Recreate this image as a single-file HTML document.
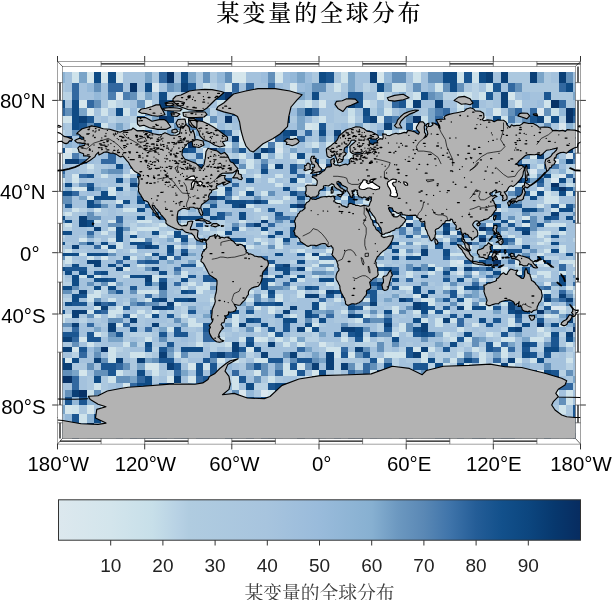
<!DOCTYPE html>
<html><head><meta charset="utf-8"><style>
html,body{margin:0;padding:0;background:#fff;width:612px;height:600px;overflow:hidden}
svg{display:block}
.ax{font-family:"Liberation Sans", Arial, Helvetica, sans-serif;font-size:20.4px;fill:#000}
.cb{font-family:"Liberation Sans", Arial, Helvetica, sans-serif;font-size:19px;fill:#222}
.t1{font-family:"Liberation Serif", "Noto Serif CJK SC", serif;font-size:23px;font-weight:500;letter-spacing:2.85px;fill:#000}
.t2{font-family:"Liberation Serif", "Noto Serif CJK SC", serif;font-size:18.75px;fill:#3a3a3a}
</style></head><body>
<svg width="612" height="600" viewBox="0 0 612 600">
<defs>
<clipPath id="ci"><rect x="62.4" y="66.4" width="513" height="372"/></clipPath>
<clipPath id="co"><rect x="57.5" y="61.3" width="523.1" height="382.8"/></clipPath>
<linearGradient id="cbg" x1="0" x2="1" y1="0" y2="0"><stop offset="0.000" stop-color="#dce8ee"/><stop offset="0.100" stop-color="#d3e5ec"/><stop offset="0.180" stop-color="#c7dfe9"/><stop offset="0.230" stop-color="#b7d1e4"/><stop offset="0.250" stop-color="#b0cce0"/><stop offset="0.400" stop-color="#a7c4de"/><stop offset="0.500" stop-color="#99bbdb"/><stop offset="0.600" stop-color="#87b0d1"/><stop offset="0.650" stop-color="#6c98c0"/><stop offset="0.700" stop-color="#5a88b5"/><stop offset="0.750" stop-color="#3f74aa"/><stop offset="0.800" stop-color="#245d97"/><stop offset="0.850" stop-color="#12508b"/><stop offset="0.900" stop-color="#0c467f"/><stop offset="0.950" stop-color="#07386e"/><stop offset="1.000" stop-color="#072c60"/></linearGradient>
</defs>
<text x="320" y="20.9" text-anchor="middle" class="t1">某变量的全球分布</text>
<g clip-path="url(#ci)" shape-rendering="crispEdges"><path fill="#dae7ee" d="M151.9,82.6H159.2V91.8H151.9ZM115.6,91.8H122.9V100.4H115.6ZM173.7,108.4H181V115.9H173.7ZM268.2,108.4H275.4V115.9H268.2ZM536.9,108.4H544.2V115.9H536.9ZM181,115.9H188.2V122.9H181ZM478.8,115.9H486.1V122.9H478.8ZM151.9,122.9H159.2V129.6H151.9ZM413.4,122.9H420.7V129.6H413.4ZM442.5,122.9H449.8V129.6H442.5ZM558.7,122.9H566V129.6H558.7ZM86.6,129.6H93.8V135.9H86.6ZM449.8,129.6H457V135.9H449.8ZM493.3,129.6H500.6V135.9H493.3ZM239.1,135.9H246.4V142H239.1ZM268.2,135.9H275.4V142H268.2ZM377.1,135.9H384.4V142H377.1ZM406.2,135.9H413.4V142H406.2ZM551.4,135.9H558.7V142H551.4ZM108.3,142H115.6V147.7H108.3ZM64.8,147.7H72V153.2H64.8ZM86.6,147.7H93.8V153.2H86.6ZM130.1,147.7H137.4V153.2H130.1ZM202.8,147.7H210V153.2H202.8ZM275.4,147.7H282.7V153.2H275.4ZM348.1,147.7H355.3V153.2H348.1ZM478.8,147.7H486.1V153.2H478.8ZM522.4,147.7H529.7V153.2H522.4ZM173.7,153.2H181V158.6H173.7ZM398.9,153.2H406.2V158.6H398.9ZM566,153.2H573.2V158.6H566ZM435.2,158.6H442.5V163.7H435.2ZM486.1,158.6H493.3V163.7H486.1ZM551.4,158.6H558.7V163.7H551.4ZM188.2,163.7H195.5V168.6H188.2ZM319,163.7H326.3V168.6H319ZM340.8,163.7H348.1V168.6H340.8ZM130.1,168.6H137.4V173.5H130.1ZM369.8,168.6H377.1V173.5H369.8ZM529.7,168.6H536.9V173.5H529.7ZM420.7,173.5H428V178.1H420.7ZM558.7,173.5H566V178.1H558.7ZM151.9,178.1H159.2V182.7H151.9ZM195.5,178.1H202.8V182.7H195.5ZM326.3,178.1H333.5V182.7H326.3ZM340.8,178.1H348.1V182.7H340.8ZM551.4,178.1H558.7V182.7H551.4ZM188.2,182.7H195.5V187.1H188.2ZM210,182.7H217.3V187.1H210ZM304.5,182.7H311.7V187.1H304.5ZM348.1,182.7H355.3V187.1H348.1ZM522.4,182.7H529.7V187.1H522.4ZM159.2,187.1H166.5V191.4H159.2ZM486.1,187.1H493.3V191.4H486.1ZM507.9,187.1H515.1V191.4H507.9ZM536.9,187.1H544.2V191.4H536.9ZM159.2,195.6H166.5V199.8H159.2ZM420.7,199.8H428V203.9H420.7ZM442.5,199.8H449.8V203.9H442.5ZM173.7,203.9H181V207.9H173.7ZM188.2,203.9H195.5V207.9H188.2ZM355.3,203.9H362.6V207.9H355.3ZM304.5,207.9H311.7V211.8H304.5ZM340.8,207.9H348.1V211.8H340.8ZM406.2,207.9H413.4V211.8H406.2ZM493.3,207.9H500.6V211.8H493.3ZM391.6,211.8H398.9V215.7H391.6ZM464.3,211.8H471.5V215.7H464.3ZM166.5,215.7H173.7V219.5H166.5ZM406.2,219.5H413.4V223.3H406.2ZM377.1,223.3H384.4V227.1H377.1ZM486.1,223.3H493.3V227.1H486.1ZM348.1,230.8H355.3V234.5H348.1ZM188.2,234.5H195.5V238.1H188.2ZM384.4,234.5H391.6V238.1H384.4ZM217.3,238.1H224.6V241.8H217.3ZM311.7,238.1H319V241.8H311.7ZM333.5,241.8H340.8V245.4H333.5ZM217.3,245.4H224.6V249.1H217.3ZM464.3,245.4H471.5V249.1H464.3ZM231.8,249.1H239.1V252.7H231.8ZM478.8,249.1H486.1V252.7H478.8ZM210,252.7H217.3V256.3H210ZM231.8,256.3H239.1V260H231.8ZM493.3,256.3H500.6V260H493.3ZM457,260H464.3V263.6H457ZM515.1,260H522.4V263.6H515.1ZM536.9,260H544.2V263.6H536.9ZM355.3,267.3H362.6V270.9H355.3ZM500.6,267.3H507.9V270.9H500.6ZM239.1,270.9H246.4V274.6H239.1ZM362.6,270.9H369.8V274.6H362.6ZM457,270.9H464.3V274.6H457ZM471.5,270.9H478.8V274.6H471.5ZM340.8,274.6H348.1V278.3H340.8ZM231.8,278.3H239.1V282.1H231.8ZM478.8,278.3H486.1V282.1H478.8ZM544.2,282.1H551.4V285.9H544.2ZM239.1,285.9H246.4V289.7H239.1ZM507.9,285.9H515.1V289.7H507.9ZM522.4,301.5H529.7V305.6H522.4ZM551.4,305.6H558.7V309.8H551.4ZM558.7,305.6H566V309.8H558.7ZM391.6,369.5H398.9V375.8H391.6ZM536.9,369.5H544.2V375.8H536.9ZM304.5,375.8H311.7V382.5H304.5ZM340.8,375.8H348.1V382.5H340.8ZM406.2,375.8H413.4V382.5H406.2ZM435.2,382.5H442.5V389.5H435.2ZM478.8,382.5H486.1V389.5H478.8ZM493.3,382.5H500.6V389.5H493.3ZM239.1,389.5H246.4V397H239.1ZM260.9,389.5H268.2V397H260.9ZM355.3,389.5H362.6V397H355.3ZM173.7,397H181V405H173.7ZM188.2,397H195.5V405H188.2ZM210,397H217.3V405H210ZM304.5,397H311.7V405H304.5ZM406.2,397H413.4V405H406.2ZM428,397H435.2V405H428ZM166.5,413.6H173.7V422.8H166.5ZM304.5,413.6H311.7V422.8H304.5ZM428,413.6H435.2V422.8H428ZM101.1,422.8H108.3V433H101.1ZM137.4,422.8H144.7V433H137.4ZM319,422.8H326.3V433H319ZM377.1,422.8H384.4V433H377.1ZM413.4,422.8H420.7V433H413.4ZM471.5,422.8H478.8V433H471.5ZM64.8,433H72V444.1H64.8ZM79.3,433H86.6V444.1H79.3Z"/><path fill="#d5e6ec" d="M86.6,72.4H93.8V82.6H86.6ZM101.1,72.4H108.3V82.6H101.1ZM115.6,72.4H122.9V82.6H115.6ZM231.8,72.4H239.1V82.6H231.8ZM239.1,72.4H246.4V82.6H239.1ZM275.4,72.4H282.7V82.6H275.4ZM377.1,72.4H384.4V82.6H377.1ZM224.6,82.6H231.8V91.8H224.6ZM289.9,82.6H297.2V91.8H289.9ZM202.8,91.8H210V100.4H202.8ZM377.1,91.8H384.4V100.4H377.1ZM507.9,91.8H515.1V100.4H507.9ZM79.3,100.4H86.6V108.4H79.3ZM144.7,100.4H151.9V108.4H144.7ZM224.6,100.4H231.8V108.4H224.6ZM319,100.4H326.3V108.4H319ZM515.1,100.4H522.4V108.4H515.1ZM86.6,108.4H93.8V115.9H86.6ZM246.4,108.4H253.6V115.9H246.4ZM493.3,108.4H500.6V115.9H493.3ZM275.4,115.9H282.7V122.9H275.4ZM377.1,115.9H384.4V122.9H377.1ZM137.4,122.9H144.7V129.6H137.4ZM195.5,122.9H202.8V129.6H195.5ZM260.9,122.9H268.2V129.6H260.9ZM304.5,122.9H311.7V129.6H304.5ZM522.4,122.9H529.7V129.6H522.4ZM398.9,129.6H406.2V135.9H398.9ZM500.6,135.9H507.9V142H500.6ZM566,135.9H573.2V142H566ZM398.9,142H406.2V147.7H398.9ZM464.3,142H471.5V147.7H464.3ZM144.7,147.7H151.9V153.2H144.7ZM166.5,147.7H173.7V153.2H166.5ZM57.5,153.2H64.8V158.6H57.5ZM529.7,153.2H536.9V158.6H529.7ZM137.4,158.6H144.7V163.7H137.4ZM151.9,158.6H159.2V163.7H151.9ZM493.3,158.6H500.6V163.7H493.3ZM210,163.7H217.3V168.6H210ZM457,163.7H464.3V168.6H457ZM173.7,168.6H181V173.5H173.7ZM391.6,168.6H398.9V173.5H391.6ZM72,173.5H79.3V178.1H72ZM217.3,173.5H224.6V178.1H217.3ZM457,173.5H464.3V178.1H457ZM486.1,173.5H493.3V178.1H486.1ZM428,178.1H435.2V182.7H428ZM500.6,178.1H507.9V182.7H500.6ZM406.2,182.7H413.4V187.1H406.2ZM457,182.7H464.3V187.1H457ZM72,187.1H79.3V191.4H72ZM79.3,187.1H86.6V191.4H79.3ZM108.3,187.1H115.6V191.4H108.3ZM377.1,187.1H384.4V191.4H377.1ZM384.4,187.1H391.6V191.4H384.4ZM435.2,187.1H442.5V191.4H435.2ZM166.5,191.4H173.7V195.6H166.5ZM326.3,191.4H333.5V195.6H326.3ZM86.6,195.6H93.8V199.8H86.6ZM231.8,195.6H239.1V199.8H231.8ZM115.6,199.8H122.9V203.9H115.6ZM319,199.8H326.3V203.9H319ZM369.8,199.8H377.1V203.9H369.8ZM398.9,199.8H406.2V203.9H398.9ZM311.7,203.9H319V207.9H311.7ZM464.3,203.9H471.5V207.9H464.3ZM471.5,203.9H478.8V207.9H471.5ZM326.3,211.8H333.5V215.7H326.3ZM369.8,215.7H377.1V219.5H369.8ZM428,215.7H435.2V219.5H428ZM522.4,215.7H529.7V219.5H522.4ZM108.3,219.5H115.6V223.3H108.3ZM442.5,219.5H449.8V223.3H442.5ZM464.3,219.5H471.5V223.3H464.3ZM507.9,219.5H515.1V223.3H507.9ZM355.3,223.3H362.6V227.1H355.3ZM398.9,223.3H406.2V227.1H398.9ZM522.4,223.3H529.7V227.1H522.4ZM333.5,227.1H340.8V230.8H333.5ZM362.6,230.8H369.8V234.5H362.6ZM449.8,230.8H457V234.5H449.8ZM471.5,230.8H478.8V234.5H471.5ZM435.2,234.5H442.5V238.1H435.2ZM79.3,238.1H86.6V241.8H79.3ZM137.4,238.1H144.7V241.8H137.4ZM319,238.1H326.3V241.8H319ZM202.8,245.4H210V249.1H202.8ZM326.3,249.1H333.5V252.7H326.3ZM144.7,252.7H151.9V256.3H144.7ZM486.1,252.7H493.3V256.3H486.1ZM101.1,256.3H108.3V260H101.1ZM166.5,256.3H173.7V260H166.5ZM340.8,256.3H348.1V260H340.8ZM362.6,260H369.8V263.6H362.6ZM268.2,263.6H275.4V267.3H268.2ZM573.2,263.6H580.5V267.3H573.2ZM122.9,267.3H130.1V270.9H122.9ZM210,267.3H217.3V270.9H210ZM515.1,270.9H522.4V274.6H515.1ZM224.6,278.3H231.8V282.1H224.6ZM362.6,278.3H369.8V282.1H362.6ZM507.9,282.1H515.1V285.9H507.9ZM406.2,285.9H413.4V289.7H406.2ZM486.1,285.9H493.3V289.7H486.1ZM566,285.9H573.2V289.7H566ZM536.9,289.7H544.2V293.6H536.9ZM224.6,293.6H231.8V297.5H224.6ZM348.1,293.6H355.3V297.5H348.1ZM413.4,293.6H420.7V297.5H413.4ZM515.1,293.6H522.4V297.5H515.1ZM275.4,297.5H282.7V301.5H275.4ZM420.7,297.5H428V301.5H420.7ZM224.6,301.5H231.8V305.6H224.6ZM253.6,305.6H260.9V309.8H253.6ZM217.3,309.8H224.6V314H217.3ZM268.2,309.8H275.4V314H268.2ZM130.1,314H137.4V318.3H130.1ZM544.2,314H551.4V318.3H544.2ZM115.6,322.7H122.9V327.3H115.6ZM471.5,322.7H478.8V327.3H471.5ZM558.7,322.7H566V327.3H558.7ZM536.9,327.3H544.2V331.9H536.9ZM93.8,331.9H101.1V336.8H93.8ZM79.3,336.8H86.6V341.7H79.3ZM253.6,336.8H260.9V341.7H253.6ZM319,341.7H326.3V346.8H319ZM72,346.8H79.3V352.2H72ZM246.4,346.8H253.6V352.2H246.4ZM413.4,346.8H420.7V352.2H413.4ZM348.1,352.2H355.3V357.7H348.1ZM64.8,357.7H72V363.4H64.8ZM217.3,357.7H224.6V363.4H217.3ZM377.1,357.7H384.4V363.4H377.1ZM144.7,363.4H151.9V369.5H144.7ZM151.9,363.4H159.2V369.5H151.9ZM188.2,363.4H195.5V369.5H188.2ZM297.2,363.4H304.5V369.5H297.2ZM79.3,369.5H86.6V375.8H79.3ZM253.6,369.5H260.9V375.8H253.6ZM311.7,369.5H319V375.8H311.7ZM449.8,369.5H457V375.8H449.8ZM166.5,375.8H173.7V382.5H166.5ZM188.2,375.8H195.5V382.5H188.2ZM377.1,375.8H384.4V382.5H377.1ZM522.4,375.8H529.7V382.5H522.4ZM122.9,382.5H130.1V389.5H122.9ZM173.7,382.5H181V389.5H173.7ZM144.7,389.5H151.9V397H144.7ZM282.7,389.5H289.9V397H282.7ZM384.4,389.5H391.6V397H384.4ZM471.5,389.5H478.8V397H471.5ZM551.4,389.5H558.7V397H551.4ZM122.9,397H130.1V405H122.9ZM377.1,397H384.4V405H377.1ZM64.8,405H72V413.6H64.8ZM86.6,405H93.8V413.6H86.6ZM101.1,405H108.3V413.6H101.1ZM319,405H326.3V413.6H319ZM522.4,405H529.7V413.6H522.4ZM493.3,413.6H500.6V422.8H493.3ZM544.2,413.6H551.4V422.8H544.2ZM144.7,422.8H151.9V433H144.7ZM231.8,422.8H239.1V433H231.8ZM348.1,422.8H355.3V433H348.1ZM188.2,433H195.5V444.1H188.2ZM253.6,433H260.9V444.1H253.6ZM282.7,433H289.9V444.1H282.7ZM391.6,433H398.9V444.1H391.6ZM558.7,433H566V444.1H558.7Z"/><path fill="#cfe3eb" d="M72,72.4H79.3V82.6H72ZM340.8,72.4H348.1V82.6H340.8ZM413.4,72.4H420.7V82.6H413.4ZM457,72.4H464.3V82.6H457ZM471.5,72.4H478.8V82.6H471.5ZM202.8,82.6H210V91.8H202.8ZM333.5,82.6H340.8V91.8H333.5ZM391.6,82.6H398.9V91.8H391.6ZM398.9,82.6H406.2V91.8H398.9ZM435.2,82.6H442.5V91.8H435.2ZM486.1,82.6H493.3V91.8H486.1ZM413.4,91.8H420.7V100.4H413.4ZM457,91.8H464.3V100.4H457ZM464.3,91.8H471.5V100.4H464.3ZM478.8,91.8H486.1V100.4H478.8ZM108.3,100.4H115.6V108.4H108.3ZM304.5,100.4H311.7V108.4H304.5ZM362.6,100.4H369.8V108.4H362.6ZM406.2,100.4H413.4V108.4H406.2ZM457,100.4H464.3V108.4H457ZM544.2,100.4H551.4V108.4H544.2ZM101.1,108.4H108.3V115.9H101.1ZM122.9,108.4H130.1V115.9H122.9ZM384.4,108.4H391.6V115.9H384.4ZM57.5,115.9H64.8V122.9H57.5ZM64.8,115.9H72V122.9H64.8ZM202.8,115.9H210V122.9H202.8ZM239.1,115.9H246.4V122.9H239.1ZM319,115.9H326.3V122.9H319ZM348.1,115.9H355.3V122.9H348.1ZM500.6,115.9H507.9V122.9H500.6ZM544.2,115.9H551.4V122.9H544.2ZM101.1,122.9H108.3V129.6H101.1ZM210,122.9H217.3V129.6H210ZM311.7,122.9H319V129.6H311.7ZM173.7,129.6H181V135.9H173.7ZM239.1,129.6H246.4V135.9H239.1ZM384.4,129.6H391.6V135.9H384.4ZM435.2,129.6H442.5V135.9H435.2ZM551.4,129.6H558.7V135.9H551.4ZM86.6,135.9H93.8V142H86.6ZM181,135.9H188.2V142H181ZM289.9,135.9H297.2V142H289.9ZM558.7,135.9H566V142H558.7ZM224.6,142H231.8V147.7H224.6ZM239.1,142H246.4V147.7H239.1ZM275.4,142H282.7V147.7H275.4ZM311.7,142H319V147.7H311.7ZM326.3,142H333.5V147.7H326.3ZM406.2,142H413.4V147.7H406.2ZM442.5,142H449.8V147.7H442.5ZM435.2,147.7H442.5V153.2H435.2ZM493.3,147.7H500.6V153.2H493.3ZM64.8,153.2H72V158.6H64.8ZM202.8,153.2H210V158.6H202.8ZM239.1,153.2H246.4V158.6H239.1ZM289.9,153.2H297.2V158.6H289.9ZM348.1,153.2H355.3V158.6H348.1ZM57.5,158.6H64.8V163.7H57.5ZM246.4,158.6H253.6V163.7H246.4ZM297.2,158.6H304.5V163.7H297.2ZM398.9,158.6H406.2V163.7H398.9ZM413.4,158.6H420.7V163.7H413.4ZM457,158.6H464.3V163.7H457ZM86.6,163.7H93.8V168.6H86.6ZM246.4,163.7H253.6V168.6H246.4ZM268.2,163.7H275.4V168.6H268.2ZM362.6,163.7H369.8V168.6H362.6ZM181,168.6H188.2V173.5H181ZM239.1,168.6H246.4V173.5H239.1ZM304.5,168.6H311.7V173.5H304.5ZM362.6,168.6H369.8V173.5H362.6ZM101.1,173.5H108.3V178.1H101.1ZM122.9,173.5H130.1V178.1H122.9ZM253.6,173.5H260.9V178.1H253.6ZM275.4,173.5H282.7V178.1H275.4ZM57.5,178.1H64.8V182.7H57.5ZM72,178.1H79.3V182.7H72ZM268.2,178.1H275.4V182.7H268.2ZM297.2,178.1H304.5V182.7H297.2ZM311.7,178.1H319V182.7H311.7ZM391.6,178.1H398.9V182.7H391.6ZM442.5,178.1H449.8V182.7H442.5ZM144.7,182.7H151.9V187.1H144.7ZM275.4,182.7H282.7V187.1H275.4ZM377.1,182.7H384.4V187.1H377.1ZM210,187.1H217.3V191.4H210ZM217.3,187.1H224.6V191.4H217.3ZM246.4,187.1H253.6V191.4H246.4ZM297.2,187.1H304.5V191.4H297.2ZM478.8,187.1H486.1V191.4H478.8ZM108.3,191.4H115.6V195.6H108.3ZM181,191.4H188.2V195.6H181ZM217.3,191.4H224.6V195.6H217.3ZM239.1,191.4H246.4V195.6H239.1ZM260.9,191.4H268.2V195.6H260.9ZM529.7,191.4H536.9V195.6H529.7ZM544.2,191.4H551.4V195.6H544.2ZM566,191.4H573.2V195.6H566ZM282.7,195.6H289.9V199.8H282.7ZM340.8,195.6H348.1V199.8H340.8ZM398.9,195.6H406.2V199.8H398.9ZM435.2,195.6H442.5V199.8H435.2ZM544.2,195.6H551.4V199.8H544.2ZM551.4,195.6H558.7V199.8H551.4ZM195.5,199.8H202.8V203.9H195.5ZM268.2,199.8H275.4V203.9H268.2ZM275.4,199.8H282.7V203.9H275.4ZM333.5,199.8H340.8V203.9H333.5ZM362.6,199.8H369.8V203.9H362.6ZM544.2,199.8H551.4V203.9H544.2ZM551.4,199.8H558.7V203.9H551.4ZM166.5,203.9H173.7V207.9H166.5ZM246.4,203.9H253.6V207.9H246.4ZM486.1,203.9H493.3V207.9H486.1ZM536.9,203.9H544.2V207.9H536.9ZM558.7,203.9H566V207.9H558.7ZM72,207.9H79.3V211.8H72ZM93.8,207.9H101.1V211.8H93.8ZM122.9,207.9H130.1V211.8H122.9ZM130.1,207.9H137.4V211.8H130.1ZM253.6,207.9H260.9V211.8H253.6ZM289.9,207.9H297.2V211.8H289.9ZM442.5,207.9H449.8V211.8H442.5ZM457,207.9H464.3V211.8H457ZM471.5,207.9H478.8V211.8H471.5ZM551.4,207.9H558.7V211.8H551.4ZM64.8,211.8H72V215.7H64.8ZM471.5,211.8H478.8V215.7H471.5ZM260.9,215.7H268.2V219.5H260.9ZM355.3,215.7H362.6V219.5H355.3ZM398.9,215.7H406.2V219.5H398.9ZM93.8,219.5H101.1V223.3H93.8ZM137.4,219.5H144.7V223.3H137.4ZM144.7,219.5H151.9V223.3H144.7ZM239.1,219.5H246.4V223.3H239.1ZM304.5,219.5H311.7V223.3H304.5ZM377.1,219.5H384.4V223.3H377.1ZM435.2,219.5H442.5V223.3H435.2ZM64.8,223.3H72V227.1H64.8ZM159.2,223.3H166.5V227.1H159.2ZM181,223.3H188.2V227.1H181ZM319,223.3H326.3V227.1H319ZM544.2,223.3H551.4V227.1H544.2ZM551.4,223.3H558.7V227.1H551.4ZM558.7,223.3H566V227.1H558.7ZM108.3,227.1H115.6V230.8H108.3ZM137.4,227.1H144.7V230.8H137.4ZM144.7,227.1H151.9V230.8H144.7ZM151.9,227.1H159.2V230.8H151.9ZM202.8,227.1H210V230.8H202.8ZM239.1,227.1H246.4V230.8H239.1ZM101.1,230.8H108.3V234.5H101.1ZM130.1,230.8H137.4V234.5H130.1ZM166.5,230.8H173.7V234.5H166.5ZM217.3,230.8H224.6V234.5H217.3ZM260.9,230.8H268.2V234.5H260.9ZM420.7,230.8H428V234.5H420.7ZM536.9,230.8H544.2V234.5H536.9ZM544.2,230.8H551.4V234.5H544.2ZM558.7,230.8H566V234.5H558.7ZM159.2,234.5H166.5V238.1H159.2ZM507.9,234.5H515.1V238.1H507.9ZM536.9,234.5H544.2V238.1H536.9ZM108.3,238.1H115.6V241.8H108.3ZM130.1,238.1H137.4V241.8H130.1ZM173.7,238.1H181V241.8H173.7ZM253.6,238.1H260.9V241.8H253.6ZM275.4,238.1H282.7V241.8H275.4ZM442.5,238.1H449.8V241.8H442.5ZM515.1,238.1H522.4V241.8H515.1ZM544.2,238.1H551.4V241.8H544.2ZM115.6,241.8H122.9V245.4H115.6ZM231.8,241.8H239.1V245.4H231.8ZM239.1,241.8H246.4V245.4H239.1ZM260.9,241.8H268.2V245.4H260.9ZM275.4,241.8H282.7V245.4H275.4ZM355.3,241.8H362.6V245.4H355.3ZM398.9,241.8H406.2V245.4H398.9ZM413.4,241.8H420.7V245.4H413.4ZM486.1,241.8H493.3V245.4H486.1ZM515.1,241.8H522.4V245.4H515.1ZM536.9,241.8H544.2V245.4H536.9ZM101.1,245.4H108.3V249.1H101.1ZM115.6,245.4H122.9V249.1H115.6ZM173.7,245.4H181V249.1H173.7ZM188.2,245.4H195.5V249.1H188.2ZM246.4,245.4H253.6V249.1H246.4ZM275.4,245.4H282.7V249.1H275.4ZM355.3,245.4H362.6V249.1H355.3ZM457,245.4H464.3V249.1H457ZM493.3,245.4H500.6V249.1H493.3ZM558.7,245.4H566V249.1H558.7ZM64.8,249.1H72V252.7H64.8ZM108.3,249.1H115.6V252.7H108.3ZM130.1,249.1H137.4V252.7H130.1ZM217.3,249.1H224.6V252.7H217.3ZM297.2,249.1H304.5V252.7H297.2ZM398.9,249.1H406.2V252.7H398.9ZM544.2,249.1H551.4V252.7H544.2ZM558.7,249.1H566V252.7H558.7ZM79.3,252.7H86.6V256.3H79.3ZM224.6,252.7H231.8V256.3H224.6ZM304.5,252.7H311.7V256.3H304.5ZM319,252.7H326.3V256.3H319ZM377.1,252.7H384.4V256.3H377.1ZM398.9,252.7H406.2V256.3H398.9ZM413.4,252.7H420.7V256.3H413.4ZM449.8,252.7H457V256.3H449.8ZM457,252.7H464.3V256.3H457ZM478.8,252.7H486.1V256.3H478.8ZM493.3,252.7H500.6V256.3H493.3ZM536.9,252.7H544.2V256.3H536.9ZM64.8,256.3H72V260H64.8ZM86.6,256.3H93.8V260H86.6ZM130.1,256.3H137.4V260H130.1ZM304.5,256.3H311.7V260H304.5ZM311.7,256.3H319V260H311.7ZM64.8,260H72V263.6H64.8ZM195.5,260H202.8V263.6H195.5ZM253.6,260H260.9V263.6H253.6ZM319,260H326.3V263.6H319ZM326.3,260H333.5V263.6H326.3ZM340.8,260H348.1V263.6H340.8ZM449.8,260H457V263.6H449.8ZM558.7,260H566V263.6H558.7ZM566,260H573.2V263.6H566ZM573.2,260H580.5V263.6H573.2ZM137.4,263.6H144.7V267.3H137.4ZM195.5,263.6H202.8V267.3H195.5ZM311.7,263.6H319V267.3H311.7ZM355.3,263.6H362.6V267.3H355.3ZM377.1,263.6H384.4V267.3H377.1ZM428,263.6H435.2V267.3H428ZM449.8,263.6H457V267.3H449.8ZM544.2,263.6H551.4V267.3H544.2ZM304.5,267.3H311.7V270.9H304.5ZM326.3,267.3H333.5V270.9H326.3ZM435.2,267.3H442.5V270.9H435.2ZM181,270.9H188.2V274.6H181ZM217.3,270.9H224.6V274.6H217.3ZM377.1,270.9H384.4V274.6H377.1ZM406.2,270.9H413.4V274.6H406.2ZM428,270.9H435.2V274.6H428ZM500.6,270.9H507.9V274.6H500.6ZM536.9,270.9H544.2V274.6H536.9ZM544.2,270.9H551.4V274.6H544.2ZM558.7,270.9H566V274.6H558.7ZM79.3,274.6H86.6V278.3H79.3ZM93.8,274.6H101.1V278.3H93.8ZM122.9,274.6H130.1V278.3H122.9ZM151.9,274.6H159.2V278.3H151.9ZM181,274.6H188.2V278.3H181ZM253.6,274.6H260.9V278.3H253.6ZM268.2,274.6H275.4V278.3H268.2ZM289.9,274.6H297.2V278.3H289.9ZM311.7,274.6H319V278.3H311.7ZM377.1,274.6H384.4V278.3H377.1ZM406.2,274.6H413.4V278.3H406.2ZM529.7,274.6H536.9V278.3H529.7ZM544.2,274.6H551.4V278.3H544.2ZM151.9,278.3H159.2V282.1H151.9ZM297.2,278.3H304.5V282.1H297.2ZM108.3,282.1H115.6V285.9H108.3ZM188.2,282.1H195.5V285.9H188.2ZM202.8,282.1H210V285.9H202.8ZM268.2,282.1H275.4V285.9H268.2ZM326.3,282.1H333.5V285.9H326.3ZM181,285.9H188.2V289.7H181ZM195.5,285.9H202.8V289.7H195.5ZM202.8,285.9H210V289.7H202.8ZM289.9,285.9H297.2V289.7H289.9ZM398.9,285.9H406.2V289.7H398.9ZM442.5,285.9H449.8V289.7H442.5ZM457,285.9H464.3V289.7H457ZM529.7,285.9H536.9V289.7H529.7ZM93.8,289.7H101.1V293.6H93.8ZM137.4,289.7H144.7V293.6H137.4ZM144.7,289.7H151.9V293.6H144.7ZM151.9,289.7H159.2V293.6H151.9ZM195.5,289.7H202.8V293.6H195.5ZM231.8,289.7H239.1V293.6H231.8ZM246.4,289.7H253.6V293.6H246.4ZM297.2,289.7H304.5V293.6H297.2ZM319,289.7H326.3V293.6H319ZM457,289.7H464.3V293.6H457ZM573.2,289.7H580.5V293.6H573.2ZM86.6,293.6H93.8V297.5H86.6ZM93.8,293.6H101.1V297.5H93.8ZM260.9,293.6H268.2V297.5H260.9ZM275.4,293.6H282.7V297.5H275.4ZM297.2,293.6H304.5V297.5H297.2ZM86.6,297.5H93.8V301.5H86.6ZM108.3,297.5H115.6V301.5H108.3ZM144.7,297.5H151.9V301.5H144.7ZM210,297.5H217.3V301.5H210ZM246.4,297.5H253.6V301.5H246.4ZM333.5,297.5H340.8V301.5H333.5ZM362.6,297.5H369.8V301.5H362.6ZM428,297.5H435.2V301.5H428ZM464.3,297.5H471.5V301.5H464.3ZM493.3,297.5H500.6V301.5H493.3ZM173.7,301.5H181V305.6H173.7ZM319,301.5H326.3V305.6H319ZM428,301.5H435.2V305.6H428ZM464.3,301.5H471.5V305.6H464.3ZM478.8,301.5H486.1V305.6H478.8ZM529.7,301.5H536.9V305.6H529.7ZM544.2,301.5H551.4V305.6H544.2ZM93.8,305.6H101.1V309.8H93.8ZM115.6,305.6H122.9V309.8H115.6ZM268.2,305.6H275.4V309.8H268.2ZM319,305.6H326.3V309.8H319ZM362.6,305.6H369.8V309.8H362.6ZM391.6,305.6H398.9V309.8H391.6ZM464.3,305.6H471.5V309.8H464.3ZM486.1,305.6H493.3V309.8H486.1ZM573.2,305.6H580.5V309.8H573.2ZM86.6,309.8H93.8V314H86.6ZM108.3,309.8H115.6V314H108.3ZM115.6,309.8H122.9V314H115.6ZM137.4,309.8H144.7V314H137.4ZM151.9,309.8H159.2V314H151.9ZM340.8,309.8H348.1V314H340.8ZM391.6,309.8H398.9V314H391.6ZM413.4,309.8H420.7V314H413.4ZM428,309.8H435.2V314H428ZM442.5,309.8H449.8V314H442.5ZM57.5,314H64.8V318.3H57.5ZM64.8,314H72V318.3H64.8ZM93.8,314H101.1V318.3H93.8ZM108.3,314H115.6V318.3H108.3ZM144.7,314H151.9V318.3H144.7ZM181,314H188.2V318.3H181ZM231.8,314H239.1V318.3H231.8ZM289.9,314H297.2V318.3H289.9ZM362.6,314H369.8V318.3H362.6ZM377.1,314H384.4V318.3H377.1ZM573.2,314H580.5V318.3H573.2ZM57.5,318.3H64.8V322.7H57.5ZM188.2,318.3H195.5V322.7H188.2ZM231.8,318.3H239.1V322.7H231.8ZM355.3,318.3H362.6V322.7H355.3ZM420.7,318.3H428V322.7H420.7ZM435.2,318.3H442.5V322.7H435.2ZM449.8,318.3H457V322.7H449.8ZM507.9,318.3H515.1V322.7H507.9ZM188.2,322.7H195.5V327.3H188.2ZM195.5,322.7H202.8V327.3H195.5ZM231.8,322.7H239.1V327.3H231.8ZM311.7,322.7H319V327.3H311.7ZM398.9,322.7H406.2V327.3H398.9ZM435.2,322.7H442.5V327.3H435.2ZM507.9,322.7H515.1V327.3H507.9ZM166.5,327.3H173.7V331.9H166.5ZM253.6,327.3H260.9V331.9H253.6ZM304.5,327.3H311.7V331.9H304.5ZM398.9,327.3H406.2V331.9H398.9ZM457,327.3H464.3V331.9H457ZM268.2,331.9H275.4V336.8H268.2ZM391.6,331.9H398.9V336.8H391.6ZM442.5,331.9H449.8V336.8H442.5ZM486.1,331.9H493.3V336.8H486.1ZM544.2,331.9H551.4V336.8H544.2ZM144.7,336.8H151.9V341.7H144.7ZM217.3,336.8H224.6V341.7H217.3ZM239.1,336.8H246.4V341.7H239.1ZM260.9,336.8H268.2V341.7H260.9ZM275.4,336.8H282.7V341.7H275.4ZM289.9,336.8H297.2V341.7H289.9ZM340.8,336.8H348.1V341.7H340.8ZM362.6,336.8H369.8V341.7H362.6ZM449.8,336.8H457V341.7H449.8ZM464.3,336.8H471.5V341.7H464.3ZM500.6,336.8H507.9V341.7H500.6ZM507.9,336.8H515.1V341.7H507.9ZM529.7,336.8H536.9V341.7H529.7ZM536.9,336.8H544.2V341.7H536.9ZM86.6,341.7H93.8V346.8H86.6ZM122.9,341.7H130.1V346.8H122.9ZM195.5,341.7H202.8V346.8H195.5ZM224.6,341.7H231.8V346.8H224.6ZM282.7,341.7H289.9V346.8H282.7ZM297.2,341.7H304.5V346.8H297.2ZM493.3,341.7H500.6V346.8H493.3ZM566,341.7H573.2V346.8H566ZM108.3,346.8H115.6V352.2H108.3ZM326.3,346.8H333.5V352.2H326.3ZM333.5,346.8H340.8V352.2H333.5ZM428,346.8H435.2V352.2H428ZM471.5,346.8H478.8V352.2H471.5ZM500.6,346.8H507.9V352.2H500.6ZM108.3,352.2H115.6V357.7H108.3ZM130.1,352.2H137.4V357.7H130.1ZM137.4,352.2H144.7V357.7H137.4ZM173.7,352.2H181V357.7H173.7ZM333.5,352.2H340.8V357.7H333.5ZM384.4,352.2H391.6V357.7H384.4ZM391.6,352.2H398.9V357.7H391.6ZM398.9,352.2H406.2V357.7H398.9ZM420.7,352.2H428V357.7H420.7ZM457,352.2H464.3V357.7H457ZM478.8,352.2H486.1V357.7H478.8ZM500.6,352.2H507.9V357.7H500.6ZM108.3,357.7H115.6V363.4H108.3ZM231.8,357.7H239.1V363.4H231.8ZM253.6,357.7H260.9V363.4H253.6ZM260.9,357.7H268.2V363.4H260.9ZM420.7,357.7H428V363.4H420.7ZM449.8,357.7H457V363.4H449.8ZM478.8,357.7H486.1V363.4H478.8ZM515.1,357.7H522.4V363.4H515.1ZM529.7,357.7H536.9V363.4H529.7ZM566,357.7H573.2V363.4H566ZM202.8,363.4H210V369.5H202.8ZM282.7,363.4H289.9V369.5H282.7ZM442.5,363.4H449.8V369.5H442.5ZM464.3,363.4H471.5V369.5H464.3ZM478.8,363.4H486.1V369.5H478.8ZM493.3,363.4H500.6V369.5H493.3ZM507.9,363.4H515.1V369.5H507.9ZM115.6,369.5H122.9V375.8H115.6ZM151.9,369.5H159.2V375.8H151.9ZM282.7,369.5H289.9V375.8H282.7ZM289.9,369.5H297.2V375.8H289.9ZM369.8,369.5H377.1V375.8H369.8ZM406.2,369.5H413.4V375.8H406.2ZM108.3,375.8H115.6V382.5H108.3ZM231.8,375.8H239.1V382.5H231.8ZM268.2,375.8H275.4V382.5H268.2ZM93.8,382.5H101.1V389.5H93.8ZM217.3,382.5H224.6V389.5H217.3ZM231.8,382.5H239.1V389.5H231.8ZM333.5,382.5H340.8V389.5H333.5ZM384.4,382.5H391.6V389.5H384.4ZM486.1,382.5H493.3V389.5H486.1ZM507.9,382.5H515.1V389.5H507.9ZM122.9,389.5H130.1V397H122.9ZM268.2,389.5H275.4V397H268.2ZM369.8,389.5H377.1V397H369.8ZM493.3,389.5H500.6V397H493.3ZM566,389.5H573.2V397H566ZM166.5,397H173.7V405H166.5ZM289.9,397H297.2V405H289.9ZM449.8,397H457V405H449.8ZM515.1,397H522.4V405H515.1ZM566,397H573.2V405H566ZM72,405H79.3V413.6H72ZM246.4,405H253.6V413.6H246.4ZM340.8,405H348.1V413.6H340.8ZM420.7,405H428V413.6H420.7ZM457,405H464.3V413.6H457ZM558.7,405H566V413.6H558.7ZM79.3,413.6H86.6V422.8H79.3ZM217.3,413.6H224.6V422.8H217.3ZM246.4,413.6H253.6V422.8H246.4ZM442.5,413.6H449.8V422.8H442.5ZM64.8,422.8H72V433H64.8ZM151.9,422.8H159.2V433H151.9ZM253.6,422.8H260.9V433H253.6ZM457,422.8H464.3V433H457ZM478.8,422.8H486.1V433H478.8ZM449.8,433H457V444.1H449.8ZM529.7,433H536.9V444.1H529.7Z"/><path fill="#c8dfe9" d="M217.3,100.4H224.6V108.4H217.3ZM231.8,100.4H239.1V108.4H231.8ZM137.4,108.4H144.7V115.9H137.4ZM181,108.4H188.2V115.9H181ZM260.9,108.4H268.2V115.9H260.9ZM348.1,108.4H355.3V115.9H348.1ZM457,108.4H464.3V115.9H457ZM551.4,108.4H558.7V115.9H551.4ZM420.7,115.9H428V122.9H420.7ZM130.1,122.9H137.4V129.6H130.1ZM515.1,122.9H522.4V129.6H515.1ZM151.9,135.9H159.2V142H151.9ZM398.9,135.9H406.2V142H398.9ZM449.8,135.9H457V142H449.8ZM115.6,142H122.9V147.7H115.6ZM195.5,142H202.8V147.7H195.5ZM217.3,142H224.6V147.7H217.3ZM260.9,142H268.2V147.7H260.9ZM362.6,142H369.8V147.7H362.6ZM72,147.7H79.3V153.2H72ZM486.1,147.7H493.3V153.2H486.1ZM515.1,147.7H522.4V153.2H515.1ZM260.9,153.2H268.2V158.6H260.9ZM275.4,153.2H282.7V158.6H275.4ZM333.5,158.6H340.8V163.7H333.5ZM369.8,158.6H377.1V163.7H369.8ZM159.2,163.7H166.5V168.6H159.2ZM173.7,163.7H181V168.6H173.7ZM406.2,163.7H413.4V168.6H406.2ZM435.2,163.7H442.5V168.6H435.2ZM486.1,163.7H493.3V168.6H486.1ZM536.9,163.7H544.2V168.6H536.9ZM188.2,168.6H195.5V173.5H188.2ZM566,168.6H573.2V173.5H566ZM210,173.5H217.3V178.1H210ZM319,173.5H326.3V178.1H319ZM355.3,173.5H362.6V178.1H355.3ZM529.7,173.5H536.9V178.1H529.7ZM551.4,173.5H558.7V178.1H551.4ZM406.2,178.1H413.4V182.7H406.2ZM457,178.1H464.3V182.7H457ZM471.5,178.1H478.8V182.7H471.5ZM507.9,178.1H515.1V182.7H507.9ZM326.3,182.7H333.5V187.1H326.3ZM442.5,182.7H449.8V187.1H442.5ZM507.9,182.7H515.1V187.1H507.9ZM515.1,182.7H522.4V187.1H515.1ZM566,182.7H573.2V187.1H566ZM449.8,187.1H457V191.4H449.8ZM355.3,191.4H362.6V195.6H355.3ZM304.5,199.8H311.7V203.9H304.5ZM457,203.9H464.3V207.9H457ZM319,211.8H326.3V215.7H319ZM413.4,215.7H420.7V219.5H413.4ZM449.8,219.5H457V223.3H449.8ZM340.8,223.3H348.1V227.1H340.8ZM420.7,227.1H428V230.8H420.7ZM384.4,230.8H391.6V234.5H384.4ZM478.8,230.8H486.1V234.5H478.8ZM297.2,234.5H304.5V238.1H297.2ZM355.3,234.5H362.6V238.1H355.3ZM377.1,234.5H384.4V238.1H377.1ZM413.4,234.5H420.7V238.1H413.4ZM333.5,238.1H340.8V241.8H333.5ZM362.6,241.8H369.8V245.4H362.6ZM231.8,252.7H239.1V256.3H231.8ZM529.7,260H536.9V263.6H529.7ZM362.6,263.6H369.8V267.3H362.6ZM457,263.6H464.3V267.3H457ZM471.5,263.6H478.8V267.3H471.5ZM515.1,263.6H522.4V267.3H515.1ZM253.6,267.3H260.9V270.9H253.6ZM573.2,270.9H580.5V274.6H573.2ZM355.3,282.1H362.6V285.9H355.3ZM493.3,282.1H500.6V285.9H493.3ZM493.3,285.9H500.6V289.7H493.3ZM348.1,289.7H355.3V293.6H348.1ZM544.2,289.7H551.4V293.6H544.2ZM500.6,301.5H507.9V305.6H500.6ZM558.7,309.8H566V314H558.7ZM217.3,314H224.6V318.3H217.3ZM551.4,314H558.7V318.3H551.4ZM428,369.5H435.2V375.8H428ZM369.8,375.8H377.1V382.5H369.8ZM529.7,382.5H536.9V389.5H529.7ZM86.6,389.5H93.8V397H86.6ZM210,389.5H217.3V397H210ZM195.5,397H202.8V405H195.5ZM536.9,397H544.2V405H536.9ZM144.7,405H151.9V413.6H144.7ZM398.9,405H406.2V413.6H398.9ZM435.2,405H442.5V413.6H435.2ZM210,413.6H217.3V422.8H210ZM333.5,413.6H340.8V422.8H333.5ZM340.8,413.6H348.1V422.8H340.8ZM384.4,413.6H391.6V422.8H384.4ZM202.8,422.8H210V433H202.8ZM122.9,433H130.1V444.1H122.9ZM362.6,433H369.8V444.1H362.6ZM413.4,433H420.7V444.1H413.4ZM522.4,433H529.7V444.1H522.4ZM536.9,433H544.2V444.1H536.9Z"/><path fill="#b9d2e4" d="M210,82.6H217.3V91.8H210ZM362.6,82.6H369.8V91.8H362.6ZM471.5,82.6H478.8V91.8H471.5ZM57.5,91.8H64.8V100.4H57.5ZM64.8,91.8H72V100.4H64.8ZM137.4,91.8H144.7V100.4H137.4ZM166.5,91.8H173.7V100.4H166.5ZM173.7,91.8H181V100.4H173.7ZM195.5,91.8H202.8V100.4H195.5ZM384.4,91.8H391.6V100.4H384.4ZM406.2,91.8H413.4V100.4H406.2ZM442.5,91.8H449.8V100.4H442.5ZM449.8,91.8H457V100.4H449.8ZM471.5,91.8H478.8V100.4H471.5ZM115.6,100.4H122.9V108.4H115.6ZM202.8,100.4H210V108.4H202.8ZM253.6,100.4H260.9V108.4H253.6ZM289.9,100.4H297.2V108.4H289.9ZM297.2,100.4H304.5V108.4H297.2ZM369.8,100.4H377.1V108.4H369.8ZM384.4,100.4H391.6V108.4H384.4ZM210,108.4H217.3V115.9H210ZM471.5,108.4H478.8V115.9H471.5ZM108.3,115.9H115.6V122.9H108.3ZM130.1,115.9H137.4V122.9H130.1ZM311.7,115.9H319V122.9H311.7ZM558.7,115.9H566V122.9H558.7ZM144.7,122.9H151.9V129.6H144.7ZM362.6,122.9H369.8V129.6H362.6ZM486.1,122.9H493.3V129.6H486.1ZM57.5,129.6H64.8V135.9H57.5ZM210,129.6H217.3V135.9H210ZM231.8,129.6H239.1V135.9H231.8ZM253.6,129.6H260.9V135.9H253.6ZM268.2,129.6H275.4V135.9H268.2ZM348.1,129.6H355.3V135.9H348.1ZM464.3,129.6H471.5V135.9H464.3ZM515.1,129.6H522.4V135.9H515.1ZM348.1,135.9H355.3V142H348.1ZM130.1,142H137.4V147.7H130.1ZM181,142H188.2V147.7H181ZM210,142H217.3V147.7H210ZM289.9,142H297.2V147.7H289.9ZM304.5,142H311.7V147.7H304.5ZM420.7,142H428V147.7H420.7ZM544.2,142H551.4V147.7H544.2ZM428,147.7H435.2V153.2H428ZM224.6,153.2H231.8V158.6H224.6ZM304.5,153.2H311.7V158.6H304.5ZM340.8,153.2H348.1V158.6H340.8ZM493.3,153.2H500.6V158.6H493.3ZM130.1,158.6H137.4V163.7H130.1ZM319,158.6H326.3V163.7H319ZM522.4,158.6H529.7V163.7H522.4ZM304.5,163.7H311.7V168.6H304.5ZM391.6,163.7H398.9V168.6H391.6ZM566,163.7H573.2V168.6H566ZM573.2,163.7H580.5V168.6H573.2ZM86.6,168.6H93.8V173.5H86.6ZM151.9,173.5H159.2V178.1H151.9ZM231.8,173.5H239.1V178.1H231.8ZM377.1,173.5H384.4V178.1H377.1ZM159.2,178.1H166.5V182.7H159.2ZM333.5,178.1H340.8V182.7H333.5ZM435.2,178.1H442.5V182.7H435.2ZM122.9,182.7H130.1V187.1H122.9ZM202.8,182.7H210V187.1H202.8ZM398.9,182.7H406.2V187.1H398.9ZM420.7,182.7H428V187.1H420.7ZM122.9,187.1H130.1V191.4H122.9ZM398.9,187.1H406.2V191.4H398.9ZM333.5,191.4H340.8V195.6H333.5ZM420.7,191.4H428V195.6H420.7ZM457,191.4H464.3V195.6H457ZM551.4,191.4H558.7V195.6H551.4ZM144.7,195.6H151.9V199.8H144.7ZM406.2,199.8H413.4V203.9H406.2ZM377.1,203.9H384.4V207.9H377.1ZM79.3,207.9H86.6V211.8H79.3ZM181,207.9H188.2V211.8H181ZM420.7,207.9H428V211.8H420.7ZM500.6,207.9H507.9V211.8H500.6ZM57.5,211.8H64.8V215.7H57.5ZM181,211.8H188.2V215.7H181ZM297.2,215.7H304.5V219.5H297.2ZM362.6,215.7H369.8V219.5H362.6ZM391.6,215.7H398.9V219.5H391.6ZM486.1,215.7H493.3V219.5H486.1ZM188.2,219.5H195.5V223.3H188.2ZM217.3,219.5H224.6V223.3H217.3ZM471.5,219.5H478.8V223.3H471.5ZM57.5,223.3H64.8V227.1H57.5ZM130.1,223.3H137.4V227.1H130.1ZM151.9,223.3H159.2V227.1H151.9ZM210,223.3H217.3V227.1H210ZM217.3,223.3H224.6V227.1H217.3ZM384.4,223.3H391.6V227.1H384.4ZM57.5,227.1H64.8V230.8H57.5ZM64.8,227.1H72V230.8H64.8ZM130.1,227.1H137.4V230.8H130.1ZM217.3,227.1H224.6V230.8H217.3ZM297.2,227.1H304.5V230.8H297.2ZM406.2,227.1H413.4V230.8H406.2ZM159.2,230.8H166.5V234.5H159.2ZM210,230.8H217.3V234.5H210ZM500.6,230.8H507.9V234.5H500.6ZM57.5,234.5H64.8V238.1H57.5ZM195.5,234.5H202.8V238.1H195.5ZM217.3,234.5H224.6V238.1H217.3ZM93.8,238.1H101.1V241.8H93.8ZM202.8,238.1H210V241.8H202.8ZM260.9,238.1H268.2V241.8H260.9ZM297.2,238.1H304.5V241.8H297.2ZM420.7,238.1H428V241.8H420.7ZM471.5,238.1H478.8V241.8H471.5ZM573.2,238.1H580.5V241.8H573.2ZM151.9,241.8H159.2V245.4H151.9ZM420.7,241.8H428V245.4H420.7ZM428,241.8H435.2V245.4H428ZM544.2,241.8H551.4V245.4H544.2ZM304.5,245.4H311.7V249.1H304.5ZM428,245.4H435.2V249.1H428ZM500.6,245.4H507.9V249.1H500.6ZM57.5,249.1H64.8V252.7H57.5ZM289.9,249.1H297.2V252.7H289.9ZM377.1,249.1H384.4V252.7H377.1ZM464.3,252.7H471.5V256.3H464.3ZM369.8,256.3H377.1V260H369.8ZM544.2,256.3H551.4V260H544.2ZM551.4,256.3H558.7V260H551.4ZM57.5,260H64.8V263.6H57.5ZM202.8,260H210V263.6H202.8ZM231.8,260H239.1V263.6H231.8ZM289.9,260H297.2V263.6H289.9ZM333.5,260H340.8V263.6H333.5ZM57.5,263.6H64.8V267.3H57.5ZM246.4,263.6H253.6V267.3H246.4ZM333.5,263.6H340.8V267.3H333.5ZM536.9,263.6H544.2V267.3H536.9ZM202.8,267.3H210V270.9H202.8ZM246.4,267.3H253.6V270.9H246.4ZM457,267.3H464.3V270.9H457ZM449.8,270.9H457V274.6H449.8ZM57.5,274.6H64.8V278.3H57.5ZM159.2,274.6H166.5V278.3H159.2ZM166.5,274.6H173.7V278.3H166.5ZM217.3,274.6H224.6V278.3H217.3ZM246.4,274.6H253.6V278.3H246.4ZM471.5,274.6H478.8V278.3H471.5ZM57.5,278.3H64.8V282.1H57.5ZM333.5,278.3H340.8V282.1H333.5ZM464.3,278.3H471.5V282.1H464.3ZM493.3,278.3H500.6V282.1H493.3ZM57.5,282.1H64.8V285.9H57.5ZM64.8,282.1H72V285.9H64.8ZM333.5,282.1H340.8V285.9H333.5ZM442.5,282.1H449.8V285.9H442.5ZM515.1,282.1H522.4V285.9H515.1ZM101.1,285.9H108.3V289.7H101.1ZM333.5,285.9H340.8V289.7H333.5ZM101.1,289.7H108.3V293.6H101.1ZM260.9,289.7H268.2V293.6H260.9ZM406.2,289.7H413.4V293.6H406.2ZM210,293.6H217.3V297.5H210ZM573.2,293.6H580.5V297.5H573.2ZM57.5,297.5H64.8V301.5H57.5ZM64.8,297.5H72V301.5H64.8ZM122.9,301.5H130.1V305.6H122.9ZM210,301.5H217.3V305.6H210ZM457,301.5H464.3V305.6H457ZM181,305.6H188.2V309.8H181ZM224.6,305.6H231.8V309.8H224.6ZM275.4,305.6H282.7V309.8H275.4ZM166.5,309.8H173.7V314H166.5ZM181,309.8H188.2V314H181ZM246.4,314H253.6V318.3H246.4ZM413.4,314H420.7V318.3H413.4ZM79.3,318.3H86.6V322.7H79.3ZM217.3,318.3H224.6V322.7H217.3ZM311.7,318.3H319V322.7H311.7ZM348.1,318.3H355.3V322.7H348.1ZM377.1,322.7H384.4V327.3H377.1ZM231.8,327.3H239.1V331.9H231.8ZM377.1,327.3H384.4V331.9H377.1ZM391.6,327.3H398.9V331.9H391.6ZM500.6,327.3H507.9V331.9H500.6ZM101.1,331.9H108.3V336.8H101.1ZM130.1,331.9H137.4V336.8H130.1ZM137.4,331.9H144.7V336.8H137.4ZM144.7,331.9H151.9V336.8H144.7ZM195.5,331.9H202.8V336.8H195.5ZM217.3,331.9H224.6V336.8H217.3ZM311.7,331.9H319V336.8H311.7ZM340.8,331.9H348.1V336.8H340.8ZM362.6,331.9H369.8V336.8H362.6ZM406.2,331.9H413.4V336.8H406.2ZM449.8,331.9H457V336.8H449.8ZM493.3,331.9H500.6V336.8H493.3ZM536.9,331.9H544.2V336.8H536.9ZM558.7,331.9H566V336.8H558.7ZM195.5,336.8H202.8V341.7H195.5ZM304.5,336.8H311.7V341.7H304.5ZM311.7,336.8H319V341.7H311.7ZM377.1,336.8H384.4V341.7H377.1ZM442.5,336.8H449.8V341.7H442.5ZM137.4,341.7H144.7V346.8H137.4ZM210,341.7H217.3V346.8H210ZM217.3,341.7H224.6V346.8H217.3ZM326.3,341.7H333.5V346.8H326.3ZM355.3,341.7H362.6V346.8H355.3ZM362.6,341.7H369.8V346.8H362.6ZM369.8,341.7H377.1V346.8H369.8ZM464.3,341.7H471.5V346.8H464.3ZM536.9,341.7H544.2V346.8H536.9ZM115.6,346.8H122.9V352.2H115.6ZM151.9,346.8H159.2V352.2H151.9ZM210,346.8H217.3V352.2H210ZM398.9,346.8H406.2V352.2H398.9ZM457,346.8H464.3V352.2H457ZM478.8,346.8H486.1V352.2H478.8ZM536.9,346.8H544.2V352.2H536.9ZM573.2,346.8H580.5V352.2H573.2ZM72,352.2H79.3V357.7H72ZM144.7,352.2H151.9V357.7H144.7ZM246.4,352.2H253.6V357.7H246.4ZM435.2,352.2H442.5V357.7H435.2ZM442.5,352.2H449.8V357.7H442.5ZM566,352.2H573.2V357.7H566ZM181,357.7H188.2V363.4H181ZM239.1,357.7H246.4V363.4H239.1ZM333.5,357.7H340.8V363.4H333.5ZM391.6,357.7H398.9V363.4H391.6ZM435.2,357.7H442.5V363.4H435.2ZM217.3,363.4H224.6V369.5H217.3ZM333.5,363.4H340.8V369.5H333.5ZM355.3,363.4H362.6V369.5H355.3ZM391.6,363.4H398.9V369.5H391.6ZM428,363.4H435.2V369.5H428ZM449.8,363.4H457V369.5H449.8ZM566,363.4H573.2V369.5H566ZM166.5,369.5H173.7V375.8H166.5ZM333.5,369.5H340.8V375.8H333.5ZM457,369.5H464.3V375.8H457ZM558.7,369.5H566V375.8H558.7ZM217.3,375.8H224.6V382.5H217.3ZM224.6,375.8H231.8V382.5H224.6ZM297.2,375.8H304.5V382.5H297.2ZM398.9,375.8H406.2V382.5H398.9ZM449.8,375.8H457V382.5H449.8ZM529.7,375.8H536.9V382.5H529.7ZM253.6,382.5H260.9V389.5H253.6ZM260.9,382.5H268.2V389.5H260.9ZM471.5,382.5H478.8V389.5H471.5ZM573.2,382.5H580.5V389.5H573.2ZM101.1,389.5H108.3V397H101.1ZM333.5,389.5H340.8V397H333.5ZM159.2,397H166.5V405H159.2ZM202.8,397H210V405H202.8ZM457,397H464.3V405H457ZM486.1,397H493.3V405H486.1ZM544.2,397H551.4V405H544.2ZM311.7,405H319V413.6H311.7ZM348.1,405H355.3V413.6H348.1ZM442.5,405H449.8V413.6H442.5ZM500.6,405H507.9V413.6H500.6ZM173.7,413.6H181V422.8H173.7ZM188.2,413.6H195.5V422.8H188.2ZM297.2,413.6H304.5V422.8H297.2ZM471.5,413.6H478.8V422.8H471.5ZM500.6,413.6H507.9V422.8H500.6ZM558.7,413.6H566V422.8H558.7ZM130.1,422.8H137.4V433H130.1ZM282.7,422.8H289.9V433H282.7ZM297.2,422.8H304.5V433H297.2ZM369.8,422.8H377.1V433H369.8ZM500.6,422.8H507.9V433H500.6ZM515.1,422.8H522.4V433H515.1ZM57.5,433H64.8V444.1H57.5ZM108.3,433H115.6V444.1H108.3ZM217.3,433H224.6V444.1H217.3Z"/><path fill="#aecbe0" d="M239.1,91.8H246.4V100.4H239.1ZM275.4,91.8H282.7V100.4H275.4ZM122.9,100.4H130.1V108.4H122.9ZM369.8,108.4H377.1V115.9H369.8ZM478.8,108.4H486.1V115.9H478.8ZM449.8,115.9H457V122.9H449.8ZM224.6,122.9H231.8V129.6H224.6ZM428,122.9H435.2V129.6H428ZM573.2,122.9H580.5V129.6H573.2ZM93.8,129.6H101.1V135.9H93.8ZM159.2,129.6H166.5V135.9H159.2ZM420.7,129.6H428V135.9H420.7ZM253.6,135.9H260.9V142H253.6ZM326.3,135.9H333.5V142H326.3ZM515.1,135.9H522.4V142H515.1ZM348.1,142H355.3V147.7H348.1ZM108.3,147.7H115.6V153.2H108.3ZM151.9,147.7H159.2V153.2H151.9ZM246.4,147.7H253.6V153.2H246.4ZM471.5,147.7H478.8V153.2H471.5ZM231.8,153.2H239.1V158.6H231.8ZM500.6,153.2H507.9V158.6H500.6ZM122.9,158.6H130.1V163.7H122.9ZM195.5,158.6H202.8V163.7H195.5ZM406.2,158.6H413.4V163.7H406.2ZM442.5,158.6H449.8V163.7H442.5ZM529.7,158.6H536.9V163.7H529.7ZM202.8,168.6H210V173.5H202.8ZM210,168.6H217.3V173.5H210ZM449.8,168.6H457V173.5H449.8ZM522.4,168.6H529.7V173.5H522.4ZM181,173.5H188.2V178.1H181ZM137.4,178.1H144.7V182.7H137.4ZM398.9,178.1H406.2V182.7H398.9ZM493.3,178.1H500.6V182.7H493.3ZM544.2,178.1H551.4V182.7H544.2ZM566,178.1H573.2V182.7H566ZM311.7,182.7H319V187.1H311.7ZM428,182.7H435.2V187.1H428ZM544.2,182.7H551.4V187.1H544.2ZM573.2,182.7H580.5V187.1H573.2ZM137.4,187.1H144.7V191.4H137.4ZM173.7,187.1H181V191.4H173.7ZM369.8,187.1H377.1V191.4H369.8ZM159.2,191.4H166.5V195.6H159.2ZM348.1,191.4H355.3V195.6H348.1ZM493.3,191.4H500.6V195.6H493.3ZM181,195.6H188.2V199.8H181ZM391.6,195.6H398.9V199.8H391.6ZM478.8,199.8H486.1V203.9H478.8ZM493.3,199.8H500.6V203.9H493.3ZM202.8,203.9H210V207.9H202.8ZM348.1,203.9H355.3V207.9H348.1ZM420.7,203.9H428V207.9H420.7ZM442.5,203.9H449.8V207.9H442.5ZM369.8,207.9H377.1V211.8H369.8ZM340.8,211.8H348.1V215.7H340.8ZM442.5,211.8H449.8V215.7H442.5ZM457,211.8H464.3V215.7H457ZM362.6,223.3H369.8V227.1H362.6ZM391.6,223.3H398.9V227.1H391.6ZM326.3,227.1H333.5V230.8H326.3ZM435.2,227.1H442.5V230.8H435.2ZM348.1,234.5H355.3V238.1H348.1ZM391.6,234.5H398.9V238.1H391.6ZM464.3,238.1H471.5V241.8H464.3ZM217.3,241.8H224.6V245.4H217.3ZM326.3,241.8H333.5V245.4H326.3ZM377.1,241.8H384.4V245.4H377.1ZM239.1,249.1H246.4V252.7H239.1ZM471.5,249.1H478.8V252.7H471.5ZM333.5,252.7H340.8V256.3H333.5ZM471.5,256.3H478.8V260H471.5ZM348.1,260H355.3V263.6H348.1ZM210,263.6H217.3V267.3H210ZM486.1,263.6H493.3V267.3H486.1ZM515.1,267.3H522.4V270.9H515.1ZM348.1,274.6H355.3V278.3H348.1ZM457,274.6H464.3V278.3H457ZM384.4,278.3H391.6V282.1H384.4ZM340.8,285.9H348.1V289.7H340.8ZM551.4,285.9H558.7V289.7H551.4ZM515.1,289.7H522.4V293.6H515.1ZM536.9,297.5H544.2V301.5H536.9ZM566,305.6H573.2V309.8H566ZM544.2,327.3H551.4V331.9H544.2ZM486.1,363.4H493.3V369.5H486.1ZM181,382.5H188.2V389.5H181ZM355.3,382.5H362.6V389.5H355.3ZM406.2,382.5H413.4V389.5H406.2ZM536.9,382.5H544.2V389.5H536.9ZM137.4,397H144.7V405H137.4ZM239.1,397H246.4V405H239.1ZM493.3,397H500.6V405H493.3ZM333.5,405H340.8V413.6H333.5ZM151.9,413.6H159.2V422.8H151.9ZM253.6,413.6H260.9V422.8H253.6ZM348.1,413.6H355.3V422.8H348.1ZM413.4,413.6H420.7V422.8H413.4ZM181,422.8H188.2V433H181ZM391.6,422.8H398.9V433H391.6ZM435.2,422.8H442.5V433H435.2ZM551.4,422.8H558.7V433H551.4ZM93.8,433H101.1V444.1H93.8ZM101.1,433H108.3V444.1H101.1ZM464.3,433H471.5V444.1H464.3Z"/><path fill="#acc8df" d="M151.9,72.4H159.2V82.6H151.9ZM195.5,72.4H202.8V82.6H195.5ZM210,72.4H217.3V82.6H210ZM311.7,72.4H319V82.6H311.7ZM333.5,72.4H340.8V82.6H333.5ZM507.9,72.4H515.1V82.6H507.9ZM515.1,72.4H522.4V82.6H515.1ZM522.4,72.4H529.7V82.6H522.4ZM544.2,72.4H551.4V82.6H544.2ZM57.5,82.6H64.8V91.8H57.5ZM195.5,82.6H202.8V91.8H195.5ZM326.3,82.6H333.5V91.8H326.3ZM340.8,82.6H348.1V91.8H340.8ZM369.8,82.6H377.1V91.8H369.8ZM406.2,82.6H413.4V91.8H406.2ZM464.3,82.6H471.5V91.8H464.3ZM522.4,82.6H529.7V91.8H522.4ZM529.7,82.6H536.9V91.8H529.7ZM536.9,82.6H544.2V91.8H536.9ZM544.2,82.6H551.4V91.8H544.2ZM551.4,82.6H558.7V91.8H551.4ZM319,91.8H326.3V100.4H319ZM326.3,91.8H333.5V100.4H326.3ZM333.5,91.8H340.8V100.4H333.5ZM551.4,91.8H558.7V100.4H551.4ZM558.7,91.8H566V100.4H558.7ZM566,91.8H573.2V100.4H566ZM101.1,100.4H108.3V108.4H101.1ZM151.9,100.4H159.2V108.4H151.9ZM311.7,100.4H319V108.4H311.7ZM486.1,100.4H493.3V108.4H486.1ZM507.9,100.4H515.1V108.4H507.9ZM566,100.4H573.2V108.4H566ZM333.5,108.4H340.8V115.9H333.5ZM420.7,108.4H428V115.9H420.7ZM93.8,115.9H101.1V122.9H93.8ZM115.6,115.9H122.9V122.9H115.6ZM122.9,115.9H130.1V122.9H122.9ZM144.7,115.9H151.9V122.9H144.7ZM289.9,115.9H297.2V122.9H289.9ZM333.5,115.9H340.8V122.9H333.5ZM340.8,115.9H348.1V122.9H340.8ZM355.3,115.9H362.6V122.9H355.3ZM486.1,115.9H493.3V122.9H486.1ZM64.8,122.9H72V129.6H64.8ZM166.5,122.9H173.7V129.6H166.5ZM326.3,122.9H333.5V129.6H326.3ZM348.1,122.9H355.3V129.6H348.1ZM369.8,122.9H377.1V129.6H369.8ZM471.5,122.9H478.8V129.6H471.5ZM551.4,122.9H558.7V129.6H551.4ZM64.8,129.6H72V135.9H64.8ZM115.6,129.6H122.9V135.9H115.6ZM188.2,129.6H195.5V135.9H188.2ZM311.7,129.6H319V135.9H311.7ZM340.8,129.6H348.1V135.9H340.8ZM391.6,129.6H398.9V135.9H391.6ZM500.6,129.6H507.9V135.9H500.6ZM195.5,135.9H202.8V142H195.5ZM311.7,135.9H319V142H311.7ZM384.4,135.9H391.6V142H384.4ZM457,135.9H464.3V142H457ZM57.5,142H64.8V147.7H57.5ZM122.9,142H130.1V147.7H122.9ZM493.3,142H500.6V147.7H493.3ZM573.2,142H580.5V147.7H573.2ZM93.8,147.7H101.1V153.2H93.8ZM282.7,147.7H289.9V153.2H282.7ZM362.6,147.7H369.8V153.2H362.6ZM544.2,147.7H551.4V153.2H544.2ZM144.7,153.2H151.9V158.6H144.7ZM449.8,153.2H457V158.6H449.8ZM457,153.2H464.3V158.6H457ZM115.6,158.6H122.9V163.7H115.6ZM166.5,158.6H173.7V163.7H166.5ZM253.6,158.6H260.9V163.7H253.6ZM268.2,158.6H275.4V163.7H268.2ZM289.9,158.6H297.2V163.7H289.9ZM362.6,158.6H369.8V163.7H362.6ZM478.8,158.6H486.1V163.7H478.8ZM544.2,158.6H551.4V163.7H544.2ZM72,163.7H79.3V168.6H72ZM79.3,163.7H86.6V168.6H79.3ZM93.8,163.7H101.1V168.6H93.8ZM101.1,163.7H108.3V168.6H101.1ZM144.7,163.7H151.9V168.6H144.7ZM224.6,163.7H231.8V168.6H224.6ZM493.3,163.7H500.6V168.6H493.3ZM79.3,168.6H86.6V173.5H79.3ZM93.8,168.6H101.1V173.5H93.8ZM217.3,168.6H224.6V173.5H217.3ZM231.8,168.6H239.1V173.5H231.8ZM253.6,168.6H260.9V173.5H253.6ZM311.7,168.6H319V173.5H311.7ZM348.1,168.6H355.3V173.5H348.1ZM377.1,168.6H384.4V173.5H377.1ZM413.4,168.6H420.7V173.5H413.4ZM420.7,168.6H428V173.5H420.7ZM471.5,168.6H478.8V173.5H471.5ZM478.8,168.6H486.1V173.5H478.8ZM551.4,168.6H558.7V173.5H551.4ZM93.8,173.5H101.1V178.1H93.8ZM246.4,173.5H253.6V178.1H246.4ZM86.6,178.1H93.8V182.7H86.6ZM239.1,178.1H246.4V182.7H239.1ZM253.6,178.1H260.9V182.7H253.6ZM282.7,178.1H289.9V182.7H282.7ZM101.1,182.7H108.3V187.1H101.1ZM115.6,182.7H122.9V187.1H115.6ZM239.1,182.7H246.4V187.1H239.1ZM289.9,182.7H297.2V187.1H289.9ZM297.2,182.7H304.5V187.1H297.2ZM435.2,182.7H442.5V187.1H435.2ZM486.1,182.7H493.3V187.1H486.1ZM529.7,182.7H536.9V187.1H529.7ZM57.5,187.1H64.8V191.4H57.5ZM188.2,187.1H195.5V191.4H188.2ZM239.1,187.1H246.4V191.4H239.1ZM355.3,187.1H362.6V191.4H355.3ZM122.9,191.4H130.1V195.6H122.9ZM268.2,195.6H275.4V199.8H268.2ZM442.5,195.6H449.8V199.8H442.5ZM101.1,199.8H108.3V203.9H101.1ZM108.3,199.8H115.6V203.9H108.3ZM282.7,199.8H289.9V203.9H282.7ZM311.7,199.8H319V203.9H311.7ZM464.3,199.8H471.5V203.9H464.3ZM536.9,199.8H544.2V203.9H536.9ZM130.1,203.9H137.4V207.9H130.1ZM151.9,203.9H159.2V207.9H151.9ZM304.5,203.9H311.7V207.9H304.5ZM319,203.9H326.3V207.9H319ZM500.6,203.9H507.9V207.9H500.6ZM101.1,207.9H108.3V211.8H101.1ZM115.6,207.9H122.9V211.8H115.6ZM195.5,207.9H202.8V211.8H195.5ZM217.3,207.9H224.6V211.8H217.3ZM224.6,207.9H231.8V211.8H224.6ZM72,211.8H79.3V215.7H72ZM93.8,211.8H101.1V215.7H93.8ZM101.1,211.8H108.3V215.7H101.1ZM115.6,211.8H122.9V215.7H115.6ZM122.9,211.8H130.1V215.7H122.9ZM130.1,211.8H137.4V215.7H130.1ZM137.4,211.8H144.7V215.7H137.4ZM173.7,211.8H181V215.7H173.7ZM253.6,211.8H260.9V215.7H253.6ZM260.9,211.8H268.2V215.7H260.9ZM304.5,211.8H311.7V215.7H304.5ZM515.1,211.8H522.4V215.7H515.1ZM544.2,211.8H551.4V215.7H544.2ZM72,215.7H79.3V219.5H72ZM144.7,215.7H151.9V219.5H144.7ZM253.6,215.7H260.9V219.5H253.6ZM319,215.7H326.3V219.5H319ZM515.1,215.7H522.4V219.5H515.1ZM122.9,219.5H130.1V223.3H122.9ZM130.1,219.5H137.4V223.3H130.1ZM151.9,219.5H159.2V223.3H151.9ZM181,219.5H188.2V223.3H181ZM246.4,219.5H253.6V223.3H246.4ZM311.7,219.5H319V223.3H311.7ZM348.1,219.5H355.3V223.3H348.1ZM355.3,219.5H362.6V223.3H355.3ZM391.6,219.5H398.9V223.3H391.6ZM93.8,223.3H101.1V227.1H93.8ZM122.9,223.3H130.1V227.1H122.9ZM144.7,223.3H151.9V227.1H144.7ZM188.2,223.3H195.5V227.1H188.2ZM224.6,223.3H231.8V227.1H224.6ZM282.7,223.3H289.9V227.1H282.7ZM304.5,223.3H311.7V227.1H304.5ZM457,223.3H464.3V227.1H457ZM471.5,223.3H478.8V227.1H471.5ZM86.6,227.1H93.8V230.8H86.6ZM159.2,227.1H166.5V230.8H159.2ZM253.6,227.1H260.9V230.8H253.6ZM275.4,227.1H282.7V230.8H275.4ZM457,227.1H464.3V230.8H457ZM544.2,227.1H551.4V230.8H544.2ZM551.4,227.1H558.7V230.8H551.4ZM122.9,230.8H130.1V234.5H122.9ZM144.7,230.8H151.9V234.5H144.7ZM181,230.8H188.2V234.5H181ZM202.8,230.8H210V234.5H202.8ZM246.4,230.8H253.6V234.5H246.4ZM253.6,230.8H260.9V234.5H253.6ZM319,230.8H326.3V234.5H319ZM406.2,230.8H413.4V234.5H406.2ZM428,230.8H435.2V234.5H428ZM551.4,230.8H558.7V234.5H551.4ZM79.3,234.5H86.6V238.1H79.3ZM108.3,234.5H115.6V238.1H108.3ZM144.7,234.5H151.9V238.1H144.7ZM210,234.5H217.3V238.1H210ZM253.6,234.5H260.9V238.1H253.6ZM362.6,234.5H369.8V238.1H362.6ZM529.7,234.5H536.9V238.1H529.7ZM57.5,238.1H64.8V241.8H57.5ZM151.9,238.1H159.2V241.8H151.9ZM188.2,238.1H195.5V241.8H188.2ZM304.5,238.1H311.7V241.8H304.5ZM369.8,238.1H377.1V241.8H369.8ZM413.4,238.1H420.7V241.8H413.4ZM536.9,238.1H544.2V241.8H536.9ZM558.7,238.1H566V241.8H558.7ZM64.8,241.8H72V245.4H64.8ZM166.5,241.8H173.7V245.4H166.5ZM311.7,241.8H319V245.4H311.7ZM319,241.8H326.3V245.4H319ZM340.8,241.8H348.1V245.4H340.8ZM529.7,241.8H536.9V245.4H529.7ZM57.5,245.4H64.8V249.1H57.5ZM159.2,245.4H166.5V249.1H159.2ZM253.6,245.4H260.9V249.1H253.6ZM260.9,245.4H268.2V249.1H260.9ZM413.4,245.4H420.7V249.1H413.4ZM544.2,245.4H551.4V249.1H544.2ZM79.3,249.1H86.6V252.7H79.3ZM122.9,249.1H130.1V252.7H122.9ZM159.2,249.1H166.5V252.7H159.2ZM260.9,249.1H268.2V252.7H260.9ZM275.4,249.1H282.7V252.7H275.4ZM304.5,249.1H311.7V252.7H304.5ZM384.4,249.1H391.6V252.7H384.4ZM457,249.1H464.3V252.7H457ZM536.9,249.1H544.2V252.7H536.9ZM137.4,252.7H144.7V256.3H137.4ZM202.8,252.7H210V256.3H202.8ZM406.2,252.7H413.4V256.3H406.2ZM500.6,252.7H507.9V256.3H500.6ZM115.6,256.3H122.9V260H115.6ZM188.2,256.3H195.5V260H188.2ZM210,256.3H217.3V260H210ZM529.7,256.3H536.9V260H529.7ZM566,256.3H573.2V260H566ZM72,260H79.3V263.6H72ZM181,260H188.2V263.6H181ZM304.5,260H311.7V263.6H304.5ZM377.1,260H384.4V263.6H377.1ZM384.4,260H391.6V263.6H384.4ZM398.9,260H406.2V263.6H398.9ZM86.6,263.6H93.8V267.3H86.6ZM144.7,263.6H151.9V267.3H144.7ZM151.9,263.6H159.2V267.3H151.9ZM166.5,263.6H173.7V267.3H166.5ZM253.6,263.6H260.9V267.3H253.6ZM304.5,263.6H311.7V267.3H304.5ZM340.8,263.6H348.1V267.3H340.8ZM391.6,263.6H398.9V267.3H391.6ZM500.6,263.6H507.9V267.3H500.6ZM86.6,267.3H93.8V270.9H86.6ZM108.3,267.3H115.6V270.9H108.3ZM137.4,267.3H144.7V270.9H137.4ZM166.5,267.3H173.7V270.9H166.5ZM348.1,267.3H355.3V270.9H348.1ZM551.4,267.3H558.7V270.9H551.4ZM108.3,270.9H115.6V274.6H108.3ZM115.6,270.9H122.9V274.6H115.6ZM144.7,270.9H151.9V274.6H144.7ZM166.5,270.9H173.7V274.6H166.5ZM195.5,270.9H202.8V274.6H195.5ZM413.4,270.9H420.7V274.6H413.4ZM108.3,274.6H115.6V278.3H108.3ZM115.6,274.6H122.9V278.3H115.6ZM173.7,274.6H181V278.3H173.7ZM231.8,274.6H239.1V278.3H231.8ZM304.5,274.6H311.7V278.3H304.5ZM319,274.6H326.3V278.3H319ZM369.8,274.6H377.1V278.3H369.8ZM398.9,274.6H406.2V278.3H398.9ZM64.8,278.3H72V282.1H64.8ZM115.6,278.3H122.9V282.1H115.6ZM173.7,278.3H181V282.1H173.7ZM188.2,278.3H195.5V282.1H188.2ZM413.4,278.3H420.7V282.1H413.4ZM544.2,278.3H551.4V282.1H544.2ZM181,282.1H188.2V285.9H181ZM253.6,282.1H260.9V285.9H253.6ZM289.9,282.1H297.2V285.9H289.9ZM311.7,282.1H319V285.9H311.7ZM362.6,282.1H369.8V285.9H362.6ZM398.9,282.1H406.2V285.9H398.9ZM428,282.1H435.2V285.9H428ZM86.6,285.9H93.8V289.7H86.6ZM122.9,285.9H130.1V289.7H122.9ZM151.9,285.9H159.2V289.7H151.9ZM224.6,285.9H231.8V289.7H224.6ZM253.6,285.9H260.9V289.7H253.6ZM319,285.9H326.3V289.7H319ZM435.2,285.9H442.5V289.7H435.2ZM573.2,285.9H580.5V289.7H573.2ZM72,289.7H79.3V293.6H72ZM86.6,289.7H93.8V293.6H86.6ZM173.7,289.7H181V293.6H173.7ZM202.8,289.7H210V293.6H202.8ZM275.4,289.7H282.7V293.6H275.4ZM311.7,289.7H319V293.6H311.7ZM340.8,289.7H348.1V293.6H340.8ZM377.1,289.7H384.4V293.6H377.1ZM391.6,289.7H398.9V293.6H391.6ZM435.2,289.7H442.5V293.6H435.2ZM478.8,289.7H486.1V293.6H478.8ZM500.6,289.7H507.9V293.6H500.6ZM57.5,293.6H64.8V297.5H57.5ZM64.8,293.6H72V297.5H64.8ZM101.1,293.6H108.3V297.5H101.1ZM137.4,293.6H144.7V297.5H137.4ZM188.2,293.6H195.5V297.5H188.2ZM195.5,293.6H202.8V297.5H195.5ZM202.8,293.6H210V297.5H202.8ZM231.8,293.6H239.1V297.5H231.8ZM246.4,293.6H253.6V297.5H246.4ZM289.9,293.6H297.2V297.5H289.9ZM333.5,293.6H340.8V297.5H333.5ZM398.9,293.6H406.2V297.5H398.9ZM428,293.6H435.2V297.5H428ZM457,293.6H464.3V297.5H457ZM486.1,293.6H493.3V297.5H486.1ZM122.9,297.5H130.1V301.5H122.9ZM137.4,297.5H144.7V301.5H137.4ZM166.5,297.5H173.7V301.5H166.5ZM195.5,297.5H202.8V301.5H195.5ZM202.8,297.5H210V301.5H202.8ZM224.6,297.5H231.8V301.5H224.6ZM289.9,297.5H297.2V301.5H289.9ZM311.7,297.5H319V301.5H311.7ZM340.8,297.5H348.1V301.5H340.8ZM449.8,297.5H457V301.5H449.8ZM515.1,297.5H522.4V301.5H515.1ZM86.6,301.5H93.8V305.6H86.6ZM181,301.5H188.2V305.6H181ZM188.2,301.5H195.5V305.6H188.2ZM246.4,301.5H253.6V305.6H246.4ZM282.7,301.5H289.9V305.6H282.7ZM326.3,301.5H333.5V305.6H326.3ZM377.1,301.5H384.4V305.6H377.1ZM406.2,301.5H413.4V305.6H406.2ZM442.5,301.5H449.8V305.6H442.5ZM57.5,305.6H64.8V309.8H57.5ZM108.3,305.6H115.6V309.8H108.3ZM137.4,305.6H144.7V309.8H137.4ZM173.7,305.6H181V309.8H173.7ZM202.8,305.6H210V309.8H202.8ZM231.8,305.6H239.1V309.8H231.8ZM282.7,305.6H289.9V309.8H282.7ZM340.8,305.6H348.1V309.8H340.8ZM384.4,305.6H391.6V309.8H384.4ZM435.2,305.6H442.5V309.8H435.2ZM64.8,309.8H72V314H64.8ZM144.7,309.8H151.9V314H144.7ZM173.7,309.8H181V314H173.7ZM253.6,309.8H260.9V314H253.6ZM275.4,309.8H282.7V314H275.4ZM297.2,309.8H304.5V314H297.2ZM333.5,309.8H340.8V314H333.5ZM362.6,309.8H369.8V314H362.6ZM377.1,309.8H384.4V314H377.1ZM457,309.8H464.3V314H457ZM464.3,309.8H471.5V314H464.3ZM471.5,309.8H478.8V314H471.5ZM478.8,309.8H486.1V314H478.8ZM486.1,309.8H493.3V314H486.1ZM500.6,309.8H507.9V314H500.6ZM566,309.8H573.2V314H566ZM79.3,314H86.6V318.3H79.3ZM115.6,314H122.9V318.3H115.6ZM137.4,314H144.7V318.3H137.4ZM173.7,314H181V318.3H173.7ZM195.5,314H202.8V318.3H195.5ZM253.6,314H260.9V318.3H253.6ZM282.7,314H289.9V318.3H282.7ZM297.2,314H304.5V318.3H297.2ZM333.5,314H340.8V318.3H333.5ZM398.9,314H406.2V318.3H398.9ZM435.2,314H442.5V318.3H435.2ZM471.5,314H478.8V318.3H471.5ZM478.8,314H486.1V318.3H478.8ZM486.1,314H493.3V318.3H486.1ZM507.9,314H515.1V318.3H507.9ZM64.8,318.3H72V322.7H64.8ZM93.8,318.3H101.1V322.7H93.8ZM137.4,318.3H144.7V322.7H137.4ZM166.5,318.3H173.7V322.7H166.5ZM181,318.3H188.2V322.7H181ZM224.6,318.3H231.8V322.7H224.6ZM268.2,318.3H275.4V322.7H268.2ZM297.2,318.3H304.5V322.7H297.2ZM333.5,318.3H340.8V322.7H333.5ZM340.8,318.3H348.1V322.7H340.8ZM391.6,318.3H398.9V322.7H391.6ZM464.3,318.3H471.5V322.7H464.3ZM471.5,318.3H478.8V322.7H471.5ZM522.4,318.3H529.7V322.7H522.4ZM551.4,318.3H558.7V322.7H551.4ZM101.1,322.7H108.3V327.3H101.1ZM137.4,322.7H144.7V327.3H137.4ZM159.2,322.7H166.5V327.3H159.2ZM268.2,322.7H275.4V327.3H268.2ZM319,322.7H326.3V327.3H319ZM355.3,322.7H362.6V327.3H355.3ZM449.8,322.7H457V327.3H449.8ZM478.8,322.7H486.1V327.3H478.8ZM188.2,327.3H195.5V331.9H188.2ZM464.3,327.3H471.5V331.9H464.3ZM478.8,327.3H486.1V331.9H478.8ZM122.9,331.9H130.1V336.8H122.9ZM151.9,331.9H159.2V336.8H151.9ZM224.6,331.9H231.8V336.8H224.6ZM239.1,331.9H246.4V336.8H239.1ZM253.6,331.9H260.9V336.8H253.6ZM289.9,331.9H297.2V336.8H289.9ZM297.2,331.9H304.5V336.8H297.2ZM304.5,331.9H311.7V336.8H304.5ZM471.5,331.9H478.8V336.8H471.5ZM122.9,336.8H130.1V341.7H122.9ZM137.4,336.8H144.7V341.7H137.4ZM166.5,336.8H173.7V341.7H166.5ZM282.7,336.8H289.9V341.7H282.7ZM384.4,336.8H391.6V341.7H384.4ZM493.3,336.8H500.6V341.7H493.3ZM558.7,336.8H566V341.7H558.7ZM57.5,341.7H64.8V346.8H57.5ZM64.8,341.7H72V346.8H64.8ZM93.8,341.7H101.1V346.8H93.8ZM151.9,341.7H159.2V346.8H151.9ZM188.2,341.7H195.5V346.8H188.2ZM202.8,341.7H210V346.8H202.8ZM260.9,341.7H268.2V346.8H260.9ZM333.5,341.7H340.8V346.8H333.5ZM340.8,341.7H348.1V346.8H340.8ZM348.1,341.7H355.3V346.8H348.1ZM384.4,341.7H391.6V346.8H384.4ZM406.2,341.7H413.4V346.8H406.2ZM420.7,341.7H428V346.8H420.7ZM428,341.7H435.2V346.8H428ZM457,341.7H464.3V346.8H457ZM478.8,341.7H486.1V346.8H478.8ZM558.7,341.7H566V346.8H558.7ZM122.9,346.8H130.1V352.2H122.9ZM224.6,346.8H231.8V352.2H224.6ZM319,346.8H326.3V352.2H319ZM384.4,346.8H391.6V352.2H384.4ZM449.8,346.8H457V352.2H449.8ZM529.7,346.8H536.9V352.2H529.7ZM115.6,352.2H122.9V357.7H115.6ZM122.9,352.2H130.1V357.7H122.9ZM151.9,352.2H159.2V357.7H151.9ZM188.2,352.2H195.5V357.7H188.2ZM195.5,352.2H202.8V357.7H195.5ZM297.2,352.2H304.5V357.7H297.2ZM369.8,352.2H377.1V357.7H369.8ZM449.8,352.2H457V357.7H449.8ZM486.1,352.2H493.3V357.7H486.1ZM515.1,352.2H522.4V357.7H515.1ZM551.4,352.2H558.7V357.7H551.4ZM130.1,357.7H137.4V363.4H130.1ZM340.8,357.7H348.1V363.4H340.8ZM348.1,357.7H355.3V363.4H348.1ZM355.3,357.7H362.6V363.4H355.3ZM406.2,357.7H413.4V363.4H406.2ZM413.4,357.7H420.7V363.4H413.4ZM500.6,357.7H507.9V363.4H500.6ZM72,363.4H79.3V369.5H72ZM79.3,363.4H86.6V369.5H79.3ZM130.1,363.4H137.4V369.5H130.1ZM239.1,363.4H246.4V369.5H239.1ZM515.1,363.4H522.4V369.5H515.1ZM122.9,369.5H130.1V375.8H122.9ZM159.2,369.5H166.5V375.8H159.2ZM246.4,369.5H253.6V375.8H246.4ZM326.3,369.5H333.5V375.8H326.3ZM507.9,369.5H515.1V375.8H507.9ZM86.6,375.8H93.8V382.5H86.6ZM101.1,375.8H108.3V382.5H101.1ZM151.9,375.8H159.2V382.5H151.9ZM260.9,375.8H268.2V382.5H260.9ZM275.4,375.8H282.7V382.5H275.4ZM428,375.8H435.2V382.5H428ZM566,375.8H573.2V382.5H566ZM86.6,382.5H93.8V389.5H86.6ZM101.1,382.5H108.3V389.5H101.1ZM522.4,382.5H529.7V389.5H522.4ZM159.2,389.5H166.5V397H159.2ZM253.6,389.5H260.9V397H253.6ZM304.5,389.5H311.7V397H304.5ZM413.4,389.5H420.7V397H413.4ZM420.7,389.5H428V397H420.7ZM428,389.5H435.2V397H428ZM529.7,389.5H536.9V397H529.7ZM57.5,397H64.8V405H57.5ZM217.3,397H224.6V405H217.3ZM282.7,397H289.9V405H282.7ZM398.9,397H406.2V405H398.9ZM79.3,405H86.6V413.6H79.3ZM108.3,405H115.6V413.6H108.3ZM181,405H188.2V413.6H181ZM260.9,405H268.2V413.6H260.9ZM369.8,405H377.1V413.6H369.8ZM471.5,405H478.8V413.6H471.5ZM551.4,405H558.7V413.6H551.4ZM566,405H573.2V413.6H566ZM311.7,413.6H319V422.8H311.7ZM319,413.6H326.3V422.8H319ZM457,413.6H464.3V422.8H457ZM566,413.6H573.2V422.8H566ZM239.1,433H246.4V444.1H239.1ZM275.4,433H282.7V444.1H275.4ZM326.3,433H333.5V444.1H326.3ZM551.4,433H558.7V444.1H551.4ZM566,433H573.2V444.1H566Z"/><path fill="#a8c5de" d="M246.4,91.8H253.6V100.4H246.4ZM173.7,100.4H181V108.4H173.7ZM151.9,108.4H159.2V115.9H151.9ZM188.2,108.4H195.5V115.9H188.2ZM500.6,108.4H507.9V115.9H500.6ZM268.2,122.9H275.4V129.6H268.2ZM507.9,122.9H515.1V129.6H507.9ZM536.9,122.9H544.2V129.6H536.9ZM406.2,129.6H413.4V135.9H406.2ZM72,135.9H79.3V142H72ZM413.4,135.9H420.7V142H413.4ZM93.8,142H101.1V147.7H93.8ZM246.4,142H253.6V147.7H246.4ZM333.5,142H340.8V147.7H333.5ZM391.6,142H398.9V147.7H391.6ZM435.2,142H442.5V147.7H435.2ZM159.2,147.7H166.5V153.2H159.2ZM195.5,147.7H202.8V153.2H195.5ZM464.3,147.7H471.5V153.2H464.3ZM86.6,153.2H93.8V158.6H86.6ZM115.6,153.2H122.9V158.6H115.6ZM188.2,153.2H195.5V158.6H188.2ZM326.3,153.2H333.5V158.6H326.3ZM377.1,153.2H384.4V158.6H377.1ZM413.4,153.2H420.7V158.6H413.4ZM544.2,153.2H551.4V158.6H544.2ZM558.7,153.2H566V158.6H558.7ZM428,158.6H435.2V163.7H428ZM326.3,168.6H333.5V173.5H326.3ZM384.4,168.6H391.6V173.5H384.4ZM130.1,173.5H137.4V178.1H130.1ZM522.4,173.5H529.7V178.1H522.4ZM369.8,182.7H377.1V187.1H369.8ZM195.5,187.1H202.8V191.4H195.5ZM544.2,187.1H551.4V191.4H544.2ZM319,191.4H326.3V195.6H319ZM449.8,191.4H457V195.6H449.8ZM464.3,195.6H471.5V199.8H464.3ZM486.1,199.8H493.3V203.9H486.1ZM333.5,203.9H340.8V207.9H333.5ZM384.4,203.9H391.6V207.9H384.4ZM413.4,203.9H420.7V207.9H413.4ZM398.9,207.9H406.2V211.8H398.9ZM355.3,211.8H362.6V215.7H355.3ZM406.2,211.8H413.4V215.7H406.2ZM478.8,211.8H486.1V215.7H478.8ZM464.3,215.7H471.5V219.5H464.3ZM493.3,219.5H500.6V223.3H493.3ZM173.7,223.3H181V227.1H173.7ZM340.8,234.5H348.1V238.1H340.8ZM428,234.5H435.2V238.1H428ZM486.1,234.5H493.3V238.1H486.1ZM348.1,245.4H355.3V249.1H348.1ZM377.1,245.4H384.4V249.1H377.1ZM471.5,245.4H478.8V249.1H471.5ZM210,249.1H217.3V252.7H210ZM217.3,252.7H224.6V256.3H217.3ZM246.4,252.7H253.6V256.3H246.4ZM515.1,252.7H522.4V256.3H515.1ZM355.3,256.3H362.6V260H355.3ZM500.6,256.3H507.9V260H500.6ZM369.8,260H377.1V263.6H369.8ZM522.4,263.6H529.7V267.3H522.4ZM231.8,267.3H239.1V270.9H231.8ZM362.6,267.3H369.8V270.9H362.6ZM486.1,270.9H493.3V274.6H486.1ZM384.4,274.6H391.6V278.3H384.4ZM500.6,282.1H507.9V285.9H500.6ZM522.4,289.7H529.7V293.6H522.4ZM493.3,293.6H500.6V297.5H493.3ZM551.4,293.6H558.7V297.5H551.4ZM529.7,297.5H536.9V301.5H529.7ZM231.8,301.5H239.1V305.6H231.8ZM558.7,301.5H566V305.6H558.7ZM536.9,305.6H544.2V309.8H536.9ZM573.2,318.3H580.5V322.7H573.2ZM566,327.3H573.2V331.9H566ZM435.2,369.5H442.5V375.8H435.2ZM493.3,369.5H500.6V375.8H493.3ZM457,375.8H464.3V382.5H457ZM391.6,382.5H398.9V389.5H391.6ZM57.5,389.5H64.8V397H57.5ZM188.2,389.5H195.5V397H188.2ZM224.6,389.5H231.8V397H224.6ZM391.6,389.5H398.9V397H391.6ZM297.2,397H304.5V405H297.2ZM362.6,397H369.8V405H362.6ZM478.8,397H486.1V405H478.8ZM93.8,405H101.1V413.6H93.8ZM115.6,405H122.9V413.6H115.6ZM130.1,405H137.4V413.6H130.1ZM173.7,405H181V413.6H173.7ZM449.8,405H457V413.6H449.8ZM57.5,413.6H64.8V422.8H57.5ZM101.1,413.6H108.3V422.8H101.1ZM130.1,413.6H137.4V422.8H130.1ZM181,413.6H188.2V422.8H181ZM202.8,413.6H210V422.8H202.8ZM529.7,413.6H536.9V422.8H529.7ZM159.2,422.8H166.5V433H159.2ZM268.2,422.8H275.4V433H268.2ZM340.8,422.8H348.1V433H340.8ZM398.9,422.8H406.2V433H398.9ZM406.2,422.8H413.4V433H406.2ZM289.9,433H297.2V444.1H289.9ZM486.1,433H493.3V444.1H486.1Z"/><path fill="#a4c2dd" d="M64.8,72.4H72V82.6H64.8ZM122.9,72.4H130.1V82.6H122.9ZM130.1,72.4H137.4V82.6H130.1ZM137.4,72.4H144.7V82.6H137.4ZM173.7,72.4H181V82.6H173.7ZM246.4,72.4H253.6V82.6H246.4ZM253.6,72.4H260.9V82.6H253.6ZM355.3,72.4H362.6V82.6H355.3ZM362.6,72.4H369.8V82.6H362.6ZM406.2,72.4H413.4V82.6H406.2ZM420.7,72.4H428V82.6H420.7ZM493.3,72.4H500.6V82.6H493.3ZM551.4,72.4H558.7V82.6H551.4ZM573.2,72.4H580.5V82.6H573.2ZM64.8,82.6H72V91.8H64.8ZM79.3,82.6H86.6V91.8H79.3ZM101.1,82.6H108.3V91.8H101.1ZM122.9,82.6H130.1V91.8H122.9ZM137.4,82.6H144.7V91.8H137.4ZM159.2,82.6H166.5V91.8H159.2ZM217.3,82.6H224.6V91.8H217.3ZM239.1,82.6H246.4V91.8H239.1ZM253.6,82.6H260.9V91.8H253.6ZM260.9,82.6H268.2V91.8H260.9ZM282.7,82.6H289.9V91.8H282.7ZM355.3,82.6H362.6V91.8H355.3ZM420.7,82.6H428V91.8H420.7ZM478.8,82.6H486.1V91.8H478.8ZM500.6,82.6H507.9V91.8H500.6ZM79.3,91.8H86.6V100.4H79.3ZM86.6,91.8H93.8V100.4H86.6ZM101.1,91.8H108.3V100.4H101.1ZM151.9,91.8H159.2V100.4H151.9ZM260.9,91.8H268.2V100.4H260.9ZM340.8,91.8H348.1V100.4H340.8ZM362.6,91.8H369.8V100.4H362.6ZM369.8,91.8H377.1V100.4H369.8ZM493.3,91.8H500.6V100.4H493.3ZM515.1,91.8H522.4V100.4H515.1ZM529.7,91.8H536.9V100.4H529.7ZM536.9,91.8H544.2V100.4H536.9ZM64.8,100.4H72V108.4H64.8ZM130.1,100.4H137.4V108.4H130.1ZM210,100.4H217.3V108.4H210ZM282.7,100.4H289.9V108.4H282.7ZM326.3,100.4H333.5V108.4H326.3ZM420.7,100.4H428V108.4H420.7ZM428,100.4H435.2V108.4H428ZM442.5,100.4H449.8V108.4H442.5ZM449.8,100.4H457V108.4H449.8ZM464.3,100.4H471.5V108.4H464.3ZM478.8,100.4H486.1V108.4H478.8ZM493.3,100.4H500.6V108.4H493.3ZM522.4,100.4H529.7V108.4H522.4ZM529.7,100.4H536.9V108.4H529.7ZM573.2,100.4H580.5V108.4H573.2ZM93.8,108.4H101.1V115.9H93.8ZM108.3,108.4H115.6V115.9H108.3ZM282.7,108.4H289.9V115.9H282.7ZM319,108.4H326.3V115.9H319ZM326.3,108.4H333.5V115.9H326.3ZM340.8,108.4H348.1V115.9H340.8ZM355.3,108.4H362.6V115.9H355.3ZM391.6,108.4H398.9V115.9H391.6ZM413.4,108.4H420.7V115.9H413.4ZM101.1,115.9H108.3V122.9H101.1ZM173.7,115.9H181V122.9H173.7ZM217.3,115.9H224.6V122.9H217.3ZM260.9,115.9H268.2V122.9H260.9ZM326.3,115.9H333.5V122.9H326.3ZM442.5,115.9H449.8V122.9H442.5ZM57.5,122.9H64.8V129.6H57.5ZM108.3,122.9H115.6V129.6H108.3ZM122.9,122.9H130.1V129.6H122.9ZM202.8,122.9H210V129.6H202.8ZM231.8,122.9H239.1V129.6H231.8ZM282.7,122.9H289.9V129.6H282.7ZM289.9,122.9H297.2V129.6H289.9ZM333.5,122.9H340.8V129.6H333.5ZM398.9,122.9H406.2V129.6H398.9ZM108.3,129.6H115.6V135.9H108.3ZM202.8,129.6H210V135.9H202.8ZM297.2,129.6H304.5V135.9H297.2ZM326.3,129.6H333.5V135.9H326.3ZM369.8,129.6H377.1V135.9H369.8ZM457,129.6H464.3V135.9H457ZM471.5,129.6H478.8V135.9H471.5ZM529.7,129.6H536.9V135.9H529.7ZM573.2,129.6H580.5V135.9H573.2ZM260.9,135.9H268.2V142H260.9ZM304.5,135.9H311.7V142H304.5ZM355.3,135.9H362.6V142H355.3ZM493.3,135.9H500.6V142H493.3ZM101.1,142H108.3V147.7H101.1ZM173.7,142H181V147.7H173.7ZM253.6,142H260.9V147.7H253.6ZM282.7,142H289.9V147.7H282.7ZM297.2,142H304.5V147.7H297.2ZM319,142H326.3V147.7H319ZM377.1,142H384.4V147.7H377.1ZM471.5,142H478.8V147.7H471.5ZM522.4,142H529.7V147.7H522.4ZM79.3,147.7H86.6V153.2H79.3ZM137.4,147.7H144.7V153.2H137.4ZM224.6,147.7H231.8V153.2H224.6ZM297.2,147.7H304.5V153.2H297.2ZM319,147.7H326.3V153.2H319ZM398.9,147.7H406.2V153.2H398.9ZM551.4,147.7H558.7V153.2H551.4ZM558.7,147.7H566V153.2H558.7ZM93.8,153.2H101.1V158.6H93.8ZM122.9,153.2H130.1V158.6H122.9ZM282.7,153.2H289.9V158.6H282.7ZM311.7,153.2H319V158.6H311.7ZM319,153.2H326.3V158.6H319ZM478.8,153.2H486.1V158.6H478.8ZM515.1,153.2H522.4V158.6H515.1ZM93.8,158.6H101.1V163.7H93.8ZM217.3,158.6H224.6V163.7H217.3ZM239.1,158.6H246.4V163.7H239.1ZM275.4,158.6H282.7V163.7H275.4ZM282.7,158.6H289.9V163.7H282.7ZM304.5,158.6H311.7V163.7H304.5ZM57.5,163.7H64.8V168.6H57.5ZM64.8,163.7H72V168.6H64.8ZM108.3,163.7H115.6V168.6H108.3ZM166.5,163.7H173.7V168.6H166.5ZM231.8,163.7H239.1V168.6H231.8ZM253.6,163.7H260.9V168.6H253.6ZM282.7,163.7H289.9V168.6H282.7ZM348.1,163.7H355.3V168.6H348.1ZM398.9,163.7H406.2V168.6H398.9ZM529.7,163.7H536.9V168.6H529.7ZM64.8,168.6H72V173.5H64.8ZM72,168.6H79.3V173.5H72ZM122.9,168.6H130.1V173.5H122.9ZM159.2,168.6H166.5V173.5H159.2ZM246.4,168.6H253.6V173.5H246.4ZM268.2,168.6H275.4V173.5H268.2ZM275.4,168.6H282.7V173.5H275.4ZM282.7,168.6H289.9V173.5H282.7ZM297.2,168.6H304.5V173.5H297.2ZM355.3,168.6H362.6V173.5H355.3ZM573.2,168.6H580.5V173.5H573.2ZM64.8,173.5H72V178.1H64.8ZM108.3,173.5H115.6V178.1H108.3ZM202.8,173.5H210V178.1H202.8ZM224.6,173.5H231.8V178.1H224.6ZM239.1,173.5H246.4V178.1H239.1ZM260.9,173.5H268.2V178.1H260.9ZM268.2,173.5H275.4V178.1H268.2ZM282.7,173.5H289.9V178.1H282.7ZM289.9,173.5H297.2V178.1H289.9ZM304.5,173.5H311.7V178.1H304.5ZM442.5,173.5H449.8V178.1H442.5ZM478.8,173.5H486.1V178.1H478.8ZM493.3,173.5H500.6V178.1H493.3ZM64.8,178.1H72V182.7H64.8ZM79.3,178.1H86.6V182.7H79.3ZM93.8,178.1H101.1V182.7H93.8ZM101.1,178.1H108.3V182.7H101.1ZM108.3,178.1H115.6V182.7H108.3ZM122.9,178.1H130.1V182.7H122.9ZM181,178.1H188.2V182.7H181ZM231.8,178.1H239.1V182.7H231.8ZM260.9,178.1H268.2V182.7H260.9ZM275.4,178.1H282.7V182.7H275.4ZM304.5,178.1H311.7V182.7H304.5ZM464.3,178.1H471.5V182.7H464.3ZM57.5,182.7H64.8V187.1H57.5ZM72,182.7H79.3V187.1H72ZM93.8,182.7H101.1V187.1H93.8ZM108.3,182.7H115.6V187.1H108.3ZM181,182.7H188.2V187.1H181ZM217.3,182.7H224.6V187.1H217.3ZM224.6,182.7H231.8V187.1H224.6ZM246.4,182.7H253.6V187.1H246.4ZM253.6,182.7H260.9V187.1H253.6ZM260.9,182.7H268.2V187.1H260.9ZM268.2,182.7H275.4V187.1H268.2ZM282.7,182.7H289.9V187.1H282.7ZM478.8,182.7H486.1V187.1H478.8ZM151.9,187.1H159.2V191.4H151.9ZM231.8,187.1H239.1V191.4H231.8ZM253.6,187.1H260.9V191.4H253.6ZM260.9,187.1H268.2V191.4H260.9ZM268.2,187.1H275.4V191.4H268.2ZM275.4,187.1H282.7V191.4H275.4ZM289.9,187.1H297.2V191.4H289.9ZM529.7,187.1H536.9V191.4H529.7ZM79.3,191.4H86.6V195.6H79.3ZM93.8,191.4H101.1V195.6H93.8ZM115.6,191.4H122.9V195.6H115.6ZM130.1,191.4H137.4V195.6H130.1ZM231.8,191.4H239.1V195.6H231.8ZM253.6,191.4H260.9V195.6H253.6ZM275.4,191.4H282.7V195.6H275.4ZM282.7,191.4H289.9V195.6H282.7ZM340.8,191.4H348.1V195.6H340.8ZM391.6,191.4H398.9V195.6H391.6ZM406.2,191.4H413.4V195.6H406.2ZM500.6,191.4H507.9V195.6H500.6ZM72,195.6H79.3V199.8H72ZM115.6,195.6H122.9V199.8H115.6ZM122.9,195.6H130.1V199.8H122.9ZM130.1,195.6H137.4V199.8H130.1ZM188.2,195.6H195.5V199.8H188.2ZM239.1,195.6H246.4V199.8H239.1ZM246.4,195.6H253.6V199.8H246.4ZM260.9,195.6H268.2V199.8H260.9ZM275.4,195.6H282.7V199.8H275.4ZM289.9,195.6H297.2V199.8H289.9ZM486.1,195.6H493.3V199.8H486.1ZM500.6,195.6H507.9V199.8H500.6ZM507.9,195.6H515.1V199.8H507.9ZM522.4,195.6H529.7V199.8H522.4ZM536.9,195.6H544.2V199.8H536.9ZM558.7,195.6H566V199.8H558.7ZM566,195.6H573.2V199.8H566ZM573.2,195.6H580.5V199.8H573.2ZM72,199.8H79.3V203.9H72ZM79.3,199.8H86.6V203.9H79.3ZM130.1,199.8H137.4V203.9H130.1ZM151.9,199.8H159.2V203.9H151.9ZM181,199.8H188.2V203.9H181ZM217.3,199.8H224.6V203.9H217.3ZM289.9,199.8H297.2V203.9H289.9ZM500.6,199.8H507.9V203.9H500.6ZM522.4,199.8H529.7V203.9H522.4ZM529.7,199.8H536.9V203.9H529.7ZM558.7,199.8H566V203.9H558.7ZM566,199.8H573.2V203.9H566ZM573.2,199.8H580.5V203.9H573.2ZM57.5,203.9H64.8V207.9H57.5ZM72,203.9H79.3V207.9H72ZM79.3,203.9H86.6V207.9H79.3ZM108.3,203.9H115.6V207.9H108.3ZM122.9,203.9H130.1V207.9H122.9ZM137.4,203.9H144.7V207.9H137.4ZM195.5,203.9H202.8V207.9H195.5ZM217.3,203.9H224.6V207.9H217.3ZM224.6,203.9H231.8V207.9H224.6ZM253.6,203.9H260.9V207.9H253.6ZM260.9,203.9H268.2V207.9H260.9ZM268.2,203.9H275.4V207.9H268.2ZM275.4,203.9H282.7V207.9H275.4ZM282.7,203.9H289.9V207.9H282.7ZM340.8,203.9H348.1V207.9H340.8ZM362.6,203.9H369.8V207.9H362.6ZM522.4,203.9H529.7V207.9H522.4ZM529.7,203.9H536.9V207.9H529.7ZM544.2,203.9H551.4V207.9H544.2ZM57.5,207.9H64.8V211.8H57.5ZM64.8,207.9H72V211.8H64.8ZM86.6,207.9H93.8V211.8H86.6ZM108.3,207.9H115.6V211.8H108.3ZM144.7,207.9H151.9V211.8H144.7ZM151.9,207.9H159.2V211.8H151.9ZM210,207.9H217.3V211.8H210ZM231.8,207.9H239.1V211.8H231.8ZM239.1,207.9H246.4V211.8H239.1ZM246.4,207.9H253.6V211.8H246.4ZM260.9,207.9H268.2V211.8H260.9ZM275.4,207.9H282.7V211.8H275.4ZM282.7,207.9H289.9V211.8H282.7ZM333.5,207.9H340.8V211.8H333.5ZM507.9,207.9H515.1V211.8H507.9ZM515.1,207.9H522.4V211.8H515.1ZM544.2,207.9H551.4V211.8H544.2ZM573.2,207.9H580.5V211.8H573.2ZM79.3,211.8H86.6V215.7H79.3ZM108.3,211.8H115.6V215.7H108.3ZM144.7,211.8H151.9V215.7H144.7ZM188.2,211.8H195.5V215.7H188.2ZM195.5,211.8H202.8V215.7H195.5ZM210,211.8H217.3V215.7H210ZM231.8,211.8H239.1V215.7H231.8ZM246.4,211.8H253.6V215.7H246.4ZM268.2,211.8H275.4V215.7H268.2ZM282.7,211.8H289.9V215.7H282.7ZM289.9,211.8H297.2V215.7H289.9ZM297.2,211.8H304.5V215.7H297.2ZM377.1,211.8H384.4V215.7H377.1ZM435.2,211.8H442.5V215.7H435.2ZM500.6,211.8H507.9V215.7H500.6ZM507.9,211.8H515.1V215.7H507.9ZM529.7,211.8H536.9V215.7H529.7ZM536.9,211.8H544.2V215.7H536.9ZM558.7,211.8H566V215.7H558.7ZM566,211.8H573.2V215.7H566ZM64.8,215.7H72V219.5H64.8ZM101.1,215.7H108.3V219.5H101.1ZM108.3,215.7H115.6V219.5H108.3ZM122.9,215.7H130.1V219.5H122.9ZM130.1,215.7H137.4V219.5H130.1ZM151.9,215.7H159.2V219.5H151.9ZM202.8,215.7H210V219.5H202.8ZM224.6,215.7H231.8V219.5H224.6ZM231.8,215.7H239.1V219.5H231.8ZM246.4,215.7H253.6V219.5H246.4ZM268.2,215.7H275.4V219.5H268.2ZM500.6,215.7H507.9V219.5H500.6ZM536.9,215.7H544.2V219.5H536.9ZM558.7,215.7H566V219.5H558.7ZM573.2,215.7H580.5V219.5H573.2ZM72,219.5H79.3V223.3H72ZM101.1,219.5H108.3V223.3H101.1ZM159.2,219.5H166.5V223.3H159.2ZM195.5,219.5H202.8V223.3H195.5ZM210,219.5H217.3V223.3H210ZM224.6,219.5H231.8V223.3H224.6ZM231.8,219.5H239.1V223.3H231.8ZM253.6,219.5H260.9V223.3H253.6ZM268.2,219.5H275.4V223.3H268.2ZM282.7,219.5H289.9V223.3H282.7ZM333.5,219.5H340.8V223.3H333.5ZM362.6,219.5H369.8V223.3H362.6ZM420.7,219.5H428V223.3H420.7ZM515.1,219.5H522.4V223.3H515.1ZM536.9,219.5H544.2V223.3H536.9ZM551.4,219.5H558.7V223.3H551.4ZM558.7,219.5H566V223.3H558.7ZM566,219.5H573.2V223.3H566ZM72,223.3H79.3V227.1H72ZM101.1,223.3H108.3V227.1H101.1ZM137.4,223.3H144.7V227.1H137.4ZM166.5,223.3H173.7V227.1H166.5ZM202.8,223.3H210V227.1H202.8ZM239.1,223.3H246.4V227.1H239.1ZM260.9,223.3H268.2V227.1H260.9ZM275.4,223.3H282.7V227.1H275.4ZM289.9,223.3H297.2V227.1H289.9ZM500.6,223.3H507.9V227.1H500.6ZM515.1,223.3H522.4V227.1H515.1ZM566,223.3H573.2V227.1H566ZM573.2,223.3H580.5V227.1H573.2ZM72,227.1H79.3V230.8H72ZM79.3,227.1H86.6V230.8H79.3ZM101.1,227.1H108.3V230.8H101.1ZM166.5,227.1H173.7V230.8H166.5ZM173.7,227.1H181V230.8H173.7ZM188.2,227.1H195.5V230.8H188.2ZM195.5,227.1H202.8V230.8H195.5ZM210,227.1H217.3V230.8H210ZM224.6,227.1H231.8V230.8H224.6ZM246.4,227.1H253.6V230.8H246.4ZM268.2,227.1H275.4V230.8H268.2ZM282.7,227.1H289.9V230.8H282.7ZM428,227.1H435.2V230.8H428ZM471.5,227.1H478.8V230.8H471.5ZM507.9,227.1H515.1V230.8H507.9ZM536.9,227.1H544.2V230.8H536.9ZM566,227.1H573.2V230.8H566ZM573.2,227.1H580.5V230.8H573.2ZM72,230.8H79.3V234.5H72ZM79.3,230.8H86.6V234.5H79.3ZM93.8,230.8H101.1V234.5H93.8ZM108.3,230.8H115.6V234.5H108.3ZM137.4,230.8H144.7V234.5H137.4ZM195.5,230.8H202.8V234.5H195.5ZM231.8,230.8H239.1V234.5H231.8ZM239.1,230.8H246.4V234.5H239.1ZM268.2,230.8H275.4V234.5H268.2ZM282.7,230.8H289.9V234.5H282.7ZM391.6,230.8H398.9V234.5H391.6ZM507.9,230.8H515.1V234.5H507.9ZM515.1,230.8H522.4V234.5H515.1ZM529.7,230.8H536.9V234.5H529.7ZM566,230.8H573.2V234.5H566ZM573.2,230.8H580.5V234.5H573.2ZM64.8,234.5H72V238.1H64.8ZM72,234.5H79.3V238.1H72ZM93.8,234.5H101.1V238.1H93.8ZM101.1,234.5H108.3V238.1H101.1ZM122.9,234.5H130.1V238.1H122.9ZM137.4,234.5H144.7V238.1H137.4ZM151.9,234.5H159.2V238.1H151.9ZM166.5,234.5H173.7V238.1H166.5ZM202.8,234.5H210V238.1H202.8ZM224.6,234.5H231.8V238.1H224.6ZM231.8,234.5H239.1V238.1H231.8ZM239.1,234.5H246.4V238.1H239.1ZM246.4,234.5H253.6V238.1H246.4ZM260.9,234.5H268.2V238.1H260.9ZM275.4,234.5H282.7V238.1H275.4ZM282.7,234.5H289.9V238.1H282.7ZM326.3,234.5H333.5V238.1H326.3ZM442.5,234.5H449.8V238.1H442.5ZM457,234.5H464.3V238.1H457ZM500.6,234.5H507.9V238.1H500.6ZM515.1,234.5H522.4V238.1H515.1ZM522.4,234.5H529.7V238.1H522.4ZM544.2,234.5H551.4V238.1H544.2ZM558.7,234.5H566V238.1H558.7ZM566,234.5H573.2V238.1H566ZM573.2,234.5H580.5V238.1H573.2ZM64.8,238.1H72V241.8H64.8ZM72,238.1H79.3V241.8H72ZM86.6,238.1H93.8V241.8H86.6ZM101.1,238.1H108.3V241.8H101.1ZM122.9,238.1H130.1V241.8H122.9ZM159.2,238.1H166.5V241.8H159.2ZM246.4,238.1H253.6V241.8H246.4ZM268.2,238.1H275.4V241.8H268.2ZM289.9,238.1H297.2V241.8H289.9ZM384.4,238.1H391.6V241.8H384.4ZM391.6,238.1H398.9V241.8H391.6ZM398.9,238.1H406.2V241.8H398.9ZM406.2,238.1H413.4V241.8H406.2ZM428,238.1H435.2V241.8H428ZM435.2,238.1H442.5V241.8H435.2ZM522.4,238.1H529.7V241.8H522.4ZM529.7,238.1H536.9V241.8H529.7ZM551.4,238.1H558.7V241.8H551.4ZM566,238.1H573.2V241.8H566ZM72,241.8H79.3V245.4H72ZM93.8,241.8H101.1V245.4H93.8ZM108.3,241.8H115.6V245.4H108.3ZM122.9,241.8H130.1V245.4H122.9ZM159.2,241.8H166.5V245.4H159.2ZM173.7,241.8H181V245.4H173.7ZM188.2,241.8H195.5V245.4H188.2ZM246.4,241.8H253.6V245.4H246.4ZM268.2,241.8H275.4V245.4H268.2ZM289.9,241.8H297.2V245.4H289.9ZM304.5,241.8H311.7V245.4H304.5ZM442.5,241.8H449.8V245.4H442.5ZM522.4,241.8H529.7V245.4H522.4ZM558.7,241.8H566V245.4H558.7ZM566,241.8H573.2V245.4H566ZM573.2,241.8H580.5V245.4H573.2ZM64.8,245.4H72V249.1H64.8ZM79.3,245.4H86.6V249.1H79.3ZM86.6,245.4H93.8V249.1H86.6ZM122.9,245.4H130.1V249.1H122.9ZM130.1,245.4H137.4V249.1H130.1ZM181,245.4H188.2V249.1H181ZM195.5,245.4H202.8V249.1H195.5ZM282.7,245.4H289.9V249.1H282.7ZM289.9,245.4H297.2V249.1H289.9ZM297.2,245.4H304.5V249.1H297.2ZM326.3,245.4H333.5V249.1H326.3ZM391.6,245.4H398.9V249.1H391.6ZM398.9,245.4H406.2V249.1H398.9ZM406.2,245.4H413.4V249.1H406.2ZM442.5,245.4H449.8V249.1H442.5ZM449.8,245.4H457V249.1H449.8ZM507.9,245.4H515.1V249.1H507.9ZM515.1,245.4H522.4V249.1H515.1ZM529.7,245.4H536.9V249.1H529.7ZM536.9,245.4H544.2V249.1H536.9ZM551.4,245.4H558.7V249.1H551.4ZM566,245.4H573.2V249.1H566ZM573.2,245.4H580.5V249.1H573.2ZM72,249.1H79.3V252.7H72ZM86.6,249.1H93.8V252.7H86.6ZM93.8,249.1H101.1V252.7H93.8ZM101.1,249.1H108.3V252.7H101.1ZM115.6,249.1H122.9V252.7H115.6ZM137.4,249.1H144.7V252.7H137.4ZM144.7,249.1H151.9V252.7H144.7ZM151.9,249.1H159.2V252.7H151.9ZM173.7,249.1H181V252.7H173.7ZM188.2,249.1H195.5V252.7H188.2ZM195.5,249.1H202.8V252.7H195.5ZM246.4,249.1H253.6V252.7H246.4ZM253.6,249.1H260.9V252.7H253.6ZM268.2,249.1H275.4V252.7H268.2ZM282.7,249.1H289.9V252.7H282.7ZM311.7,249.1H319V252.7H311.7ZM319,249.1H326.3V252.7H319ZM413.4,249.1H420.7V252.7H413.4ZM428,249.1H435.2V252.7H428ZM435.2,249.1H442.5V252.7H435.2ZM449.8,249.1H457V252.7H449.8ZM522.4,249.1H529.7V252.7H522.4ZM566,249.1H573.2V252.7H566ZM573.2,249.1H580.5V252.7H573.2ZM115.6,252.7H122.9V256.3H115.6ZM122.9,252.7H130.1V256.3H122.9ZM130.1,252.7H137.4V256.3H130.1ZM159.2,252.7H166.5V256.3H159.2ZM173.7,252.7H181V256.3H173.7ZM195.5,252.7H202.8V256.3H195.5ZM253.6,252.7H260.9V256.3H253.6ZM260.9,252.7H268.2V256.3H260.9ZM268.2,252.7H275.4V256.3H268.2ZM282.7,252.7H289.9V256.3H282.7ZM289.9,252.7H297.2V256.3H289.9ZM326.3,252.7H333.5V256.3H326.3ZM384.4,252.7H391.6V256.3H384.4ZM391.6,252.7H398.9V256.3H391.6ZM428,252.7H435.2V256.3H428ZM435.2,252.7H442.5V256.3H435.2ZM529.7,252.7H536.9V256.3H529.7ZM544.2,252.7H551.4V256.3H544.2ZM551.4,252.7H558.7V256.3H551.4ZM558.7,252.7H566V256.3H558.7ZM573.2,252.7H580.5V256.3H573.2ZM72,256.3H79.3V260H72ZM79.3,256.3H86.6V260H79.3ZM93.8,256.3H101.1V260H93.8ZM108.3,256.3H115.6V260H108.3ZM137.4,256.3H144.7V260H137.4ZM151.9,256.3H159.2V260H151.9ZM181,256.3H188.2V260H181ZM195.5,256.3H202.8V260H195.5ZM268.2,256.3H275.4V260H268.2ZM275.4,256.3H282.7V260H275.4ZM282.7,256.3H289.9V260H282.7ZM289.9,256.3H297.2V260H289.9ZM297.2,256.3H304.5V260H297.2ZM384.4,256.3H391.6V260H384.4ZM398.9,256.3H406.2V260H398.9ZM420.7,256.3H428V260H420.7ZM428,256.3H435.2V260H428ZM435.2,256.3H442.5V260H435.2ZM449.8,256.3H457V260H449.8ZM464.3,256.3H471.5V260H464.3ZM478.8,256.3H486.1V260H478.8ZM558.7,256.3H566V260H558.7ZM79.3,260H86.6V263.6H79.3ZM101.1,260H108.3V263.6H101.1ZM108.3,260H115.6V263.6H108.3ZM122.9,260H130.1V263.6H122.9ZM130.1,260H137.4V263.6H130.1ZM159.2,260H166.5V263.6H159.2ZM173.7,260H181V263.6H173.7ZM260.9,260H268.2V263.6H260.9ZM275.4,260H282.7V263.6H275.4ZM282.7,260H289.9V263.6H282.7ZM311.7,260H319V263.6H311.7ZM391.6,260H398.9V263.6H391.6ZM406.2,260H413.4V263.6H406.2ZM413.4,260H420.7V263.6H413.4ZM420.7,260H428V263.6H420.7ZM428,260H435.2V263.6H428ZM435.2,260H442.5V263.6H435.2ZM442.5,260H449.8V263.6H442.5ZM64.8,263.6H72V267.3H64.8ZM79.3,263.6H86.6V267.3H79.3ZM101.1,263.6H108.3V267.3H101.1ZM115.6,263.6H122.9V267.3H115.6ZM130.1,263.6H137.4V267.3H130.1ZM159.2,263.6H166.5V267.3H159.2ZM173.7,263.6H181V267.3H173.7ZM217.3,263.6H224.6V267.3H217.3ZM289.9,263.6H297.2V267.3H289.9ZM297.2,263.6H304.5V267.3H297.2ZM384.4,263.6H391.6V267.3H384.4ZM398.9,263.6H406.2V267.3H398.9ZM413.4,263.6H420.7V267.3H413.4ZM435.2,263.6H442.5V267.3H435.2ZM442.5,263.6H449.8V267.3H442.5ZM507.9,263.6H515.1V267.3H507.9ZM551.4,263.6H558.7V267.3H551.4ZM566,263.6H573.2V267.3H566ZM93.8,267.3H101.1V270.9H93.8ZM101.1,267.3H108.3V270.9H101.1ZM130.1,267.3H137.4V270.9H130.1ZM159.2,267.3H166.5V270.9H159.2ZM181,267.3H188.2V270.9H181ZM188.2,267.3H195.5V270.9H188.2ZM195.5,267.3H202.8V270.9H195.5ZM268.2,267.3H275.4V270.9H268.2ZM311.7,267.3H319V270.9H311.7ZM319,267.3H326.3V270.9H319ZM333.5,267.3H340.8V270.9H333.5ZM398.9,267.3H406.2V270.9H398.9ZM529.7,267.3H536.9V270.9H529.7ZM536.9,267.3H544.2V270.9H536.9ZM544.2,267.3H551.4V270.9H544.2ZM566,267.3H573.2V270.9H566ZM573.2,267.3H580.5V270.9H573.2ZM57.5,270.9H64.8V274.6H57.5ZM72,270.9H79.3V274.6H72ZM86.6,270.9H93.8V274.6H86.6ZM122.9,270.9H130.1V274.6H122.9ZM130.1,270.9H137.4V274.6H130.1ZM137.4,270.9H144.7V274.6H137.4ZM151.9,270.9H159.2V274.6H151.9ZM188.2,270.9H195.5V274.6H188.2ZM202.8,270.9H210V274.6H202.8ZM246.4,270.9H253.6V274.6H246.4ZM268.2,270.9H275.4V274.6H268.2ZM275.4,270.9H282.7V274.6H275.4ZM289.9,270.9H297.2V274.6H289.9ZM297.2,270.9H304.5V274.6H297.2ZM304.5,270.9H311.7V274.6H304.5ZM333.5,270.9H340.8V274.6H333.5ZM384.4,270.9H391.6V274.6H384.4ZM398.9,270.9H406.2V274.6H398.9ZM420.7,270.9H428V274.6H420.7ZM435.2,270.9H442.5V274.6H435.2ZM529.7,270.9H536.9V274.6H529.7ZM551.4,270.9H558.7V274.6H551.4ZM566,270.9H573.2V274.6H566ZM64.8,274.6H72V278.3H64.8ZM101.1,274.6H108.3V278.3H101.1ZM195.5,274.6H202.8V278.3H195.5ZM224.6,274.6H231.8V278.3H224.6ZM260.9,274.6H268.2V278.3H260.9ZM282.7,274.6H289.9V278.3H282.7ZM326.3,274.6H333.5V278.3H326.3ZM333.5,274.6H340.8V278.3H333.5ZM391.6,274.6H398.9V278.3H391.6ZM413.4,274.6H420.7V278.3H413.4ZM428,274.6H435.2V278.3H428ZM435.2,274.6H442.5V278.3H435.2ZM449.8,274.6H457V278.3H449.8ZM536.9,274.6H544.2V278.3H536.9ZM551.4,274.6H558.7V278.3H551.4ZM566,274.6H573.2V278.3H566ZM79.3,278.3H86.6V282.1H79.3ZM86.6,278.3H93.8V282.1H86.6ZM122.9,278.3H130.1V282.1H122.9ZM130.1,278.3H137.4V282.1H130.1ZM137.4,278.3H144.7V282.1H137.4ZM166.5,278.3H173.7V282.1H166.5ZM195.5,278.3H202.8V282.1H195.5ZM275.4,278.3H282.7V282.1H275.4ZM282.7,278.3H289.9V282.1H282.7ZM304.5,278.3H311.7V282.1H304.5ZM311.7,278.3H319V282.1H311.7ZM398.9,278.3H406.2V282.1H398.9ZM420.7,278.3H428V282.1H420.7ZM428,278.3H435.2V282.1H428ZM435.2,278.3H442.5V282.1H435.2ZM449.8,278.3H457V282.1H449.8ZM486.1,278.3H493.3V282.1H486.1ZM522.4,278.3H529.7V282.1H522.4ZM529.7,278.3H536.9V282.1H529.7ZM536.9,278.3H544.2V282.1H536.9ZM551.4,278.3H558.7V282.1H551.4ZM566,278.3H573.2V282.1H566ZM79.3,282.1H86.6V285.9H79.3ZM93.8,282.1H101.1V285.9H93.8ZM122.9,282.1H130.1V285.9H122.9ZM130.1,282.1H137.4V285.9H130.1ZM137.4,282.1H144.7V285.9H137.4ZM166.5,282.1H173.7V285.9H166.5ZM195.5,282.1H202.8V285.9H195.5ZM210,282.1H217.3V285.9H210ZM239.1,282.1H246.4V285.9H239.1ZM275.4,282.1H282.7V285.9H275.4ZM297.2,282.1H304.5V285.9H297.2ZM304.5,282.1H311.7V285.9H304.5ZM319,282.1H326.3V285.9H319ZM348.1,282.1H355.3V285.9H348.1ZM391.6,282.1H398.9V285.9H391.6ZM406.2,282.1H413.4V285.9H406.2ZM413.4,282.1H420.7V285.9H413.4ZM435.2,282.1H442.5V285.9H435.2ZM457,282.1H464.3V285.9H457ZM464.3,282.1H471.5V285.9H464.3ZM478.8,282.1H486.1V285.9H478.8ZM566,282.1H573.2V285.9H566ZM79.3,285.9H86.6V289.7H79.3ZM115.6,285.9H122.9V289.7H115.6ZM137.4,285.9H144.7V289.7H137.4ZM144.7,285.9H151.9V289.7H144.7ZM166.5,285.9H173.7V289.7H166.5ZM173.7,285.9H181V289.7H173.7ZM188.2,285.9H195.5V289.7H188.2ZM326.3,285.9H333.5V289.7H326.3ZM384.4,285.9H391.6V289.7H384.4ZM420.7,285.9H428V289.7H420.7ZM428,285.9H435.2V289.7H428ZM449.8,285.9H457V289.7H449.8ZM122.9,289.7H130.1V293.6H122.9ZM166.5,289.7H173.7V293.6H166.5ZM210,289.7H217.3V293.6H210ZM253.6,289.7H260.9V293.6H253.6ZM282.7,289.7H289.9V293.6H282.7ZM289.9,289.7H297.2V293.6H289.9ZM304.5,289.7H311.7V293.6H304.5ZM384.4,289.7H391.6V293.6H384.4ZM398.9,289.7H406.2V293.6H398.9ZM420.7,289.7H428V293.6H420.7ZM464.3,289.7H471.5V293.6H464.3ZM551.4,289.7H558.7V293.6H551.4ZM108.3,293.6H115.6V297.5H108.3ZM115.6,293.6H122.9V297.5H115.6ZM122.9,293.6H130.1V297.5H122.9ZM130.1,293.6H137.4V297.5H130.1ZM151.9,293.6H159.2V297.5H151.9ZM166.5,293.6H173.7V297.5H166.5ZM173.7,293.6H181V297.5H173.7ZM181,293.6H188.2V297.5H181ZM239.1,293.6H246.4V297.5H239.1ZM282.7,293.6H289.9V297.5H282.7ZM319,293.6H326.3V297.5H319ZM377.1,293.6H384.4V297.5H377.1ZM384.4,293.6H391.6V297.5H384.4ZM406.2,293.6H413.4V297.5H406.2ZM435.2,293.6H442.5V297.5H435.2ZM442.5,293.6H449.8V297.5H442.5ZM478.8,293.6H486.1V297.5H478.8ZM79.3,297.5H86.6V301.5H79.3ZM101.1,297.5H108.3V301.5H101.1ZM115.6,297.5H122.9V301.5H115.6ZM239.1,297.5H246.4V301.5H239.1ZM260.9,297.5H268.2V301.5H260.9ZM282.7,297.5H289.9V301.5H282.7ZM297.2,297.5H304.5V301.5H297.2ZM304.5,297.5H311.7V301.5H304.5ZM326.3,297.5H333.5V301.5H326.3ZM377.1,297.5H384.4V301.5H377.1ZM391.6,297.5H398.9V301.5H391.6ZM413.4,297.5H420.7V301.5H413.4ZM471.5,297.5H478.8V301.5H471.5ZM57.5,301.5H64.8V305.6H57.5ZM115.6,301.5H122.9V305.6H115.6ZM159.2,301.5H166.5V305.6H159.2ZM195.5,301.5H202.8V305.6H195.5ZM202.8,301.5H210V305.6H202.8ZM289.9,301.5H297.2V305.6H289.9ZM297.2,301.5H304.5V305.6H297.2ZM304.5,301.5H311.7V305.6H304.5ZM333.5,301.5H340.8V305.6H333.5ZM384.4,301.5H391.6V305.6H384.4ZM391.6,301.5H398.9V305.6H391.6ZM398.9,301.5H406.2V305.6H398.9ZM435.2,301.5H442.5V305.6H435.2ZM486.1,301.5H493.3V305.6H486.1ZM64.8,305.6H72V309.8H64.8ZM72,305.6H79.3V309.8H72ZM79.3,305.6H86.6V309.8H79.3ZM86.6,305.6H93.8V309.8H86.6ZM130.1,305.6H137.4V309.8H130.1ZM144.7,305.6H151.9V309.8H144.7ZM195.5,305.6H202.8V309.8H195.5ZM210,305.6H217.3V309.8H210ZM239.1,305.6H246.4V309.8H239.1ZM260.9,305.6H268.2V309.8H260.9ZM297.2,305.6H304.5V309.8H297.2ZM304.5,305.6H311.7V309.8H304.5ZM326.3,305.6H333.5V309.8H326.3ZM333.5,305.6H340.8V309.8H333.5ZM369.8,305.6H377.1V309.8H369.8ZM377.1,305.6H384.4V309.8H377.1ZM398.9,305.6H406.2V309.8H398.9ZM449.8,305.6H457V309.8H449.8ZM500.6,305.6H507.9V309.8H500.6ZM122.9,309.8H130.1V314H122.9ZM130.1,309.8H137.4V314H130.1ZM159.2,309.8H166.5V314H159.2ZM195.5,309.8H202.8V314H195.5ZM202.8,309.8H210V314H202.8ZM239.1,309.8H246.4V314H239.1ZM260.9,309.8H268.2V314H260.9ZM289.9,309.8H297.2V314H289.9ZM355.3,309.8H362.6V314H355.3ZM406.2,309.8H413.4V314H406.2ZM449.8,309.8H457V314H449.8ZM529.7,309.8H536.9V314H529.7ZM101.1,314H108.3V318.3H101.1ZM159.2,314H166.5V318.3H159.2ZM188.2,314H195.5V318.3H188.2ZM239.1,314H246.4V318.3H239.1ZM260.9,314H268.2V318.3H260.9ZM268.2,314H275.4V318.3H268.2ZM319,314H326.3V318.3H319ZM340.8,314H348.1V318.3H340.8ZM369.8,314H377.1V318.3H369.8ZM391.6,314H398.9V318.3H391.6ZM406.2,314H413.4V318.3H406.2ZM428,314H435.2V318.3H428ZM442.5,314H449.8V318.3H442.5ZM457,314H464.3V318.3H457ZM493.3,314H500.6V318.3H493.3ZM500.6,314H507.9V318.3H500.6ZM522.4,314H529.7V318.3H522.4ZM72,318.3H79.3V322.7H72ZM86.6,318.3H93.8V322.7H86.6ZM101.1,318.3H108.3V322.7H101.1ZM122.9,318.3H130.1V322.7H122.9ZM144.7,318.3H151.9V322.7H144.7ZM151.9,318.3H159.2V322.7H151.9ZM159.2,318.3H166.5V322.7H159.2ZM195.5,318.3H202.8V322.7H195.5ZM202.8,318.3H210V322.7H202.8ZM239.1,318.3H246.4V322.7H239.1ZM260.9,318.3H268.2V322.7H260.9ZM275.4,318.3H282.7V322.7H275.4ZM326.3,318.3H333.5V322.7H326.3ZM398.9,318.3H406.2V322.7H398.9ZM406.2,318.3H413.4V322.7H406.2ZM428,318.3H435.2V322.7H428ZM486.1,318.3H493.3V322.7H486.1ZM500.6,318.3H507.9V322.7H500.6ZM529.7,318.3H536.9V322.7H529.7ZM544.2,318.3H551.4V322.7H544.2ZM79.3,322.7H86.6V327.3H79.3ZM93.8,322.7H101.1V327.3H93.8ZM130.1,322.7H137.4V327.3H130.1ZM144.7,322.7H151.9V327.3H144.7ZM166.5,322.7H173.7V327.3H166.5ZM173.7,322.7H181V327.3H173.7ZM217.3,322.7H224.6V327.3H217.3ZM246.4,322.7H253.6V327.3H246.4ZM253.6,322.7H260.9V327.3H253.6ZM275.4,322.7H282.7V327.3H275.4ZM289.9,322.7H297.2V327.3H289.9ZM297.2,322.7H304.5V327.3H297.2ZM326.3,322.7H333.5V327.3H326.3ZM333.5,322.7H340.8V327.3H333.5ZM348.1,322.7H355.3V327.3H348.1ZM362.6,322.7H369.8V327.3H362.6ZM369.8,322.7H377.1V327.3H369.8ZM391.6,322.7H398.9V327.3H391.6ZM413.4,322.7H420.7V327.3H413.4ZM428,322.7H435.2V327.3H428ZM442.5,322.7H449.8V327.3H442.5ZM464.3,322.7H471.5V327.3H464.3ZM493.3,322.7H500.6V327.3H493.3ZM500.6,322.7H507.9V327.3H500.6ZM515.1,322.7H522.4V327.3H515.1ZM529.7,322.7H536.9V327.3H529.7ZM57.5,327.3H64.8V331.9H57.5ZM64.8,327.3H72V331.9H64.8ZM79.3,327.3H86.6V331.9H79.3ZM86.6,327.3H93.8V331.9H86.6ZM101.1,327.3H108.3V331.9H101.1ZM115.6,327.3H122.9V331.9H115.6ZM122.9,327.3H130.1V331.9H122.9ZM137.4,327.3H144.7V331.9H137.4ZM151.9,327.3H159.2V331.9H151.9ZM181,327.3H188.2V331.9H181ZM195.5,327.3H202.8V331.9H195.5ZM217.3,327.3H224.6V331.9H217.3ZM224.6,327.3H231.8V331.9H224.6ZM239.1,327.3H246.4V331.9H239.1ZM260.9,327.3H268.2V331.9H260.9ZM275.4,327.3H282.7V331.9H275.4ZM289.9,327.3H297.2V331.9H289.9ZM319,327.3H326.3V331.9H319ZM326.3,327.3H333.5V331.9H326.3ZM333.5,327.3H340.8V331.9H333.5ZM369.8,327.3H377.1V331.9H369.8ZM428,327.3H435.2V331.9H428ZM435.2,327.3H442.5V331.9H435.2ZM442.5,327.3H449.8V331.9H442.5ZM449.8,327.3H457V331.9H449.8ZM471.5,327.3H478.8V331.9H471.5ZM486.1,327.3H493.3V331.9H486.1ZM493.3,327.3H500.6V331.9H493.3ZM522.4,327.3H529.7V331.9H522.4ZM529.7,327.3H536.9V331.9H529.7ZM79.3,331.9H86.6V336.8H79.3ZM166.5,331.9H173.7V336.8H166.5ZM188.2,331.9H195.5V336.8H188.2ZM231.8,331.9H239.1V336.8H231.8ZM246.4,331.9H253.6V336.8H246.4ZM260.9,331.9H268.2V336.8H260.9ZM326.3,331.9H333.5V336.8H326.3ZM398.9,331.9H406.2V336.8H398.9ZM457,331.9H464.3V336.8H457ZM478.8,331.9H486.1V336.8H478.8ZM507.9,331.9H515.1V336.8H507.9ZM522.4,331.9H529.7V336.8H522.4ZM529.7,331.9H536.9V336.8H529.7ZM573.2,331.9H580.5V336.8H573.2ZM101.1,336.8H108.3V341.7H101.1ZM130.1,336.8H137.4V341.7H130.1ZM151.9,336.8H159.2V341.7H151.9ZM173.7,336.8H181V341.7H173.7ZM188.2,336.8H195.5V341.7H188.2ZM224.6,336.8H231.8V341.7H224.6ZM231.8,336.8H239.1V341.7H231.8ZM268.2,336.8H275.4V341.7H268.2ZM319,336.8H326.3V341.7H319ZM326.3,336.8H333.5V341.7H326.3ZM333.5,336.8H340.8V341.7H333.5ZM348.1,336.8H355.3V341.7H348.1ZM369.8,336.8H377.1V341.7H369.8ZM398.9,336.8H406.2V341.7H398.9ZM406.2,336.8H413.4V341.7H406.2ZM413.4,336.8H420.7V341.7H413.4ZM428,336.8H435.2V341.7H428ZM435.2,336.8H442.5V341.7H435.2ZM486.1,336.8H493.3V341.7H486.1ZM515.1,336.8H522.4V341.7H515.1ZM544.2,336.8H551.4V341.7H544.2ZM79.3,341.7H86.6V346.8H79.3ZM101.1,341.7H108.3V346.8H101.1ZM108.3,341.7H115.6V346.8H108.3ZM115.6,341.7H122.9V346.8H115.6ZM159.2,341.7H166.5V346.8H159.2ZM173.7,341.7H181V346.8H173.7ZM181,341.7H188.2V346.8H181ZM239.1,341.7H246.4V346.8H239.1ZM253.6,341.7H260.9V346.8H253.6ZM275.4,341.7H282.7V346.8H275.4ZM289.9,341.7H297.2V346.8H289.9ZM304.5,341.7H311.7V346.8H304.5ZM311.7,341.7H319V346.8H311.7ZM398.9,341.7H406.2V346.8H398.9ZM413.4,341.7H420.7V346.8H413.4ZM442.5,341.7H449.8V346.8H442.5ZM515.1,341.7H522.4V346.8H515.1ZM573.2,341.7H580.5V346.8H573.2ZM130.1,346.8H137.4V352.2H130.1ZM137.4,346.8H144.7V352.2H137.4ZM173.7,346.8H181V352.2H173.7ZM202.8,346.8H210V352.2H202.8ZM217.3,346.8H224.6V352.2H217.3ZM260.9,346.8H268.2V352.2H260.9ZM268.2,346.8H275.4V352.2H268.2ZM275.4,346.8H282.7V352.2H275.4ZM282.7,346.8H289.9V352.2H282.7ZM289.9,346.8H297.2V352.2H289.9ZM311.7,346.8H319V352.2H311.7ZM348.1,346.8H355.3V352.2H348.1ZM369.8,346.8H377.1V352.2H369.8ZM391.6,346.8H398.9V352.2H391.6ZM435.2,346.8H442.5V352.2H435.2ZM464.3,346.8H471.5V352.2H464.3ZM515.1,346.8H522.4V352.2H515.1ZM566,346.8H573.2V352.2H566ZM57.5,352.2H64.8V357.7H57.5ZM64.8,352.2H72V357.7H64.8ZM86.6,352.2H93.8V357.7H86.6ZM101.1,352.2H108.3V357.7H101.1ZM202.8,352.2H210V357.7H202.8ZM253.6,352.2H260.9V357.7H253.6ZM268.2,352.2H275.4V357.7H268.2ZM275.4,352.2H282.7V357.7H275.4ZM304.5,352.2H311.7V357.7H304.5ZM319,352.2H326.3V357.7H319ZM377.1,352.2H384.4V357.7H377.1ZM428,352.2H435.2V357.7H428ZM471.5,352.2H478.8V357.7H471.5ZM507.9,352.2H515.1V357.7H507.9ZM536.9,352.2H544.2V357.7H536.9ZM558.7,352.2H566V357.7H558.7ZM573.2,352.2H580.5V357.7H573.2ZM79.3,357.7H86.6V363.4H79.3ZM86.6,357.7H93.8V363.4H86.6ZM122.9,357.7H130.1V363.4H122.9ZM173.7,357.7H181V363.4H173.7ZM188.2,357.7H195.5V363.4H188.2ZM195.5,357.7H202.8V363.4H195.5ZM224.6,357.7H231.8V363.4H224.6ZM246.4,357.7H253.6V363.4H246.4ZM282.7,357.7H289.9V363.4H282.7ZM362.6,357.7H369.8V363.4H362.6ZM398.9,357.7H406.2V363.4H398.9ZM486.1,357.7H493.3V363.4H486.1ZM522.4,357.7H529.7V363.4H522.4ZM544.2,357.7H551.4V363.4H544.2ZM551.4,357.7H558.7V363.4H551.4ZM558.7,357.7H566V363.4H558.7ZM573.2,357.7H580.5V363.4H573.2ZM93.8,363.4H101.1V369.5H93.8ZM159.2,363.4H166.5V369.5H159.2ZM181,363.4H188.2V369.5H181ZM231.8,363.4H239.1V369.5H231.8ZM268.2,363.4H275.4V369.5H268.2ZM319,363.4H326.3V369.5H319ZM377.1,363.4H384.4V369.5H377.1ZM398.9,363.4H406.2V369.5H398.9ZM406.2,363.4H413.4V369.5H406.2ZM471.5,363.4H478.8V369.5H471.5ZM529.7,363.4H536.9V369.5H529.7ZM536.9,363.4H544.2V369.5H536.9ZM551.4,363.4H558.7V369.5H551.4ZM558.7,363.4H566V369.5H558.7ZM573.2,363.4H580.5V369.5H573.2ZM86.6,369.5H93.8V375.8H86.6ZM130.1,369.5H137.4V375.8H130.1ZM144.7,369.5H151.9V375.8H144.7ZM188.2,369.5H195.5V375.8H188.2ZM202.8,369.5H210V375.8H202.8ZM224.6,369.5H231.8V375.8H224.6ZM239.1,369.5H246.4V375.8H239.1ZM268.2,369.5H275.4V375.8H268.2ZM304.5,369.5H311.7V375.8H304.5ZM340.8,369.5H348.1V375.8H340.8ZM486.1,369.5H493.3V375.8H486.1ZM573.2,369.5H580.5V375.8H573.2ZM79.3,375.8H86.6V382.5H79.3ZM159.2,375.8H166.5V382.5H159.2ZM181,375.8H188.2V382.5H181ZM246.4,375.8H253.6V382.5H246.4ZM282.7,375.8H289.9V382.5H282.7ZM289.9,375.8H297.2V382.5H289.9ZM558.7,375.8H566V382.5H558.7ZM57.5,382.5H64.8V389.5H57.5ZM64.8,382.5H72V389.5H64.8ZM79.3,382.5H86.6V389.5H79.3ZM108.3,382.5H115.6V389.5H108.3ZM151.9,382.5H159.2V389.5H151.9ZM239.1,382.5H246.4V389.5H239.1ZM311.7,382.5H319V389.5H311.7ZM369.8,382.5H377.1V389.5H369.8ZM413.4,382.5H420.7V389.5H413.4ZM340.8,389.5H348.1V397H340.8ZM515.1,389.5H522.4V397H515.1ZM536.9,389.5H544.2V397H536.9ZM558.7,389.5H566V397H558.7ZM573.2,389.5H580.5V397H573.2ZM275.4,397H282.7V405H275.4ZM333.5,397H340.8V405H333.5ZM507.9,397H515.1V405H507.9ZM551.4,397H558.7V405H551.4ZM573.2,397H580.5V405H573.2ZM231.8,405H239.1V413.6H231.8ZM239.1,413.6H246.4V422.8H239.1ZM551.4,413.6H558.7V422.8H551.4ZM93.8,422.8H101.1V433H93.8ZM217.3,422.8H224.6V433H217.3ZM362.6,422.8H369.8V433H362.6ZM442.5,422.8H449.8V433H442.5ZM507.9,422.8H515.1V433H507.9ZM86.6,433H93.8V444.1H86.6Z"/><path fill="#9cbddc" d="M260.9,72.4H268.2V82.6H260.9ZM282.7,72.4H289.9V82.6H282.7ZM304.5,72.4H311.7V82.6H304.5ZM275.4,82.6H282.7V91.8H275.4ZM297.2,82.6H304.5V91.8H297.2ZM181,91.8H188.2V100.4H181ZM282.7,91.8H289.9V100.4H282.7ZM289.9,91.8H297.2V100.4H289.9ZM391.6,91.8H398.9V100.4H391.6ZM522.4,91.8H529.7V100.4H522.4ZM536.9,100.4H544.2V108.4H536.9ZM130.1,108.4H137.4V115.9H130.1ZM217.3,108.4H224.6V115.9H217.3ZM253.6,108.4H260.9V115.9H253.6ZM289.9,108.4H297.2V115.9H289.9ZM449.8,108.4H457V115.9H449.8ZM486.1,108.4H493.3V115.9H486.1ZM522.4,108.4H529.7V115.9H522.4ZM231.8,115.9H239.1V122.9H231.8ZM304.5,115.9H311.7V122.9H304.5ZM398.9,115.9H406.2V122.9H398.9ZM217.3,122.9H224.6V129.6H217.3ZM275.4,122.9H282.7V129.6H275.4ZM340.8,122.9H348.1V129.6H340.8ZM377.1,122.9H384.4V129.6H377.1ZM493.3,122.9H500.6V129.6H493.3ZM151.9,129.6H159.2V135.9H151.9ZM428,129.6H435.2V135.9H428ZM566,129.6H573.2V135.9H566ZM224.6,135.9H231.8V142H224.6ZM246.4,135.9H253.6V142H246.4ZM362.6,135.9H369.8V142H362.6ZM72,142H79.3V147.7H72ZM428,142H435.2V147.7H428ZM529.7,142H536.9V147.7H529.7ZM122.9,147.7H130.1V153.2H122.9ZM304.5,147.7H311.7V153.2H304.5ZM406.2,147.7H413.4V153.2H406.2ZM573.2,147.7H580.5V153.2H573.2ZM101.1,153.2H108.3V158.6H101.1ZM181,153.2H188.2V158.6H181ZM246.4,153.2H253.6V158.6H246.4ZM384.4,153.2H391.6V158.6H384.4ZM86.6,158.6H93.8V163.7H86.6ZM536.9,158.6H544.2V163.7H536.9ZM122.9,163.7H130.1V168.6H122.9ZM202.8,163.7H210V168.6H202.8ZM558.7,163.7H566V168.6H558.7ZM500.6,168.6H507.9V173.5H500.6ZM515.1,168.6H522.4V173.5H515.1ZM115.6,173.5H122.9V178.1H115.6ZM159.2,173.5H166.5V178.1H159.2ZM340.8,173.5H348.1V178.1H340.8ZM449.8,173.5H457V178.1H449.8ZM384.4,178.1H391.6V182.7H384.4ZM391.6,182.7H398.9V187.1H391.6ZM500.6,182.7H507.9V187.1H500.6ZM304.5,187.1H311.7V191.4H304.5ZM406.2,187.1H413.4V191.4H406.2ZM457,187.1H464.3V191.4H457ZM86.6,191.4H93.8V195.6H86.6ZM377.1,191.4H384.4V195.6H377.1ZM435.2,191.4H442.5V195.6H435.2ZM362.6,195.6H369.8V199.8H362.6ZM384.4,195.6H391.6V199.8H384.4ZM428,195.6H435.2V199.8H428ZM493.3,195.6H500.6V199.8H493.3ZM144.7,199.8H151.9V203.9H144.7ZM449.8,199.8H457V203.9H449.8ZM326.3,203.9H333.5V207.9H326.3ZM406.2,203.9H413.4V207.9H406.2ZM355.3,207.9H362.6V211.8H355.3ZM464.3,207.9H471.5V211.8H464.3ZM478.8,207.9H486.1V211.8H478.8ZM420.7,211.8H428V215.7H420.7ZM333.5,215.7H340.8V219.5H333.5ZM384.4,215.7H391.6V219.5H384.4ZM398.9,219.5H406.2V223.3H398.9ZM369.8,223.3H377.1V227.1H369.8ZM435.2,223.3H442.5V227.1H435.2ZM449.8,223.3H457V227.1H449.8ZM398.9,234.5H406.2V238.1H398.9ZM326.3,238.1H333.5V241.8H326.3ZM340.8,238.1H348.1V241.8H340.8ZM369.8,241.8H377.1V245.4H369.8ZM348.1,249.1H355.3V252.7H348.1ZM464.3,249.1H471.5V252.7H464.3ZM239.1,252.7H246.4V256.3H239.1ZM340.8,252.7H348.1V256.3H340.8ZM457,256.3H464.3V260H457ZM551.4,260H558.7V263.6H551.4ZM348.1,263.6H355.3V267.3H348.1ZM478.8,263.6H486.1V267.3H478.8ZM362.6,274.6H369.8V278.3H362.6ZM478.8,274.6H486.1V278.3H478.8ZM507.9,278.3H515.1V282.1H507.9ZM217.3,282.1H224.6V285.9H217.3ZM355.3,285.9H362.6V289.7H355.3ZM522.4,285.9H529.7V289.7H522.4ZM515.1,301.5H522.4V305.6H515.1ZM551.4,301.5H558.7V305.6H551.4ZM210,318.3H217.3V322.7H210ZM282.7,331.9H289.9V336.8H282.7ZM181,336.8H188.2V341.7H181ZM86.6,346.8H93.8V352.2H86.6ZM413.4,369.5H420.7V375.8H413.4ZM507.9,375.8H515.1V382.5H507.9ZM115.6,382.5H122.9V389.5H115.6ZM202.8,382.5H210V389.5H202.8ZM297.2,382.5H304.5V389.5H297.2ZM319,382.5H326.3V389.5H319ZM377.1,382.5H384.4V389.5H377.1ZM464.3,382.5H471.5V389.5H464.3ZM202.8,389.5H210V397H202.8ZM348.1,389.5H355.3V397H348.1ZM144.7,397H151.9V405H144.7ZM181,397H188.2V405H181ZM420.7,397H428V405H420.7ZM529.7,397H536.9V405H529.7ZM210,405H217.3V413.6H210ZM377.1,405H384.4V413.6H377.1ZM384.4,405H391.6V413.6H384.4ZM486.1,405H493.3V413.6H486.1ZM108.3,413.6H115.6V422.8H108.3ZM159.2,413.6H166.5V422.8H159.2ZM282.7,413.6H289.9V422.8H282.7ZM326.3,413.6H333.5V422.8H326.3ZM449.8,413.6H457V422.8H449.8ZM507.9,413.6H515.1V422.8H507.9ZM166.5,422.8H173.7V433H166.5ZM566,422.8H573.2V433H566ZM210,433H217.3V444.1H210ZM384.4,433H391.6V444.1H384.4ZM420.7,433H428V444.1H420.7ZM515.1,433H522.4V444.1H515.1Z"/><path fill="#94b8d8" d="M217.3,72.4H224.6V82.6H217.3ZM289.9,72.4H297.2V82.6H289.9ZM384.4,72.4H391.6V82.6H384.4ZM86.6,82.6H93.8V91.8H86.6ZM304.5,82.6H311.7V91.8H304.5ZM428,82.6H435.2V91.8H428ZM573.2,82.6H580.5V91.8H573.2ZM93.8,91.8H101.1V100.4H93.8ZM304.5,91.8H311.7V100.4H304.5ZM195.5,100.4H202.8V108.4H195.5ZM275.4,100.4H282.7V108.4H275.4ZM333.5,100.4H340.8V108.4H333.5ZM377.1,100.4H384.4V108.4H377.1ZM398.9,108.4H406.2V115.9H398.9ZM558.7,108.4H566V115.9H558.7ZM457,115.9H464.3V122.9H457ZM515.1,115.9H522.4V122.9H515.1ZM181,122.9H188.2V129.6H181ZM420.7,122.9H428V129.6H420.7ZM130.1,129.6H137.4V135.9H130.1ZM544.2,129.6H551.4V135.9H544.2ZM144.7,135.9H151.9V142H144.7ZM340.8,135.9H348.1V142H340.8ZM507.9,135.9H515.1V142H507.9ZM166.5,142H173.7V147.7H166.5ZM101.1,147.7H108.3V153.2H101.1ZM449.8,147.7H457V153.2H449.8ZM536.9,147.7H544.2V153.2H536.9ZM217.3,153.2H224.6V158.6H217.3ZM362.6,153.2H369.8V158.6H362.6ZM471.5,153.2H478.8V158.6H471.5ZM500.6,158.6H507.9V163.7H500.6ZM333.5,163.7H340.8V168.6H333.5ZM420.7,163.7H428V168.6H420.7ZM464.3,163.7H471.5V168.6H464.3ZM224.6,168.6H231.8V173.5H224.6ZM536.9,168.6H544.2V173.5H536.9ZM326.3,173.5H333.5V178.1H326.3ZM435.2,173.5H442.5V178.1H435.2ZM173.7,178.1H181V182.7H173.7ZM202.8,178.1H210V182.7H202.8ZM369.8,178.1H377.1V182.7H369.8ZM420.7,178.1H428V182.7H420.7ZM319,182.7H326.3V187.1H319ZM558.7,182.7H566V187.1H558.7ZM101.1,187.1H108.3V191.4H101.1ZM130.1,187.1H137.4V191.4H130.1ZM144.7,187.1H151.9V191.4H144.7ZM522.4,187.1H529.7V191.4H522.4ZM210,191.4H217.3V195.6H210ZM471.5,191.4H478.8V195.6H471.5ZM304.5,195.6H311.7V199.8H304.5ZM515.1,195.6H522.4V199.8H515.1ZM340.8,199.8H348.1V203.9H340.8ZM173.7,207.9H181V211.8H173.7ZM297.2,207.9H304.5V211.8H297.2ZM159.2,211.8H166.5V215.7H159.2ZM442.5,215.7H449.8V219.5H442.5ZM166.5,219.5H173.7V223.3H166.5ZM478.8,219.5H486.1V223.3H478.8ZM297.2,223.3H304.5V227.1H297.2ZM326.3,223.3H333.5V227.1H326.3ZM304.5,230.8H311.7V234.5H304.5ZM464.3,230.8H471.5V234.5H464.3ZM369.8,234.5H377.1V238.1H369.8ZM478.8,241.8H486.1V245.4H478.8ZM493.3,241.8H500.6V245.4H493.3ZM224.6,245.4H231.8V249.1H224.6ZM217.3,256.3H224.6V260H217.3ZM573.2,256.3H580.5V260H573.2ZM500.6,260H507.9V263.6H500.6ZM260.9,263.6H268.2V267.3H260.9ZM369.8,263.6H377.1V267.3H369.8ZM464.3,263.6H471.5V267.3H464.3ZM507.9,267.3H515.1V270.9H507.9ZM210,270.9H217.3V274.6H210ZM239.1,274.6H246.4V278.3H239.1ZM348.1,278.3H355.3V282.1H348.1ZM573.2,278.3H580.5V282.1H573.2ZM536.9,282.1H544.2V285.9H536.9ZM246.4,285.9H253.6V289.7H246.4ZM558.7,285.9H566V289.7H558.7ZM507.9,289.7H515.1V293.6H507.9ZM217.3,293.6H224.6V297.5H217.3ZM573.2,297.5H580.5V301.5H573.2ZM217.3,301.5H224.6V305.6H217.3ZM340.8,301.5H348.1V305.6H340.8ZM493.3,301.5H500.6V305.6H493.3ZM536.9,314H544.2V318.3H536.9ZM558.7,318.3H566V322.7H558.7ZM551.4,327.3H558.7V331.9H551.4ZM558.7,327.3H566V331.9H558.7ZM224.6,363.4H231.8V369.5H224.6ZM522.4,363.4H529.7V369.5H522.4ZM478.8,369.5H486.1V375.8H478.8ZM348.1,375.8H355.3V382.5H348.1ZM391.6,375.8H398.9V382.5H391.6ZM515.1,375.8H522.4V382.5H515.1ZM428,382.5H435.2V389.5H428ZM551.4,382.5H558.7V389.5H551.4ZM246.4,389.5H253.6V397H246.4ZM311.7,389.5H319V397H311.7ZM442.5,389.5H449.8V397H442.5ZM457,389.5H464.3V397H457ZM72,397H79.3V405H72ZM93.8,397H101.1V405H93.8ZM101.1,397H108.3V405H101.1ZM253.6,405H260.9V413.6H253.6ZM289.9,405H297.2V413.6H289.9ZM326.3,405H333.5V413.6H326.3ZM507.9,405H515.1V413.6H507.9ZM64.8,413.6H72V422.8H64.8ZM122.9,413.6H130.1V422.8H122.9ZM195.5,413.6H202.8V422.8H195.5ZM268.2,413.6H275.4V422.8H268.2ZM369.8,413.6H377.1V422.8H369.8ZM544.2,422.8H551.4V433H544.2ZM231.8,433H239.1V444.1H231.8ZM304.5,433H311.7V444.1H304.5ZM340.8,433H348.1V444.1H340.8ZM428,433H435.2V444.1H428Z"/><path fill="#8cb3d4" d="M57.5,72.4H64.8V82.6H57.5ZM246.4,100.4H253.6V108.4H246.4ZM340.8,100.4H348.1V108.4H340.8ZM159.2,108.4H166.5V115.9H159.2ZM377.1,108.4H384.4V115.9H377.1ZM239.1,122.9H246.4V129.6H239.1ZM391.6,122.9H398.9V129.6H391.6ZM449.8,122.9H457V129.6H449.8ZM566,122.9H573.2V129.6H566ZM101.1,129.6H108.3V135.9H101.1ZM486.1,129.6H493.3V135.9H486.1ZM536.9,129.6H544.2V135.9H536.9ZM108.3,135.9H115.6V142H108.3ZM428,135.9H435.2V142H428ZM471.5,135.9H478.8V142H471.5ZM573.2,135.9H580.5V142H573.2ZM64.8,142H72V147.7H64.8ZM202.8,142H210V147.7H202.8ZM355.3,142H362.6V147.7H355.3ZM515.1,142H522.4V147.7H515.1ZM333.5,147.7H340.8V153.2H333.5ZM79.3,153.2H86.6V158.6H79.3ZM159.2,153.2H166.5V158.6H159.2ZM268.2,153.2H275.4V158.6H268.2ZM428,153.2H435.2V158.6H428ZM144.7,158.6H151.9V163.7H144.7ZM202.8,158.6H210V163.7H202.8ZM210,158.6H217.3V163.7H210ZM340.8,158.6H348.1V163.7H340.8ZM391.6,158.6H398.9V163.7H391.6ZM558.7,158.6H566V163.7H558.7ZM311.7,163.7H319V168.6H311.7ZM442.5,163.7H449.8V168.6H442.5ZM137.4,168.6H144.7V173.5H137.4ZM507.9,168.6H515.1V173.5H507.9ZM544.2,168.6H551.4V173.5H544.2ZM558.7,168.6H566V173.5H558.7ZM188.2,173.5H195.5V178.1H188.2ZM573.2,173.5H580.5V178.1H573.2ZM348.1,178.1H355.3V182.7H348.1ZM362.6,178.1H369.8V182.7H362.6ZM413.4,178.1H420.7V182.7H413.4ZM449.8,178.1H457V182.7H449.8ZM166.5,182.7H173.7V187.1H166.5ZM173.7,182.7H181V187.1H173.7ZM464.3,182.7H471.5V187.1H464.3ZM64.8,187.1H72V191.4H64.8ZM326.3,187.1H333.5V191.4H326.3ZM340.8,187.1H348.1V191.4H340.8ZM413.4,187.1H420.7V191.4H413.4ZM188.2,191.4H195.5V195.6H188.2ZM311.7,191.4H319V195.6H311.7ZM319,195.6H326.3V199.8H319ZM413.4,195.6H420.7V199.8H413.4ZM478.8,195.6H486.1V199.8H478.8ZM166.5,199.8H173.7V203.9H166.5ZM355.3,199.8H362.6V203.9H355.3ZM377.1,199.8H384.4V203.9H377.1ZM159.2,203.9H166.5V207.9H159.2ZM181,203.9H188.2V207.9H181ZM188.2,207.9H195.5V211.8H188.2ZM362.6,211.8H369.8V215.7H362.6ZM369.8,211.8H377.1V215.7H369.8ZM398.9,211.8H406.2V215.7H398.9ZM297.2,219.5H304.5V223.3H297.2ZM340.8,219.5H348.1V223.3H340.8ZM413.4,219.5H420.7V223.3H413.4ZM486.1,219.5H493.3V223.3H486.1ZM348.1,223.3H355.3V227.1H348.1ZM413.4,223.3H420.7V227.1H413.4ZM428,223.3H435.2V227.1H428ZM362.6,227.1H369.8V230.8H362.6ZM391.6,227.1H398.9V230.8H391.6ZM340.8,230.8H348.1V234.5H340.8ZM369.8,230.8H377.1V234.5H369.8ZM471.5,234.5H478.8V238.1H471.5ZM493.3,238.1H500.6V241.8H493.3ZM362.6,245.4H369.8V249.1H362.6ZM355.3,252.7H362.6V256.3H355.3ZM471.5,252.7H478.8V256.3H471.5ZM239.1,256.3H246.4V260H239.1ZM202.8,263.6H210V267.3H202.8ZM493.3,267.3H500.6V270.9H493.3ZM224.6,270.9H231.8V274.6H224.6ZM231.8,270.9H239.1V274.6H231.8ZM355.3,270.9H362.6V274.6H355.3ZM478.8,270.9H486.1V274.6H478.8ZM529.7,282.1H536.9V285.9H529.7ZM224.6,289.7H231.8V293.6H224.6ZM566,289.7H573.2V293.6H566ZM529.7,293.6H536.9V297.5H529.7ZM536.9,301.5H544.2V305.6H536.9ZM573.2,301.5H580.5V305.6H573.2ZM529.7,305.6H536.9V309.8H529.7ZM210,322.7H217.3V327.3H210ZM544.2,322.7H551.4V327.3H544.2ZM566,322.7H573.2V327.3H566ZM217.3,369.5H224.6V375.8H217.3ZM522.4,369.5H529.7V375.8H522.4ZM362.6,375.8H369.8V382.5H362.6ZM464.3,375.8H471.5V382.5H464.3ZM478.8,375.8H486.1V382.5H478.8ZM224.6,382.5H231.8V389.5H224.6ZM137.4,389.5H144.7V397H137.4ZM173.7,389.5H181V397H173.7ZM297.2,389.5H304.5V397H297.2ZM544.2,389.5H551.4V397H544.2ZM86.6,397H93.8V405H86.6ZM137.4,405H144.7V413.6H137.4ZM202.8,405H210V413.6H202.8ZM217.3,405H224.6V413.6H217.3ZM282.7,405H289.9V413.6H282.7ZM391.6,405H398.9V413.6H391.6ZM493.3,405H500.6V413.6H493.3ZM86.6,413.6H93.8V422.8H86.6ZM144.7,413.6H151.9V422.8H144.7ZM260.9,413.6H268.2V422.8H260.9ZM486.1,413.6H493.3V422.8H486.1ZM57.5,422.8H64.8V433H57.5ZM275.4,422.8H282.7V433H275.4ZM573.2,422.8H580.5V433H573.2ZM166.5,433H173.7V444.1H166.5ZM377.1,433H384.4V444.1H377.1Z"/><path fill="#7aa4c8" d="M79.3,72.4H86.6V82.6H79.3ZM144.7,72.4H151.9V82.6H144.7ZM188.2,72.4H195.5V82.6H188.2ZM297.2,72.4H304.5V82.6H297.2ZM348.1,72.4H355.3V82.6H348.1ZM536.9,72.4H544.2V82.6H536.9ZM173.7,82.6H181V91.8H173.7ZM348.1,82.6H355.3V91.8H348.1ZM384.4,82.6H391.6V91.8H384.4ZM144.7,91.8H151.9V100.4H144.7ZM253.6,91.8H260.9V100.4H253.6ZM297.2,91.8H304.5V100.4H297.2ZM398.9,91.8H406.2V100.4H398.9ZM435.2,91.8H442.5V100.4H435.2ZM573.2,91.8H580.5V100.4H573.2ZM181,100.4H188.2V108.4H181ZM79.3,108.4H86.6V115.9H79.3ZM202.8,108.4H210V115.9H202.8ZM224.6,108.4H231.8V115.9H224.6ZM239.1,108.4H246.4V115.9H239.1ZM275.4,108.4H282.7V115.9H275.4ZM406.2,108.4H413.4V115.9H406.2ZM428,108.4H435.2V115.9H428ZM464.3,108.4H471.5V115.9H464.3ZM151.9,115.9H159.2V122.9H151.9ZM297.2,115.9H304.5V122.9H297.2ZM428,115.9H435.2V122.9H428ZM115.6,122.9H122.9V129.6H115.6ZM253.6,122.9H260.9V129.6H253.6ZM297.2,122.9H304.5V129.6H297.2ZM355.3,122.9H362.6V129.6H355.3ZM529.7,122.9H536.9V129.6H529.7ZM166.5,129.6H173.7V135.9H166.5ZM195.5,129.6H202.8V135.9H195.5ZM507.9,129.6H515.1V135.9H507.9ZM130.1,135.9H137.4V142H130.1ZM159.2,135.9H166.5V142H159.2ZM166.5,135.9H173.7V142H166.5ZM464.3,135.9H471.5V142H464.3ZM544.2,135.9H551.4V142H544.2ZM231.8,142H239.1V147.7H231.8ZM486.1,142H493.3V147.7H486.1ZM253.6,147.7H260.9V153.2H253.6ZM289.9,147.7H297.2V153.2H289.9ZM369.8,147.7H377.1V153.2H369.8ZM420.7,147.7H428V153.2H420.7ZM420.7,153.2H428V158.6H420.7ZM551.4,153.2H558.7V158.6H551.4ZM173.7,158.6H181V163.7H173.7ZM500.6,163.7H507.9V168.6H500.6ZM101.1,168.6H108.3V173.5H101.1ZM428,168.6H435.2V173.5H428ZM398.9,173.5H406.2V178.1H398.9ZM144.7,178.1H151.9V182.7H144.7ZM217.3,178.1H224.6V182.7H217.3ZM319,178.1H326.3V182.7H319ZM478.8,178.1H486.1V182.7H478.8ZM529.7,178.1H536.9V182.7H529.7ZM93.8,187.1H101.1V191.4H93.8ZM500.6,187.1H507.9V191.4H500.6ZM573.2,187.1H580.5V191.4H573.2ZM144.7,191.4H151.9V195.6H144.7ZM442.5,191.4H449.8V195.6H442.5ZM79.3,195.6H86.6V199.8H79.3ZM449.8,195.6H457V199.8H449.8ZM435.2,203.9H442.5V207.9H435.2ZM159.2,207.9H166.5V211.8H159.2ZM319,207.9H326.3V211.8H319ZM311.7,211.8H319V215.7H311.7ZM449.8,211.8H457V215.7H449.8ZM348.1,215.7H355.3V219.5H348.1ZM420.7,215.7H428V219.5H420.7ZM435.2,215.7H442.5V219.5H435.2ZM173.7,219.5H181V223.3H173.7ZM319,227.1H326.3V230.8H319ZM449.8,227.1H457V230.8H449.8ZM188.2,230.8H195.5V234.5H188.2ZM297.2,230.8H304.5V234.5H297.2ZM435.2,230.8H442.5V234.5H435.2ZM319,234.5H326.3V238.1H319ZM449.8,234.5H457V238.1H449.8ZM166.5,238.1H173.7V241.8H166.5ZM486.1,238.1H493.3V241.8H486.1ZM210,241.8H217.3V245.4H210ZM253.6,241.8H260.9V245.4H253.6ZM457,241.8H464.3V245.4H457ZM231.8,245.4H239.1V249.1H231.8ZM319,245.4H326.3V249.1H319ZM478.8,245.4H486.1V249.1H478.8ZM333.5,249.1H340.8V252.7H333.5ZM355.3,249.1H362.6V252.7H355.3ZM188.2,252.7H195.5V256.3H188.2ZM144.7,256.3H151.9V260H144.7ZM224.6,256.3H231.8V260H224.6ZM362.6,256.3H369.8V260H362.6ZM166.5,260H173.7V263.6H166.5ZM188.2,260H195.5V263.6H188.2ZM471.5,260H478.8V263.6H471.5ZM253.6,270.9H260.9V274.6H253.6ZM326.3,270.9H333.5V274.6H326.3ZM464.3,270.9H471.5V274.6H464.3ZM217.3,278.3H224.6V282.1H217.3ZM377.1,278.3H384.4V282.1H377.1ZM471.5,278.3H478.8V282.1H471.5ZM115.6,282.1H122.9V285.9H115.6ZM151.9,282.1H159.2V285.9H151.9ZM231.8,282.1H239.1V285.9H231.8ZM340.8,282.1H348.1V285.9H340.8ZM231.8,285.9H239.1V289.7H231.8ZM282.7,285.9H289.9V289.7H282.7ZM297.2,285.9H304.5V289.7H297.2ZM355.3,289.7H362.6V293.6H355.3ZM471.5,289.7H478.8V293.6H471.5ZM391.6,293.6H398.9V297.5H391.6ZM471.5,293.6H478.8V297.5H471.5ZM536.9,293.6H544.2V297.5H536.9ZM130.1,297.5H137.4V301.5H130.1ZM268.2,297.5H275.4V301.5H268.2ZM355.3,297.5H362.6V301.5H355.3ZM384.4,297.5H391.6V301.5H384.4ZM435.2,297.5H442.5V301.5H435.2ZM478.8,297.5H486.1V301.5H478.8ZM486.1,297.5H493.3V301.5H486.1ZM239.1,301.5H246.4V305.6H239.1ZM188.2,305.6H195.5V309.8H188.2ZM311.7,309.8H319V314H311.7ZM319,309.8H326.3V314H319ZM493.3,309.8H500.6V314H493.3ZM544.2,309.8H551.4V314H544.2ZM202.8,314H210V318.3H202.8ZM558.7,314H566V318.3H558.7ZM181,322.7H188.2V327.3H181ZM93.8,327.3H101.1V331.9H93.8ZM159.2,327.3H166.5V331.9H159.2ZM319,331.9H326.3V336.8H319ZM435.2,331.9H442.5V336.8H435.2ZM515.1,331.9H522.4V336.8H515.1ZM108.3,336.8H115.6V341.7H108.3ZM115.6,336.8H122.9V341.7H115.6ZM297.2,336.8H304.5V341.7H297.2ZM478.8,336.8H486.1V341.7H478.8ZM522.4,336.8H529.7V341.7H522.4ZM573.2,336.8H580.5V341.7H573.2ZM130.1,341.7H137.4V346.8H130.1ZM435.2,341.7H442.5V346.8H435.2ZM507.9,341.7H515.1V346.8H507.9ZM93.8,346.8H101.1V352.2H93.8ZM304.5,346.8H311.7V352.2H304.5ZM166.5,352.2H173.7V357.7H166.5ZM239.1,352.2H246.4V357.7H239.1ZM311.7,352.2H319V357.7H311.7ZM493.3,352.2H500.6V357.7H493.3ZM144.7,357.7H151.9V363.4H144.7ZM319,357.7H326.3V363.4H319ZM442.5,357.7H449.8V363.4H442.5ZM137.4,363.4H144.7V369.5H137.4ZM72,369.5H79.3V375.8H72ZM181,369.5H188.2V375.8H181ZM384.4,369.5H391.6V375.8H384.4ZM130.1,375.8H137.4V382.5H130.1ZM326.3,375.8H333.5V382.5H326.3ZM435.2,375.8H442.5V382.5H435.2ZM573.2,375.8H580.5V382.5H573.2ZM188.2,382.5H195.5V389.5H188.2ZM544.2,382.5H551.4V389.5H544.2ZM151.9,389.5H159.2V397H151.9ZM486.1,389.5H493.3V397H486.1ZM522.4,389.5H529.7V397H522.4ZM115.6,397H122.9V405H115.6ZM57.5,405H64.8V413.6H57.5ZM362.6,405H369.8V413.6H362.6ZM406.2,405H413.4V413.6H406.2ZM428,405H435.2V413.6H428ZM464.3,405H471.5V413.6H464.3ZM224.6,413.6H231.8V422.8H224.6ZM231.8,413.6H239.1V422.8H231.8ZM391.6,413.6H398.9V422.8H391.6ZM435.2,413.6H442.5V422.8H435.2ZM464.3,413.6H471.5V422.8H464.3ZM522.4,413.6H529.7V422.8H522.4ZM122.9,422.8H130.1V433H122.9ZM304.5,422.8H311.7V433H304.5ZM493.3,422.8H500.6V433H493.3ZM319,433H326.3V444.1H319Z"/><path fill="#6390ba" d="M202.8,72.4H210V82.6H202.8ZM224.6,72.4H231.8V82.6H224.6ZM268.2,72.4H275.4V82.6H268.2ZM391.6,72.4H398.9V82.6H391.6ZM398.9,72.4H406.2V82.6H398.9ZM428,72.4H435.2V82.6H428ZM435.2,72.4H442.5V82.6H435.2ZM566,72.4H573.2V82.6H566ZM93.8,82.6H101.1V91.8H93.8ZM166.5,82.6H173.7V91.8H166.5ZM311.7,82.6H319V91.8H311.7ZM319,82.6H326.3V91.8H319ZM413.4,82.6H420.7V91.8H413.4ZM442.5,82.6H449.8V91.8H442.5ZM457,82.6H464.3V91.8H457ZM515.1,82.6H522.4V91.8H515.1ZM130.1,91.8H137.4V100.4H130.1ZM428,91.8H435.2V100.4H428ZM93.8,100.4H101.1V108.4H93.8ZM137.4,100.4H144.7V108.4H137.4ZM64.8,108.4H72V115.9H64.8ZM144.7,108.4H151.9V115.9H144.7ZM297.2,108.4H304.5V115.9H297.2ZM507.9,108.4H515.1V115.9H507.9ZM544.2,108.4H551.4V115.9H544.2ZM210,115.9H217.3V122.9H210ZM253.6,115.9H260.9V122.9H253.6ZM406.2,115.9H413.4V122.9H406.2ZM464.3,115.9H471.5V122.9H464.3ZM522.4,115.9H529.7V122.9H522.4ZM86.6,122.9H93.8V129.6H86.6ZM159.2,122.9H166.5V129.6H159.2ZM173.7,122.9H181V129.6H173.7ZM544.2,122.9H551.4V129.6H544.2ZM72,129.6H79.3V135.9H72ZM79.3,129.6H86.6V135.9H79.3ZM246.4,129.6H253.6V135.9H246.4ZM377.1,129.6H384.4V135.9H377.1ZM478.8,129.6H486.1V135.9H478.8ZM202.8,135.9H210V142H202.8ZM210,135.9H217.3V142H210ZM319,135.9H326.3V142H319ZM486.1,135.9H493.3V142H486.1ZM536.9,135.9H544.2V142H536.9ZM79.3,142H86.6V147.7H79.3ZM507.9,142H515.1V147.7H507.9ZM566,142H573.2V147.7H566ZM231.8,147.7H239.1V153.2H231.8ZM311.7,147.7H319V153.2H311.7ZM384.4,147.7H391.6V153.2H384.4ZM442.5,147.7H449.8V153.2H442.5ZM130.1,153.2H137.4V158.6H130.1ZM333.5,153.2H340.8V158.6H333.5ZM355.3,153.2H362.6V158.6H355.3ZM369.8,153.2H377.1V158.6H369.8ZM464.3,153.2H471.5V158.6H464.3ZM522.4,153.2H529.7V158.6H522.4ZM181,158.6H188.2V163.7H181ZM188.2,158.6H195.5V163.7H188.2ZM260.9,158.6H268.2V163.7H260.9ZM326.3,158.6H333.5V163.7H326.3ZM348.1,158.6H355.3V163.7H348.1ZM471.5,158.6H478.8V163.7H471.5ZM130.1,163.7H137.4V168.6H130.1ZM217.3,163.7H224.6V168.6H217.3ZM239.1,163.7H246.4V168.6H239.1ZM297.2,163.7H304.5V168.6H297.2ZM384.4,163.7H391.6V168.6H384.4ZM413.4,163.7H420.7V168.6H413.4ZM428,163.7H435.2V168.6H428ZM449.8,163.7H457V168.6H449.8ZM108.3,168.6H115.6V173.5H108.3ZM115.6,168.6H122.9V173.5H115.6ZM151.9,168.6H159.2V173.5H151.9ZM166.5,168.6H173.7V173.5H166.5ZM464.3,168.6H471.5V173.5H464.3ZM57.5,173.5H64.8V178.1H57.5ZM166.5,173.5H173.7V178.1H166.5ZM471.5,173.5H478.8V178.1H471.5ZM536.9,173.5H544.2V178.1H536.9ZM79.3,182.7H86.6V187.1H79.3ZM151.9,182.7H159.2V187.1H151.9ZM195.5,182.7H202.8V187.1H195.5ZM340.8,182.7H348.1V187.1H340.8ZM471.5,182.7H478.8V187.1H471.5ZM333.5,187.1H340.8V191.4H333.5ZM362.6,187.1H369.8V191.4H362.6ZM464.3,187.1H471.5V191.4H464.3ZM137.4,191.4H144.7V195.6H137.4ZM202.8,191.4H210V195.6H202.8ZM268.2,191.4H275.4V195.6H268.2ZM398.9,191.4H406.2V195.6H398.9ZM428,191.4H435.2V195.6H428ZM507.9,191.4H515.1V195.6H507.9ZM57.5,195.6H64.8V199.8H57.5ZM64.8,195.6H72V199.8H64.8ZM166.5,195.6H173.7V199.8H166.5ZM202.8,195.6H210V199.8H202.8ZM224.6,195.6H231.8V199.8H224.6ZM253.6,195.6H260.9V199.8H253.6ZM355.3,195.6H362.6V199.8H355.3ZM57.5,199.8H64.8V203.9H57.5ZM64.8,199.8H72V203.9H64.8ZM93.8,199.8H101.1V203.9H93.8ZM202.8,199.8H210V203.9H202.8ZM210,199.8H217.3V203.9H210ZM297.2,199.8H304.5V203.9H297.2ZM515.1,199.8H522.4V203.9H515.1ZM101.1,203.9H108.3V207.9H101.1ZM391.6,203.9H398.9V207.9H391.6ZM573.2,203.9H580.5V207.9H573.2ZM413.4,207.9H420.7V211.8H413.4ZM536.9,207.9H544.2V211.8H536.9ZM86.6,211.8H93.8V215.7H86.6ZM166.5,211.8H173.7V215.7H166.5ZM224.6,211.8H231.8V215.7H224.6ZM384.4,211.8H391.6V215.7H384.4ZM428,211.8H435.2V215.7H428ZM486.1,211.8H493.3V215.7H486.1ZM522.4,211.8H529.7V215.7H522.4ZM573.2,211.8H580.5V215.7H573.2ZM86.6,215.7H93.8V219.5H86.6ZM93.8,215.7H101.1V219.5H93.8ZM289.9,215.7H297.2V219.5H289.9ZM507.9,215.7H515.1V219.5H507.9ZM529.7,215.7H536.9V219.5H529.7ZM57.5,219.5H64.8V223.3H57.5ZM202.8,219.5H210V223.3H202.8ZM275.4,219.5H282.7V223.3H275.4ZM529.7,219.5H536.9V223.3H529.7ZM544.2,219.5H551.4V223.3H544.2ZM108.3,223.3H115.6V227.1H108.3ZM115.6,223.3H122.9V227.1H115.6ZM231.8,223.3H239.1V227.1H231.8ZM529.7,223.3H536.9V227.1H529.7ZM122.9,227.1H130.1V230.8H122.9ZM181,227.1H188.2V230.8H181ZM311.7,227.1H319V230.8H311.7ZM369.8,227.1H377.1V230.8H369.8ZM500.6,227.1H507.9V230.8H500.6ZM529.7,227.1H536.9V230.8H529.7ZM377.1,230.8H384.4V234.5H377.1ZM413.4,230.8H420.7V234.5H413.4ZM86.6,234.5H93.8V238.1H86.6ZM144.7,238.1H151.9V241.8H144.7ZM449.8,238.1H457V241.8H449.8ZM79.3,241.8H86.6V245.4H79.3ZM181,241.8H188.2V245.4H181ZM195.5,241.8H202.8V245.4H195.5ZM282.7,241.8H289.9V245.4H282.7ZM406.2,241.8H413.4V245.4H406.2ZM507.9,241.8H515.1V245.4H507.9ZM210,245.4H217.3V249.1H210ZM268.2,245.4H275.4V249.1H268.2ZM311.7,245.4H319V249.1H311.7ZM420.7,245.4H428V249.1H420.7ZM406.2,249.1H413.4V252.7H406.2ZM529.7,249.1H536.9V252.7H529.7ZM108.3,252.7H115.6V256.3H108.3ZM369.8,252.7H377.1V256.3H369.8ZM522.4,252.7H529.7V256.3H522.4ZM57.5,256.3H64.8V260H57.5ZM253.6,256.3H260.9V260H253.6ZM377.1,256.3H384.4V260H377.1ZM507.9,256.3H515.1V260H507.9ZM515.1,256.3H522.4V260H515.1ZM319,263.6H326.3V267.3H319ZM326.3,263.6H333.5V267.3H326.3ZM406.2,263.6H413.4V267.3H406.2ZM420.7,263.6H428V267.3H420.7ZM144.7,267.3H151.9V270.9H144.7ZM289.9,267.3H297.2V270.9H289.9ZM406.2,267.3H413.4V270.9H406.2ZM420.7,267.3H428V270.9H420.7ZM442.5,267.3H449.8V270.9H442.5ZM173.7,270.9H181V274.6H173.7ZM311.7,270.9H319V274.6H311.7ZM319,270.9H326.3V274.6H319ZM348.1,270.9H355.3V274.6H348.1ZM442.5,274.6H449.8V278.3H442.5ZM493.3,274.6H500.6V278.3H493.3ZM573.2,274.6H580.5V278.3H573.2ZM253.6,278.3H260.9V282.1H253.6ZM86.6,282.1H93.8V285.9H86.6ZM101.1,282.1H108.3V285.9H101.1ZM420.7,282.1H428V285.9H420.7ZM449.8,282.1H457V285.9H449.8ZM551.4,282.1H558.7V285.9H551.4ZM72,285.9H79.3V289.7H72ZM210,285.9H217.3V289.7H210ZM268.2,285.9H275.4V289.7H268.2ZM275.4,285.9H282.7V289.7H275.4ZM369.8,285.9H377.1V289.7H369.8ZM57.5,289.7H64.8V293.6H57.5ZM64.8,289.7H72V293.6H64.8ZM108.3,289.7H115.6V293.6H108.3ZM130.1,289.7H137.4V293.6H130.1ZM159.2,289.7H166.5V293.6H159.2ZM442.5,289.7H449.8V293.6H442.5ZM493.3,289.7H500.6V293.6H493.3ZM159.2,293.6H166.5V297.5H159.2ZM253.6,293.6H260.9V297.5H253.6ZM362.6,293.6H369.8V297.5H362.6ZM464.3,293.6H471.5V297.5H464.3ZM500.6,293.6H507.9V297.5H500.6ZM566,293.6H573.2V297.5H566ZM93.8,297.5H101.1V301.5H93.8ZM217.3,297.5H224.6V301.5H217.3ZM253.6,297.5H260.9V301.5H253.6ZM348.1,297.5H355.3V301.5H348.1ZM551.4,297.5H558.7V301.5H551.4ZM130.1,301.5H137.4V305.6H130.1ZM144.7,301.5H151.9V305.6H144.7ZM151.9,301.5H159.2V305.6H151.9ZM355.3,301.5H362.6V305.6H355.3ZM362.6,301.5H369.8V305.6H362.6ZM449.8,301.5H457V305.6H449.8ZM471.5,301.5H478.8V305.6H471.5ZM246.4,305.6H253.6V309.8H246.4ZM406.2,305.6H413.4V309.8H406.2ZM326.3,309.8H333.5V314H326.3ZM348.1,309.8H355.3V314H348.1ZM369.8,309.8H377.1V314H369.8ZM398.9,309.8H406.2V314H398.9ZM86.6,314H93.8V318.3H86.6ZM384.4,314H391.6V318.3H384.4ZM420.7,314H428V318.3H420.7ZM529.7,314H536.9V318.3H529.7ZM108.3,318.3H115.6V322.7H108.3ZM115.6,318.3H122.9V322.7H115.6ZM173.7,318.3H181V322.7H173.7ZM304.5,318.3H311.7V322.7H304.5ZM369.8,318.3H377.1V322.7H369.8ZM377.1,318.3H384.4V322.7H377.1ZM57.5,322.7H64.8V327.3H57.5ZM64.8,322.7H72V327.3H64.8ZM224.6,322.7H231.8V327.3H224.6ZM340.8,322.7H348.1V327.3H340.8ZM406.2,322.7H413.4V327.3H406.2ZM246.4,327.3H253.6V331.9H246.4ZM362.6,327.3H369.8V331.9H362.6ZM406.2,327.3H413.4V331.9H406.2ZM108.3,331.9H115.6V336.8H108.3ZM377.1,331.9H384.4V336.8H377.1ZM384.4,331.9H391.6V336.8H384.4ZM159.2,336.8H166.5V341.7H159.2ZM420.7,336.8H428V341.7H420.7ZM471.5,336.8H478.8V341.7H471.5ZM72,341.7H79.3V346.8H72ZM377.1,341.7H384.4V346.8H377.1ZM391.6,341.7H398.9V346.8H391.6ZM471.5,341.7H478.8V346.8H471.5ZM544.2,341.7H551.4V346.8H544.2ZM166.5,346.8H173.7V352.2H166.5ZM362.6,346.8H369.8V352.2H362.6ZM377.1,346.8H384.4V352.2H377.1ZM558.7,346.8H566V352.2H558.7ZM93.8,352.2H101.1V357.7H93.8ZM181,352.2H188.2V357.7H181ZM282.7,352.2H289.9V357.7H282.7ZM355.3,352.2H362.6V357.7H355.3ZM464.3,352.2H471.5V357.7H464.3ZM101.1,357.7H108.3V363.4H101.1ZM151.9,357.7H159.2V363.4H151.9ZM210,357.7H217.3V363.4H210ZM289.9,357.7H297.2V363.4H289.9ZM311.7,357.7H319V363.4H311.7ZM384.4,357.7H391.6V363.4H384.4ZM457,357.7H464.3V363.4H457ZM86.6,363.4H93.8V369.5H86.6ZM122.9,363.4H130.1V369.5H122.9ZM246.4,363.4H253.6V369.5H246.4ZM260.9,363.4H268.2V369.5H260.9ZM275.4,363.4H282.7V369.5H275.4ZM304.5,363.4H311.7V369.5H304.5ZM348.1,363.4H355.3V369.5H348.1ZM369.8,363.4H377.1V369.5H369.8ZM544.2,363.4H551.4V369.5H544.2ZM57.5,369.5H64.8V375.8H57.5ZM64.8,369.5H72V375.8H64.8ZM93.8,369.5H101.1V375.8H93.8ZM101.1,369.5H108.3V375.8H101.1ZM260.9,369.5H268.2V375.8H260.9ZM355.3,369.5H362.6V375.8H355.3ZM420.7,369.5H428V375.8H420.7ZM500.6,369.5H507.9V375.8H500.6ZM566,369.5H573.2V375.8H566ZM115.6,375.8H122.9V382.5H115.6ZM122.9,375.8H130.1V382.5H122.9ZM253.6,375.8H260.9V382.5H253.6ZM355.3,375.8H362.6V382.5H355.3ZM413.4,375.8H420.7V382.5H413.4ZM304.5,382.5H311.7V389.5H304.5ZM340.8,382.5H348.1V389.5H340.8ZM362.6,382.5H369.8V389.5H362.6ZM442.5,382.5H449.8V389.5H442.5ZM515.1,382.5H522.4V389.5H515.1ZM64.8,389.5H72V397H64.8ZM93.8,389.5H101.1V397H93.8ZM108.3,389.5H115.6V397H108.3ZM130.1,389.5H137.4V397H130.1ZM217.3,389.5H224.6V397H217.3ZM231.8,389.5H239.1V397H231.8ZM289.9,389.5H297.2V397H289.9ZM319,389.5H326.3V397H319ZM377.1,389.5H384.4V397H377.1ZM268.2,397H275.4V405H268.2ZM348.1,397H355.3V405H348.1ZM471.5,397H478.8V405H471.5ZM500.6,397H507.9V405H500.6ZM558.7,397H566V405H558.7ZM544.2,405H551.4V413.6H544.2ZM355.3,413.6H362.6V422.8H355.3ZM515.1,413.6H522.4V422.8H515.1ZM79.3,422.8H86.6V433H79.3ZM260.9,422.8H268.2V433H260.9ZM486.1,422.8H493.3V433H486.1ZM115.6,433H122.9V444.1H115.6ZM202.8,433H210V444.1H202.8ZM311.7,433H319V444.1H311.7ZM369.8,433H377.1V444.1H369.8ZM398.9,433H406.2V444.1H398.9ZM406.2,433H413.4V444.1H406.2Z"/><path fill="#4c7eb0" d="M108.3,91.8H115.6V100.4H108.3ZM122.9,91.8H130.1V100.4H122.9ZM188.2,91.8H195.5V100.4H188.2ZM231.8,91.8H239.1V100.4H231.8ZM268.2,91.8H275.4V100.4H268.2ZM435.2,108.4H442.5V115.9H435.2ZM391.6,115.9H398.9V122.9H391.6ZM507.9,115.9H515.1V122.9H507.9ZM188.2,122.9H195.5V129.6H188.2ZM558.7,129.6H566V135.9H558.7ZM57.5,135.9H64.8V142H57.5ZM115.6,135.9H122.9V142H115.6ZM122.9,135.9H130.1V142H122.9ZM188.2,135.9H195.5V142H188.2ZM522.4,135.9H529.7V142H522.4ZM86.6,142H93.8V147.7H86.6ZM268.2,142H275.4V147.7H268.2ZM217.3,147.7H224.6V153.2H217.3ZM340.8,147.7H348.1V153.2H340.8ZM377.1,147.7H384.4V153.2H377.1ZM72,153.2H79.3V158.6H72ZM486.1,153.2H493.3V158.6H486.1ZM573.2,158.6H580.5V163.7H573.2ZM551.4,163.7H558.7V168.6H551.4ZM340.8,168.6H348.1V173.5H340.8ZM398.9,168.6H406.2V173.5H398.9ZM406.2,168.6H413.4V173.5H406.2ZM435.2,168.6H442.5V173.5H435.2ZM493.3,168.6H500.6V173.5H493.3ZM130.1,178.1H137.4V182.7H130.1ZM188.2,178.1H195.5V182.7H188.2ZM137.4,182.7H144.7V187.1H137.4ZM166.5,187.1H173.7V191.4H166.5ZM391.6,187.1H398.9V191.4H391.6ZM297.2,191.4H304.5V195.6H297.2ZM362.6,191.4H369.8V195.6H362.6ZM486.1,191.4H493.3V195.6H486.1ZM151.9,195.6H159.2V199.8H151.9ZM333.5,195.6H340.8V199.8H333.5ZM420.7,195.6H428V199.8H420.7ZM507.9,199.8H515.1V203.9H507.9ZM369.8,203.9H377.1V207.9H369.8ZM398.9,203.9H406.2V207.9H398.9ZM348.1,207.9H355.3V211.8H348.1ZM377.1,207.9H384.4V211.8H377.1ZM311.7,215.7H319V219.5H311.7ZM326.3,215.7H333.5V219.5H326.3ZM319,219.5H326.3V223.3H319ZM428,219.5H435.2V223.3H428ZM464.3,223.3H471.5V227.1H464.3ZM478.8,223.3H486.1V227.1H478.8ZM398.9,227.1H406.2V230.8H398.9ZM413.4,227.1H420.7V230.8H413.4ZM493.3,227.1H500.6V230.8H493.3ZM311.7,230.8H319V234.5H311.7ZM326.3,230.8H333.5V234.5H326.3ZM398.9,230.8H406.2V234.5H398.9ZM486.1,230.8H493.3V234.5H486.1ZM493.3,230.8H500.6V234.5H493.3ZM420.7,234.5H428V238.1H420.7ZM195.5,238.1H202.8V241.8H195.5ZM202.8,241.8H210V245.4H202.8ZM471.5,241.8H478.8V245.4H471.5ZM340.8,245.4H348.1V249.1H340.8ZM369.8,245.4H377.1V249.1H369.8ZM348.1,252.7H355.3V256.3H348.1ZM202.8,256.3H210V260H202.8ZM246.4,256.3H253.6V260H246.4ZM333.5,256.3H340.8V260H333.5ZM478.8,267.3H486.1V270.9H478.8ZM355.3,274.6H362.6V278.3H355.3ZM464.3,274.6H471.5V278.3H464.3ZM507.9,274.6H515.1V278.3H507.9ZM239.1,278.3H246.4V282.1H239.1ZM369.8,278.3H377.1V282.1H369.8ZM384.4,282.1H391.6V285.9H384.4ZM522.4,282.1H529.7V285.9H522.4ZM536.9,285.9H544.2V289.7H536.9ZM522.4,293.6H529.7V297.5H522.4ZM231.8,297.5H239.1V301.5H231.8ZM507.9,297.5H515.1V301.5H507.9ZM566,301.5H573.2V305.6H566ZM551.4,309.8H558.7V314H551.4ZM210,314H217.3V318.3H210ZM573.2,322.7H580.5V327.3H573.2ZM210,327.3H217.3V331.9H210ZM210,375.8H217.3V382.5H210ZM384.4,375.8H391.6V382.5H384.4ZM493.3,375.8H500.6V382.5H493.3ZM195.5,382.5H202.8V389.5H195.5ZM457,382.5H464.3V389.5H457ZM195.5,389.5H202.8V397H195.5ZM449.8,389.5H457V397H449.8ZM253.6,397H260.9V405H253.6ZM326.3,397H333.5V405H326.3ZM355.3,397H362.6V405H355.3ZM159.2,405H166.5V413.6H159.2ZM166.5,405H173.7V413.6H166.5ZM239.1,405H246.4V413.6H239.1ZM297.2,405H304.5V413.6H297.2ZM115.6,413.6H122.9V422.8H115.6ZM289.9,413.6H297.2V422.8H289.9ZM478.8,413.6H486.1V422.8H478.8ZM72,422.8H79.3V433H72ZM355.3,422.8H362.6V433H355.3ZM420.7,422.8H428V433H420.7ZM428,422.8H435.2V433H428ZM137.4,433H144.7V444.1H137.4ZM195.5,433H202.8V444.1H195.5ZM457,433H464.3V444.1H457ZM493.3,433H500.6V444.1H493.3Z"/><path fill="#3268a0" d="M159.2,72.4H166.5V82.6H159.2ZM72,82.6H79.3V91.8H72ZM108.3,82.6H115.6V91.8H108.3ZM115.6,82.6H122.9V91.8H115.6ZM231.8,82.6H239.1V91.8H231.8ZM246.4,82.6H253.6V91.8H246.4ZM268.2,82.6H275.4V91.8H268.2ZM507.9,82.6H515.1V91.8H507.9ZM558.7,82.6H566V91.8H558.7ZM72,91.8H79.3V100.4H72ZM210,91.8H217.3V100.4H210ZM86.6,100.4H93.8V108.4H86.6ZM391.6,100.4H398.9V108.4H391.6ZM558.7,100.4H566V108.4H558.7ZM57.5,108.4H64.8V115.9H57.5ZM311.7,108.4H319V115.9H311.7ZM442.5,108.4H449.8V115.9H442.5ZM515.1,108.4H522.4V115.9H515.1ZM529.7,108.4H536.9V115.9H529.7ZM384.4,115.9H391.6V122.9H384.4ZM435.2,115.9H442.5V122.9H435.2ZM573.2,115.9H580.5V122.9H573.2ZM137.4,129.6H144.7V135.9H137.4ZM224.6,129.6H231.8V135.9H224.6ZM275.4,129.6H282.7V135.9H275.4ZM304.5,129.6H311.7V135.9H304.5ZM362.6,129.6H369.8V135.9H362.6ZM413.4,129.6H420.7V135.9H413.4ZM442.5,129.6H449.8V135.9H442.5ZM173.7,135.9H181V142H173.7ZM275.4,135.9H282.7V142H275.4ZM297.2,135.9H304.5V142H297.2ZM333.5,135.9H340.8V142H333.5ZM420.7,135.9H428V142H420.7ZM144.7,142H151.9V147.7H144.7ZM384.4,142H391.6V147.7H384.4ZM449.8,142H457V147.7H449.8ZM457,142H464.3V147.7H457ZM500.6,142H507.9V147.7H500.6ZM558.7,142H566V147.7H558.7ZM326.3,147.7H333.5V153.2H326.3ZM355.3,147.7H362.6V153.2H355.3ZM108.3,153.2H115.6V158.6H108.3ZM166.5,153.2H173.7V158.6H166.5ZM195.5,153.2H202.8V158.6H195.5ZM507.9,153.2H515.1V158.6H507.9ZM573.2,153.2H580.5V158.6H573.2ZM79.3,158.6H86.6V163.7H79.3ZM101.1,158.6H108.3V163.7H101.1ZM108.3,158.6H115.6V163.7H108.3ZM159.2,158.6H166.5V163.7H159.2ZM377.1,158.6H384.4V163.7H377.1ZM515.1,158.6H522.4V163.7H515.1ZM260.9,163.7H268.2V168.6H260.9ZM355.3,163.7H362.6V168.6H355.3ZM544.2,163.7H551.4V168.6H544.2ZM57.5,168.6H64.8V173.5H57.5ZM333.5,168.6H340.8V173.5H333.5ZM442.5,168.6H449.8V173.5H442.5ZM79.3,173.5H86.6V178.1H79.3ZM297.2,173.5H304.5V178.1H297.2ZM369.8,173.5H377.1V178.1H369.8ZM507.9,173.5H515.1V178.1H507.9ZM515.1,173.5H522.4V178.1H515.1ZM566,173.5H573.2V178.1H566ZM231.8,182.7H239.1V187.1H231.8ZM536.9,182.7H544.2V187.1H536.9ZM420.7,187.1H428V191.4H420.7ZM515.1,187.1H522.4V191.4H515.1ZM72,191.4H79.3V195.6H72ZM173.7,191.4H181V195.6H173.7ZM224.6,191.4H231.8V195.6H224.6ZM464.3,191.4H471.5V195.6H464.3ZM515.1,191.4H522.4V195.6H515.1ZM311.7,195.6H319V199.8H311.7ZM369.8,195.6H377.1V199.8H369.8ZM326.3,199.8H333.5V203.9H326.3ZM413.4,199.8H420.7V203.9H413.4ZM428,199.8H435.2V203.9H428ZM457,199.8H464.3V203.9H457ZM115.6,203.9H122.9V207.9H115.6ZM428,203.9H435.2V207.9H428ZM478.8,203.9H486.1V207.9H478.8ZM362.6,207.9H369.8V211.8H362.6ZM449.8,207.9H457V211.8H449.8ZM115.6,215.7H122.9V219.5H115.6ZM275.4,215.7H282.7V219.5H275.4ZM282.7,215.7H289.9V219.5H282.7ZM340.8,215.7H348.1V219.5H340.8ZM457,215.7H464.3V219.5H457ZM471.5,215.7H478.8V219.5H471.5ZM115.6,219.5H122.9V223.3H115.6ZM246.4,223.3H253.6V227.1H246.4ZM268.2,223.3H275.4V227.1H268.2ZM340.8,227.1H348.1V230.8H340.8ZM86.6,230.8H93.8V234.5H86.6ZM355.3,230.8H362.6V234.5H355.3ZM333.5,234.5H340.8V238.1H333.5ZM464.3,234.5H471.5V238.1H464.3ZM507.9,238.1H515.1V241.8H507.9ZM297.2,241.8H304.5V245.4H297.2ZM93.8,245.4H101.1V249.1H93.8ZM333.5,245.4H340.8V249.1H333.5ZM173.7,256.3H181V260H173.7ZM260.9,256.3H268.2V260H260.9ZM319,256.3H326.3V260H319ZM326.3,256.3H333.5V260H326.3ZM115.6,260H122.9V263.6H115.6ZM137.4,260H144.7V263.6H137.4ZM217.3,260H224.6V263.6H217.3ZM486.1,260H493.3V263.6H486.1ZM507.9,260H515.1V263.6H507.9ZM224.6,263.6H231.8V267.3H224.6ZM493.3,263.6H500.6V267.3H493.3ZM529.7,263.6H536.9V267.3H529.7ZM558.7,263.6H566V267.3H558.7ZM173.7,267.3H181V270.9H173.7ZM239.1,267.3H246.4V270.9H239.1ZM391.6,267.3H398.9V270.9H391.6ZM471.5,267.3H478.8V270.9H471.5ZM558.7,267.3H566V270.9H558.7ZM210,274.6H217.3V278.3H210ZM486.1,274.6H493.3V278.3H486.1ZM522.4,274.6H529.7V278.3H522.4ZM406.2,278.3H413.4V282.1H406.2ZM173.7,282.1H181V285.9H173.7ZM282.7,282.1H289.9V285.9H282.7ZM471.5,282.1H478.8V285.9H471.5ZM573.2,282.1H580.5V285.9H573.2ZM478.8,285.9H486.1V289.7H478.8ZM544.2,285.9H551.4V289.7H544.2ZM558.7,289.7H566V293.6H558.7ZM144.7,293.6H151.9V297.5H144.7ZM355.3,293.6H362.6V297.5H355.3ZM319,297.5H326.3V301.5H319ZM558.7,297.5H566V301.5H558.7ZM101.1,301.5H108.3V305.6H101.1ZM137.4,301.5H144.7V305.6H137.4ZM515.1,305.6H522.4V309.8H515.1ZM101.1,309.8H108.3V314H101.1ZM326.3,314H333.5V318.3H326.3ZM566,314H573.2V318.3H566ZM362.6,318.3H369.8V322.7H362.6ZM457,318.3H464.3V322.7H457ZM515.1,318.3H522.4V322.7H515.1ZM86.6,322.7H93.8V327.3H86.6ZM122.9,322.7H130.1V327.3H122.9ZM457,322.7H464.3V327.3H457ZM72,327.3H79.3V331.9H72ZM144.7,327.3H151.9V331.9H144.7ZM202.8,331.9H210V336.8H202.8ZM72,336.8H79.3V341.7H72ZM202.8,336.8H210V341.7H202.8ZM210,336.8H217.3V341.7H210ZM500.6,341.7H507.9V346.8H500.6ZM297.2,346.8H304.5V352.2H297.2ZM340.8,346.8H348.1V352.2H340.8ZM493.3,346.8H500.6V352.2H493.3ZM507.9,346.8H515.1V352.2H507.9ZM79.3,352.2H86.6V357.7H79.3ZM224.6,352.2H231.8V357.7H224.6ZM471.5,357.7H478.8V363.4H471.5ZM493.3,357.7H500.6V363.4H493.3ZM115.6,363.4H122.9V369.5H115.6ZM362.6,363.4H369.8V369.5H362.6ZM173.7,369.5H181V375.8H173.7ZM231.8,369.5H239.1V375.8H231.8ZM275.4,369.5H282.7V375.8H275.4ZM348.1,369.5H355.3V375.8H348.1ZM362.6,369.5H369.8V375.8H362.6ZM464.3,369.5H471.5V375.8H464.3ZM72,375.8H79.3V382.5H72ZM137.4,375.8H144.7V382.5H137.4ZM195.5,375.8H202.8V382.5H195.5ZM486.1,375.8H493.3V382.5H486.1ZM536.9,375.8H544.2V382.5H536.9ZM72,382.5H79.3V389.5H72ZM130.1,382.5H137.4V389.5H130.1ZM210,382.5H217.3V389.5H210ZM326.3,382.5H333.5V389.5H326.3ZM558.7,382.5H566V389.5H558.7ZM566,382.5H573.2V389.5H566ZM398.9,389.5H406.2V397H398.9ZM406.2,389.5H413.4V397H406.2ZM435.2,389.5H442.5V397H435.2ZM384.4,397H391.6V405H384.4ZM413.4,397H420.7V405H413.4ZM522.4,397H529.7V405H522.4ZM151.9,405H159.2V413.6H151.9ZM529.7,405H536.9V413.6H529.7ZM536.9,405H544.2V413.6H536.9ZM398.9,413.6H406.2V422.8H398.9ZM173.7,422.8H181V433H173.7ZM224.6,422.8H231.8V433H224.6ZM536.9,422.8H544.2V433H536.9ZM558.7,422.8H566V433H558.7ZM159.2,433H166.5V444.1H159.2ZM173.7,433H181V444.1H173.7ZM246.4,433H253.6V444.1H246.4ZM333.5,433H340.8V444.1H333.5Z"/><path fill="#1b5691" d="M326.3,72.4H333.5V82.6H326.3ZM464.3,72.4H471.5V82.6H464.3ZM188.2,82.6H195.5V91.8H188.2ZM493.3,82.6H500.6V91.8H493.3ZM348.1,91.8H355.3V100.4H348.1ZM355.3,91.8H362.6V100.4H355.3ZM486.1,91.8H493.3V100.4H486.1ZM544.2,91.8H551.4V100.4H544.2ZM166.5,100.4H173.7V108.4H166.5ZM260.9,100.4H268.2V108.4H260.9ZM355.3,100.4H362.6V108.4H355.3ZM398.9,100.4H406.2V108.4H398.9ZM231.8,108.4H239.1V115.9H231.8ZM86.6,115.9H93.8V122.9H86.6ZM137.4,115.9H144.7V122.9H137.4ZM188.2,115.9H195.5V122.9H188.2ZM362.6,115.9H369.8V122.9H362.6ZM529.7,115.9H536.9V122.9H529.7ZM79.3,122.9H86.6V129.6H79.3ZM319,122.9H326.3V129.6H319ZM406.2,122.9H413.4V129.6H406.2ZM464.3,122.9H471.5V129.6H464.3ZM355.3,129.6H362.6V135.9H355.3ZM101.1,135.9H108.3V142H101.1ZM137.4,135.9H144.7V142H137.4ZM282.7,135.9H289.9V142H282.7ZM391.6,135.9H398.9V142H391.6ZM442.5,135.9H449.8V142H442.5ZM188.2,147.7H195.5V153.2H188.2ZM239.1,147.7H246.4V153.2H239.1ZM268.2,147.7H275.4V153.2H268.2ZM529.7,147.7H536.9V153.2H529.7ZM151.9,153.2H159.2V158.6H151.9ZM391.6,153.2H398.9V158.6H391.6ZM224.6,158.6H231.8V163.7H224.6ZM420.7,158.6H428V163.7H420.7ZM449.8,158.6H457V163.7H449.8ZM289.9,163.7H297.2V168.6H289.9ZM377.1,163.7H384.4V168.6H377.1ZM478.8,163.7H486.1V168.6H478.8ZM507.9,163.7H515.1V168.6H507.9ZM289.9,168.6H297.2V173.5H289.9ZM319,168.6H326.3V173.5H319ZM457,168.6H464.3V173.5H457ZM86.6,173.5H93.8V178.1H86.6ZM391.6,173.5H398.9V178.1H391.6ZM166.5,178.1H173.7V182.7H166.5ZM224.6,178.1H231.8V182.7H224.6ZM486.1,178.1H493.3V182.7H486.1ZM522.4,178.1H529.7V182.7H522.4ZM536.9,178.1H544.2V182.7H536.9ZM86.6,182.7H93.8V187.1H86.6ZM413.4,182.7H420.7V187.1H413.4ZM493.3,182.7H500.6V187.1H493.3ZM202.8,187.1H210V191.4H202.8ZM319,187.1H326.3V191.4H319ZM348.1,187.1H355.3V191.4H348.1ZM566,187.1H573.2V191.4H566ZM369.8,191.4H377.1V195.6H369.8ZM522.4,191.4H529.7V195.6H522.4ZM573.2,191.4H580.5V195.6H573.2ZM137.4,195.6H144.7V199.8H137.4ZM195.5,195.6H202.8V199.8H195.5ZM159.2,199.8H166.5V203.9H159.2ZM173.7,199.8H181V203.9H173.7ZM246.4,199.8H253.6V203.9H246.4ZM260.9,199.8H268.2V203.9H260.9ZM391.6,199.8H398.9V203.9H391.6ZM64.8,203.9H72V207.9H64.8ZM93.8,203.9H101.1V207.9H93.8ZM144.7,203.9H151.9V207.9H144.7ZM210,203.9H217.3V207.9H210ZM449.8,203.9H457V207.9H449.8ZM493.3,203.9H500.6V207.9H493.3ZM507.9,203.9H515.1V207.9H507.9ZM515.1,203.9H522.4V207.9H515.1ZM551.4,203.9H558.7V207.9H551.4ZM566,203.9H573.2V207.9H566ZM166.5,207.9H173.7V211.8H166.5ZM268.2,207.9H275.4V211.8H268.2ZM311.7,207.9H319V211.8H311.7ZM384.4,207.9H391.6V211.8H384.4ZM151.9,211.8H159.2V215.7H151.9ZM217.3,211.8H224.6V215.7H217.3ZM275.4,211.8H282.7V215.7H275.4ZM159.2,215.7H166.5V219.5H159.2ZM217.3,215.7H224.6V219.5H217.3ZM406.2,215.7H413.4V219.5H406.2ZM478.8,215.7H486.1V219.5H478.8ZM551.4,215.7H558.7V219.5H551.4ZM384.4,219.5H391.6V223.3H384.4ZM457,219.5H464.3V223.3H457ZM573.2,219.5H580.5V223.3H573.2ZM195.5,223.3H202.8V227.1H195.5ZM507.9,223.3H515.1V227.1H507.9ZM536.9,223.3H544.2V227.1H536.9ZM231.8,227.1H239.1V230.8H231.8ZM304.5,227.1H311.7V230.8H304.5ZM377.1,227.1H384.4V230.8H377.1ZM486.1,227.1H493.3V230.8H486.1ZM515.1,227.1H522.4V230.8H515.1ZM181,234.5H188.2V238.1H181ZM304.5,234.5H311.7V238.1H304.5ZM406.2,234.5H413.4V238.1H406.2ZM478.8,234.5H486.1V238.1H478.8ZM210,238.1H217.3V241.8H210ZM231.8,238.1H239.1V241.8H231.8ZM239.1,238.1H246.4V241.8H239.1ZM377.1,238.1H384.4V241.8H377.1ZM500.6,238.1H507.9V241.8H500.6ZM144.7,241.8H151.9V245.4H144.7ZM500.6,241.8H507.9V245.4H500.6ZM137.4,245.4H144.7V249.1H137.4ZM384.4,245.4H391.6V249.1H384.4ZM435.2,245.4H442.5V249.1H435.2ZM181,249.1H188.2V252.7H181ZM369.8,249.1H377.1V252.7H369.8ZM500.6,249.1H507.9V252.7H500.6ZM507.9,249.1H515.1V252.7H507.9ZM515.1,249.1H522.4V252.7H515.1ZM166.5,252.7H173.7V256.3H166.5ZM297.2,252.7H304.5V256.3H297.2ZM362.6,252.7H369.8V256.3H362.6ZM442.5,256.3H449.8V260H442.5ZM522.4,256.3H529.7V260H522.4ZM536.9,256.3H544.2V260H536.9ZM144.7,260H151.9V263.6H144.7ZM151.9,260H159.2V263.6H151.9ZM268.2,260H275.4V263.6H268.2ZM355.3,260H362.6V263.6H355.3ZM464.3,260H471.5V263.6H464.3ZM181,263.6H188.2V267.3H181ZM188.2,263.6H195.5V267.3H188.2ZM275.4,263.6H282.7V267.3H275.4ZM64.8,267.3H72V270.9H64.8ZM72,267.3H79.3V270.9H72ZM79.3,267.3H86.6V270.9H79.3ZM217.3,267.3H224.6V270.9H217.3ZM377.1,267.3H384.4V270.9H377.1ZM413.4,267.3H420.7V270.9H413.4ZM522.4,267.3H529.7V270.9H522.4ZM93.8,270.9H101.1V274.6H93.8ZM369.8,270.9H377.1V274.6H369.8ZM507.9,270.9H515.1V274.6H507.9ZM188.2,274.6H195.5V278.3H188.2ZM202.8,274.6H210V278.3H202.8ZM108.3,278.3H115.6V282.1H108.3ZM159.2,278.3H166.5V282.1H159.2ZM202.8,278.3H210V282.1H202.8ZM210,278.3H217.3V282.1H210ZM268.2,278.3H275.4V282.1H268.2ZM340.8,278.3H348.1V282.1H340.8ZM442.5,278.3H449.8V282.1H442.5ZM515.1,278.3H522.4V282.1H515.1ZM246.4,282.1H253.6V285.9H246.4ZM369.8,282.1H377.1V285.9H369.8ZM130.1,285.9H137.4V289.7H130.1ZM311.7,285.9H319V289.7H311.7ZM377.1,285.9H384.4V289.7H377.1ZM391.6,285.9H398.9V289.7H391.6ZM115.6,289.7H122.9V293.6H115.6ZM188.2,289.7H195.5V293.6H188.2ZM239.1,289.7H246.4V293.6H239.1ZM369.8,289.7H377.1V293.6H369.8ZM449.8,289.7H457V293.6H449.8ZM529.7,289.7H536.9V293.6H529.7ZM79.3,293.6H86.6V297.5H79.3ZM268.2,293.6H275.4V297.5H268.2ZM326.3,293.6H333.5V297.5H326.3ZM369.8,293.6H377.1V297.5H369.8ZM449.8,293.6H457V297.5H449.8ZM507.9,293.6H515.1V297.5H507.9ZM369.8,297.5H377.1V301.5H369.8ZM406.2,297.5H413.4V301.5H406.2ZM442.5,297.5H449.8V301.5H442.5ZM500.6,297.5H507.9V301.5H500.6ZM72,301.5H79.3V305.6H72ZM79.3,301.5H86.6V305.6H79.3ZM108.3,301.5H115.6V305.6H108.3ZM260.9,301.5H268.2V305.6H260.9ZM268.2,301.5H275.4V305.6H268.2ZM348.1,301.5H355.3V305.6H348.1ZM122.9,305.6H130.1V309.8H122.9ZM355.3,305.6H362.6V309.8H355.3ZM428,305.6H435.2V309.8H428ZM442.5,305.6H449.8V309.8H442.5ZM493.3,305.6H500.6V309.8H493.3ZM544.2,305.6H551.4V309.8H544.2ZM93.8,309.8H101.1V314H93.8ZM188.2,309.8H195.5V314H188.2ZM210,309.8H217.3V314H210ZM224.6,309.8H231.8V314H224.6ZM246.4,309.8H253.6V314H246.4ZM435.2,309.8H442.5V314H435.2ZM573.2,309.8H580.5V314H573.2ZM122.9,314H130.1V318.3H122.9ZM166.5,314H173.7V318.3H166.5ZM224.6,314H231.8V318.3H224.6ZM275.4,314H282.7V318.3H275.4ZM311.7,314H319V318.3H311.7ZM449.8,314H457V318.3H449.8ZM515.1,314H522.4V318.3H515.1ZM253.6,318.3H260.9V322.7H253.6ZM384.4,318.3H391.6V322.7H384.4ZM493.3,318.3H500.6V322.7H493.3ZM536.9,318.3H544.2V322.7H536.9ZM202.8,322.7H210V327.3H202.8ZM282.7,322.7H289.9V327.3H282.7ZM486.1,322.7H493.3V327.3H486.1ZM173.7,327.3H181V331.9H173.7ZM202.8,327.3H210V331.9H202.8ZM268.2,327.3H275.4V331.9H268.2ZM282.7,327.3H289.9V331.9H282.7ZM384.4,327.3H391.6V331.9H384.4ZM57.5,331.9H64.8V336.8H57.5ZM64.8,331.9H72V336.8H64.8ZM72,331.9H79.3V336.8H72ZM86.6,331.9H93.8V336.8H86.6ZM115.6,331.9H122.9V336.8H115.6ZM159.2,331.9H166.5V336.8H159.2ZM173.7,331.9H181V336.8H173.7ZM181,331.9H188.2V336.8H181ZM210,331.9H217.3V336.8H210ZM275.4,331.9H282.7V336.8H275.4ZM333.5,331.9H340.8V336.8H333.5ZM348.1,331.9H355.3V336.8H348.1ZM369.8,331.9H377.1V336.8H369.8ZM413.4,331.9H420.7V336.8H413.4ZM428,331.9H435.2V336.8H428ZM500.6,331.9H507.9V336.8H500.6ZM86.6,336.8H93.8V341.7H86.6ZM93.8,336.8H101.1V341.7H93.8ZM246.4,336.8H253.6V341.7H246.4ZM355.3,336.8H362.6V341.7H355.3ZM457,336.8H464.3V341.7H457ZM551.4,336.8H558.7V341.7H551.4ZM166.5,341.7H173.7V346.8H166.5ZM486.1,341.7H493.3V346.8H486.1ZM529.7,341.7H536.9V346.8H529.7ZM551.4,341.7H558.7V346.8H551.4ZM79.3,346.8H86.6V352.2H79.3ZM144.7,346.8H151.9V352.2H144.7ZM159.2,346.8H166.5V352.2H159.2ZM239.1,346.8H246.4V352.2H239.1ZM406.2,346.8H413.4V352.2H406.2ZM442.5,346.8H449.8V352.2H442.5ZM486.1,346.8H493.3V352.2H486.1ZM522.4,346.8H529.7V352.2H522.4ZM210,352.2H217.3V357.7H210ZM231.8,352.2H239.1V357.7H231.8ZM340.8,352.2H348.1V357.7H340.8ZM362.6,352.2H369.8V357.7H362.6ZM406.2,352.2H413.4V357.7H406.2ZM529.7,352.2H536.9V357.7H529.7ZM544.2,352.2H551.4V357.7H544.2ZM159.2,357.7H166.5V363.4H159.2ZM166.5,357.7H173.7V363.4H166.5ZM202.8,357.7H210V363.4H202.8ZM268.2,357.7H275.4V363.4H268.2ZM275.4,357.7H282.7V363.4H275.4ZM297.2,357.7H304.5V363.4H297.2ZM304.5,357.7H311.7V363.4H304.5ZM369.8,357.7H377.1V363.4H369.8ZM101.1,363.4H108.3V369.5H101.1ZM108.3,363.4H115.6V369.5H108.3ZM173.7,363.4H181V369.5H173.7ZM195.5,363.4H202.8V369.5H195.5ZM210,363.4H217.3V369.5H210ZM253.6,363.4H260.9V369.5H253.6ZM289.9,363.4H297.2V369.5H289.9ZM413.4,363.4H420.7V369.5H413.4ZM420.7,363.4H428V369.5H420.7ZM108.3,369.5H115.6V375.8H108.3ZM195.5,369.5H202.8V375.8H195.5ZM210,369.5H217.3V375.8H210ZM297.2,369.5H304.5V375.8H297.2ZM398.9,369.5H406.2V375.8H398.9ZM442.5,369.5H449.8V375.8H442.5ZM471.5,369.5H478.8V375.8H471.5ZM529.7,369.5H536.9V375.8H529.7ZM551.4,369.5H558.7V375.8H551.4ZM202.8,375.8H210V382.5H202.8ZM239.1,375.8H246.4V382.5H239.1ZM319,375.8H326.3V382.5H319ZM544.2,375.8H551.4V382.5H544.2ZM268.2,382.5H275.4V389.5H268.2ZM115.6,389.5H122.9V397H115.6ZM181,389.5H188.2V397H181ZM275.4,389.5H282.7V397H275.4ZM64.8,397H72V405H64.8ZM79.3,397H86.6V405H79.3ZM224.6,397H231.8V405H224.6ZM260.9,397H268.2V405H260.9ZM369.8,397H377.1V405H369.8ZM435.2,397H442.5V405H435.2ZM122.9,405H130.1V413.6H122.9ZM195.5,405H202.8V413.6H195.5ZM478.8,405H486.1V413.6H478.8ZM573.2,405H580.5V413.6H573.2ZM72,413.6H79.3V422.8H72ZM573.2,413.6H580.5V422.8H573.2ZM115.6,422.8H122.9V433H115.6ZM210,422.8H217.3V433H210ZM246.4,422.8H253.6V433H246.4ZM333.5,422.8H340.8V433H333.5ZM449.8,422.8H457V433H449.8ZM529.7,422.8H536.9V433H529.7ZM130.1,433H137.4V444.1H130.1ZM260.9,433H268.2V444.1H260.9ZM355.3,433H362.6V444.1H355.3Z"/><path fill="#0f4b85" d="M93.8,72.4H101.1V82.6H93.8ZM108.3,72.4H115.6V82.6H108.3ZM181,72.4H188.2V82.6H181ZM319,72.4H326.3V82.6H319ZM442.5,72.4H449.8V82.6H442.5ZM449.8,72.4H457V82.6H449.8ZM478.8,72.4H486.1V82.6H478.8ZM144.7,82.6H151.9V91.8H144.7ZM377.1,82.6H384.4V91.8H377.1ZM449.8,82.6H457V91.8H449.8ZM566,82.6H573.2V91.8H566ZM159.2,91.8H166.5V100.4H159.2ZM217.3,91.8H224.6V100.4H217.3ZM311.7,91.8H319V100.4H311.7ZM420.7,91.8H428V100.4H420.7ZM57.5,100.4H64.8V108.4H57.5ZM72,100.4H79.3V108.4H72ZM188.2,100.4H195.5V108.4H188.2ZM471.5,100.4H478.8V108.4H471.5ZM72,108.4H79.3V115.9H72ZM115.6,108.4H122.9V115.9H115.6ZM166.5,108.4H173.7V115.9H166.5ZM304.5,108.4H311.7V115.9H304.5ZM362.6,108.4H369.8V115.9H362.6ZM573.2,108.4H580.5V115.9H573.2ZM72,115.9H79.3V122.9H72ZM268.2,115.9H275.4V122.9H268.2ZM282.7,115.9H289.9V122.9H282.7ZM471.5,115.9H478.8V122.9H471.5ZM493.3,115.9H500.6V122.9H493.3ZM551.4,115.9H558.7V122.9H551.4ZM72,122.9H79.3V129.6H72ZM93.8,122.9H101.1V129.6H93.8ZM246.4,122.9H253.6V129.6H246.4ZM144.7,129.6H151.9V135.9H144.7ZM181,129.6H188.2V135.9H181ZM217.3,129.6H224.6V135.9H217.3ZM282.7,129.6H289.9V135.9H282.7ZM319,129.6H326.3V135.9H319ZM79.3,135.9H86.6V142H79.3ZM93.8,135.9H101.1V142H93.8ZM217.3,135.9H224.6V142H217.3ZM369.8,135.9H377.1V142H369.8ZM478.8,135.9H486.1V142H478.8ZM137.4,142H144.7V147.7H137.4ZM159.2,142H166.5V147.7H159.2ZM413.4,142H420.7V147.7H413.4ZM536.9,142H544.2V147.7H536.9ZM57.5,147.7H64.8V153.2H57.5ZM181,147.7H188.2V153.2H181ZM391.6,147.7H398.9V153.2H391.6ZM413.4,147.7H420.7V153.2H413.4ZM500.6,147.7H507.9V153.2H500.6ZM137.4,153.2H144.7V158.6H137.4ZM297.2,153.2H304.5V158.6H297.2ZM435.2,153.2H442.5V158.6H435.2ZM311.7,158.6H319V163.7H311.7ZM115.6,163.7H122.9V168.6H115.6ZM515.1,163.7H522.4V168.6H515.1ZM144.7,168.6H151.9V173.5H144.7ZM260.9,168.6H268.2V173.5H260.9ZM144.7,173.5H151.9V178.1H144.7ZM195.5,173.5H202.8V178.1H195.5ZM333.5,173.5H340.8V178.1H333.5ZM348.1,173.5H355.3V178.1H348.1ZM362.6,173.5H369.8V178.1H362.6ZM406.2,173.5H413.4V178.1H406.2ZM544.2,173.5H551.4V178.1H544.2ZM115.6,178.1H122.9V182.7H115.6ZM210,178.1H217.3V182.7H210ZM246.4,178.1H253.6V182.7H246.4ZM289.9,178.1H297.2V182.7H289.9ZM355.3,178.1H362.6V182.7H355.3ZM558.7,178.1H566V182.7H558.7ZM64.8,182.7H72V187.1H64.8ZM86.6,187.1H93.8V191.4H86.6ZM115.6,187.1H122.9V191.4H115.6ZM224.6,187.1H231.8V191.4H224.6ZM282.7,187.1H289.9V191.4H282.7ZM428,187.1H435.2V191.4H428ZM442.5,187.1H449.8V191.4H442.5ZM551.4,187.1H558.7V191.4H551.4ZM57.5,191.4H64.8V195.6H57.5ZM64.8,191.4H72V195.6H64.8ZM101.1,191.4H108.3V195.6H101.1ZM151.9,191.4H159.2V195.6H151.9ZM246.4,191.4H253.6V195.6H246.4ZM289.9,191.4H297.2V195.6H289.9ZM304.5,191.4H311.7V195.6H304.5ZM384.4,191.4H391.6V195.6H384.4ZM478.8,191.4H486.1V195.6H478.8ZM536.9,191.4H544.2V195.6H536.9ZM558.7,191.4H566V195.6H558.7ZM93.8,195.6H101.1V199.8H93.8ZM101.1,195.6H108.3V199.8H101.1ZM108.3,195.6H115.6V199.8H108.3ZM173.7,195.6H181V199.8H173.7ZM217.3,195.6H224.6V199.8H217.3ZM297.2,195.6H304.5V199.8H297.2ZM377.1,195.6H384.4V199.8H377.1ZM457,195.6H464.3V199.8H457ZM529.7,195.6H536.9V199.8H529.7ZM86.6,199.8H93.8V203.9H86.6ZM122.9,199.8H130.1V203.9H122.9ZM137.4,199.8H144.7V203.9H137.4ZM224.6,199.8H231.8V203.9H224.6ZM231.8,199.8H239.1V203.9H231.8ZM239.1,199.8H246.4V203.9H239.1ZM348.1,199.8H355.3V203.9H348.1ZM471.5,199.8H478.8V203.9H471.5ZM86.6,203.9H93.8V207.9H86.6ZM231.8,203.9H239.1V207.9H231.8ZM289.9,203.9H297.2V207.9H289.9ZM137.4,207.9H144.7V211.8H137.4ZM202.8,207.9H210V211.8H202.8ZM326.3,207.9H333.5V211.8H326.3ZM428,207.9H435.2V211.8H428ZM435.2,207.9H442.5V211.8H435.2ZM522.4,207.9H529.7V211.8H522.4ZM529.7,207.9H536.9V211.8H529.7ZM558.7,207.9H566V211.8H558.7ZM566,207.9H573.2V211.8H566ZM202.8,211.8H210V215.7H202.8ZM239.1,211.8H246.4V215.7H239.1ZM57.5,215.7H64.8V219.5H57.5ZM137.4,215.7H144.7V219.5H137.4ZM181,215.7H188.2V219.5H181ZM188.2,215.7H195.5V219.5H188.2ZM195.5,215.7H202.8V219.5H195.5ZM210,215.7H217.3V219.5H210ZM239.1,215.7H246.4V219.5H239.1ZM493.3,215.7H500.6V219.5H493.3ZM544.2,215.7H551.4V219.5H544.2ZM566,215.7H573.2V219.5H566ZM64.8,219.5H72V223.3H64.8ZM86.6,219.5H93.8V223.3H86.6ZM289.9,219.5H297.2V223.3H289.9ZM326.3,219.5H333.5V223.3H326.3ZM500.6,219.5H507.9V223.3H500.6ZM522.4,219.5H529.7V223.3H522.4ZM86.6,223.3H93.8V227.1H86.6ZM333.5,223.3H340.8V227.1H333.5ZM420.7,223.3H428V227.1H420.7ZM493.3,223.3H500.6V227.1H493.3ZM115.6,227.1H122.9V230.8H115.6ZM260.9,227.1H268.2V230.8H260.9ZM289.9,227.1H297.2V230.8H289.9ZM355.3,227.1H362.6V230.8H355.3ZM442.5,227.1H449.8V230.8H442.5ZM522.4,227.1H529.7V230.8H522.4ZM558.7,227.1H566V230.8H558.7ZM57.5,230.8H64.8V234.5H57.5ZM64.8,230.8H72V234.5H64.8ZM115.6,230.8H122.9V234.5H115.6ZM151.9,230.8H159.2V234.5H151.9ZM173.7,230.8H181V234.5H173.7ZM224.6,230.8H231.8V234.5H224.6ZM275.4,230.8H282.7V234.5H275.4ZM289.9,230.8H297.2V234.5H289.9ZM115.6,234.5H122.9V238.1H115.6ZM130.1,234.5H137.4V238.1H130.1ZM173.7,234.5H181V238.1H173.7ZM268.2,234.5H275.4V238.1H268.2ZM289.9,234.5H297.2V238.1H289.9ZM493.3,234.5H500.6V238.1H493.3ZM551.4,234.5H558.7V238.1H551.4ZM115.6,238.1H122.9V241.8H115.6ZM181,238.1H188.2V241.8H181ZM224.6,238.1H231.8V241.8H224.6ZM282.7,238.1H289.9V241.8H282.7ZM355.3,238.1H362.6V241.8H355.3ZM457,238.1H464.3V241.8H457ZM57.5,241.8H64.8V245.4H57.5ZM86.6,241.8H93.8V245.4H86.6ZM101.1,241.8H108.3V245.4H101.1ZM130.1,241.8H137.4V245.4H130.1ZM137.4,241.8H144.7V245.4H137.4ZM348.1,241.8H355.3V245.4H348.1ZM391.6,241.8H398.9V245.4H391.6ZM435.2,241.8H442.5V245.4H435.2ZM449.8,241.8H457V245.4H449.8ZM551.4,241.8H558.7V245.4H551.4ZM108.3,245.4H115.6V249.1H108.3ZM151.9,245.4H159.2V249.1H151.9ZM166.5,245.4H173.7V249.1H166.5ZM522.4,245.4H529.7V249.1H522.4ZM166.5,249.1H173.7V252.7H166.5ZM224.6,249.1H231.8V252.7H224.6ZM391.6,249.1H398.9V252.7H391.6ZM442.5,249.1H449.8V252.7H442.5ZM486.1,249.1H493.3V252.7H486.1ZM551.4,249.1H558.7V252.7H551.4ZM57.5,252.7H64.8V256.3H57.5ZM64.8,252.7H72V256.3H64.8ZM72,252.7H79.3V256.3H72ZM86.6,252.7H93.8V256.3H86.6ZM93.8,252.7H101.1V256.3H93.8ZM101.1,252.7H108.3V256.3H101.1ZM151.9,252.7H159.2V256.3H151.9ZM275.4,252.7H282.7V256.3H275.4ZM442.5,252.7H449.8V256.3H442.5ZM507.9,252.7H515.1V256.3H507.9ZM566,252.7H573.2V256.3H566ZM122.9,256.3H130.1V260H122.9ZM159.2,256.3H166.5V260H159.2ZM391.6,256.3H398.9V260H391.6ZM406.2,256.3H413.4V260H406.2ZM413.4,256.3H420.7V260H413.4ZM210,260H217.3V263.6H210ZM239.1,260H246.4V263.6H239.1ZM297.2,260H304.5V263.6H297.2ZM478.8,260H486.1V263.6H478.8ZM72,263.6H79.3V267.3H72ZM108.3,263.6H115.6V267.3H108.3ZM122.9,263.6H130.1V267.3H122.9ZM239.1,263.6H246.4V267.3H239.1ZM57.5,267.3H64.8V270.9H57.5ZM275.4,267.3H282.7V270.9H275.4ZM282.7,267.3H289.9V270.9H282.7ZM340.8,267.3H348.1V270.9H340.8ZM384.4,267.3H391.6V270.9H384.4ZM428,267.3H435.2V270.9H428ZM449.8,267.3H457V270.9H449.8ZM486.1,267.3H493.3V270.9H486.1ZM64.8,270.9H72V274.6H64.8ZM79.3,270.9H86.6V274.6H79.3ZM101.1,270.9H108.3V274.6H101.1ZM159.2,270.9H166.5V274.6H159.2ZM260.9,270.9H268.2V274.6H260.9ZM282.7,270.9H289.9V274.6H282.7ZM391.6,270.9H398.9V274.6H391.6ZM442.5,270.9H449.8V274.6H442.5ZM493.3,270.9H500.6V274.6H493.3ZM522.4,270.9H529.7V274.6H522.4ZM72,274.6H79.3V278.3H72ZM86.6,274.6H93.8V278.3H86.6ZM130.1,274.6H137.4V278.3H130.1ZM137.4,274.6H144.7V278.3H137.4ZM275.4,274.6H282.7V278.3H275.4ZM297.2,274.6H304.5V278.3H297.2ZM420.7,274.6H428V278.3H420.7ZM500.6,274.6H507.9V278.3H500.6ZM558.7,274.6H566V278.3H558.7ZM72,278.3H79.3V282.1H72ZM93.8,278.3H101.1V282.1H93.8ZM101.1,278.3H108.3V282.1H101.1ZM181,278.3H188.2V282.1H181ZM260.9,278.3H268.2V282.1H260.9ZM289.9,278.3H297.2V282.1H289.9ZM319,278.3H326.3V282.1H319ZM326.3,278.3H333.5V282.1H326.3ZM391.6,278.3H398.9V282.1H391.6ZM457,278.3H464.3V282.1H457ZM558.7,278.3H566V282.1H558.7ZM72,282.1H79.3V285.9H72ZM144.7,282.1H151.9V285.9H144.7ZM260.9,282.1H268.2V285.9H260.9ZM486.1,282.1H493.3V285.9H486.1ZM558.7,282.1H566V285.9H558.7ZM57.5,285.9H64.8V289.7H57.5ZM64.8,285.9H72V289.7H64.8ZM93.8,285.9H101.1V289.7H93.8ZM108.3,285.9H115.6V289.7H108.3ZM217.3,285.9H224.6V289.7H217.3ZM260.9,285.9H268.2V289.7H260.9ZM304.5,285.9H311.7V289.7H304.5ZM348.1,285.9H355.3V289.7H348.1ZM413.4,285.9H420.7V289.7H413.4ZM464.3,285.9H471.5V289.7H464.3ZM471.5,285.9H478.8V289.7H471.5ZM181,289.7H188.2V293.6H181ZM268.2,289.7H275.4V293.6H268.2ZM333.5,289.7H340.8V293.6H333.5ZM362.6,289.7H369.8V293.6H362.6ZM413.4,289.7H420.7V293.6H413.4ZM428,289.7H435.2V293.6H428ZM72,293.6H79.3V297.5H72ZM544.2,293.6H551.4V297.5H544.2ZM72,297.5H79.3V301.5H72ZM151.9,297.5H159.2V301.5H151.9ZM173.7,297.5H181V301.5H173.7ZM181,297.5H188.2V301.5H181ZM457,297.5H464.3V301.5H457ZM64.8,301.5H72V305.6H64.8ZM253.6,301.5H260.9V305.6H253.6ZM275.4,301.5H282.7V305.6H275.4ZM311.7,301.5H319V305.6H311.7ZM420.7,301.5H428V305.6H420.7ZM166.5,305.6H173.7V309.8H166.5ZM311.7,305.6H319V309.8H311.7ZM348.1,305.6H355.3V309.8H348.1ZM420.7,305.6H428V309.8H420.7ZM471.5,305.6H478.8V309.8H471.5ZM478.8,305.6H486.1V309.8H478.8ZM522.4,305.6H529.7V309.8H522.4ZM57.5,309.8H64.8V314H57.5ZM231.8,309.8H239.1V314H231.8ZM304.5,309.8H311.7V314H304.5ZM384.4,309.8H391.6V314H384.4ZM420.7,309.8H428V314H420.7ZM507.9,309.8H515.1V314H507.9ZM522.4,309.8H529.7V314H522.4ZM151.9,314H159.2V318.3H151.9ZM304.5,314H311.7V318.3H304.5ZM355.3,314H362.6V318.3H355.3ZM464.3,314H471.5V318.3H464.3ZM246.4,318.3H253.6V322.7H246.4ZM282.7,318.3H289.9V322.7H282.7ZM289.9,318.3H297.2V322.7H289.9ZM319,318.3H326.3V322.7H319ZM413.4,318.3H420.7V322.7H413.4ZM478.8,318.3H486.1V322.7H478.8ZM260.9,322.7H268.2V327.3H260.9ZM304.5,322.7H311.7V327.3H304.5ZM522.4,322.7H529.7V327.3H522.4ZM551.4,322.7H558.7V327.3H551.4ZM130.1,327.3H137.4V331.9H130.1ZM311.7,327.3H319V331.9H311.7ZM355.3,327.3H362.6V331.9H355.3ZM413.4,327.3H420.7V331.9H413.4ZM507.9,327.3H515.1V331.9H507.9ZM355.3,331.9H362.6V336.8H355.3ZM420.7,331.9H428V336.8H420.7ZM464.3,331.9H471.5V336.8H464.3ZM551.4,331.9H558.7V336.8H551.4ZM391.6,336.8H398.9V341.7H391.6ZM566,336.8H573.2V341.7H566ZM144.7,341.7H151.9V346.8H144.7ZM246.4,341.7H253.6V346.8H246.4ZM449.8,341.7H457V346.8H449.8ZM522.4,341.7H529.7V346.8H522.4ZM181,346.8H188.2V352.2H181ZM188.2,346.8H195.5V352.2H188.2ZM195.5,346.8H202.8V352.2H195.5ZM253.6,346.8H260.9V352.2H253.6ZM544.2,346.8H551.4V352.2H544.2ZM551.4,346.8H558.7V352.2H551.4ZM522.4,352.2H529.7V357.7H522.4ZM57.5,357.7H64.8V363.4H57.5ZM72,357.7H79.3V363.4H72ZM428,357.7H435.2V363.4H428ZM464.3,357.7H471.5V363.4H464.3ZM536.9,357.7H544.2V363.4H536.9ZM384.4,363.4H391.6V369.5H384.4ZM435.2,363.4H442.5V369.5H435.2ZM457,363.4H464.3V369.5H457ZM137.4,369.5H144.7V375.8H137.4ZM319,369.5H326.3V375.8H319ZM544.2,369.5H551.4V375.8H544.2ZM93.8,375.8H101.1V382.5H93.8ZM144.7,375.8H151.9V382.5H144.7ZM500.6,375.8H507.9V382.5H500.6ZM137.4,382.5H144.7V389.5H137.4ZM144.7,382.5H151.9V389.5H144.7ZM159.2,382.5H166.5V389.5H159.2ZM246.4,382.5H253.6V389.5H246.4ZM275.4,382.5H282.7V389.5H275.4ZM282.7,382.5H289.9V389.5H282.7ZM420.7,382.5H428V389.5H420.7ZM500.6,382.5H507.9V389.5H500.6ZM464.3,389.5H471.5V397H464.3ZM507.9,389.5H515.1V397H507.9ZM246.4,397H253.6V405H246.4ZM311.7,397H319V405H311.7ZM319,397H326.3V405H319ZM340.8,397H348.1V405H340.8ZM304.5,405H311.7V413.6H304.5ZM93.8,413.6H101.1V422.8H93.8ZM275.4,413.6H282.7V422.8H275.4ZM362.6,413.6H369.8V422.8H362.6ZM406.2,413.6H413.4V422.8H406.2ZM188.2,422.8H195.5V433H188.2ZM311.7,422.8H319V433H311.7ZM384.4,422.8H391.6V433H384.4ZM151.9,433H159.2V444.1H151.9ZM181,433H188.2V444.1H181ZM224.6,433H231.8V444.1H224.6ZM435.2,433H442.5V444.1H435.2ZM471.5,433H478.8V444.1H471.5ZM507.9,433H515.1V444.1H507.9ZM544.2,433H551.4V444.1H544.2Z"/><path fill="#0a3f76" d="M369.8,72.4H377.1V82.6H369.8ZM486.1,72.4H493.3V82.6H486.1ZM500.6,72.4H507.9V82.6H500.6ZM529.7,72.4H536.9V82.6H529.7ZM558.7,72.4H566V82.6H558.7ZM181,82.6H188.2V91.8H181ZM500.6,91.8H507.9V100.4H500.6ZM159.2,100.4H166.5V108.4H159.2ZM239.1,100.4H246.4V108.4H239.1ZM268.2,100.4H275.4V108.4H268.2ZM348.1,100.4H355.3V108.4H348.1ZM413.4,100.4H420.7V108.4H413.4ZM435.2,100.4H442.5V108.4H435.2ZM500.6,100.4H507.9V108.4H500.6ZM195.5,108.4H202.8V115.9H195.5ZM79.3,115.9H86.6V122.9H79.3ZM166.5,115.9H173.7V122.9H166.5ZM369.8,115.9H377.1V122.9H369.8ZM536.9,115.9H544.2V122.9H536.9ZM384.4,122.9H391.6V129.6H384.4ZM457,122.9H464.3V129.6H457ZM478.8,122.9H486.1V129.6H478.8ZM500.6,122.9H507.9V129.6H500.6ZM122.9,129.6H130.1V135.9H122.9ZM289.9,129.6H297.2V135.9H289.9ZM333.5,129.6H340.8V135.9H333.5ZM231.8,135.9H239.1V142H231.8ZM435.2,135.9H442.5V142H435.2ZM151.9,142H159.2V147.7H151.9ZM340.8,142H348.1V147.7H340.8ZM369.8,142H377.1V147.7H369.8ZM478.8,142H486.1V147.7H478.8ZM551.4,142H558.7V147.7H551.4ZM115.6,147.7H122.9V153.2H115.6ZM173.7,147.7H181V153.2H173.7ZM260.9,147.7H268.2V153.2H260.9ZM507.9,147.7H515.1V153.2H507.9ZM566,147.7H573.2V153.2H566ZM210,153.2H217.3V158.6H210ZM253.6,153.2H260.9V158.6H253.6ZM536.9,153.2H544.2V158.6H536.9ZM64.8,158.6H72V163.7H64.8ZM72,158.6H79.3V163.7H72ZM231.8,158.6H239.1V163.7H231.8ZM355.3,158.6H362.6V163.7H355.3ZM566,158.6H573.2V163.7H566ZM137.4,163.7H144.7V168.6H137.4ZM181,163.7H188.2V168.6H181ZM195.5,163.7H202.8V168.6H195.5ZM275.4,163.7H282.7V168.6H275.4ZM522.4,163.7H529.7V168.6H522.4ZM137.4,173.5H144.7V178.1H137.4ZM311.7,173.5H319V178.1H311.7ZM384.4,173.5H391.6V178.1H384.4ZM413.4,173.5H420.7V178.1H413.4ZM500.6,173.5H507.9V178.1H500.6ZM377.1,178.1H384.4V182.7H377.1ZM130.1,182.7H137.4V187.1H130.1ZM159.2,182.7H166.5V187.1H159.2ZM333.5,182.7H340.8V187.1H333.5ZM362.6,182.7H369.8V187.1H362.6ZM181,187.1H188.2V191.4H181ZM311.7,187.1H319V191.4H311.7ZM493.3,187.1H500.6V191.4H493.3ZM195.5,191.4H202.8V195.6H195.5ZM413.4,191.4H420.7V195.6H413.4ZM348.1,195.6H355.3V199.8H348.1ZM406.2,195.6H413.4V199.8H406.2ZM471.5,195.6H478.8V199.8H471.5ZM188.2,199.8H195.5V203.9H188.2ZM253.6,199.8H260.9V203.9H253.6ZM384.4,199.8H391.6V203.9H384.4ZM435.2,199.8H442.5V203.9H435.2ZM239.1,203.9H246.4V207.9H239.1ZM391.6,207.9H398.9V211.8H391.6ZM486.1,207.9H493.3V211.8H486.1ZM333.5,211.8H340.8V215.7H333.5ZM493.3,211.8H500.6V215.7H493.3ZM551.4,211.8H558.7V215.7H551.4ZM79.3,215.7H86.6V219.5H79.3ZM173.7,215.7H181V219.5H173.7ZM304.5,215.7H311.7V219.5H304.5ZM377.1,215.7H384.4V219.5H377.1ZM79.3,219.5H86.6V223.3H79.3ZM260.9,219.5H268.2V223.3H260.9ZM369.8,219.5H377.1V223.3H369.8ZM79.3,223.3H86.6V227.1H79.3ZM253.6,223.3H260.9V227.1H253.6ZM442.5,223.3H449.8V227.1H442.5ZM93.8,227.1H101.1V230.8H93.8ZM384.4,227.1H391.6V230.8H384.4ZM442.5,230.8H449.8V234.5H442.5ZM457,230.8H464.3V234.5H457ZM522.4,230.8H529.7V234.5H522.4ZM348.1,238.1H355.3V241.8H348.1ZM224.6,241.8H231.8V245.4H224.6ZM72,245.4H79.3V249.1H72ZM144.7,245.4H151.9V249.1H144.7ZM486.1,245.4H493.3V249.1H486.1ZM202.8,249.1H210V252.7H202.8ZM340.8,249.1H348.1V252.7H340.8ZM420.7,249.1H428V252.7H420.7ZM493.3,249.1H500.6V252.7H493.3ZM181,252.7H188.2V256.3H181ZM311.7,252.7H319V256.3H311.7ZM420.7,252.7H428V256.3H420.7ZM486.1,256.3H493.3V260H486.1ZM86.6,260H93.8V263.6H86.6ZM93.8,260H101.1V263.6H93.8ZM224.6,260H231.8V263.6H224.6ZM522.4,260H529.7V263.6H522.4ZM544.2,260H551.4V263.6H544.2ZM93.8,263.6H101.1V267.3H93.8ZM231.8,263.6H239.1V267.3H231.8ZM282.7,263.6H289.9V267.3H282.7ZM115.6,267.3H122.9V270.9H115.6ZM151.9,267.3H159.2V270.9H151.9ZM297.2,267.3H304.5V270.9H297.2ZM464.3,267.3H471.5V270.9H464.3ZM340.8,270.9H348.1V274.6H340.8ZM144.7,274.6H151.9V278.3H144.7ZM515.1,274.6H522.4V278.3H515.1ZM144.7,278.3H151.9V282.1H144.7ZM246.4,278.3H253.6V282.1H246.4ZM159.2,282.1H166.5V285.9H159.2ZM377.1,282.1H384.4V285.9H377.1ZM159.2,285.9H166.5V289.7H159.2ZM500.6,285.9H507.9V289.7H500.6ZM515.1,285.9H522.4V289.7H515.1ZM79.3,289.7H86.6V293.6H79.3ZM326.3,289.7H333.5V293.6H326.3ZM304.5,293.6H311.7V297.5H304.5ZM311.7,293.6H319V297.5H311.7ZM340.8,293.6H348.1V297.5H340.8ZM420.7,293.6H428V297.5H420.7ZM558.7,293.6H566V297.5H558.7ZM159.2,297.5H166.5V301.5H159.2ZM188.2,297.5H195.5V301.5H188.2ZM398.9,297.5H406.2V301.5H398.9ZM544.2,297.5H551.4V301.5H544.2ZM566,297.5H573.2V301.5H566ZM93.8,301.5H101.1V305.6H93.8ZM166.5,301.5H173.7V305.6H166.5ZM369.8,301.5H377.1V305.6H369.8ZM413.4,301.5H420.7V305.6H413.4ZM507.9,301.5H515.1V305.6H507.9ZM101.1,305.6H108.3V309.8H101.1ZM151.9,305.6H159.2V309.8H151.9ZM159.2,305.6H166.5V309.8H159.2ZM289.9,305.6H297.2V309.8H289.9ZM413.4,305.6H420.7V309.8H413.4ZM457,305.6H464.3V309.8H457ZM507.9,305.6H515.1V309.8H507.9ZM72,309.8H79.3V314H72ZM79.3,309.8H86.6V314H79.3ZM282.7,309.8H289.9V314H282.7ZM515.1,309.8H522.4V314H515.1ZM72,314H79.3V318.3H72ZM348.1,314H355.3V318.3H348.1ZM130.1,318.3H137.4V322.7H130.1ZM442.5,318.3H449.8V322.7H442.5ZM566,318.3H573.2V322.7H566ZM72,322.7H79.3V327.3H72ZM108.3,322.7H115.6V327.3H108.3ZM151.9,322.7H159.2V327.3H151.9ZM239.1,322.7H246.4V327.3H239.1ZM384.4,322.7H391.6V327.3H384.4ZM420.7,322.7H428V327.3H420.7ZM108.3,327.3H115.6V331.9H108.3ZM297.2,327.3H304.5V331.9H297.2ZM340.8,327.3H348.1V331.9H340.8ZM348.1,327.3H355.3V331.9H348.1ZM420.7,327.3H428V331.9H420.7ZM515.1,327.3H522.4V331.9H515.1ZM566,331.9H573.2V336.8H566ZM57.5,336.8H64.8V341.7H57.5ZM64.8,336.8H72V341.7H64.8ZM231.8,341.7H239.1V346.8H231.8ZM268.2,341.7H275.4V346.8H268.2ZM57.5,346.8H64.8V352.2H57.5ZM64.8,346.8H72V352.2H64.8ZM231.8,346.8H239.1V352.2H231.8ZM355.3,346.8H362.6V352.2H355.3ZM420.7,346.8H428V352.2H420.7ZM159.2,352.2H166.5V357.7H159.2ZM217.3,352.2H224.6V357.7H217.3ZM260.9,352.2H268.2V357.7H260.9ZM289.9,352.2H297.2V357.7H289.9ZM326.3,352.2H333.5V357.7H326.3ZM413.4,352.2H420.7V357.7H413.4ZM93.8,357.7H101.1V363.4H93.8ZM115.6,357.7H122.9V363.4H115.6ZM137.4,357.7H144.7V363.4H137.4ZM326.3,357.7H333.5V363.4H326.3ZM507.9,357.7H515.1V363.4H507.9ZM57.5,363.4H64.8V369.5H57.5ZM64.8,363.4H72V369.5H64.8ZM166.5,363.4H173.7V369.5H166.5ZM311.7,363.4H319V369.5H311.7ZM326.3,363.4H333.5V369.5H326.3ZM340.8,363.4H348.1V369.5H340.8ZM500.6,363.4H507.9V369.5H500.6ZM377.1,369.5H384.4V375.8H377.1ZM515.1,369.5H522.4V375.8H515.1ZM173.7,375.8H181V382.5H173.7ZM333.5,375.8H340.8V382.5H333.5ZM442.5,375.8H449.8V382.5H442.5ZM289.9,382.5H297.2V389.5H289.9ZM398.9,382.5H406.2V389.5H398.9ZM72,389.5H79.3V397H72ZM362.6,389.5H369.8V397H362.6ZM151.9,397H159.2V405H151.9ZM515.1,405H522.4V413.6H515.1ZM377.1,413.6H384.4V422.8H377.1ZM420.7,413.6H428V422.8H420.7ZM239.1,422.8H246.4V433H239.1ZM326.3,422.8H333.5V433H326.3ZM464.3,422.8H471.5V433H464.3ZM522.4,422.8H529.7V433H522.4ZM72,433H79.3V444.1H72ZM144.7,433H151.9V444.1H144.7ZM348.1,433H355.3V444.1H348.1ZM442.5,433H449.8V444.1H442.5ZM500.6,433H507.9V444.1H500.6ZM573.2,433H580.5V444.1H573.2Z"/><path fill="#073267" d="M166.5,72.4H173.7V82.6H166.5ZM130.1,82.6H137.4V91.8H130.1ZM224.6,91.8H231.8V100.4H224.6ZM551.4,100.4H558.7V108.4H551.4ZM566,108.4H573.2V115.9H566ZM159.2,115.9H166.5V122.9H159.2ZM195.5,115.9H202.8V122.9H195.5ZM224.6,115.9H231.8V122.9H224.6ZM246.4,115.9H253.6V122.9H246.4ZM413.4,115.9H420.7V122.9H413.4ZM566,115.9H573.2V122.9H566ZM435.2,122.9H442.5V129.6H435.2ZM260.9,129.6H268.2V135.9H260.9ZM522.4,129.6H529.7V135.9H522.4ZM64.8,135.9H72V142H64.8ZM529.7,135.9H536.9V142H529.7ZM188.2,142H195.5V147.7H188.2ZM210,147.7H217.3V153.2H210ZM457,147.7H464.3V153.2H457ZM406.2,153.2H413.4V158.6H406.2ZM442.5,153.2H449.8V158.6H442.5ZM384.4,158.6H391.6V163.7H384.4ZM464.3,158.6H471.5V163.7H464.3ZM507.9,158.6H515.1V163.7H507.9ZM151.9,163.7H159.2V168.6H151.9ZM326.3,163.7H333.5V168.6H326.3ZM369.8,163.7H377.1V168.6H369.8ZM471.5,163.7H478.8V168.6H471.5ZM195.5,168.6H202.8V173.5H195.5ZM486.1,168.6H493.3V173.5H486.1ZM173.7,173.5H181V178.1H173.7ZM428,173.5H435.2V178.1H428ZM464.3,173.5H471.5V178.1H464.3ZM515.1,178.1H522.4V182.7H515.1ZM573.2,178.1H580.5V182.7H573.2ZM355.3,182.7H362.6V187.1H355.3ZM384.4,182.7H391.6V187.1H384.4ZM449.8,182.7H457V187.1H449.8ZM551.4,182.7H558.7V187.1H551.4ZM471.5,187.1H478.8V191.4H471.5ZM558.7,187.1H566V191.4H558.7ZM210,195.6H217.3V199.8H210ZM326.3,195.6H333.5V199.8H326.3ZM297.2,203.9H304.5V207.9H297.2ZM348.1,211.8H355.3V215.7H348.1ZM413.4,211.8H420.7V215.7H413.4ZM449.8,215.7H457V219.5H449.8ZM311.7,223.3H319V227.1H311.7ZM406.2,223.3H413.4V227.1H406.2ZM348.1,227.1H355.3V230.8H348.1ZM464.3,227.1H471.5V230.8H464.3ZM478.8,227.1H486.1V230.8H478.8ZM333.5,230.8H340.8V234.5H333.5ZM311.7,234.5H319V238.1H311.7ZM362.6,238.1H369.8V241.8H362.6ZM478.8,238.1H486.1V241.8H478.8ZM384.4,241.8H391.6V245.4H384.4ZM464.3,241.8H471.5V245.4H464.3ZM239.1,245.4H246.4V249.1H239.1ZM362.6,249.1H369.8V252.7H362.6ZM348.1,256.3H355.3V260H348.1ZM246.4,260H253.6V263.6H246.4ZM493.3,260H500.6V263.6H493.3ZM224.6,267.3H231.8V270.9H224.6ZM260.9,267.3H268.2V270.9H260.9ZM369.8,267.3H377.1V270.9H369.8ZM355.3,278.3H362.6V282.1H355.3ZM500.6,278.3H507.9V282.1H500.6ZM224.6,282.1H231.8V285.9H224.6ZM362.6,285.9H369.8V289.7H362.6ZM217.3,289.7H224.6V293.6H217.3ZM486.1,289.7H493.3V293.6H486.1ZM522.4,297.5H529.7V301.5H522.4ZM217.3,305.6H224.6V309.8H217.3ZM536.9,309.8H544.2V314H536.9ZM536.9,322.7H544.2V327.3H536.9ZM573.2,327.3H580.5V331.9H573.2ZM101.1,346.8H108.3V352.2H101.1ZM57.5,375.8H64.8V382.5H57.5ZM64.8,375.8H72V382.5H64.8ZM311.7,375.8H319V382.5H311.7ZM420.7,375.8H428V382.5H420.7ZM471.5,375.8H478.8V382.5H471.5ZM551.4,375.8H558.7V382.5H551.4ZM166.5,382.5H173.7V389.5H166.5ZM348.1,382.5H355.3V389.5H348.1ZM449.8,382.5H457V389.5H449.8ZM79.3,389.5H86.6V397H79.3ZM166.5,389.5H173.7V397H166.5ZM326.3,389.5H333.5V397H326.3ZM478.8,389.5H486.1V397H478.8ZM500.6,389.5H507.9V397H500.6ZM108.3,397H115.6V405H108.3ZM130.1,397H137.4V405H130.1ZM231.8,397H239.1V405H231.8ZM391.6,397H398.9V405H391.6ZM442.5,397H449.8V405H442.5ZM464.3,397H471.5V405H464.3ZM188.2,405H195.5V413.6H188.2ZM224.6,405H231.8V413.6H224.6ZM268.2,405H275.4V413.6H268.2ZM275.4,405H282.7V413.6H275.4ZM355.3,405H362.6V413.6H355.3ZM413.4,405H420.7V413.6H413.4ZM137.4,413.6H144.7V422.8H137.4ZM536.9,413.6H544.2V422.8H536.9ZM86.6,422.8H93.8V433H86.6ZM108.3,422.8H115.6V433H108.3ZM195.5,422.8H202.8V433H195.5ZM289.9,422.8H297.2V433H289.9ZM268.2,433H275.4V444.1H268.2ZM297.2,433H304.5V444.1H297.2ZM478.8,433H486.1V444.1H478.8Z"/></g>
<g clip-path="url(#ci)"><path fill="#b3b3b3" fill-rule="nonzero" d="M77.8,132.4 82.2,128.8 86.6,127.5 91.6,125.9 98.2,127.2 103.3,128.8 109.8,129.3 114.2,130.6 120,132.2 122.9,130.9 127.2,130.4 131.6,129.6 133,128 137.4,130.9 143.2,130.6 149,132.2 153.4,133.7 159.2,134.9 162.1,134.2 165,132.7 170.8,135.2 176.6,135.2 179.6,133.4 181,125.7 184,127 186,124.5 189,127 190,131 191,133 193,130 194.5,134.5 195,139.5 194,141 191,141.5 188,143 185,146.5 182.4,150 182,155 184.6,159 191,161.5 196,163.4 201.4,168.6 204,164.7 205.3,158 206,151.6 208,148.3 213,150 217.3,151 221,154 224.6,152.5 227.5,155.5 228.9,158.6 230.4,161.7 233.3,163.1 235.9,166.3 237.9,168.6 236.2,170.6 232.6,172.9 227.5,173.1 222.4,173.3 219.5,175 216.6,178.5 218,177.6 221.7,175.3 225.3,175.5 224.6,177.4 224.9,179 226.7,180.9 229.7,181.6 230.4,182.1 227.5,183.4 223.8,185.3 222.8,183.7 225.3,182.1 223.1,182.3 220.9,183.6 218.8,184.4 216.9,185.3 216.1,187.1 217.3,188.3 216.4,188.8 214.4,189.3 211.5,190.4 211.5,192.3 210,193.3 209.3,194.3 208.6,196.5 209.2,199 207.6,200.3 205.7,201.7 203.8,203 201.6,204.7 200.7,207.1 201,208.7 202,211 202.8,213.4 202.2,215.4 201,215.2 200.2,213.8 199,211.8 198.9,210.1 197.4,208 195.5,208.3 193.3,207.2 190.4,207.2 189,207.5 189.4,209.3 187.5,209.1 185.3,208.5 182.4,208.5 180.3,209.8 178.1,211.3 177.5,214.1 177.1,217.2 177.1,220.3 177.8,222.4 179.1,224.5 181,225.6 182,226 184.6,225.4 186.4,225.6 187.4,224.1 187.8,221.8 191.2,221 192.9,221.2 192,224.1 191.4,226 190.7,227.1 190.3,229.6 191.9,229.6 194.1,229.4 196.5,229.7 198.1,230.8 197.7,233 197.5,235.9 197.5,237 199.1,238.9 200.6,239.9 202.8,239.2 204.8,238.9 206.7,240.2 206.1,241.4 205.2,240.6 203.5,239.9 202.2,240.8 202.8,241.9 201.3,241.7 199.9,240.9 197.5,240.5 195.5,238.7 194.5,237.4 194.3,236.2 192.3,234.2 191.7,233.4 189.3,233 186.4,232.4 184.6,231.4 182.4,229.3 180.3,229.6 178.8,229.7 175.9,228.9 173,227.5 170.8,226.5 167.9,225.1 165.9,223 166,220.9 165,219.1 162.8,216.5 160.6,214.4 160.1,213 158.3,211.2 157.4,209.6 156,208.5 155.1,207.4 154.5,205.9 152.2,205 152.7,207.1 154.1,209 155.3,211.2 157,213.4 158.2,216 159.2,217.1 160.1,218.4 159.2,218.9 157.7,217.2 156.1,216 156,214.1 154.4,212.9 153.1,211.8 153.2,210.5 151.6,208.7 150.5,206.9 149.5,205 148.7,203.4 147.7,201.7 146.8,201.4 145.4,200.8 143.8,200.4 143.2,199 141.9,197.1 141.2,196.1 141,195.1 140.3,194.3 139.1,192.6 138.4,190.7 138.7,188.8 138.1,186.6 138.9,183.6 139,180.5 138.7,179 137.8,176.5 140,177 140.6,175.3 138.9,173.8 136.7,172.5 134.5,171.2 133,169.6 130.9,166.7 129.7,164.7 128.7,162.7 126.8,160.6 125,158.4 122.9,156 120.7,156.9 118.8,156 115.9,154.1 113.4,153.2 110.5,153.2 106.9,151.9 104,152.2 101.5,153.7 98.9,155 98.5,152.2 97,153.7 95.6,155.2 94.8,156.9 92.4,158.6 90.2,160.2 87.3,162.1 84.4,162.9 81.5,164.1 79.6,164.7 81.5,163.5 83.9,161.9 86.1,160.4 88.3,158.4 90.2,156.5 88.1,156.2 85.8,155.8 83.6,156 83.6,153.7 81,152.8 79,151.9 78.6,149.7 77.8,148.2 79.4,146.4 81.5,146.1 84.4,145.4 85.4,143.4 84.4,143.1 82.5,143.4 80,142.9 77.5,142.9 75.7,141.5 74.8,140.5 77.1,139.3 80,138.1 81.2,139.1 83.9,139.3 83.6,137.4 81.3,136.7 79.9,135.2 78.3,133.9 76.7,133.9ZM206.7,240.2 208,239.3 209.2,237.7 209.7,236.7 211.2,236.2 212.9,235.9 214,235.4 214.8,234.6 215.6,234.9 214.5,235.8 215.1,236.8 215,237.7 215.7,238.4 216,236.7 217,235.9 217.4,234.9 218,235.9 219.6,236.4 219.9,237.3 222.4,237.3 224.4,238 225.7,237.3 227.5,237.1 229.1,237.1 228.1,237.9 229.5,238.3 230.7,239 231,240.2 232.1,240.6 233.1,241.2 234.2,242.1 234.6,242.8 235.9,244 237.8,244.3 240.4,244.4 242,244.7 243.6,246 244.5,246.6 245.6,249.8 246.5,250.2 245.9,252 247.8,252.8 248.7,254.4 250,253.7 251.4,254.2 253.2,255 254.5,256.2 255.9,256.3 258.6,256.9 261.2,256.9 263.2,258.2 265,259.7 267.3,260.2 268,261.7 268.4,263.6 268,265.8 266.4,267.8 264.8,269.9 263.1,271.7 262.3,273.9 262.3,276.4 261.9,278.8 261.2,281.6 259.7,284.4 258.1,286.3 256.4,286.6 254.2,287.1 251.3,288.3 249.3,290.2 248.4,292 248.4,294.5 246.9,296.4 245.6,298.8 244.3,300.6 243,301.7 241.4,303.5 240.3,305 238.1,305.3 236.2,304.8 234.2,304.3 235.3,306.4 236.5,307.9 235.2,310.9 233,311.8 230.1,312.3 228.5,311.9 228.5,314.3 226.3,315.9 224.6,315.7 225.4,317.6 226.5,318.5 224.7,318.7 224.6,320.2 224,322.7 222.1,322.7 221.1,324.7 222.7,326.9 223.3,328.2 220.9,330.6 219.5,332.9 218.6,335.2 219.6,336.4 218,336.8 219.3,337.7 220.9,339.7 223.8,340.9 221.7,341.7 219.3,342.3 216.6,341.7 214.4,340.1 211.9,337.7 210.6,335.4 209.5,332.9 209.2,329.5 210.5,327.3 209.2,325.6 210.9,323.6 212.5,321.5 213.1,318.8 211.9,319.9 211.5,317.4 211.9,314.3 212.1,312.1 212.2,309.6 213.5,306.6 214.7,303.7 215.3,301.4 214.8,298.3 215.3,295.3 216.1,292.8 216.6,289.7 216.6,287.1 217,284.1 217,280.6 216,279.1 214.1,277.9 211.3,276.1 209.3,274.6 208.2,272.5 207.3,270.6 206.1,268.4 204.7,265.6 203.4,263.2 201,261.4 201.2,259.5 202.3,257.6 202.6,256.5 201.5,255.9 201.9,254.2 202.6,252.7 202.8,251.5 204.2,251 204.5,249.8 206,248.8 206.8,247.2 206.4,246.2 206.7,244.3 206.4,243.1 205.8,242.2ZM310.9,198.1 309.8,197.1 308.2,196.1 306.1,196.5 306.2,194.5 305.2,193.6 305.9,191.8 306.2,189.7 306.1,187.4 305.5,186.2 307.4,185 310.3,185.2 313.9,185.3 316.4,185.5 317.1,183.6 317.3,180.9 315.8,178.9 313.9,177.8 312.5,177.4 312.2,176.3 314.4,175.7 316.7,175.9 316.2,174 317.4,174.6 319.3,174.2 321.2,172.9 322.6,171.4 324.2,170.8 325.2,169.4 325.8,167.9 327.6,166.9 329.5,166.9 331.3,166.5 331.5,164.5 330.8,162.7 330.8,160.4 331.5,159.4 333.5,158.4 334.3,159.2 333.8,161.5 334.8,160.8 334.3,162.7 333.4,163.7 334.7,164.9 336.1,165.3 337.9,164.9 339.6,165.9 343,164.7 345.9,164.1 347.5,164.9 349.8,163.3 349.7,160.6 350.4,158.8 351.8,158.1 354.3,159.2 353.3,156.9 353.1,155 356.8,154.1 359.7,154.3 362.9,153.5 361.1,152.8 357.5,152.4 352.4,153.5 350.2,151.7 350.1,149.3 349.9,146.6 351.7,144.7 354.6,142.2 355.9,141 354.2,140.1 351.4,140.3 349.9,143.1 348.5,145 346.3,146.6 344.6,147.9 344,150.6 344.1,151.9 346.3,153.2 345.6,154.8 343.4,156.5 343.1,159.2 342.1,161.5 339.8,162.5 337.7,162.9 337.2,161 336.3,158.1 335.3,155.6 334.4,153.7 333.8,155.2 332.7,155.8 331.1,157.3 329.2,157.5 327.1,156 326.7,153.2 326.3,150 326.7,148.4 328.9,147 331.3,145.4 333.5,143.4 335.4,142.2 337.5,139.6 338.9,136.2 341.5,133.9 343.4,132.2 345.4,130.4 348.1,129.3 351.7,128.3 356,126.7 359.7,127 364,128.8 366.9,131.1 372,131.9 377.8,135.2 378.7,137.6 375.7,139.3 372,138.9 369.6,138.1 367.8,138.9 369.4,141 369.3,143.1 371.7,144.1 373.3,144.7 374.2,143.1 376.5,142.9 377.8,142.9 377.1,140.8 380,138.6 382.6,139.1 383.2,137.4 382.6,133.9 385.8,134.2 386.7,135.2 389.5,135.7 392.4,134.2 396,133.2 398.2,133.9 401.2,133.4 404.4,132.4 406.5,132.9 407.9,130.4 411.3,130.9 414.9,131.9 416.6,133.2 418.5,134.2 419.4,132.4 418.1,130.9 416.3,128.8 416.5,127 418.7,123.2 419.8,121.8 423,121.8 424.8,123.8 424.2,127 424.5,129.9 424.5,132.4 425.9,134.2 425.2,136.2 423.9,138.1 426.5,136.4 427.8,133.9 427.2,131.1 426.2,129.3 427.2,127 425.6,125.4 427.7,123.5 429,123.2 428.4,126.5 430.6,126.5 433,124.8 431.9,122.9 434.5,123.2 436.7,124.8 438.6,125.4 439,127.5 440,128.3 439.6,125.9 438.1,123.2 436.2,119.9 440.3,119.3 445.1,119.1 443.9,117.3 445.7,115.6 449,114.4 453.8,113.3 457,112.7 461.4,111.8 464.3,111.2 466.5,109 470.5,107.8 473.7,109 475.2,110.9 480.3,111.2 483.6,113.3 484,117.3 482.3,119.6 483.9,120.7 487.5,119.9 491.6,120.2 494.1,121.8 497.7,119.9 500.6,120.2 503.5,120.2 506.1,122.1 507,124.8 509.8,127.5 511.5,124.8 513.7,125.9 516.6,125.4 519.9,125.4 522.2,123.8 523.8,122.4 528.6,123.5 533.3,123.5 536.9,125.4 539.1,127.2 540.7,127.2 544.2,127 548,127.2 550.7,128 552.6,130.6 555.8,130.4 559.4,130.9 562.8,130.4 565.4,131.4 567.1,129.6 570.3,129.9 574.7,130.1 578.8,131.4 580.5,132.4 583.4,133.4 587,136.4 590.7,137.2 592.9,138.1 595.5,139.3 594.7,140.5 592.4,140.8 591,142.9 589.2,143.6 587,143.1 584.6,141.2 582,141.5 579.1,142.9 578,143.8 577.2,147.3 574.7,147.7 571.8,149.3 568.9,151.1 566.6,153.2 563.8,152.2 560.5,152.6 558,153.7 556.4,155 555.8,157.9 554.5,157.9 554.1,160.2 555.7,161.5 554.5,163.5 553.9,164.7 552,165.1 551.4,167.3 549.6,167.9 548.8,169.8 546.8,171.5 546.2,168.8 545.5,165.7 544.9,162.9 545.6,159.6 546.8,158.8 548.4,157.9 550.7,156.5 552.9,153.2 554.2,152.4 556.5,150 557.3,147.9 555.7,148.4 551.9,149.3 550,149.7 546.7,150.2 543,153.7 540.6,155.4 537.5,154.1 534.7,154.8 530.4,154.5 527.5,154.8 525.3,155.6 523.4,157.3 521.5,159 519.2,160.6 517.5,163.1 515.3,164.3 517.7,164.5 518.6,165.9 521.7,165.3 524.3,167.5 524.4,169.2 523.3,171.9 523.1,174.2 522.4,176.6 519.9,179.8 517.7,182.3 515.6,184.6 513,186.6 511.2,185.7 509.5,186.6 508.7,187.4 507.7,189.2 507.4,190 505.8,191.8 504.2,191.9 505.4,193.8 506.7,195.8 507.1,196.8 507,199.1 506.3,199.8 504.1,200.6 502.8,200.8 502.5,199.5 503.2,198 502.3,196.8 503.2,195.6 502.2,195.3 501.2,195.3 500.3,194.6 501,192.3 499.6,191.6 497.6,192.1 495.7,193.1 495.8,192.3 496.7,190.6 495.5,189.9 494.2,190.9 492.8,191.6 491.7,192.9 490.4,192.8 489.7,193.8 490.4,194.8 491.7,195.8 492.9,196.3 494.5,195.1 495.7,195.6 497,196.5 494.9,197.1 494.2,198 492.8,199 492.2,200.4 493.6,200.9 494.5,203.7 496.1,205.1 495.2,206.6 496.1,206.4 495.5,207.7 496.4,208.2 495.8,210.5 495.1,210.7 493.9,212.4 492.8,214.1 491.9,215.2 491.2,216.3 490.1,216.5 488.8,218.1 487.5,218.9 485.8,219.2 484.9,219.8 483.9,219.4 483.5,220.3 481.7,220.7 480,221.2 479.4,222.7 478.7,222.4 478.1,221 476.6,220.7 475,221.3 473.9,222.4 472.9,223.8 472.6,225 473.9,226.9 475.3,228.4 476.3,229.4 477.2,230.5 477.8,233.2 477.6,235.7 476.5,236.7 474.7,237.6 473.6,238.9 471.8,240.2 471.3,239.3 471.7,238.1 470.5,237.4 469.4,237.3 468.1,234.9 466.8,234.2 465.4,234.3 465.6,233.2 464.3,233.2 463.1,234.9 463.6,237 463.1,239.3 464.1,239.3 465,241.9 465.7,242.7 466.6,242.8 467.3,243.7 468.6,244.7 469.2,245.6 469.2,246.9 469.4,248.6 469.9,249.1 470.4,250.4 469.4,250.8 468.1,249.8 466.3,248.6 465.3,247 464.9,245.2 464.7,243.4 463.8,242.7 463.4,241.9 462.1,240.8 461.8,239.2 462.1,237.1 462.5,236.1 462,235.2 462.1,233.6 461.1,231.4 460.8,229.1 460.2,228 459.2,228.7 457.6,229.7 456.1,229.4 455.9,228.3 456.3,226.6 456,225.1 454.8,224.2 454.3,223.3 453.2,222.3 452.8,221.5 452.7,220.4 451.8,219.2 450.5,219.1 450.2,220.6 449.3,220.4 448.3,220.7 447.4,220.6 446.6,220.6 445.4,221 444.7,223 442.6,224.1 441.2,225.9 438.4,228.4 437.1,228.7 435.7,229.4 435.2,230.6 435.5,232.6 435.7,233.7 435.1,235.2 434.9,237.7 434.2,237.7 433.6,238.7 432.8,239.8 431.6,240.9 430.3,239.8 429.6,237.7 429,236.2 428.5,235.5 427.8,234.2 427.2,232.3 426.4,230 425.6,229.3 425.1,226.5 424.8,224.5 424.9,222.9 424.5,221.2 424,221.6 423.6,221.5 422.4,222.1 421.4,221.9 419.5,220.1 420.1,219.5 421,219.4 421.4,218.6 420.3,219.1 419,218.6 418.1,217.7 416.9,217.4 416.5,216.1 415.5,215.1 412.7,215.4 410.4,215.4 408.3,215.5 405.6,215.1 404,214.8 402.4,214.6 401.7,212.6 401.1,212.4 399.9,212.7 398.5,213.4 396.7,212.9 395.3,211.6 393.8,211.2 392.9,209.8 392.2,208 391.1,207.9 390,207.4 388.7,207.9 388.6,208.8 389.3,210.1 389.9,211.5 390.6,211.8 390.9,212.7 391.8,213 391.9,214.3 392.5,215.7 393.1,214.1 394,214.4 394,215.4 393.5,216.8 395.4,216.9 397.3,216.9 398.5,216 399.6,215.1 400.5,214 400.9,214.3 400.8,215.7 401.1,216.5 402.4,217.4 404,217.8 404.9,218.9 405.9,219.5 405.2,221.2 404,222.7 402.8,223.9 402.8,225 401.2,225.4 400.8,226.5 399.3,227.4 398.9,228 396.1,228.4 394.8,229.4 394.8,229.9 391.1,231.2 389.8,232.3 388.7,232.3 387.9,232.9 385.2,233.3 384.4,234.2 382.9,234.3 382.2,234.3 381.8,233.4 381.9,232.6 381.3,231.1 381.2,229.7 381,228.3 380.3,227.2 379.7,226.6 378.9,225.3 378.4,224.1 377.4,223 376.8,222.9 375.8,221.3 376,220.3 375.5,219.1 374.9,217.7 373.5,215.8 373,215.5 372.6,214.8 372.2,214.1 371.6,213.2 370.7,212 370,210.9 369.3,210.9 369.7,208.8 369.3,209.4 369,210.5 368.5,211.3 367.8,210.4 366.8,208.7 366.4,208 366.1,208.2 366.5,209.9 367.4,211 368.3,212.3 369.1,214.1 369.8,215.8 370.7,217.5 370.9,218.9 372.2,220 372.6,221.3 373,223.5 373.5,225.4 374.8,226.3 375.5,227.8 376.1,229.4 376.8,230 378,230.8 378.9,231.5 379.6,232.4 380.5,233.3 381.6,234.2 381.9,235.2 381.2,235.9 382.3,236.8 383.8,237.6 385.2,237.1 386.7,237 388,236.5 389.3,236.1 390.6,236.1 392.1,235.7 393.2,235.5 393.2,237.3 392.5,239.3 391.8,240.9 390.9,242.8 389.6,245 388.3,246.6 386.7,248.5 385.2,249.8 383.1,251.1 381.3,252.6 380,254 378.7,255.7 377.3,256.8 376.5,258.9 376,259.5 375.2,261.4 376.2,262.6 376,263.9 376.1,264.8 376.4,265.9 377,267.4 377.5,267.7 377.8,268.7 377.7,270.9 378,273.4 378.3,274.2 377.8,275.2 377.3,276.3 376.4,277.1 373.3,278.5 371.7,280.1 370.4,281.5 369.6,282.1 370.1,284.1 370.4,285.3 370.7,287.7 370.4,288.3 369,289.4 366.9,290.3 366.4,291.4 366.7,293 366.2,294.9 365.8,295.6 364.8,296.4 364,297.5 362.6,299.6 361.4,301.1 360,302 359,302.7 357.4,303.3 356.2,304 354.9,304 353.3,303.7 351.8,303.8 350.2,304.5 348.2,305.3 347.5,305.3 346.9,304.8 345.7,304 345.4,302.8 345.6,301.7 345,300.6 344.6,298.3 343.8,297.4 342.7,295.3 341.7,293.4 341.1,292.2 340.4,290.3 339.9,288 339.9,286.2 338.8,284.1 337.6,281.6 336.4,279.7 336,277.9 336.1,275.8 336.7,273.7 337.5,271.8 338.8,270.6 339,269 338.2,267.4 337.7,265.8 338.2,265.2 337.5,263.5 336.9,261.6 336.7,261.1 336.3,260 335.1,258.4 333.7,256.9 332.7,255.7 331.8,254.3 332.5,253.4 332.8,251.2 333.2,249.4 332.7,247.3 331.9,247 331.3,245.7 329.9,246.3 328.7,246.6 327.6,246.5 326.8,245.6 326.3,244.6 325.2,243.6 322.9,243.6 321.8,243.8 320.6,244.1 318.3,245 317.4,245.4 316.1,245.9 314.8,245.4 313.2,245.2 311.7,245.2 310.3,245.4 308.1,246.5 307.8,246.3 306.8,245.9 305.9,245.3 304.5,244.3 303.3,243.6 302.4,242.8 301,242.1 300.3,241.4 299.8,240.2 299.8,238.9 298.5,238 297.8,237.1 297.1,236.4 295.8,235.9 294.9,234.9 294.7,232.9 294.2,231.7 293.6,231.2 294.7,229.9 295,229.1 295.6,226.2 295.3,224.7 295.2,223.9 295.3,223.2 294.4,221.5 294.9,220 295.3,219.2 295.8,217.7 296.6,216.6 297.1,216.5 297.5,215.5 298.1,213.7 299,213.2 300,211.5 300.7,211 302,210.9 303.2,209.8 303.9,209.3 305.1,208 304.8,205.9 305.3,204.7 305.9,203.9 306.4,202.7 307.8,201.9 309,201.3 310,199.6 310.4,198.5 311.4,198.5 312.3,199.3 313.8,199.1 315.2,199.5 315.8,199.5 317.3,198.6 318.9,198.3 319.7,197.6 321.2,197.1 323.6,196.8 326,196.6 326.7,197 328.2,196.3 329.6,196.3 330.2,196.6 331.2,196.6 332.8,196 333.8,196.1 333.8,197 335.1,196.3 335.1,196.6 334.4,197.5 334.4,198.3 335,199.3 334.7,200.1 333.7,200.9 334,201.7 334.8,201.7 335.6,202.6 337.5,203.4 339.2,203.5 341.1,204.2 341.8,205.6 344.4,206.4 346.7,207.4 347.5,207.1 348.2,206.3 348.1,204.8 349.4,203.5 350.2,203.4 352.3,203.7 352.7,204.3 353.3,204.3 355.2,204.8 355.6,205.3 357.5,205.3 359,205.8 360.4,206.3 362.1,205.9 362.7,205.5 364,205.3 365.1,205.6 365.9,205.8 368.1,206.3 368.8,205.9 369.3,205.5 369.8,203.4 370,202.9 370.6,201.6 371.3,200.4 371.2,199.1 371.4,198.5 371,197.6 371.6,197 370.7,197.1 369.4,196.8 368.4,197.8 366.2,198 365.1,197.1 363.5,197 363.2,197.6 362.1,198 360.7,197 359.1,197 358.4,195.3 357.2,194.5 357.9,193.1 357.1,192.3 357.1,191.4 357.6,190.4 356.9,190.4 355.9,189.9 355.2,189.9 353.4,190.2 354.4,191.2 353.7,191.4 352.9,191.6 352.1,190.6 351.8,190.9 352.1,191.9 353,192.8 352.3,193.3 353.1,194 353.9,194.5 353.9,195.3 352.6,195 353,195.8 352.1,196 352.7,197.5 351.7,197.5 350.5,196.8 349.9,195.5 349.7,194.3 349.1,193.5 348.3,192.6 348.3,192.1 347.2,190.9 347,190.2 347.2,189 347.3,188.5 347.2,187.8 346.5,187.4 345.9,186.9 344.4,186.4 343.7,185.9 342.2,185.3 341.1,184.1 341.4,183.9 340.6,183.2 340.6,182.5 339.8,182.3 339.2,183 338.9,182.5 338.9,181.6 338,181.4 336.9,181.9 337,182.8 336.9,183.4 337.3,184.3 338.6,185.2 339.3,186.6 340.9,188.1 342.1,188.1 342.4,188.5 342.1,188.8 343.4,189.3 344.4,189.9 345.7,190.7 345.9,191.1 345.6,191.8 344.7,190.9 343.6,190.7 343,191.8 344,192.4 344,193.1 343.1,193.5 342.4,194.8 341.8,194.8 342.1,193.5 342.4,193.1 341.8,191.4 340.8,191.1 340.4,190.4 339.5,190 338.8,189.3 337.7,189.2 336.6,188.5 335.3,187.3 334.3,186.4 333.8,184.6 333.1,184.4 331.9,183.7 331.2,184.1 330.5,184.8 329.8,185 328.4,186 325.7,185.5 323.5,186 323.4,187.1 323.6,188.1 322.1,189.3 320.2,189.7 320,190.2 319.1,191.2 318.6,192.6 319.1,193.6 318.3,194.3 318,195.5 317,195.8 315.9,197 312.6,197 311.7,197.6ZM-212.1,198.1 -213.2,197.1 -214.8,196.1 -216.9,196.5 -216.8,194.5 -217.8,193.6 -217.1,191.8 -216.8,189.7 -216.9,187.4 -217.5,186.2 -215.6,185 -212.7,185.2 -209.1,185.3 -206.6,185.5 -205.9,183.6 -205.8,180.9 -207.2,178.9 -209.1,177.8 -210.5,177.4 -210.8,176.3 -208.7,175.7 -206.3,175.9 -206.8,174 -205.6,174.6 -203.7,174.2 -201.8,172.9 -200.4,171.4 -198.8,170.8 -197.8,169.4 -197.2,167.9 -195.4,166.9 -193.6,166.9 -191.7,166.5 -191.5,164.5 -192.2,162.7 -192.2,160.4 -191.5,159.4 -189.5,158.4 -188.8,159.2 -189.2,161.5 -188.2,160.8 -188.8,162.7 -189.6,163.7 -188.3,164.9 -186.9,165.3 -185.1,164.9 -183.4,165.9 -180,164.7 -177.1,164.1 -175.5,164.9 -173.2,163.3 -173.4,160.6 -172.6,158.8 -171.2,158.1 -168.7,159.2 -169.7,156.9 -169.9,155 -166.2,154.1 -163.3,154.3 -160.1,153.5 -161.9,152.8 -165.5,152.4 -170.6,153.5 -172.8,151.7 -172.9,149.3 -173.1,146.6 -171.3,144.7 -168.4,142.2 -167.1,141 -168.9,140.1 -171.6,140.3 -173.1,143.1 -174.5,145 -176.7,146.6 -178.4,147.9 -179,150.6 -178.9,151.9 -176.7,153.2 -177.4,154.8 -179.6,156.5 -179.9,159.2 -180.9,161.5 -183.2,162.5 -185.3,162.9 -185.9,161 -186.7,158.1 -187.7,155.6 -188.6,153.7 -189.2,155.2 -190.4,155.8 -192,157.3 -193.8,157.5 -195.9,156 -196.3,153.2 -196.7,150 -196.3,148.4 -194.1,147 -191.7,145.4 -189.5,143.4 -187.6,142.2 -185.6,139.6 -184.1,136.2 -181.5,133.9 -179.6,132.2 -177.6,130.4 -175,129.3 -171.3,128.3 -167,126.7 -163.3,127 -159,128.8 -156.1,131.1 -151,131.9 -145.2,135.2 -144.3,137.6 -147.4,139.3 -151,138.9 -153.5,138.1 -155.2,138.9 -153.6,141 -153.7,143.1 -151.3,144.1 -149.7,144.7 -148.8,143.1 -146.5,142.9 -145.2,142.9 -145.9,140.8 -143,138.6 -140.4,139.1 -139.8,137.4 -140.4,133.9 -137.2,134.2 -136.3,135.2 -133.6,135.7 -130.6,134.2 -127,133.2 -124.8,133.9 -121.8,133.4 -118.6,132.4 -116.6,132.9 -115.1,130.4 -111.8,130.9 -108.1,131.9 -106.4,133.2 -104.5,134.2 -103.6,132.4 -104.9,130.9 -106.7,128.8 -106.5,127 -104.3,123.2 -103.2,121.8 -100,121.8 -98.2,123.8 -98.8,127 -98.5,129.9 -98.5,132.4 -97.1,134.2 -97.8,136.2 -99.1,138.1 -96.5,136.4 -95.2,133.9 -95.8,131.1 -96.8,129.3 -95.8,127 -97.4,125.4 -95.3,123.5 -94,123.2 -94.6,126.5 -92.4,126.5 -90,124.8 -91.1,122.9 -88.5,123.2 -86.3,124.8 -84.4,125.4 -84,127.5 -83,128.3 -83.4,125.9 -84.9,123.2 -86.8,119.9 -82.7,119.3 -77.9,119.1 -79.1,117.3 -77.3,115.6 -74,114.4 -69.2,113.3 -66,112.7 -61.6,111.8 -58.7,111.2 -56.6,109 -52.5,107.8 -49.3,109 -47.8,110.9 -42.8,111.2 -39.4,113.3 -39,117.3 -40.7,119.6 -39.1,120.7 -35.5,119.9 -31.4,120.2 -28.9,121.8 -25.3,119.9 -22.4,120.2 -19.5,120.2 -16.9,122.1 -16,124.8 -13.3,127.5 -11.5,124.8 -9.3,125.9 -6.4,125.4 -3.1,125.4 -0.8,123.8 0.8,122.4 5.6,123.5 10.3,123.5 13.9,125.4 16.1,127.2 17.7,127.2 21.2,127 25,127.2 27.7,128 29.6,130.6 32.8,130.4 36.4,130.9 39.8,130.4 42.4,131.4 44.1,129.6 47.3,129.9 51.7,130.1 55.8,131.4 57.5,132.4 60.4,133.4 64,136.4 67.7,137.2 69.8,138.1 72.5,139.3 71.7,140.5 69.4,140.8 68,142.9 66.2,143.6 64,143.1 61.6,141.2 58.9,141.5 56,142.9 55,143.8 54.2,147.3 51.7,147.7 48.8,149.3 45.9,151.1 43.5,153.2 40.8,152.2 37.4,152.6 35,153.7 33.4,155 32.8,157.9 31.5,157.9 31.1,160.2 32.7,161.5 31.5,163.5 30.9,164.7 29,165.1 28.4,167.3 26.5,167.9 25.8,169.8 23.8,171.5 23.2,168.8 22.5,165.7 21.9,162.9 22.6,159.6 23.8,158.8 25.4,157.9 27.7,156.5 29.9,153.2 31.2,152.4 33.5,150 34.2,147.9 32.7,148.4 28.9,149.3 27,149.7 23.6,150.2 20,153.7 17.5,155.4 14.5,154.1 11.7,154.8 7.4,154.5 4.5,154.8 2.3,155.6 0.4,157.3 -1.5,159 -3.8,160.6 -5.6,163.1 -7.7,164.3 -5.3,164.5 -4.4,165.9 -1.3,165.3 1.3,167.5 1.4,169.2 0.3,171.9 0.1,174.2 -0.6,176.6 -3.1,179.8 -5.3,182.3 -7.4,184.6 -10.1,186.6 -11.8,185.7 -13.5,186.6 -14.3,187.4 -15.3,189.2 -15.6,190 -17.2,191.8 -18.8,191.9 -17.6,193.8 -16.3,195.8 -15.9,196.8 -16,199.1 -16.7,199.8 -18.9,200.6 -20.2,200.8 -20.5,199.5 -19.8,198 -20.7,196.8 -19.8,195.6 -20.8,195.3 -21.8,195.3 -22.7,194.6 -22,192.3 -23.4,191.6 -25.5,192.1 -27.4,193.1 -27.2,192.3 -26.3,190.6 -27.5,189.9 -28.8,190.9 -30.3,191.6 -31.3,192.9 -32.6,192.8 -33.3,193.8 -32.6,194.8 -31.3,195.8 -30.1,196.3 -28.5,195.1 -27.4,195.6 -26,196.5 -28.1,197.1 -28.8,198 -30.3,199 -30.8,200.4 -29.4,200.9 -28.5,203.7 -26.9,205.1 -27.8,206.6 -26.9,206.4 -27.5,207.7 -26.6,208.2 -27.2,210.5 -27.9,210.7 -29.1,212.4 -30.3,214.1 -31.1,215.2 -31.9,216.3 -32.9,216.5 -34.2,218.1 -35.5,218.9 -37.2,219.2 -38.1,219.8 -39.1,219.4 -39.6,220.3 -41.3,220.7 -43,221.2 -43.6,222.7 -44.3,222.4 -44.9,221 -46.4,220.7 -48,221.3 -49.1,222.4 -50.2,223.8 -50.5,225 -49.1,226.9 -47.7,228.4 -46.7,229.4 -45.8,230.5 -45.2,233.2 -45.4,235.7 -46.5,236.7 -48.3,237.6 -49.4,238.9 -51.2,240.2 -51.8,239.3 -51.3,238.1 -52.5,237.4 -53.6,237.3 -55,234.9 -56.3,234.2 -57.6,234.3 -57.4,233.2 -58.7,233.2 -59.9,234.9 -59.5,237 -59.9,239.3 -58.9,239.3 -58,241.9 -57.3,242.7 -56.4,242.8 -55.7,243.7 -54.4,244.7 -53.8,245.6 -53.8,246.9 -53.6,248.6 -53.1,249.1 -52.6,250.4 -53.6,250.8 -55,249.8 -56.7,248.6 -57.7,247 -58.2,245.2 -58.3,243.4 -59.2,242.7 -59.6,241.9 -60.9,240.8 -61.2,239.2 -60.9,237.1 -60.5,236.1 -61.1,235.2 -60.9,233.6 -61.9,231.4 -62.2,229.1 -62.8,228 -63.8,228.7 -65.4,229.7 -66.9,229.4 -67.2,228.3 -66.7,226.6 -67,225.1 -68.2,224.2 -68.8,223.3 -69.8,222.3 -70.2,221.5 -70.4,220.4 -71.2,219.2 -72.5,219.1 -72.8,220.6 -73.7,220.4 -74.7,220.7 -75.6,220.6 -76.5,220.6 -77.6,221 -78.3,223 -80.4,224.1 -81.8,225.9 -84.6,228.4 -85.9,228.7 -87.4,229.4 -87.8,230.6 -87.5,232.6 -87.4,233.7 -87.9,235.2 -88.1,237.7 -88.8,237.7 -89.4,238.7 -90.3,239.8 -91.4,240.9 -92.7,239.8 -93.5,237.7 -94,236.2 -94.5,235.5 -95.2,234.2 -95.8,232.3 -96.6,230 -97.4,229.3 -98,226.5 -98.2,224.5 -98.1,222.9 -98.5,221.2 -99,221.6 -99.4,221.5 -100.6,222.1 -101.6,221.9 -103.5,220.1 -102.9,219.5 -102,219.4 -101.6,218.6 -102.8,219.1 -104.1,218.6 -104.9,217.7 -106.1,217.4 -106.5,216.1 -107.5,215.1 -110.3,215.4 -112.6,215.4 -114.7,215.5 -117.4,215.1 -119,214.8 -120.6,214.6 -121.3,212.6 -121.9,212.4 -123.1,212.7 -124.5,213.4 -126.3,212.9 -127.7,211.6 -129.2,211.2 -130.1,209.8 -130.8,208 -132,207.9 -133,207.4 -134.3,207.9 -134.4,208.8 -133.7,210.1 -133.1,211.5 -132.4,211.8 -132.1,212.7 -131.2,213 -131.1,214.3 -130.5,215.7 -129.9,214.1 -129,214.4 -129,215.4 -129.5,216.8 -127.6,216.9 -125.7,216.9 -124.5,216 -123.4,215.1 -122.5,214 -122.1,214.3 -122.2,215.7 -121.9,216.5 -120.6,217.4 -119,217.8 -118.2,218.9 -117.1,219.5 -117.9,221.2 -119,222.7 -120.2,223.9 -120.2,225 -121.8,225.4 -122.2,226.5 -123.7,227.4 -124.1,228 -126.9,228.4 -128.2,229.4 -128.2,229.9 -132,231.2 -133.3,232.3 -134.3,232.3 -135.1,232.9 -137.8,233.3 -138.6,234.2 -140.1,234.3 -140.8,234.3 -141.3,233.4 -141.1,232.6 -141.7,231.1 -141.8,229.7 -142,228.3 -142.7,227.2 -143.3,226.6 -144.2,225.3 -144.6,224.1 -145.6,223 -146.2,222.9 -147.2,221.3 -147.1,220.3 -147.5,219.1 -148.1,217.7 -149.5,215.8 -150,215.5 -150.4,214.8 -150.8,214.1 -151.4,213.2 -152.3,212 -153,210.9 -153.7,210.9 -153.3,208.8 -153.7,209.4 -154,210.5 -154.5,211.3 -155.2,210.4 -156.2,208.7 -156.7,208 -156.9,208.2 -156.5,209.9 -155.6,211 -154.8,212.3 -153.9,214.1 -153.2,215.8 -152.3,217.5 -152.1,218.9 -150.8,220 -150.4,221.3 -150,223.5 -149.5,225.4 -148.2,226.3 -147.5,227.8 -146.9,229.4 -146.2,230 -145,230.8 -144.2,231.5 -143.4,232.4 -142.6,233.3 -141.4,234.2 -141.1,235.2 -141.8,235.9 -140.7,236.8 -139.2,237.6 -137.8,237.1 -136.3,237 -135,236.5 -133.7,236.1 -132.4,236.1 -130.9,235.7 -129.8,235.5 -129.8,237.3 -130.5,239.3 -131.2,240.9 -132.1,242.8 -133.4,245 -134.7,246.6 -136.3,248.5 -137.8,249.8 -139.9,251.1 -141.7,252.6 -143,254 -144.3,255.7 -145.8,256.8 -146.5,258.9 -147.1,259.5 -147.8,261.4 -146.8,262.6 -147.1,263.9 -146.9,264.8 -146.6,265.9 -146,267.4 -145.5,267.7 -145.2,268.7 -145.3,270.9 -145,273.4 -144.7,274.2 -145.2,275.2 -145.8,276.3 -146.6,277.1 -149.7,278.5 -151.3,280.1 -152.6,281.5 -153.5,282.1 -152.9,284.1 -152.6,285.3 -152.3,287.7 -152.6,288.3 -154,289.4 -156.1,290.3 -156.7,291.4 -156.4,293 -156.8,294.9 -157.2,295.6 -158.2,296.4 -159,297.5 -160.4,299.6 -161.6,301.1 -163,302 -164.1,302.7 -165.7,303.3 -166.8,304 -168.1,304 -169.7,303.7 -171.2,303.8 -172.8,304.5 -174.8,305.3 -175.5,305.3 -176.1,304.8 -177.3,304 -177.6,302.8 -177.4,301.7 -178,300.6 -178.4,298.3 -179.2,297.4 -180.3,295.3 -181.3,293.4 -181.9,292.2 -182.7,290.3 -183.1,288 -183.1,286.2 -184.3,284.1 -185.4,281.6 -186.6,279.7 -187,277.9 -186.9,275.8 -186.3,273.7 -185.6,271.8 -184.3,270.6 -184,269 -184.8,267.4 -185.3,265.8 -184.8,265.2 -185.6,263.5 -186.1,261.6 -186.3,261.1 -186.7,260 -187.9,258.4 -189.3,256.9 -190.4,255.7 -191.2,254.3 -190.5,253.4 -190.2,251.2 -189.8,249.4 -190.4,247.3 -191.1,247 -191.7,245.7 -193.1,246.3 -194.3,246.6 -195.4,246.5 -196.2,245.6 -196.7,244.6 -197.8,243.6 -200.1,243.6 -201.3,243.8 -202.4,244.1 -204.7,245 -205.6,245.4 -206.9,245.9 -208.2,245.4 -209.8,245.2 -211.3,245.2 -212.7,245.4 -214.9,246.5 -215.2,246.3 -216.2,245.9 -217.1,245.3 -218.5,244.3 -219.7,243.6 -220.6,242.8 -222,242.1 -222.8,241.4 -223.2,240.2 -223.2,238.9 -224.5,238 -225.2,237.1 -225.9,236.4 -227.3,235.9 -228.1,234.9 -228.3,232.9 -228.9,231.7 -229.4,231.2 -228.3,229.9 -228,229.1 -227.4,226.2 -227.7,224.7 -227.8,223.9 -227.7,223.2 -228.6,221.5 -228.1,220 -227.7,219.2 -227.3,217.7 -226.4,216.6 -225.9,216.5 -225.5,215.5 -224.9,213.7 -224.1,213.2 -223,211.5 -222.3,211 -221,210.9 -219.8,209.8 -219.1,209.3 -218,208 -218.2,205.9 -217.7,204.7 -217.1,203.9 -216.7,202.7 -215.2,201.9 -214,201.3 -213,199.6 -212.6,198.5 -211.6,198.5 -210.7,199.3 -209.2,199.1 -207.8,199.5 -207.2,199.5 -205.8,198.6 -204.2,198.3 -203.3,197.6 -201.8,197.1 -199.4,196.8 -197,196.6 -196.3,197 -194.9,196.3 -193.4,196.3 -192.8,196.6 -191.8,196.6 -190.2,196 -189.2,196.1 -189.2,197 -187.9,196.3 -187.9,196.6 -188.6,197.5 -188.6,198.3 -188,199.3 -188.3,200.1 -189.3,200.9 -189,201.7 -188.2,201.7 -187.5,202.6 -185.6,203.4 -183.8,203.5 -181.9,204.2 -181.2,205.6 -178.6,206.4 -176.3,207.4 -175.5,207.1 -174.8,206.3 -175,204.8 -173.6,203.5 -172.8,203.4 -170.7,203.7 -170.3,204.3 -169.7,204.3 -167.8,204.8 -167.4,205.3 -165.5,205.3 -164.1,205.8 -162.6,206.3 -160.9,205.9 -160.3,205.5 -159,205.3 -158,205.6 -157.1,205.8 -154.9,206.3 -154.2,205.9 -153.7,205.5 -153.2,203.4 -153,202.9 -152.4,201.6 -151.7,200.4 -151.9,199.1 -151.6,198.5 -152,197.6 -151.4,197 -152.3,197.1 -153.6,196.8 -154.6,197.8 -156.8,198 -158,197.1 -159.6,197 -159.8,197.6 -160.9,198 -162.3,197 -163.9,197 -164.6,195.3 -165.8,194.5 -165.1,193.1 -165.9,192.3 -165.9,191.4 -165.4,190.4 -166.1,190.4 -167.1,189.9 -167.8,189.9 -169.6,190.2 -168.6,191.2 -169.3,191.4 -170.2,191.6 -170.9,190.6 -171.2,190.9 -170.9,191.9 -170,192.8 -170.7,193.3 -169.9,194 -169.1,194.5 -169.1,195.3 -170.5,195 -170,195.8 -170.9,196 -170.3,197.5 -171.3,197.5 -172.5,196.8 -173.1,195.5 -173.4,194.3 -173.9,193.5 -174.7,192.6 -174.7,192.1 -175.8,190.9 -176,190.2 -175.8,189 -175.7,188.5 -175.8,187.8 -176.6,187.4 -177.1,186.9 -178.6,186.4 -179.3,185.9 -180.8,185.3 -181.9,184.1 -181.6,183.9 -182.4,183.2 -182.4,182.5 -183.2,182.3 -183.8,183 -184.1,182.5 -184.1,181.6 -185,181.4 -186.1,181.9 -186,182.8 -186.1,183.4 -185.7,184.3 -184.4,185.2 -183.7,186.6 -182.1,188.1 -180.9,188.1 -180.6,188.5 -180.9,188.8 -179.6,189.3 -178.6,189.9 -177.3,190.7 -177.1,191.1 -177.4,191.8 -178.3,190.9 -179.5,190.7 -180,191.8 -179,192.4 -179,193.1 -179.9,193.5 -180.6,194.8 -181.2,194.8 -180.9,193.5 -180.6,193.1 -181.2,191.4 -182.2,191.1 -182.7,190.4 -183.5,190 -184.3,189.3 -185.3,189.2 -186.4,188.5 -187.7,187.3 -188.8,186.4 -189.2,184.6 -189.9,184.4 -191.1,183.7 -191.8,184.1 -192.5,184.8 -193.3,185 -194.6,186 -197.3,185.5 -199.5,186 -199.7,187.1 -199.4,188.1 -201,189.3 -202.9,189.7 -203,190.2 -203.9,191.2 -204.4,192.6 -203.9,193.6 -204.7,194.3 -205,195.5 -206,195.8 -207.1,197 -210.4,197 -211.3,197.6ZM233.5,94 245.8,91 258,88.6 275.2,88.6 290,91 302.2,94.7 297.3,99.6 291,107 288.7,116.8 287.5,126.6 280,134 272.7,138.8 263,143.7 253.3,152 250,150.7 246,146 243.5,139.6 241,130.5 239.6,122 237.5,116.5 233.5,114.3 223.7,111.9 216.4,109.4 218,106.5 223.7,103 228,99ZM286.3,144.5 288.5,144.5 292.1,145.7 295.8,144.5 297.9,143.1 299.2,141.5 297.5,139.3 295.8,138.4 292.8,139.3 289.9,139.3 287,138.6 285.6,140.1 284.1,141 287,142.2 286.5,143.6ZM310.7,173.5 313.9,172.9 317.5,172.1 320.9,171.4 321.5,168.6 319.4,166.9 318.3,164.7 316.7,162.5 315.4,161.7 316.1,158.4 313.2,158.4 314.5,156.2 311.7,156.2 310.7,158.6 310.9,161 311.9,162.3 311.7,164.1 313.9,164.3 314.6,165.7 314.6,167.1 312.3,167.3 313.2,169 311.4,170 314.2,170.8 312.9,171.2ZM310.3,169.2 310,166.7 310.3,164.5 308.1,163.1 306.9,163.7 306.5,165.1 304.5,165.7 304.8,167.1 305.2,168.5 303.9,169.8 305.1,170.6 307.4,170ZM390.6,270.2 392.1,274.6 392.4,275.8 391.2,276.4 390.8,278.8 389.5,282.8 388,288.9 386.6,290 384.7,290.5 382.9,289.4 382.3,286.6 381.9,284.8 383.4,282.4 383.5,279.8 382.9,277.6 383.5,276.4 386.3,275.8 387.7,274.3 388.7,272.4 389.9,270.9ZM483.9,285.1 484.3,288.9 483.9,291.3 485.1,295.2 486.1,297.5 487.1,300.4 486.2,303.2 486.1,304.5 488.3,305.6 490.4,305.6 492.6,304.6 495.5,303.7 498.4,303.8 499.9,302.2 502.1,301.2 506.4,300.3 509.3,299.9 511.5,300.7 513.7,302 515.1,304.8 516.1,305.3 516.6,304 518.3,303.2 519.2,301.7 518.8,304.5 518,306.4 519.8,306.4 520.2,305.3 521.7,307.3 522.1,309.3 523.3,310.6 524.7,311.3 526.2,311.3 527.5,311.9 529.2,310.9 529.7,311.6 531.5,312.5 533.3,310.6 534.7,310.3 536.9,309.8 537.2,306.9 538.2,304.8 538.8,303.2 540.6,301.2 541.4,299.1 542.2,295.6 541.7,293.1 541.3,290.5 539.5,288.9 538.1,286.6 537.6,285.9 535.9,284.4 535,282.8 533.1,281.2 531.5,280.4 531,277.9 530.2,276.1 530.1,274.6 528.5,273.6 527.6,273.1 527.2,270.8 526,268.3 525.3,269.6 524.7,271.5 524.7,274.6 524.3,276.8 523.3,278.5 521.4,278.2 519.8,276.8 517.9,275.8 515.9,274.3 516.4,272.2 517.7,270.6 517.2,270 515.6,270.5 513.7,270 511.6,269.3 510.5,269.2 509.3,270.5 508.2,271.8 507.1,274.3 505.3,274.3 503.5,272.8 501.9,273.7 500.6,274.8 499.6,276.5 498.4,278 496.5,278.8 496.5,280.4 495.1,281.3 492.3,282.2 489.7,283.1 488.3,283.1 486.4,284.4 485.3,285.1ZM529.1,315.2 531.8,315.9 534.5,315.5 534.5,317.6 533.7,319.5 532.3,320.2 531,320.1 529.9,318 529.2,316.4ZM569.9,304.6 571.5,306.1 572.7,307.9 573.7,309.1 574.5,309.8 576.1,310.4 578.3,310.1 577.6,312.3 576.1,312.8 575.9,314.3 574.5,316.2 573.5,316.7 572.7,316.1 573.2,314.7 572.2,313.3 571.5,312.6 572.7,311.3 572.7,309.3 572.2,308.1 571.1,306.6ZM569.9,314.8 571.6,315.5 572.2,316.9 570.8,319 569.9,320.6 567.9,321.7 567,324.2 565,325.6 563.5,325.6 561,324.5 561.5,322.9 563.5,321 566.6,319.4 568,317.1 569,315.5ZM509.2,200.9 510.5,200.3 511.9,199 514.4,198.8 516,199 516.7,197.8 517.7,196.1 518.5,196.8 520.2,195.8 521.7,194.1 522.4,192.3 522.4,190.6 522.8,189.3 524.3,189 524.6,190.7 525.3,192.3 524.6,194.5 523.8,196.5 523.3,198.1 523.6,198.6 522.2,199.8 520.9,200.3 518.8,200.4 517.9,200.9 516.3,202.2 515.3,200.9 513,200.8 511.2,201.4ZM507.6,202.7 508.7,205.9 509.5,205.6 510.5,203.5 510.2,202.2 509.2,201.6 508.2,202.1ZM511.5,202.6 512.5,203.4 514,202.6 514.7,201.6 513.7,200.9 512.1,201.4ZM522.4,187.1 523.1,188.7 524.1,188.3 525.3,186.9 527.2,188 529.4,186.2 530.1,185.7 528.6,184.4 526.5,183.2 524.9,181.9 524.4,184.4 524.3,185.9 523,185.7ZM525.6,180.9 527.5,179.9 526.8,177.9 527,174.8 528.8,175.3 527,170.6 526.9,166.7 526.2,165.1 525.6,166.7 524.9,169.6 525.2,172.5 525.4,177.2ZM494.8,215.5 496.1,215.8 495.5,218 494.6,220.3 493.6,219.1 493.5,217.5ZM476.8,224.5 478.1,226 479.5,225.1 480.3,223.5 479.1,223.2 477.4,223.3ZM435.1,238.6 437,240.3 438,242.5 437.5,243.7 436,244.1 435.1,242.5 434.9,240.3ZM457.5,244.6 460.6,245.2 462.4,247.3 464.9,249.5 466.3,250.1 469.1,252 469.8,254.2 471.4,256 473,257.3 472.7,261.1 470.8,261.1 467.9,258.8 465.7,256.3 464.7,254.2 463.1,252.4 462.2,250.1 460.6,248.5 458.9,247ZM472.3,262.6 473.1,261.4 476.3,261.8 479.5,262.7 482.4,262.7 485.2,264 485.2,265.3 481.7,264.8 478.8,264.5 476.3,264 473.7,263.5ZM478.2,249.9 480.6,249.2 483.2,248.1 484.6,246 486.8,245 488.5,242.7 490,244 492.3,245.3 490.1,246.3 490.4,249.4 491.9,251.4 490.1,251.5 489.6,254 488.3,255.7 487.8,258.4 485.5,258.8 483.2,257.3 481.4,257.3 479.1,256.9 479.1,255.2 477.5,253.4 477.4,251ZM492.5,260.7 493.9,260.8 493.8,257.1 494.8,256.5 495.5,259.4 497.6,259.5 496.7,257.2 495.2,255.5 497,253.9 498.3,254 495.5,253.3 493.5,252 494.5,250.8 498.3,252.3 500.3,250.7 499.6,252.1 495.2,252.1 493.2,253.1 491.6,256.9 492.6,257.8ZM509.3,254.7 511.5,253.3 513.8,254 514.3,256.6 515.9,257.6 518.6,254.9 520.9,255.7 523.8,256.5 528.9,258.2 531.1,260.4 533.3,261.6 532.9,262.7 534.3,264.5 535.9,265.9 537.5,267.7 535.8,268 533.3,267.4 531.3,264.5 528.5,263.7 527.2,265.8 523.8,265.9 521.2,264.5 519.5,264.9 520.1,262.1 518.9,260.2 515.3,258.9 513,258.4 511.9,258.6 510.8,256.8 513.1,256.2 510.5,256.3 510.8,255ZM494.1,225.4 496.8,225.4 497,227.8 496.1,229.4 496.7,232 498.4,232.3 499.6,234.5 498.1,234 497,233.4 495.5,232.9 494.1,232 494.4,231.4 493.2,230.9 492.9,228.9 493.8,228.4 493.6,226.9ZM496.1,242.4 498.4,240.9 499.6,240.2 500.9,239.2 502.5,238.7 503.1,242.1 502.2,243.7 501.2,244.7 499.3,244 498.6,242.1 497.4,242.2ZM496.1,237.4 497.8,236.8 499.1,236.4 500.6,236.1 501.5,236.4 501,238.1 499.7,238.1 498.4,239.2 497.6,238.3 496.8,235.7 498,234.5 499.7,234.5 500.5,235.5 499.4,236.4ZM195.7,220.4 199.1,219.2 202,218.6 206.4,220.6 209.2,221.8 211.2,223 209.3,223.5 206.4,223.5 206.1,222.3 204.2,220.9 200.6,220.6 198.4,220.3ZM210.9,225.6 213.2,223.5 216.6,223.6 219.6,225.4 217.4,225.9 215.3,226.9 213.2,226.2 211.2,226ZM205.2,225.7 208.2,226 207.4,226.5 205.4,226ZM221.4,225.6 223.7,225.7 223.4,226.3 221.4,226.4ZM232.7,177.9 237.6,177.9 238.4,179 241.3,179.6 242.4,178.1 241.3,176.8 241.3,174.8 238.4,173.8 238.4,170.6 236.6,171 235.5,173.8 234,176.3ZM189.6,120.2 196,120.5 202.7,121.5 208,124 213,126.8 218,130 222.3,133.3 227.5,137.2 227.5,140.5 222.3,141.8 224.9,145.7 219.7,147 214.4,145 209.2,141.8 204,139.8 200,136 198.8,132 196.1,128 192.2,124.8ZM173,99 176,96 181,95 189.4,91 196,90 204.7,89.4 212,89.6 221.3,91.5 224,92.5 220,96 215,100 211,104 207,108 203,110.5 196,110.5 188,109.5 181,107 176,104 173,101.5ZM165,103 170,101.5 178,101 184.5,102.5 183,105.5 175,106 167,105.5ZM183,112.5 190,112 198,111.8 205,112 207,114.5 204,117 196,117.5 188,117.5 183.5,116ZM137.3,117.5 138.1,117.2 145.4,117.6 148.7,119.2 152,121.2 159.3,119.6 164.2,119.6 166.7,121.2 169.1,124.5 170.8,127 165.8,129.4 157.7,129.4 149.5,127.8 143.8,125.3 139.7,126.1 137.5,124ZM163,108.5 170,107.5 177,108 182,109 180,111 172,111 165,110.5ZM138.5,111.8 141.3,109 146.2,108.2 152,106.5 156,104.9 160.1,104.9 161,107.4 163.4,111.4 165,114.7 157.7,116.3 152,115.5 145.4,113.5 141.3,113.1ZM178,119.5 185,119 186,124 183,128 178,127 176,123ZM188.6,118.7 194,118.5 197,121 196.8,127.7 192,127 189,124ZM171,113 176,112.5 180,114 177,116.5 172,116ZM192,141 197,139.5 203,141 204,145 199,147.5 193,146.5ZM172,130 176,129 178,131.5 175,133 172,132.5ZM166,103.5 172,103 174,104.5 170,106 166,105.5ZM335,104.3 337.9,108.4 343,111.5 346.6,106.9 351,105.3 358.2,102.1 355.3,99.1 346.6,98.8 342.2,100.8 336.4,101.4ZM394.5,125.7 396.7,127.8 401.8,128 399.6,124.3 401.1,121 404.7,117.3 409.1,114.4 414.9,112.1 418.5,110.3 414.9,110 409.1,111.5 404,113.6 400.4,116.8 397.5,120.2 396.7,122.9ZM457.7,102.1 461.4,104.3 465.7,103.7 470.1,104.7 473,103 470.1,98.8 464.3,96.4 458.5,97.1 454.1,100.4ZM518,115.9 522.4,117.3 526.8,118.8 529.7,115.9 527.5,113.3 522.4,113 519.5,113.6ZM534,115.3 537.6,115.9 536.9,113.9 533.3,114.1ZM388.7,100.4 394.5,101.1 403.3,99.8 409.1,97.8 403.3,94.3 394.5,95.4 387.3,97.8ZM57.5,127 59.7,127.2 61.1,126.5 58.9,125.4 57.5,125.7ZM578.6,126.7 580.5,127 580.5,125.7 579.1,125.7ZM331.2,193.1 332.9,192.9 333.2,190.6 332.8,189.3 330.9,189.9 331.3,191.4ZM331.5,189 332.7,189 332.8,186.6 331.5,187.3ZM337,195.1 340.9,197 341.7,194.3 338.5,194.5ZM353.1,199.3 357.2,199.5 356.9,199.8 353.9,199.8ZM365.9,199.8 368.4,200.4 369.3,198.6 366.9,199.1ZM57.5,420 62.8,420.5 81.1,423.8 98.1,424.4 106,423.1 95.5,418 96.8,409.4 106,406.8 98.1,404.2 90.3,399.6 88.3,396.3 98,395.7 107.3,391 120.4,388.5 128.2,387.2 143.2,386.3 169.7,384.1 187.3,384.1 195,384.2 202.8,382.9 208,379.6 209.4,376.4 214.6,373.8 219.8,368.5 226.4,363.3 230.3,360.7 238.1,358.7 227.7,364.6 225,371.1 229,376.4 230.3,384.2 229,389.4 222.5,394.7 234.2,393.4 247.3,398 264.3,398.6 270,396.5 282,385.4 299,379 320.2,375.6 350,374.7 371.2,373.9 392.4,366.2 409.4,368.4 422.2,374.7 426.4,370.5 443.4,366.2 469,365.4 490.2,364.1 505,366.7 521.7,367.5 531.7,370 545,373.3 553.3,375.8 561.7,378.3 566.7,380.8 565,385 558.3,389.2 555.8,393.3 558.3,396.7 553.3,401.7 551.7,405 555,410 561.7,415 566.7,416.7 575,417.5 580.6,417.5 580.6,444.1 57.5,444.1ZM-465.5,420 -460.2,420.5 -441.9,423.8 -424.9,424.4 -417,423.1 -427.5,418 -426.2,409.4 -417,406.8 -424.9,404.2 -432.7,399.6 -434.7,396.3 -425,395.7 -415.7,391 -402.6,388.5 -394.8,387.2 -379.8,386.3 -353.3,384.1 -335.7,384.1 -328,384.2 -320.2,382.9 -315,379.6 -313.6,376.4 -308.4,373.8 -303.2,368.5 -296.6,363.3 -292.7,360.7 -284.9,358.7 -295.3,364.6 -298,371.1 -294,376.4 -292.7,384.2 -294,389.4 -300.5,394.7 -288.8,393.4 -275.7,398 -258.7,398.6 -253,396.5 -241,385.4 -224,379 -202.8,375.6 -173,374.7 -151.8,373.9 -130.6,366.2 -113.6,368.4 -100.8,374.7 -96.6,370.5 -79.6,366.2 -54,365.4 -32.8,364.1 -18,366.7 -1.3,367.5 8.7,370 22,373.3 30.3,375.8 38.7,378.3 43.7,380.8 42,385 35.3,389.2 32.8,393.3 35.3,396.7 30.3,401.7 28.7,405 32,410 38.7,415 43.7,416.7 52,417.5 57.6,417.5 57.6,444.1 -465.5,444.1ZM485.2,264.5 487.1,264.9 486.4,265.5 485.3,265.2ZM487.5,264.8 488.5,264.8 488.3,265.6 487.5,265.5ZM488.7,264.9 491.9,264.6 491.9,265.3 489,265.8ZM493,265.1 497.7,264.6 497.7,265.2 493.3,265.5ZM491.9,266.5 494.5,267 494.1,267.7 492.2,267ZM498.4,267.5 500.6,265.8 503.9,264.9 502.8,265.8 499.9,267.4ZM504.2,251.2 505,249.5 505.7,250.5 506,252 505,253.9 504.7,252.3ZM505,257.3 507.9,256.9 509.3,257.8 507.1,257.9 505.3,257.9ZM502.1,257.3 503.8,257.2 503.5,258.2 502.3,258.1ZM489.3,240.6 491.2,238.9 492.6,237 492.3,236.2 490.9,238.1 489.3,239.9ZM493.8,233 495.5,233.7 495.1,234.8 493.9,234.3ZM534.5,260.7 536.9,260.2 539.1,258.9 540.1,259.2 538.4,260.7 536.2,261.7 534.5,261.4ZM538.1,256.5 539.8,257.5 541.3,259.4 540.8,259.8 539.4,258.2 537.8,256.9ZM543.6,260.2 545.5,261.8 545.1,262.7 543.8,261.4ZM547.1,262.9 550,264.3 552.2,266.5 553.6,267.3 551.4,267 549.3,265.1 547.1,263.6ZM560.9,273.9 562.3,275.4 563.8,276.8 565.3,281.3 564.5,281.3 563.1,277.6 561.3,275.4ZM557.3,282.2 559.4,283.6 561.6,285.6 560.9,285.9 558,283.6 557,282.5ZM576.4,278.3 578.3,278.3 578.5,279.4 576.6,279.4ZM92.4,223 93.8,223.5 92.9,225 92.4,224.1ZM79.6,164.9 74.9,166.9 69.1,168.6 63.3,169.8 57.5,170.4 57.5,171 63.3,170.4 69.1,169.2 74.9,167.5 79.3,165.5ZM580.5,170.4 574.7,169.8 570.3,167.9 569.6,168.3 574.7,170.6 580.5,171ZM530.4,185.3 534,182.7 537.6,179.9 541.3,176.3 544.9,172.5 546.4,171.7 546.1,172.3 541.7,176.8 537.8,180.5 534.2,183.2 530.5,185.7Z"/><path fill="#fff" d="M359,187.1 359.7,188.7 361.4,189.3 364.5,189.5 367.7,188 369.8,188 372.8,189.3 375.7,189.7 379.3,188.8 379.7,187.1 377.1,185.5 374.2,183.6 372.8,182.3 370.6,182.5 368.4,183.7 367.7,183.4 366.2,181.9 367.7,181 364.8,179.8 363.3,179.9 362.1,182.1 360.7,183.9ZM369.6,181.2 370.6,181.9 372.2,181.9 373.5,180.1 376,178.7 374.2,178.9 370.6,179.9ZM387.3,183.6 388,186.2 389.5,188.3 390.5,190.6 390.9,193.1 390.2,194.8 390,195.6 391.6,196.3 393.8,196.8 396.7,196.8 397.5,195.6 397.3,193.5 396.3,192.4 396.7,191.1 395.7,189.3 395.4,187.1 393.5,185.7 392.4,183.7 393.4,182.3 396,182.1 396.3,179.6 394.5,179.2 393.1,179 390.9,179.9 389.5,180.9 388,181.8ZM403.7,181.8 405.9,182.3 407.6,183.7 407.6,185.2 405.4,185.2 404,183.6ZM185.3,179.6 188.2,178.1 191.2,176.3 194.1,175.9 195.8,179 194.8,179.9 191.9,179.9 188.2,179.8ZM191.4,183.6 191.9,188 193.3,188 194.1,184.4 195.5,181.2 193.3,181ZM196.2,181 198,182.3 200.3,181.2 202.8,183 200.6,185.9 199.1,186 199.1,184.4 197,183Z"/></g>
<g fill="none" stroke="#000">
<rect x="57.5" y="61.3" width="523.1" height="382.8" stroke-width="0.5" stroke="#444"/>
<rect x="62.4" y="66.4" width="513" height="372" stroke-width="0.5" stroke="#444"/>
<path d="M57.5,61.3L62.4,66.4M580.6,61.3L575.4,66.4M57.5,444.1L62.4,438.4M580.6,444.1L575.4,438.4" stroke-width="0.6"/>
<path d="M101.1,63.9H144.7M188.2,63.9H231.8M275.4,63.9H319M362.6,63.9H406.2M449.8,63.9H493.3M536.9,63.9H580.5M60,441.2H101.1M144.7,441.2H188.2M231.8,441.2H275.4M319,441.2H362.6M406.2,441.2H449.8M493.3,441.2H536.9M60,82.6V100.4M60,153.2V191.4M60,223.3V252.7M60,282.1V314M60,352.2V405M60,422.8V438.4M578,66.4V82.6M578,100.4V153.2M578,191.4V223.3M578,252.7V282.1M578,314V352.2M578,405V422.8" stroke-width="1.3" stroke="#111"/>
<path d="M101.1,61.3V66.4M101.1,438.4V444.1M144.7,61.3V66.4M144.7,438.4V444.1M188.2,61.3V66.4M188.2,438.4V444.1M231.8,61.3V66.4M231.8,438.4V444.1M275.4,61.3V66.4M275.4,438.4V444.1M319,61.3V66.4M319,438.4V444.1M362.6,61.3V66.4M362.6,438.4V444.1M406.2,61.3V66.4M406.2,438.4V444.1M449.8,61.3V66.4M449.8,438.4V444.1M493.3,61.3V66.4M493.3,438.4V444.1M536.9,61.3V66.4M536.9,438.4V444.1M57.5,82.6H62.4M575.4,82.6H580.6M57.5,100.4H62.4M575.4,100.4H580.6M57.5,153.2H62.4M575.4,153.2H580.6M57.5,191.4H62.4M575.4,191.4H580.6M57.5,223.3H62.4M575.4,223.3H580.6M57.5,252.7H62.4M575.4,252.7H580.6M57.5,282.1H62.4M575.4,282.1H580.6M57.5,314H62.4M575.4,314H580.6M57.5,352.2H62.4M575.4,352.2H580.6M57.5,405H62.4M575.4,405H580.6M57.5,422.8H62.4M575.4,422.8H580.6" stroke-width="0.6" stroke="#333"/>
<path d="M57.5,61.3V56M57.5,444.1V449.4M144.7,61.3V56M144.7,444.1V449.4M231.8,61.3V56M231.8,444.1V449.4M319,61.3V56M319,444.1V449.4M406.2,61.3V56M406.2,444.1V449.4M493.3,61.3V56M493.3,444.1V449.4M580.5,61.3V56M580.5,444.1V449.4M57.5,100.4H52.2M580.6,100.4H585.9M57.5,191.4H52.2M580.6,191.4H585.9M57.5,252.7H52.2M580.6,252.7H585.9M57.5,314H52.2M580.6,314H585.9M57.5,405H52.2M580.6,405H585.9" stroke-width="0.8"/>
</g>
<g clip-path="url(#ci)" fill="none" stroke="#000" stroke-linecap="round"><path d="M214 167.3h1.8M147.2 148.2h0M154.5 148.4h0M166.4 158.9h1.2M169 166.3h1.2M158.6 161.5h0M156.2 168.5h0M162.9 138.2h0M220.7 141.2h0M162.5 167.3h0M228.9 165.4h0.6M146.5 146.2h0M167.7 142.9h1.8M206.3 132.2h0.6M172.2 148.9h0M149.6 168.6h0M179.9 151.6h1.2M176.6 152.8h0M199 167.8h0M210.5 166.8h1.2M174.7 143.8h1.8M166.5 148.1h1.8M209.9 161.5h0.6M147.9 167.5h0M162.8 150.1h0.6M171.9 142.3h0M214.3 154.7h0.6M148.9 169.1h1.8M166.5 155.7h0M149.5 166.3h0M214.5 143h0M156 158.9h0M154 147h0M149.8 146.4h0M184.2 169.6h0M186.4 141.2h1.2M160.3 167.1h0.6M160.4 149.3h1.8M212.8 164.3h0.6M150.2 161.4h0.6M192.3 139.6h0.6M185 162.3h0.6M175 155.4h1.2M175.2 163.3h1.2M229.7 167.9h1.8M157 168.8h0M217.6 167.1h1.2M189.7 167.1h0.6M147.1 136h1.2M210.8 136.8h0M230.7 168.8h0M149.4 134.9h0.6M175.3 156.1h0M180 140.7h1.2M220.2 157.2h1.8M195.3 168h0M181.2 162.1h1.8M228.1 168.3h1.8M152.6 162.5h0M177.9 142.7h1.8M182.1 168.7h1.2M170.1 168.5h1.2M178.1 163.8h0M180.9 142.4h0.6M187.5 141.1h1.2M146.7 156h1.2M156.6 145.3h1.2M226.2 160.9h0M187.4 163.4h0.6M170.2 153.9h1.2M189.8 164.2h0M146.1 134.6h0.6M170.5 150.8h1.2M175.2 156.9h1.8M154 157.1h0M145.9 160.8h1.2M219.5 163.3h1.2M178.8 163.7h0M144.9 160.8h1.8M169.6 160.8h0.6M157.1 148.7h1.8M222.1 168.5h1.8M158 153h0M150.6 138.8h0M213.7 156.2h0M173.7 146.8h0M148.9 163.3h0M154.4 165.4h0.6M160.6 137h0M150.5 138.1h1.8M154.1 144.8h0M169.1 152.5h0M209.4 164.8h0M145.5 133.3h1.8M156.7 141.4h1.8M192.8 139.8h0.6M189.7 135h0M146.3 143.3h1.8M202.9 133.3h0M178.6 148.1h0.6M154 150.8h1.8M207.9 131.8h0M213.9 159.6h0M216.2 135.2h1.8M177.4 163.1h0.6M173.7 154.2h0.6M170.5 154.9h0.6M147.6 137.7h0M187.4 167.1h0.6M144.7 148.4h1.8M184.9 137.3h0M150.9 164.4h1.2M157.9 139.8h0.6M216 159.6h0M147.6 165.5h0.6M226.4 157.1h1.2M185.8 167.4h0M213.1 142.6h1.2M158.9 137.6h0M160.7 144.1h0M208.5 158.3h0M212.3 136.6h0M182.2 168.6h0M204.1 136.4h0M192.5 169.2h1.8M193.9 167.2h0M165.3 161.7h0M166.9 145.9h0.6M161.1 139h0.6M213.6 133.1h0M194.5 144.7h0M207.9 166.1h0.6M156.8 148.9h0.6M216.1 142.1h0M168.7 149.3h0M148.8 137.6h0.6M221.6 165h0M181.3 142.2h1.8M144.7 141h0M215.9 155.8h0M208.1 157.7h0.6M153.9 161.8h1.8M159.4 140.1h0.6M211.2 151.9h0M155.3 168.4h0.6M182.7 139.9h1.8M146.1 150.7h0M176.3 142.8h0M158.9 154.4h0M208 133.4h1.8M157.2 160.2h1.2M213.9 134.3h0.6M183.5 138.7h1.8M182.5 147.3h0M191.1 168.4h1.8M144.8 134.7h1.2M204.4 137.9h0M147.5 152.7h1.2M185.1 137.7h0M171.1 150.2h0M176.6 162h0M198.5 145.6h0M157.1 139.1h1.2M148 136.4h0M210.4 140.9h0M214.1 159.8h1.2M160.8 145.2h0.6M183.9 161.1h1.8M225.2 157.3h0M176.3 153.4h1.8M162.7 141.1h0M152.3 143.8h1.8M219.9 167.3h1.2M171.4 166.8h0.6M225.7 139h0M210.3 156.4h0.6M222.9 157.1h1.8M189.7 165.5h0M174.5 161h1.2M178.7 136.7h1.8M223.1 166h1.8M172.7 142.6h1.8M204.7 169h0M222 138.1h0.6M214.2 161.5h0M222.9 136.3h1.2M211.5 138.6h0M180.1 138.8h1.2M190.8 165.8h0.6M181.1 133h0.6M154.7 152.1h1.8M213.2 142.8h0M150 149h1.8M218.8 155.4h0M214.2 163.2h0M161.5 135.9h0M173.9 144.3h0M172.8 160.4h0M206.8 166.6h1.8M199.2 168.2h0M176.5 162.2h0M162.7 144.6h1.2M222.3 169.1h0M166.1 167.3h1.2M196.7 144.6h0M187.9 168.1h0M187.4 167.1h0.6M146 162h0.6M210.1 137.4h0.6M178 141.2h1.2M180.2 167.3h0M181.3 139.1h0M157.4 168.3h1.8M186.3 169h1.8M218.2 163.8h0M152.7 143.8h0M145.1 160.3h0.6M215.3 130.5h1.8M184.6 144.9h1.8M151.5 168.5h0M185.8 133h0.6M185.7 130.5h0M178.9 160.8h1.2M219.6 167.2h1.8M200.1 131h0M181.4 158.5h1.2M222.4 135.5h0M181.5 168.5h0.6M163.6 146.5h0.6M156.8 144.1h0M202.8 134.5h0M210.7 132.7h1.2M147.8 146h0M216.9 168.1h1.8M151.4 144.2h1.8M147.4 137h1.2M152.1 134.9h0.6M173.8 138.2h0.6M189.8 168.6h1.8M200.8 144.6h0.6M183.3 164.4h1.8M145.8 145h0M145.4 160.5h1.2M164.9 158.3h0M101.8 137.9h0M113.8 141.6h0M100.8 145.2h1.8M140.3 161.7h1.2M96 130.9h0M89.7 148.7h0M139.4 136.1h1.8M100.9 140.4h1.2M99.4 143.8h1.8M114.3 146.6h0M98.8 130h0.6M93.3 135.2h0M126.6 134.6h0M118.6 139.6h0M123.9 147.6h1.2M138.7 157.2h1.8M126.5 146.4h0M117.5 150.9h0M103.7 145.2h1.2M117.6 133h0M124.1 152.6h1.8M107 149.9h1.8M93 136.1h0M136.2 137h1.2M107.4 130.4h0M140.7 136.7h1.8M89.2 127.8h0.6M144.2 149.5h1.2M118.3 149.9h0M86.8 144.1h1.8M105.2 146.5h1.8M113.7 150.4h1.2M113.4 134.2h0.6M95.4 128.6h0.6M110.9 143.5h0M128.6 137.6h0M135.6 135.5h1.8M87.4 154.9h1.8M101.7 149.4h0.6M136.5 136.6h0.6M124.9 140.5h1.2M130.1 159.6h1.8M103.3 142.5h0M114.3 135.7h0M122.5 137h0.6M140.9 142.7h0M86.8 134h1.8M143.8 145.7h1.2M119.6 136.4h1.8M138.9 146.9h1.8M92.8 130.8h0.6M106.8 140.2h1.8M81.8 147.8h1.2M123.4 153h0M106 133.5h0M106.1 148.7h0M130.8 143.3h0.6M115.4 134.2h0.6M123.6 145.7h1.8M98.4 147.6h1.2M135.9 144.8h1.8M94.6 137.5h0.6M84.2 140.8h1.2M95.1 132h0M121 140.9h1.8M122.1 137.7h1.8M128.7 157.3h0M142.7 153.3h0M142.9 157.9h0M121.4 140h0M101.8 149.7h0M89.2 133.6h0M126.8 144.1h1.2M115.5 133.1h0M100.9 147.8h1.2M129.6 152.9h0.6M104.6 142.6h0M106.9 141.6h1.2M108.2 144.9h0M128.6 151.8h1.8M117.7 152.5h1.8M89.2 150h1.2M143.9 132.2h0M123.5 132.2h1.8M104.8 136.1h1.2M88 129.5h1.2M94 145h0M122.6 154.3h0M138.9 155.5h1.2M132.4 159.7h1.8M136.5 152.4h1.2M126 132.3h1.8M92.4 151.2h0M88.3 145.3h0M117.2 138.6h0M112.9 152.1h0M207.5 182.5h1.2M168.2 186.6h0M183.5 176.4h0M205.7 176.4h1.2M162.4 180.1h0.6M153.5 177.4h1.2M229.8 169.9h1.2M165.2 184.6h0M210.7 178.5h0M146.3 183h1.2M153.8 176h0M166.6 182h0M209.6 185.6h0M141.2 179h1.2M157.8 175.2h1.2M163.7 177.9h0M193.1 171h1.2M165 171.4h0.6M196.5 177.4h0.6M147.2 175.6h1.2M168.4 182.2h1.2M203.5 186.7h1.8M158.9 174.9h0.6M180.8 185.9h1.8M170.1 178.9h1.8M175.7 177.4h0M143.4 175.5h0M166.3 176.3h1.8M226.1 171.6h0M179.5 183.1h0M203.5 170.5h0M165.2 175h1.2M199.4 170.2h1.2M165.4 182.4h1.8M202.9 179h1.2M216.9 181h0M154.1 178.3h0.6M217.6 171.2h1.2M211.4 186.9h0M174.2 185.3h0.6M149.7 183.3h1.8M180.6 174.7h0M230.3 169.8h1.2M167.2 173.2h0M178.7 180.9h1.2M148.6 176.6h0M214.7 181.7h0M202.7 185.7h1.8M139.9 171.7h1.8M166.3 175.8h1.8M170.2 185.2h0M141.7 178.8h0.6M182.3 173.4h0M167.1 176.4h0M140.5 171.9h0M147.7 182.3h0M160.8 170.8h0M210.3 186h1.8M211.3 174.3h0M210.8 175.2h1.2M154 182.8h1.2M216.6 183.7h1.2M206.3 183h1.8M158 181.8h0M164.1 170.3h0.6M207.4 186.6h0.6M172.2 187.2h1.2M186.7 176.1h0.6M197.3 185.3h1.8M163.1 192.1h0M189 193.5h0M186.6 190.4h0M188.3 195.8h0M198.8 208.3h1.2M156.7 200.1h0.6M197.6 190.2h0M193.2 203.7h1.8M170.4 211.2h1.8M190.2 197.3h0M176.3 203.5h0M153.1 203.1h0M160.9 192.4h1.2M193.2 196.6h0M157.3 195.8h1.2M175.9 195.1h1.2M171.8 215.1h1.2M179 202.9h1.2M190.8 189.2h1.8M204.7 195.1h1.8M197 198.2h1.8M151.6 198.6h0M194.9 195.8h0M173.7 201.3h0M204.1 200.9h1.2M176 203.7h0M165.6 207.8h0M194.2 202.9h0M179.8 205h0M209.6 189.7h1.2M175.8 193.1h0M203.3 197.2h1.2M183.7 206.5h0.6M180.4 201.6h1.8M165.6 209.3h1.8M165.2 201.8h0M336.6 147.1h0.6M340.4 137.9h0M351.5 160.8h0M343 136.5h0.6M348.4 138.5h0M338.2 160.5h0M354.7 136.3h1.8M352.9 136.9h0M360.2 158.7h0M341.9 144.1h0M370.3 137.2h1.2M349.3 138.4h1.2M331.8 148.4h1.8M357.9 146.2h1.2M343.4 135.6h0.6M372.3 136.5h0M369.6 144.7h0M339.8 149.6h1.8M354.1 163.2h1.2M373.9 151.4h0M338.1 146h1.8M361.1 155.4h1.2M335.5 143.3h1.2M355.4 158.7h1.2M374.5 158.8h1.2M360.2 140.2h1.8M373.8 153.7h0M352.5 151.2h0.6M372.5 152h0M364.1 140.6h0M362.5 160.6h0.6M336.2 154.1h1.8M357.5 144.5h0M348 134.1h0M345.5 138.5h0M344 142.1h0.6M342.9 135.4h0M364.8 139h0M358.8 140.1h0.6M343 152.6h0M373.6 149.8h1.8M356.7 130.9h0M365.4 158.1h1.8M344.5 143h0M361.9 135h0M361.4 163.1h0.6M340.9 159.6h1.8M346.4 132.9h1.8M342.6 136.7h0.6M365.7 135.7h0M359.1 130.9h0.6M376.4 145.2h1.2M328.1 149.1h0.6M364.9 148.1h0M369.3 163.3h1.8M362.4 145.2h0M367.7 154.4h0M345.9 131.8h0M337.2 151.5h0M356.3 156h1.8M355.9 159.8h1.8M355.8 138.1h0M358.3 131.9h0M361.2 151.1h1.2M347.7 135.3h0.6M363 161.6h0M353.4 161.3h0.6M360.4 145.9h0M343.8 135.9h0.6M330.5 151.3h0.6M339.8 153.8h1.8M348.7 134.2h0M360.7 155.8h1.2M351.4 129.7h1.8M368.1 144.4h0M353.6 135.7h1.2M369.8 152.7h1.2M342.5 135.1h1.8M349.8 134.7h0M336.3 153.8h1.2M370.9 161.2h1.2M372.9 136.6h0.6M359.3 146.8h0.6M360.8 146.2h0.6M376.9 156.3h0M372.4 162.5h0M352.8 136.4h0.6M339.8 158.4h0M359.8 158.8h0M339.4 154.8h0.6M358.8 134.4h1.2M343.6 135.3h0M374.7 152.3h1.8M366.2 152.9h1.2M374 147.2h1.8M362.9 157.5h1.8M351.1 161.6h1.2M376.9 161.9h0M348.1 140.5h0.6M365.7 136.5h0M357.8 131.8h1.8M359.3 159.2h1.8M363.4 136.8h1.2M368.7 145.5h0.6M345.4 143.8h1.2M333.1 152.4h0M352.1 132.9h1.2M367.9 152.2h1.8M372 148.9h1.2M359.5 145.7h0M358.9 139.1h0M331.3 155.4h0.6M353.6 147.6h0.6M360.9 136.5h1.2M369.5 162.5h1.8M377 148.9h0M362.1 132.6h0M362.7 143.7h0.6M359.4 129.3h0M366 153.2h1.2M336.1 152.1h0.6M351.7 129.7h0M363.1 137.1h0M331.6 152.1h1.2M370.2 135.3h1.2M346.4 144.1h0.6M377.1 155.8h0M360.4 157.1h0.6M373 149.3h1.8M329.9 149.9h1.2M354.5 149.1h1.2M338.9 156.2h1.2M373 134.4h1.8M360.5 163.2h0.6M358.8 142.8h0.6M363.4 140.1h0.6M361 149.6h0.6M333.1 151.5h1.8M338.5 159.4h0M351.6 131.8h0M367.5 153.1h1.8M375.2 151.6h0.6M368 148.5h0M342 143.1h0M363.2 143.6h0.6M374.7 153.9h0M367.1 139.7h0M364.5 132.3h0M364.3 156.9h0.6M398.6 181.5h0.6M358.5 179.9h0M400.4 182.6h0M384.4 177.5h0M367.6 175.9h1.8M398.1 173h1.2M380.9 176.9h0M385.3 178.5h1.8M397.1 169.5h1.8M366.5 169.9h1.2M382.1 164.3h0M405.8 175.6h1.2M396.2 164.8h0.6M386.6 173h0M476.9 124.6h0M409 156.8h0M413.2 149.8h0.6M519.3 133.2h1.2M510.9 158.9h1.8M485 171.1h1.2M431.3 133.9h0M499 153.3h0M506.3 135.3h1.2M465.5 158.8h1.2M408 161.4h1.8M447 153.1h0.6M519.9 127.3h1.2M531.9 126.4h0M400.8 143.3h0.6M415.3 140.4h0.6M393.7 152.8h0.6M558.8 134.8h0M377.6 148.4h0.6M388.4 143h0M501.3 130.6h1.8M427.3 164.5h0.6M408.9 135.4h0M474.9 128.5h1.2M503.1 134.3h0.6M517.2 140.7h0.6M480.3 119.7h0.6M416.3 149.4h0.6M450.5 170.9h1.8M473.6 149.1h1.8M519.2 140.3h1.2M537.8 152.8h1.8M516 135.1h0.6M447.9 149.4h0M520.4 150.7h0.6M470.7 157.8h1.2M548.8 160.5h0.6M405.3 159.6h0M442.5 155.3h1.2M425 146.4h0M514.9 142.6h1.2M385.6 138.2h0M416.8 169.2h0M526.1 153h0.6M547.6 161.2h0M396.9 143.1h0M546.2 138.4h0M548.4 141.4h1.8M526 140.6h0.6M472.7 112.2h1.2M402.5 145.2h0M495.4 168.2h0M425.3 173.2h1.8M534.3 135.4h0M470.4 157.3h0M548.9 162.4h1.2M515.8 147.9h0M524.2 133.5h0M478.6 147.4h1.2M516.8 149.9h1.8M497 139.1h0M405.3 146.1h1.8M526.1 134.3h0M492.3 172.9h0.6M429.9 154.4h1.2M486.7 127.2h0M567.1 144.8h0M487.5 166.9h0M455.9 137.9h0M450.2 159.2h1.8M459.9 115.5h0.6M451.3 122h0M511.8 171.4h1.2M412.7 158.3h0.6M452.8 171.6h0M471.1 158.5h0M525 143.8h1.8M555.1 142.4h0M539.2 132.5h1.2M519.5 129.5h1.8M385.2 166.2h0M488.5 141.6h0M438 142.9h0M491.5 132.9h0M440.2 121.2h1.2M569.3 143.6h0M389 152.3h1.8M508.7 160.4h0.6M479.4 153.6h1.8M579 137.7h1.8M449.6 138.1h0.6M576.6 142.6h1.2M519.2 138.6h0M452.3 162.7h1.8M378.4 152.8h0.6M540 128.9h0.6M414.7 153.7h0.6M503.9 144.7h0M436 165.6h0M462.3 166.7h0M436.9 134.4h1.2M468.2 146h1.2M423.4 143.3h1.8M473.5 162.7h0M434.6 158.8h1.2M515.9 144.4h0.6M428.8 154.5h0M480.7 124.3h0M413.2 142.6h0.6M507.6 127.9h0M478 118.3h0M436.7 146h1.8M490.6 158.7h1.2M458.5 155h0M488.6 122.2h1.2M419 164.4h0.6M380 147.5h1.8M565.2 138.1h1.8M398.7 147.1h0.6M575.8 137.9h0M394.6 164.7h0M467.8 153.3h1.8M537.5 141.6h1.2M395.3 151.4h0.6M479.7 115.7h1.8M514.7 150.1h0M492.8 140.3h0.6M567 145.4h1.8M448 157.2h1.2M480.3 159.9h1.2M441.2 148h0M457.5 154.8h0M492.3 134.8h0M467.4 116.1h0.6M459.7 169.4h0M188.2 97.5h1.8M181.5 97.6h1.2M161.1 113.3h0M182.1 127.8h1.2M203.4 96.6h0M228.8 108.3h1.8M195.2 107.9h1.2M205.9 128.7h1.2M206.2 125.4h1.2M138.8 120.8h1.2M201.8 114.7h0M141.1 120.6h1.2M182 123.9h1.2M224.8 106.2h1.8M186.3 99.6h0.6M222.6 108h0.6M217.7 93.4h1.8M156.4 125.3h1.8M153.1 113.2h1.8M203.6 99.6h0.6M195.5 114.1h0.6M216 96.5h1.8M193.4 97.1h0M188.1 97.9h0.6M208.2 97.5h1.8M203.1 108.3h0M202.8 102.1h1.8M192.5 99.4h0M199.9 128.2h1.8M161.2 127.2h0M181.9 103.5h1.8M191 113.5h1.8M150.8 109.3h0M208.1 103.1h0M194.8 100.7h0.6M196.1 121.6h1.8M173.2 114h1.2M152.9 126.8h1.8M188.6 96h1.8M185.9 114.9h0M198.8 128.6h0.6M149.8 109.4h0.6M179.2 124.4h0M172.7 114h0M140.3 118.7h0.6M198.1 93.2h1.8M186.8 106.8h1.2M176.7 103.7h1.8M155.7 124.3h0.6M197.8 121.8h0M192.9 107.5h1.8M207.6 92.7h0M215 97.6h0.6M187.9 96.4h1.8M318 214.6h0M363.8 220.2h1.8M387.3 286.8h0.6M352.1 295.3h1.8M348.2 261.5h1.8M311.2 210.7h0M327.7 211.2h0M373.2 193.7h0M380.5 222.6h1.8M352.8 213.7h0.6M377.4 251.3h0M398.3 198.4h1.8M353.5 288.5h1.2M344.6 250.5h0M339 206.9h0.6M375.3 243.7h0M339.3 211.4h0.6M368.8 266.8h0M341 211.6h1.8M388.1 205.6h0.6M323.2 211h0M354.4 280.2h0M348.7 212.3h1.2M359.1 229.4h0M374.4 263.2h0M341.7 213.2h0M437.2 183.9h1.2M457.5 202.7h1.8M476 191.2h1.8M485.4 209.9h1.8M495.5 182.8h1.8M446.7 209.3h0M454.8 222.3h0.6M490.5 201.9h0.6M473.1 231.5h0M419 192.1h1.2M462.2 216.5h0M521.6 258.5h0M487.2 252.8h0M465 187.2h1.2M455.3 184.3h0.6M420.5 200.9h1.2M433.6 195.4h0M406.2 202.9h0.6M512.1 181.2h0M441.6 213.8h1.8M469.3 213.1h0M464.5 177.7h0M453 182.1h0.6M502.2 184.3h0M421 191h1.2M440 191.4h0M484.3 179.3h0M483.6 254.9h1.8M441.1 220.5h0M433.8 212.7h1.2M486.1 206.8h0.6M425.8 215.4h0M447.5 190.7h1.8M486 192.5h0.6M488.7 205.8h0M480.2 209h0.6M471.1 182.1h0.6M437.2 185.7h0.6M473.1 194.2h1.8M424.3 202.2h0M470.4 216.9h1.8M447.1 192.6h0M468.6 214.6h1.2M428 204h0M410 210h0.6M501.7 241.8h0M426.3 194.7h0.6M473.3 200.6h1.8M499.3 181.3h0M236.8 245.3h1.8M248.8 258.7h0.6M210.1 253.7h1.8M221.6 328.1h1.8M258 282.6h0M243 298h1.2M214.9 338.2h0.6M222 252.7h1.8M260.3 275.9h1.2M244.7 258.1h1.8M219.2 238.2h1.2M217.8 315.7h0M228.2 302.6h0M224.5 301.5h0M232.8 281.6h0.6M212.2 272.2h0M260.9 266.3h1.2M218.9 300.5h1.2M532.2 302.8h1.2M499.5 288.3h1.2M504.9 298.4h1.8M532 296h1.8M525.6 304h0" stroke-width="1.3"/><path d="M246.4,253.4 243.5,254.9 239.1,255.9 234.7,257.1 231.8,257.3 227.5,257.8 223.1,257.1 220.2,257.1 217.3,258.2 214.4,258.8 212.2,259.2M122.9,133.4 125.8,137.2 133,140.8 138.9,144.3 143.2,148.8 149,151.1M80.7,147.7 86.6,148.8 93.8,143.1 101.1,140.8 108.3,138.4 114.2,142 118.5,145.4 122.9,150M425.1,137.2 419.2,142 416.3,146.6 417.8,151.1 423.6,151.1 430.9,152.2 438.1,157.5 441,163.7M438.1,125.7 441,132.2 445.4,139.6 446.8,146.6 449.8,153.2 452.7,159.6 452.7,165.7M503.5,122.9 503.5,129.6 500.6,139.6 505,146.6 500.6,151.1 493.3,152.2 487.5,153.2 481.7,156.5 475.9,161.7M552.9,130.9 548.5,134.7 541.3,138.4 536.9,144.3M522.4,167.7 518,171.5 515.1,176.3 507.9,177.2 503.5,174.4 496.2,167.7M388.7,179.9 384.4,177.2 384.4,171.5 388.7,166.7 390.2,162.7 382.9,160.6 374.2,158.6M337.2,261.4 342.2,259.2 343.7,255.6 345.2,251.2 348.1,249.8 351,249.8 353.9,252 356,255.6M327.7,246.2 328.4,242.5 325.5,238.1 321.9,233.7 317.5,230 313.2,228.6 310.3,232.3 305.9,234.5 303,235.9M364,206.3 364.3,209.4 364,214.1 366.2,217.2 364.8,220.3 363.3,223.3 366.2,227.8 366.2,233.7 364.8,239.6 364.8,245.4 366.2,249.8M188.2,208.7 186.5,206.3 186.8,203 188.2,199.8 189,196.5 187.5,193.1 186.8,189.7 186.1,186.2 183.9,182.7M188,193.5 182.4,193.1 179.5,189.7 176.6,186.2 173.7,181.8 167.9,177.2 157.7,179M215.9,179 212.9,181.8 208.6,184.4M361.9,182.3 358.2,184.4 351.7,184.4 348.1,182.7 346.6,178.1 343.7,177.2 337.9,176.3 333.5,176.3M447.6,219.5 446.8,216.5 442.5,214.9 438.1,214.9 435.2,214.1 432.3,209.4M417.1,217.2 418.5,213.4 421.4,210.2 422.9,206.3 423.6,202.2M495.5,205.5 490.4,206.3 486.1,207.9 481.7,207.9 478.8,206.3 473,208.7 470.1,209.4M491.9,195.3 487.5,198.1 484.6,199.8 480.3,199.8 478.8,196.5 480.3,191.4 475.9,189.7 473,194.8 470.1,198.1M234,304 231.8,300.7 232.6,297.5 234,293.6 239.1,291.3 240.5,288.2M230.4,240.1 226,241.1 223.1,241.7 220.9,242.5 220.9,245.4M371.3,280.3 368.4,277.6 365.5,275.8 362.6,275.7 359.7,276.8 356,278.8 353.1,277.6M521.4,306.4 523.1,304 526,304.8 528.2,306.4 531.1,307.3" stroke-width="0.7"/><path d="M470.1,170.4 473,168.6 476.6,165.7 478.5,162.5 477.4,162.7 474.5,166.7 471.5,169.2ZM365.5,253.4 368.4,253.1 368.4,256.3 365.5,256.5ZM361.4,257.8 362.6,258.5 364,262.9 363.3,265.1 362.3,262.9 361.6,260ZM368.4,266.5 369.6,268.7 370.1,273.1 369.1,272.4 368.4,269.5ZM137.4,139.6 144.7,137.2 146.8,140.8 143.2,142 138.9,142ZM149,151.1 154.8,147.7 159.2,147.7 154.8,150 150.5,151.5ZM175.2,167.7 178.1,165.7 177.4,169.6 178.8,172.5 177.4,172.5 175.9,169.6ZM426.5,179.9 429.4,179.9 433.8,179.6 433.8,180.5 428,181.8ZM363.3,152.2 366.2,150.6 366.7,152.6 364.8,153.5ZM369.1,150 370.6,147 371.6,148.8 370.6,150.6Z" stroke-width="0.8"/></g>
<g clip-path="url(#co)" fill="none" stroke="#000" stroke-width="1.15" stroke-linejoin="round"><path d="M77.8,132.4 82.2,128.8 86.6,127.5 91.6,125.9 98.2,127.2 103.3,128.8 109.8,129.3 114.2,130.6 120,132.2 122.9,130.9 127.2,130.4 131.6,129.6 133,128 137.4,130.9 143.2,130.6 149,132.2 153.4,133.7 159.2,134.9 162.1,134.2 165,132.7 170.8,135.2 176.6,135.2 179.6,133.4 181,125.7 184,127 186,124.5 189,127 190,131 191,133 193,130 194.5,134.5 195,139.5 194,141 191,141.5 188,143 185,146.5 182.4,150 182,155 184.6,159 191,161.5 196,163.4 201.4,168.6 204,164.7 205.3,158 206,151.6 208,148.3 213,150 217.3,151 221,154 224.6,152.5 227.5,155.5 228.9,158.6 230.4,161.7 233.3,163.1 235.9,166.3 237.9,168.6 236.2,170.6 232.6,172.9 227.5,173.1 222.4,173.3 219.5,175 216.6,178.5 218,177.6 221.7,175.3 225.3,175.5 224.6,177.4 224.9,179 226.7,180.9 229.7,181.6 230.4,182.1 227.5,183.4 223.8,185.3 222.8,183.7 225.3,182.1 223.1,182.3 220.9,183.6 218.8,184.4 216.9,185.3 216.1,187.1 217.3,188.3 216.4,188.8 214.4,189.3 211.5,190.4 211.5,192.3 210,193.3 209.3,194.3 208.6,196.5 209.2,199 207.6,200.3 205.7,201.7 203.8,203 201.6,204.7 200.7,207.1 201,208.7 202,211 202.8,213.4 202.2,215.4 201,215.2 200.2,213.8 199,211.8 198.9,210.1 197.4,208 195.5,208.3 193.3,207.2 190.4,207.2 189,207.5 189.4,209.3 187.5,209.1 185.3,208.5 182.4,208.5 180.3,209.8 178.1,211.3 177.5,214.1 177.1,217.2 177.1,220.3 177.8,222.4 179.1,224.5 181,225.6 182,226 184.6,225.4 186.4,225.6 187.4,224.1 187.8,221.8 191.2,221 192.9,221.2 192,224.1 191.4,226 190.7,227.1 190.3,229.6 191.9,229.6 194.1,229.4 196.5,229.7 198.1,230.8 197.7,233 197.5,235.9 197.5,237 199.1,238.9 200.6,239.9 202.8,239.2 204.8,238.9 206.7,240.2 206.1,241.4 205.2,240.6 203.5,239.9 202.2,240.8 202.8,241.9 201.3,241.7 199.9,240.9 197.5,240.5 195.5,238.7 194.5,237.4 194.3,236.2 192.3,234.2 191.7,233.4 189.3,233 186.4,232.4 184.6,231.4 182.4,229.3 180.3,229.6 178.8,229.7 175.9,228.9 173,227.5 170.8,226.5 167.9,225.1 165.9,223 166,220.9 165,219.1 162.8,216.5 160.6,214.4 160.1,213 158.3,211.2 157.4,209.6 156,208.5 155.1,207.4 154.5,205.9 152.2,205 152.7,207.1 154.1,209 155.3,211.2 157,213.4 158.2,216 159.2,217.1 160.1,218.4 159.2,218.9 157.7,217.2 156.1,216 156,214.1 154.4,212.9 153.1,211.8 153.2,210.5 151.6,208.7 150.5,206.9 149.5,205 148.7,203.4 147.7,201.7 146.8,201.4 145.4,200.8 143.8,200.4 143.2,199 141.9,197.1 141.2,196.1 141,195.1 140.3,194.3 139.1,192.6 138.4,190.7 138.7,188.8 138.1,186.6 138.9,183.6 139,180.5 138.7,179 137.8,176.5 140,177 140.6,175.3 138.9,173.8 136.7,172.5 134.5,171.2 133,169.6 130.9,166.7 129.7,164.7 128.7,162.7 126.8,160.6 125,158.4 122.9,156 120.7,156.9 118.8,156 115.9,154.1 113.4,153.2 110.5,153.2 106.9,151.9 104,152.2 101.5,153.7 98.9,155 98.5,152.2 97,153.7 95.6,155.2 94.8,156.9 92.4,158.6 90.2,160.2 87.3,162.1 84.4,162.9 81.5,164.1 79.6,164.7 81.5,163.5 83.9,161.9 86.1,160.4 88.3,158.4 90.2,156.5 88.1,156.2 85.8,155.8 83.6,156 83.6,153.7 81,152.8 79,151.9 78.6,149.7 77.8,148.2 79.4,146.4 81.5,146.1 84.4,145.4 85.4,143.4 84.4,143.1 82.5,143.4 80,142.9 77.5,142.9 75.7,141.5 74.8,140.5 77.1,139.3 80,138.1 81.2,139.1 83.9,139.3 83.6,137.4 81.3,136.7 79.9,135.2 78.3,133.9 76.7,133.9ZM206.7,240.2 208,239.3 209.2,237.7 209.7,236.7 211.2,236.2 212.9,235.9 214,235.4 214.8,234.6 215.6,234.9 214.5,235.8 215.1,236.8 215,237.7 215.7,238.4 216,236.7 217,235.9 217.4,234.9 218,235.9 219.6,236.4 219.9,237.3 222.4,237.3 224.4,238 225.7,237.3 227.5,237.1 229.1,237.1 228.1,237.9 229.5,238.3 230.7,239 231,240.2 232.1,240.6 233.1,241.2 234.2,242.1 234.6,242.8 235.9,244 237.8,244.3 240.4,244.4 242,244.7 243.6,246 244.5,246.6 245.6,249.8 246.5,250.2 245.9,252 247.8,252.8 248.7,254.4 250,253.7 251.4,254.2 253.2,255 254.5,256.2 255.9,256.3 258.6,256.9 261.2,256.9 263.2,258.2 265,259.7 267.3,260.2 268,261.7 268.4,263.6 268,265.8 266.4,267.8 264.8,269.9 263.1,271.7 262.3,273.9 262.3,276.4 261.9,278.8 261.2,281.6 259.7,284.4 258.1,286.3 256.4,286.6 254.2,287.1 251.3,288.3 249.3,290.2 248.4,292 248.4,294.5 246.9,296.4 245.6,298.8 244.3,300.6 243,301.7 241.4,303.5 240.3,305 238.1,305.3 236.2,304.8 234.2,304.3 235.3,306.4 236.5,307.9 235.2,310.9 233,311.8 230.1,312.3 228.5,311.9 228.5,314.3 226.3,315.9 224.6,315.7 225.4,317.6 226.5,318.5 224.7,318.7 224.6,320.2 224,322.7 222.1,322.7 221.1,324.7 222.7,326.9 223.3,328.2 220.9,330.6 219.5,332.9 218.6,335.2 219.6,336.4 218,336.8 219.3,337.7 220.9,339.7 223.8,340.9 221.7,341.7 219.3,342.3 216.6,341.7 214.4,340.1 211.9,337.7 210.6,335.4 209.5,332.9 209.2,329.5 210.5,327.3 209.2,325.6 210.9,323.6 212.5,321.5 213.1,318.8 211.9,319.9 211.5,317.4 211.9,314.3 212.1,312.1 212.2,309.6 213.5,306.6 214.7,303.7 215.3,301.4 214.8,298.3 215.3,295.3 216.1,292.8 216.6,289.7 216.6,287.1 217,284.1 217,280.6 216,279.1 214.1,277.9 211.3,276.1 209.3,274.6 208.2,272.5 207.3,270.6 206.1,268.4 204.7,265.6 203.4,263.2 201,261.4 201.2,259.5 202.3,257.6 202.6,256.5 201.5,255.9 201.9,254.2 202.6,252.7 202.8,251.5 204.2,251 204.5,249.8 206,248.8 206.8,247.2 206.4,246.2 206.7,244.3 206.4,243.1 205.8,242.2ZM310.9,198.1 309.8,197.1 308.2,196.1 306.1,196.5 306.2,194.5 305.2,193.6 305.9,191.8 306.2,189.7 306.1,187.4 305.5,186.2 307.4,185 310.3,185.2 313.9,185.3 316.4,185.5 317.1,183.6 317.3,180.9 315.8,178.9 313.9,177.8 312.5,177.4 312.2,176.3 314.4,175.7 316.7,175.9 316.2,174 317.4,174.6 319.3,174.2 321.2,172.9 322.6,171.4 324.2,170.8 325.2,169.4 325.8,167.9 327.6,166.9 329.5,166.9 331.3,166.5 331.5,164.5 330.8,162.7 330.8,160.4 331.5,159.4 333.5,158.4 334.3,159.2 333.8,161.5 334.8,160.8 334.3,162.7 333.4,163.7 334.7,164.9 336.1,165.3 337.9,164.9 339.6,165.9 343,164.7 345.9,164.1 347.5,164.9 349.8,163.3 349.7,160.6 350.4,158.8 351.8,158.1 354.3,159.2 353.3,156.9 353.1,155 356.8,154.1 359.7,154.3 362.9,153.5 361.1,152.8 357.5,152.4 352.4,153.5 350.2,151.7 350.1,149.3 349.9,146.6 351.7,144.7 354.6,142.2 355.9,141 354.2,140.1 351.4,140.3 349.9,143.1 348.5,145 346.3,146.6 344.6,147.9 344,150.6 344.1,151.9 346.3,153.2 345.6,154.8 343.4,156.5 343.1,159.2 342.1,161.5 339.8,162.5 337.7,162.9 337.2,161 336.3,158.1 335.3,155.6 334.4,153.7 333.8,155.2 332.7,155.8 331.1,157.3 329.2,157.5 327.1,156 326.7,153.2 326.3,150 326.7,148.4 328.9,147 331.3,145.4 333.5,143.4 335.4,142.2 337.5,139.6 338.9,136.2 341.5,133.9 343.4,132.2 345.4,130.4 348.1,129.3 351.7,128.3 356,126.7 359.7,127 364,128.8 366.9,131.1 372,131.9 377.8,135.2 378.7,137.6 375.7,139.3 372,138.9 369.6,138.1 367.8,138.9 369.4,141 369.3,143.1 371.7,144.1 373.3,144.7 374.2,143.1 376.5,142.9 377.8,142.9 377.1,140.8 380,138.6 382.6,139.1 383.2,137.4 382.6,133.9 385.8,134.2 386.7,135.2 389.5,135.7 392.4,134.2 396,133.2 398.2,133.9 401.2,133.4 404.4,132.4 406.5,132.9 407.9,130.4 411.3,130.9 414.9,131.9 416.6,133.2 418.5,134.2 419.4,132.4 418.1,130.9 416.3,128.8 416.5,127 418.7,123.2 419.8,121.8 423,121.8 424.8,123.8 424.2,127 424.5,129.9 424.5,132.4 425.9,134.2 425.2,136.2 423.9,138.1 426.5,136.4 427.8,133.9 427.2,131.1 426.2,129.3 427.2,127 425.6,125.4 427.7,123.5 429,123.2 428.4,126.5 430.6,126.5 433,124.8 431.9,122.9 434.5,123.2 436.7,124.8 438.6,125.4 439,127.5 440,128.3 439.6,125.9 438.1,123.2 436.2,119.9 440.3,119.3 445.1,119.1 443.9,117.3 445.7,115.6 449,114.4 453.8,113.3 457,112.7 461.4,111.8 464.3,111.2 466.5,109 470.5,107.8 473.7,109 475.2,110.9 480.3,111.2 483.6,113.3 484,117.3 482.3,119.6 483.9,120.7 487.5,119.9 491.6,120.2 494.1,121.8 497.7,119.9 500.6,120.2 503.5,120.2 506.1,122.1 507,124.8 509.8,127.5 511.5,124.8 513.7,125.9 516.6,125.4 519.9,125.4 522.2,123.8 523.8,122.4 528.6,123.5 533.3,123.5 536.9,125.4 539.1,127.2 540.7,127.2 544.2,127 548,127.2 550.7,128 552.6,130.6 555.8,130.4 559.4,130.9 562.8,130.4 565.4,131.4 567.1,129.6 570.3,129.9 574.7,130.1 578.8,131.4 580.5,132.4 583.4,133.4 587,136.4 590.7,137.2 592.9,138.1 595.5,139.3 594.7,140.5 592.4,140.8 591,142.9 589.2,143.6 587,143.1 584.6,141.2 582,141.5 579.1,142.9 578,143.8 577.2,147.3 574.7,147.7 571.8,149.3 568.9,151.1 566.6,153.2 563.8,152.2 560.5,152.6 558,153.7 556.4,155 555.8,157.9 554.5,157.9 554.1,160.2 555.7,161.5 554.5,163.5 553.9,164.7 552,165.1 551.4,167.3 549.6,167.9 548.8,169.8 546.8,171.5 546.2,168.8 545.5,165.7 544.9,162.9 545.6,159.6 546.8,158.8 548.4,157.9 550.7,156.5 552.9,153.2 554.2,152.4 556.5,150 557.3,147.9 555.7,148.4 551.9,149.3 550,149.7 546.7,150.2 543,153.7 540.6,155.4 537.5,154.1 534.7,154.8 530.4,154.5 527.5,154.8 525.3,155.6 523.4,157.3 521.5,159 519.2,160.6 517.5,163.1 515.3,164.3 517.7,164.5 518.6,165.9 521.7,165.3 524.3,167.5 524.4,169.2 523.3,171.9 523.1,174.2 522.4,176.6 519.9,179.8 517.7,182.3 515.6,184.6 513,186.6 511.2,185.7 509.5,186.6 508.7,187.4 507.7,189.2 507.4,190 505.8,191.8 504.2,191.9 505.4,193.8 506.7,195.8 507.1,196.8 507,199.1 506.3,199.8 504.1,200.6 502.8,200.8 502.5,199.5 503.2,198 502.3,196.8 503.2,195.6 502.2,195.3 501.2,195.3 500.3,194.6 501,192.3 499.6,191.6 497.6,192.1 495.7,193.1 495.8,192.3 496.7,190.6 495.5,189.9 494.2,190.9 492.8,191.6 491.7,192.9 490.4,192.8 489.7,193.8 490.4,194.8 491.7,195.8 492.9,196.3 494.5,195.1 495.7,195.6 497,196.5 494.9,197.1 494.2,198 492.8,199 492.2,200.4 493.6,200.9 494.5,203.7 496.1,205.1 495.2,206.6 496.1,206.4 495.5,207.7 496.4,208.2 495.8,210.5 495.1,210.7 493.9,212.4 492.8,214.1 491.9,215.2 491.2,216.3 490.1,216.5 488.8,218.1 487.5,218.9 485.8,219.2 484.9,219.8 483.9,219.4 483.5,220.3 481.7,220.7 480,221.2 479.4,222.7 478.7,222.4 478.1,221 476.6,220.7 475,221.3 473.9,222.4 472.9,223.8 472.6,225 473.9,226.9 475.3,228.4 476.3,229.4 477.2,230.5 477.8,233.2 477.6,235.7 476.5,236.7 474.7,237.6 473.6,238.9 471.8,240.2 471.3,239.3 471.7,238.1 470.5,237.4 469.4,237.3 468.1,234.9 466.8,234.2 465.4,234.3 465.6,233.2 464.3,233.2 463.1,234.9 463.6,237 463.1,239.3 464.1,239.3 465,241.9 465.7,242.7 466.6,242.8 467.3,243.7 468.6,244.7 469.2,245.6 469.2,246.9 469.4,248.6 469.9,249.1 470.4,250.4 469.4,250.8 468.1,249.8 466.3,248.6 465.3,247 464.9,245.2 464.7,243.4 463.8,242.7 463.4,241.9 462.1,240.8 461.8,239.2 462.1,237.1 462.5,236.1 462,235.2 462.1,233.6 461.1,231.4 460.8,229.1 460.2,228 459.2,228.7 457.6,229.7 456.1,229.4 455.9,228.3 456.3,226.6 456,225.1 454.8,224.2 454.3,223.3 453.2,222.3 452.8,221.5 452.7,220.4 451.8,219.2 450.5,219.1 450.2,220.6 449.3,220.4 448.3,220.7 447.4,220.6 446.6,220.6 445.4,221 444.7,223 442.6,224.1 441.2,225.9 438.4,228.4 437.1,228.7 435.7,229.4 435.2,230.6 435.5,232.6 435.7,233.7 435.1,235.2 434.9,237.7 434.2,237.7 433.6,238.7 432.8,239.8 431.6,240.9 430.3,239.8 429.6,237.7 429,236.2 428.5,235.5 427.8,234.2 427.2,232.3 426.4,230 425.6,229.3 425.1,226.5 424.8,224.5 424.9,222.9 424.5,221.2 424,221.6 423.6,221.5 422.4,222.1 421.4,221.9 419.5,220.1 420.1,219.5 421,219.4 421.4,218.6 420.3,219.1 419,218.6 418.1,217.7 416.9,217.4 416.5,216.1 415.5,215.1 412.7,215.4 410.4,215.4 408.3,215.5 405.6,215.1 404,214.8 402.4,214.6 401.7,212.6 401.1,212.4 399.9,212.7 398.5,213.4 396.7,212.9 395.3,211.6 393.8,211.2 392.9,209.8 392.2,208 391.1,207.9 390,207.4 388.7,207.9 388.6,208.8 389.3,210.1 389.9,211.5 390.6,211.8 390.9,212.7 391.8,213 391.9,214.3 392.5,215.7 393.1,214.1 394,214.4 394,215.4 393.5,216.8 395.4,216.9 397.3,216.9 398.5,216 399.6,215.1 400.5,214 400.9,214.3 400.8,215.7 401.1,216.5 402.4,217.4 404,217.8 404.9,218.9 405.9,219.5 405.2,221.2 404,222.7 402.8,223.9 402.8,225 401.2,225.4 400.8,226.5 399.3,227.4 398.9,228 396.1,228.4 394.8,229.4 394.8,229.9 391.1,231.2 389.8,232.3 388.7,232.3 387.9,232.9 385.2,233.3 384.4,234.2 382.9,234.3 382.2,234.3 381.8,233.4 381.9,232.6 381.3,231.1 381.2,229.7 381,228.3 380.3,227.2 379.7,226.6 378.9,225.3 378.4,224.1 377.4,223 376.8,222.9 375.8,221.3 376,220.3 375.5,219.1 374.9,217.7 373.5,215.8 373,215.5 372.6,214.8 372.2,214.1 371.6,213.2 370.7,212 370,210.9 369.3,210.9 369.7,208.8 369.3,209.4 369,210.5 368.5,211.3 367.8,210.4 366.8,208.7 366.4,208 366.1,208.2 366.5,209.9 367.4,211 368.3,212.3 369.1,214.1 369.8,215.8 370.7,217.5 370.9,218.9 372.2,220 372.6,221.3 373,223.5 373.5,225.4 374.8,226.3 375.5,227.8 376.1,229.4 376.8,230 378,230.8 378.9,231.5 379.6,232.4 380.5,233.3 381.6,234.2 381.9,235.2 381.2,235.9 382.3,236.8 383.8,237.6 385.2,237.1 386.7,237 388,236.5 389.3,236.1 390.6,236.1 392.1,235.7 393.2,235.5 393.2,237.3 392.5,239.3 391.8,240.9 390.9,242.8 389.6,245 388.3,246.6 386.7,248.5 385.2,249.8 383.1,251.1 381.3,252.6 380,254 378.7,255.7 377.3,256.8 376.5,258.9 376,259.5 375.2,261.4 376.2,262.6 376,263.9 376.1,264.8 376.4,265.9 377,267.4 377.5,267.7 377.8,268.7 377.7,270.9 378,273.4 378.3,274.2 377.8,275.2 377.3,276.3 376.4,277.1 373.3,278.5 371.7,280.1 370.4,281.5 369.6,282.1 370.1,284.1 370.4,285.3 370.7,287.7 370.4,288.3 369,289.4 366.9,290.3 366.4,291.4 366.7,293 366.2,294.9 365.8,295.6 364.8,296.4 364,297.5 362.6,299.6 361.4,301.1 360,302 359,302.7 357.4,303.3 356.2,304 354.9,304 353.3,303.7 351.8,303.8 350.2,304.5 348.2,305.3 347.5,305.3 346.9,304.8 345.7,304 345.4,302.8 345.6,301.7 345,300.6 344.6,298.3 343.8,297.4 342.7,295.3 341.7,293.4 341.1,292.2 340.4,290.3 339.9,288 339.9,286.2 338.8,284.1 337.6,281.6 336.4,279.7 336,277.9 336.1,275.8 336.7,273.7 337.5,271.8 338.8,270.6 339,269 338.2,267.4 337.7,265.8 338.2,265.2 337.5,263.5 336.9,261.6 336.7,261.1 336.3,260 335.1,258.4 333.7,256.9 332.7,255.7 331.8,254.3 332.5,253.4 332.8,251.2 333.2,249.4 332.7,247.3 331.9,247 331.3,245.7 329.9,246.3 328.7,246.6 327.6,246.5 326.8,245.6 326.3,244.6 325.2,243.6 322.9,243.6 321.8,243.8 320.6,244.1 318.3,245 317.4,245.4 316.1,245.9 314.8,245.4 313.2,245.2 311.7,245.2 310.3,245.4 308.1,246.5 307.8,246.3 306.8,245.9 305.9,245.3 304.5,244.3 303.3,243.6 302.4,242.8 301,242.1 300.3,241.4 299.8,240.2 299.8,238.9 298.5,238 297.8,237.1 297.1,236.4 295.8,235.9 294.9,234.9 294.7,232.9 294.2,231.7 293.6,231.2 294.7,229.9 295,229.1 295.6,226.2 295.3,224.7 295.2,223.9 295.3,223.2 294.4,221.5 294.9,220 295.3,219.2 295.8,217.7 296.6,216.6 297.1,216.5 297.5,215.5 298.1,213.7 299,213.2 300,211.5 300.7,211 302,210.9 303.2,209.8 303.9,209.3 305.1,208 304.8,205.9 305.3,204.7 305.9,203.9 306.4,202.7 307.8,201.9 309,201.3 310,199.6 310.4,198.5 311.4,198.5 312.3,199.3 313.8,199.1 315.2,199.5 315.8,199.5 317.3,198.6 318.9,198.3 319.7,197.6 321.2,197.1 323.6,196.8 326,196.6 326.7,197 328.2,196.3 329.6,196.3 330.2,196.6 331.2,196.6 332.8,196 333.8,196.1 333.8,197 335.1,196.3 335.1,196.6 334.4,197.5 334.4,198.3 335,199.3 334.7,200.1 333.7,200.9 334,201.7 334.8,201.7 335.6,202.6 337.5,203.4 339.2,203.5 341.1,204.2 341.8,205.6 344.4,206.4 346.7,207.4 347.5,207.1 348.2,206.3 348.1,204.8 349.4,203.5 350.2,203.4 352.3,203.7 352.7,204.3 353.3,204.3 355.2,204.8 355.6,205.3 357.5,205.3 359,205.8 360.4,206.3 362.1,205.9 362.7,205.5 364,205.3 365.1,205.6 365.9,205.8 368.1,206.3 368.8,205.9 369.3,205.5 369.8,203.4 370,202.9 370.6,201.6 371.3,200.4 371.2,199.1 371.4,198.5 371,197.6 371.6,197 370.7,197.1 369.4,196.8 368.4,197.8 366.2,198 365.1,197.1 363.5,197 363.2,197.6 362.1,198 360.7,197 359.1,197 358.4,195.3 357.2,194.5 357.9,193.1 357.1,192.3 357.1,191.4 357.6,190.4 356.9,190.4 355.9,189.9 355.2,189.9 353.4,190.2 354.4,191.2 353.7,191.4 352.9,191.6 352.1,190.6 351.8,190.9 352.1,191.9 353,192.8 352.3,193.3 353.1,194 353.9,194.5 353.9,195.3 352.6,195 353,195.8 352.1,196 352.7,197.5 351.7,197.5 350.5,196.8 349.9,195.5 349.7,194.3 349.1,193.5 348.3,192.6 348.3,192.1 347.2,190.9 347,190.2 347.2,189 347.3,188.5 347.2,187.8 346.5,187.4 345.9,186.9 344.4,186.4 343.7,185.9 342.2,185.3 341.1,184.1 341.4,183.9 340.6,183.2 340.6,182.5 339.8,182.3 339.2,183 338.9,182.5 338.9,181.6 338,181.4 336.9,181.9 337,182.8 336.9,183.4 337.3,184.3 338.6,185.2 339.3,186.6 340.9,188.1 342.1,188.1 342.4,188.5 342.1,188.8 343.4,189.3 344.4,189.9 345.7,190.7 345.9,191.1 345.6,191.8 344.7,190.9 343.6,190.7 343,191.8 344,192.4 344,193.1 343.1,193.5 342.4,194.8 341.8,194.8 342.1,193.5 342.4,193.1 341.8,191.4 340.8,191.1 340.4,190.4 339.5,190 338.8,189.3 337.7,189.2 336.6,188.5 335.3,187.3 334.3,186.4 333.8,184.6 333.1,184.4 331.9,183.7 331.2,184.1 330.5,184.8 329.8,185 328.4,186 325.7,185.5 323.5,186 323.4,187.1 323.6,188.1 322.1,189.3 320.2,189.7 320,190.2 319.1,191.2 318.6,192.6 319.1,193.6 318.3,194.3 318,195.5 317,195.8 315.9,197 312.6,197 311.7,197.6ZM-212.1,198.1 -213.2,197.1 -214.8,196.1 -216.9,196.5 -216.8,194.5 -217.8,193.6 -217.1,191.8 -216.8,189.7 -216.9,187.4 -217.5,186.2 -215.6,185 -212.7,185.2 -209.1,185.3 -206.6,185.5 -205.9,183.6 -205.8,180.9 -207.2,178.9 -209.1,177.8 -210.5,177.4 -210.8,176.3 -208.7,175.7 -206.3,175.9 -206.8,174 -205.6,174.6 -203.7,174.2 -201.8,172.9 -200.4,171.4 -198.8,170.8 -197.8,169.4 -197.2,167.9 -195.4,166.9 -193.6,166.9 -191.7,166.5 -191.5,164.5 -192.2,162.7 -192.2,160.4 -191.5,159.4 -189.5,158.4 -188.8,159.2 -189.2,161.5 -188.2,160.8 -188.8,162.7 -189.6,163.7 -188.3,164.9 -186.9,165.3 -185.1,164.9 -183.4,165.9 -180,164.7 -177.1,164.1 -175.5,164.9 -173.2,163.3 -173.4,160.6 -172.6,158.8 -171.2,158.1 -168.7,159.2 -169.7,156.9 -169.9,155 -166.2,154.1 -163.3,154.3 -160.1,153.5 -161.9,152.8 -165.5,152.4 -170.6,153.5 -172.8,151.7 -172.9,149.3 -173.1,146.6 -171.3,144.7 -168.4,142.2 -167.1,141 -168.9,140.1 -171.6,140.3 -173.1,143.1 -174.5,145 -176.7,146.6 -178.4,147.9 -179,150.6 -178.9,151.9 -176.7,153.2 -177.4,154.8 -179.6,156.5 -179.9,159.2 -180.9,161.5 -183.2,162.5 -185.3,162.9 -185.9,161 -186.7,158.1 -187.7,155.6 -188.6,153.7 -189.2,155.2 -190.4,155.8 -192,157.3 -193.8,157.5 -195.9,156 -196.3,153.2 -196.7,150 -196.3,148.4 -194.1,147 -191.7,145.4 -189.5,143.4 -187.6,142.2 -185.6,139.6 -184.1,136.2 -181.5,133.9 -179.6,132.2 -177.6,130.4 -175,129.3 -171.3,128.3 -167,126.7 -163.3,127 -159,128.8 -156.1,131.1 -151,131.9 -145.2,135.2 -144.3,137.6 -147.4,139.3 -151,138.9 -153.5,138.1 -155.2,138.9 -153.6,141 -153.7,143.1 -151.3,144.1 -149.7,144.7 -148.8,143.1 -146.5,142.9 -145.2,142.9 -145.9,140.8 -143,138.6 -140.4,139.1 -139.8,137.4 -140.4,133.9 -137.2,134.2 -136.3,135.2 -133.6,135.7 -130.6,134.2 -127,133.2 -124.8,133.9 -121.8,133.4 -118.6,132.4 -116.6,132.9 -115.1,130.4 -111.8,130.9 -108.1,131.9 -106.4,133.2 -104.5,134.2 -103.6,132.4 -104.9,130.9 -106.7,128.8 -106.5,127 -104.3,123.2 -103.2,121.8 -100,121.8 -98.2,123.8 -98.8,127 -98.5,129.9 -98.5,132.4 -97.1,134.2 -97.8,136.2 -99.1,138.1 -96.5,136.4 -95.2,133.9 -95.8,131.1 -96.8,129.3 -95.8,127 -97.4,125.4 -95.3,123.5 -94,123.2 -94.6,126.5 -92.4,126.5 -90,124.8 -91.1,122.9 -88.5,123.2 -86.3,124.8 -84.4,125.4 -84,127.5 -83,128.3 -83.4,125.9 -84.9,123.2 -86.8,119.9 -82.7,119.3 -77.9,119.1 -79.1,117.3 -77.3,115.6 -74,114.4 -69.2,113.3 -66,112.7 -61.6,111.8 -58.7,111.2 -56.6,109 -52.5,107.8 -49.3,109 -47.8,110.9 -42.8,111.2 -39.4,113.3 -39,117.3 -40.7,119.6 -39.1,120.7 -35.5,119.9 -31.4,120.2 -28.9,121.8 -25.3,119.9 -22.4,120.2 -19.5,120.2 -16.9,122.1 -16,124.8 -13.3,127.5 -11.5,124.8 -9.3,125.9 -6.4,125.4 -3.1,125.4 -0.8,123.8 0.8,122.4 5.6,123.5 10.3,123.5 13.9,125.4 16.1,127.2 17.7,127.2 21.2,127 25,127.2 27.7,128 29.6,130.6 32.8,130.4 36.4,130.9 39.8,130.4 42.4,131.4 44.1,129.6 47.3,129.9 51.7,130.1 55.8,131.4 57.5,132.4 60.4,133.4 64,136.4 67.7,137.2 69.8,138.1 72.5,139.3 71.7,140.5 69.4,140.8 68,142.9 66.2,143.6 64,143.1 61.6,141.2 58.9,141.5 56,142.9 55,143.8 54.2,147.3 51.7,147.7 48.8,149.3 45.9,151.1 43.5,153.2 40.8,152.2 37.4,152.6 35,153.7 33.4,155 32.8,157.9 31.5,157.9 31.1,160.2 32.7,161.5 31.5,163.5 30.9,164.7 29,165.1 28.4,167.3 26.5,167.9 25.8,169.8 23.8,171.5 23.2,168.8 22.5,165.7 21.9,162.9 22.6,159.6 23.8,158.8 25.4,157.9 27.7,156.5 29.9,153.2 31.2,152.4 33.5,150 34.2,147.9 32.7,148.4 28.9,149.3 27,149.7 23.6,150.2 20,153.7 17.5,155.4 14.5,154.1 11.7,154.8 7.4,154.5 4.5,154.8 2.3,155.6 0.4,157.3 -1.5,159 -3.8,160.6 -5.6,163.1 -7.7,164.3 -5.3,164.5 -4.4,165.9 -1.3,165.3 1.3,167.5 1.4,169.2 0.3,171.9 0.1,174.2 -0.6,176.6 -3.1,179.8 -5.3,182.3 -7.4,184.6 -10.1,186.6 -11.8,185.7 -13.5,186.6 -14.3,187.4 -15.3,189.2 -15.6,190 -17.2,191.8 -18.8,191.9 -17.6,193.8 -16.3,195.8 -15.9,196.8 -16,199.1 -16.7,199.8 -18.9,200.6 -20.2,200.8 -20.5,199.5 -19.8,198 -20.7,196.8 -19.8,195.6 -20.8,195.3 -21.8,195.3 -22.7,194.6 -22,192.3 -23.4,191.6 -25.5,192.1 -27.4,193.1 -27.2,192.3 -26.3,190.6 -27.5,189.9 -28.8,190.9 -30.3,191.6 -31.3,192.9 -32.6,192.8 -33.3,193.8 -32.6,194.8 -31.3,195.8 -30.1,196.3 -28.5,195.1 -27.4,195.6 -26,196.5 -28.1,197.1 -28.8,198 -30.3,199 -30.8,200.4 -29.4,200.9 -28.5,203.7 -26.9,205.1 -27.8,206.6 -26.9,206.4 -27.5,207.7 -26.6,208.2 -27.2,210.5 -27.9,210.7 -29.1,212.4 -30.3,214.1 -31.1,215.2 -31.9,216.3 -32.9,216.5 -34.2,218.1 -35.5,218.9 -37.2,219.2 -38.1,219.8 -39.1,219.4 -39.6,220.3 -41.3,220.7 -43,221.2 -43.6,222.7 -44.3,222.4 -44.9,221 -46.4,220.7 -48,221.3 -49.1,222.4 -50.2,223.8 -50.5,225 -49.1,226.9 -47.7,228.4 -46.7,229.4 -45.8,230.5 -45.2,233.2 -45.4,235.7 -46.5,236.7 -48.3,237.6 -49.4,238.9 -51.2,240.2 -51.8,239.3 -51.3,238.1 -52.5,237.4 -53.6,237.3 -55,234.9 -56.3,234.2 -57.6,234.3 -57.4,233.2 -58.7,233.2 -59.9,234.9 -59.5,237 -59.9,239.3 -58.9,239.3 -58,241.9 -57.3,242.7 -56.4,242.8 -55.7,243.7 -54.4,244.7 -53.8,245.6 -53.8,246.9 -53.6,248.6 -53.1,249.1 -52.6,250.4 -53.6,250.8 -55,249.8 -56.7,248.6 -57.7,247 -58.2,245.2 -58.3,243.4 -59.2,242.7 -59.6,241.9 -60.9,240.8 -61.2,239.2 -60.9,237.1 -60.5,236.1 -61.1,235.2 -60.9,233.6 -61.9,231.4 -62.2,229.1 -62.8,228 -63.8,228.7 -65.4,229.7 -66.9,229.4 -67.2,228.3 -66.7,226.6 -67,225.1 -68.2,224.2 -68.8,223.3 -69.8,222.3 -70.2,221.5 -70.4,220.4 -71.2,219.2 -72.5,219.1 -72.8,220.6 -73.7,220.4 -74.7,220.7 -75.6,220.6 -76.5,220.6 -77.6,221 -78.3,223 -80.4,224.1 -81.8,225.9 -84.6,228.4 -85.9,228.7 -87.4,229.4 -87.8,230.6 -87.5,232.6 -87.4,233.7 -87.9,235.2 -88.1,237.7 -88.8,237.7 -89.4,238.7 -90.3,239.8 -91.4,240.9 -92.7,239.8 -93.5,237.7 -94,236.2 -94.5,235.5 -95.2,234.2 -95.8,232.3 -96.6,230 -97.4,229.3 -98,226.5 -98.2,224.5 -98.1,222.9 -98.5,221.2 -99,221.6 -99.4,221.5 -100.6,222.1 -101.6,221.9 -103.5,220.1 -102.9,219.5 -102,219.4 -101.6,218.6 -102.8,219.1 -104.1,218.6 -104.9,217.7 -106.1,217.4 -106.5,216.1 -107.5,215.1 -110.3,215.4 -112.6,215.4 -114.7,215.5 -117.4,215.1 -119,214.8 -120.6,214.6 -121.3,212.6 -121.9,212.4 -123.1,212.7 -124.5,213.4 -126.3,212.9 -127.7,211.6 -129.2,211.2 -130.1,209.8 -130.8,208 -132,207.9 -133,207.4 -134.3,207.9 -134.4,208.8 -133.7,210.1 -133.1,211.5 -132.4,211.8 -132.1,212.7 -131.2,213 -131.1,214.3 -130.5,215.7 -129.9,214.1 -129,214.4 -129,215.4 -129.5,216.8 -127.6,216.9 -125.7,216.9 -124.5,216 -123.4,215.1 -122.5,214 -122.1,214.3 -122.2,215.7 -121.9,216.5 -120.6,217.4 -119,217.8 -118.2,218.9 -117.1,219.5 -117.9,221.2 -119,222.7 -120.2,223.9 -120.2,225 -121.8,225.4 -122.2,226.5 -123.7,227.4 -124.1,228 -126.9,228.4 -128.2,229.4 -128.2,229.9 -132,231.2 -133.3,232.3 -134.3,232.3 -135.1,232.9 -137.8,233.3 -138.6,234.2 -140.1,234.3 -140.8,234.3 -141.3,233.4 -141.1,232.6 -141.7,231.1 -141.8,229.7 -142,228.3 -142.7,227.2 -143.3,226.6 -144.2,225.3 -144.6,224.1 -145.6,223 -146.2,222.9 -147.2,221.3 -147.1,220.3 -147.5,219.1 -148.1,217.7 -149.5,215.8 -150,215.5 -150.4,214.8 -150.8,214.1 -151.4,213.2 -152.3,212 -153,210.9 -153.7,210.9 -153.3,208.8 -153.7,209.4 -154,210.5 -154.5,211.3 -155.2,210.4 -156.2,208.7 -156.7,208 -156.9,208.2 -156.5,209.9 -155.6,211 -154.8,212.3 -153.9,214.1 -153.2,215.8 -152.3,217.5 -152.1,218.9 -150.8,220 -150.4,221.3 -150,223.5 -149.5,225.4 -148.2,226.3 -147.5,227.8 -146.9,229.4 -146.2,230 -145,230.8 -144.2,231.5 -143.4,232.4 -142.6,233.3 -141.4,234.2 -141.1,235.2 -141.8,235.9 -140.7,236.8 -139.2,237.6 -137.8,237.1 -136.3,237 -135,236.5 -133.7,236.1 -132.4,236.1 -130.9,235.7 -129.8,235.5 -129.8,237.3 -130.5,239.3 -131.2,240.9 -132.1,242.8 -133.4,245 -134.7,246.6 -136.3,248.5 -137.8,249.8 -139.9,251.1 -141.7,252.6 -143,254 -144.3,255.7 -145.8,256.8 -146.5,258.9 -147.1,259.5 -147.8,261.4 -146.8,262.6 -147.1,263.9 -146.9,264.8 -146.6,265.9 -146,267.4 -145.5,267.7 -145.2,268.7 -145.3,270.9 -145,273.4 -144.7,274.2 -145.2,275.2 -145.8,276.3 -146.6,277.1 -149.7,278.5 -151.3,280.1 -152.6,281.5 -153.5,282.1 -152.9,284.1 -152.6,285.3 -152.3,287.7 -152.6,288.3 -154,289.4 -156.1,290.3 -156.7,291.4 -156.4,293 -156.8,294.9 -157.2,295.6 -158.2,296.4 -159,297.5 -160.4,299.6 -161.6,301.1 -163,302 -164.1,302.7 -165.7,303.3 -166.8,304 -168.1,304 -169.7,303.7 -171.2,303.8 -172.8,304.5 -174.8,305.3 -175.5,305.3 -176.1,304.8 -177.3,304 -177.6,302.8 -177.4,301.7 -178,300.6 -178.4,298.3 -179.2,297.4 -180.3,295.3 -181.3,293.4 -181.9,292.2 -182.7,290.3 -183.1,288 -183.1,286.2 -184.3,284.1 -185.4,281.6 -186.6,279.7 -187,277.9 -186.9,275.8 -186.3,273.7 -185.6,271.8 -184.3,270.6 -184,269 -184.8,267.4 -185.3,265.8 -184.8,265.2 -185.6,263.5 -186.1,261.6 -186.3,261.1 -186.7,260 -187.9,258.4 -189.3,256.9 -190.4,255.7 -191.2,254.3 -190.5,253.4 -190.2,251.2 -189.8,249.4 -190.4,247.3 -191.1,247 -191.7,245.7 -193.1,246.3 -194.3,246.6 -195.4,246.5 -196.2,245.6 -196.7,244.6 -197.8,243.6 -200.1,243.6 -201.3,243.8 -202.4,244.1 -204.7,245 -205.6,245.4 -206.9,245.9 -208.2,245.4 -209.8,245.2 -211.3,245.2 -212.7,245.4 -214.9,246.5 -215.2,246.3 -216.2,245.9 -217.1,245.3 -218.5,244.3 -219.7,243.6 -220.6,242.8 -222,242.1 -222.8,241.4 -223.2,240.2 -223.2,238.9 -224.5,238 -225.2,237.1 -225.9,236.4 -227.3,235.9 -228.1,234.9 -228.3,232.9 -228.9,231.7 -229.4,231.2 -228.3,229.9 -228,229.1 -227.4,226.2 -227.7,224.7 -227.8,223.9 -227.7,223.2 -228.6,221.5 -228.1,220 -227.7,219.2 -227.3,217.7 -226.4,216.6 -225.9,216.5 -225.5,215.5 -224.9,213.7 -224.1,213.2 -223,211.5 -222.3,211 -221,210.9 -219.8,209.8 -219.1,209.3 -218,208 -218.2,205.9 -217.7,204.7 -217.1,203.9 -216.7,202.7 -215.2,201.9 -214,201.3 -213,199.6 -212.6,198.5 -211.6,198.5 -210.7,199.3 -209.2,199.1 -207.8,199.5 -207.2,199.5 -205.8,198.6 -204.2,198.3 -203.3,197.6 -201.8,197.1 -199.4,196.8 -197,196.6 -196.3,197 -194.9,196.3 -193.4,196.3 -192.8,196.6 -191.8,196.6 -190.2,196 -189.2,196.1 -189.2,197 -187.9,196.3 -187.9,196.6 -188.6,197.5 -188.6,198.3 -188,199.3 -188.3,200.1 -189.3,200.9 -189,201.7 -188.2,201.7 -187.5,202.6 -185.6,203.4 -183.8,203.5 -181.9,204.2 -181.2,205.6 -178.6,206.4 -176.3,207.4 -175.5,207.1 -174.8,206.3 -175,204.8 -173.6,203.5 -172.8,203.4 -170.7,203.7 -170.3,204.3 -169.7,204.3 -167.8,204.8 -167.4,205.3 -165.5,205.3 -164.1,205.8 -162.6,206.3 -160.9,205.9 -160.3,205.5 -159,205.3 -158,205.6 -157.1,205.8 -154.9,206.3 -154.2,205.9 -153.7,205.5 -153.2,203.4 -153,202.9 -152.4,201.6 -151.7,200.4 -151.9,199.1 -151.6,198.5 -152,197.6 -151.4,197 -152.3,197.1 -153.6,196.8 -154.6,197.8 -156.8,198 -158,197.1 -159.6,197 -159.8,197.6 -160.9,198 -162.3,197 -163.9,197 -164.6,195.3 -165.8,194.5 -165.1,193.1 -165.9,192.3 -165.9,191.4 -165.4,190.4 -166.1,190.4 -167.1,189.9 -167.8,189.9 -169.6,190.2 -168.6,191.2 -169.3,191.4 -170.2,191.6 -170.9,190.6 -171.2,190.9 -170.9,191.9 -170,192.8 -170.7,193.3 -169.9,194 -169.1,194.5 -169.1,195.3 -170.5,195 -170,195.8 -170.9,196 -170.3,197.5 -171.3,197.5 -172.5,196.8 -173.1,195.5 -173.4,194.3 -173.9,193.5 -174.7,192.6 -174.7,192.1 -175.8,190.9 -176,190.2 -175.8,189 -175.7,188.5 -175.8,187.8 -176.6,187.4 -177.1,186.9 -178.6,186.4 -179.3,185.9 -180.8,185.3 -181.9,184.1 -181.6,183.9 -182.4,183.2 -182.4,182.5 -183.2,182.3 -183.8,183 -184.1,182.5 -184.1,181.6 -185,181.4 -186.1,181.9 -186,182.8 -186.1,183.4 -185.7,184.3 -184.4,185.2 -183.7,186.6 -182.1,188.1 -180.9,188.1 -180.6,188.5 -180.9,188.8 -179.6,189.3 -178.6,189.9 -177.3,190.7 -177.1,191.1 -177.4,191.8 -178.3,190.9 -179.5,190.7 -180,191.8 -179,192.4 -179,193.1 -179.9,193.5 -180.6,194.8 -181.2,194.8 -180.9,193.5 -180.6,193.1 -181.2,191.4 -182.2,191.1 -182.7,190.4 -183.5,190 -184.3,189.3 -185.3,189.2 -186.4,188.5 -187.7,187.3 -188.8,186.4 -189.2,184.6 -189.9,184.4 -191.1,183.7 -191.8,184.1 -192.5,184.8 -193.3,185 -194.6,186 -197.3,185.5 -199.5,186 -199.7,187.1 -199.4,188.1 -201,189.3 -202.9,189.7 -203,190.2 -203.9,191.2 -204.4,192.6 -203.9,193.6 -204.7,194.3 -205,195.5 -206,195.8 -207.1,197 -210.4,197 -211.3,197.6ZM233.5,94 245.8,91 258,88.6 275.2,88.6 290,91 302.2,94.7 297.3,99.6 291,107 288.7,116.8 287.5,126.6 280,134 272.7,138.8 263,143.7 253.3,152 250,150.7 246,146 243.5,139.6 241,130.5 239.6,122 237.5,116.5 233.5,114.3 223.7,111.9 216.4,109.4 218,106.5 223.7,103 228,99ZM286.3,144.5 288.5,144.5 292.1,145.7 295.8,144.5 297.9,143.1 299.2,141.5 297.5,139.3 295.8,138.4 292.8,139.3 289.9,139.3 287,138.6 285.6,140.1 284.1,141 287,142.2 286.5,143.6ZM310.7,173.5 313.9,172.9 317.5,172.1 320.9,171.4 321.5,168.6 319.4,166.9 318.3,164.7 316.7,162.5 315.4,161.7 316.1,158.4 313.2,158.4 314.5,156.2 311.7,156.2 310.7,158.6 310.9,161 311.9,162.3 311.7,164.1 313.9,164.3 314.6,165.7 314.6,167.1 312.3,167.3 313.2,169 311.4,170 314.2,170.8 312.9,171.2ZM310.3,169.2 310,166.7 310.3,164.5 308.1,163.1 306.9,163.7 306.5,165.1 304.5,165.7 304.8,167.1 305.2,168.5 303.9,169.8 305.1,170.6 307.4,170ZM390.6,270.2 392.1,274.6 392.4,275.8 391.2,276.4 390.8,278.8 389.5,282.8 388,288.9 386.6,290 384.7,290.5 382.9,289.4 382.3,286.6 381.9,284.8 383.4,282.4 383.5,279.8 382.9,277.6 383.5,276.4 386.3,275.8 387.7,274.3 388.7,272.4 389.9,270.9ZM483.9,285.1 484.3,288.9 483.9,291.3 485.1,295.2 486.1,297.5 487.1,300.4 486.2,303.2 486.1,304.5 488.3,305.6 490.4,305.6 492.6,304.6 495.5,303.7 498.4,303.8 499.9,302.2 502.1,301.2 506.4,300.3 509.3,299.9 511.5,300.7 513.7,302 515.1,304.8 516.1,305.3 516.6,304 518.3,303.2 519.2,301.7 518.8,304.5 518,306.4 519.8,306.4 520.2,305.3 521.7,307.3 522.1,309.3 523.3,310.6 524.7,311.3 526.2,311.3 527.5,311.9 529.2,310.9 529.7,311.6 531.5,312.5 533.3,310.6 534.7,310.3 536.9,309.8 537.2,306.9 538.2,304.8 538.8,303.2 540.6,301.2 541.4,299.1 542.2,295.6 541.7,293.1 541.3,290.5 539.5,288.9 538.1,286.6 537.6,285.9 535.9,284.4 535,282.8 533.1,281.2 531.5,280.4 531,277.9 530.2,276.1 530.1,274.6 528.5,273.6 527.6,273.1 527.2,270.8 526,268.3 525.3,269.6 524.7,271.5 524.7,274.6 524.3,276.8 523.3,278.5 521.4,278.2 519.8,276.8 517.9,275.8 515.9,274.3 516.4,272.2 517.7,270.6 517.2,270 515.6,270.5 513.7,270 511.6,269.3 510.5,269.2 509.3,270.5 508.2,271.8 507.1,274.3 505.3,274.3 503.5,272.8 501.9,273.7 500.6,274.8 499.6,276.5 498.4,278 496.5,278.8 496.5,280.4 495.1,281.3 492.3,282.2 489.7,283.1 488.3,283.1 486.4,284.4 485.3,285.1ZM529.1,315.2 531.8,315.9 534.5,315.5 534.5,317.6 533.7,319.5 532.3,320.2 531,320.1 529.9,318 529.2,316.4ZM569.9,304.6 571.5,306.1 572.7,307.9 573.7,309.1 574.5,309.8 576.1,310.4 578.3,310.1 577.6,312.3 576.1,312.8 575.9,314.3 574.5,316.2 573.5,316.7 572.7,316.1 573.2,314.7 572.2,313.3 571.5,312.6 572.7,311.3 572.7,309.3 572.2,308.1 571.1,306.6ZM569.9,314.8 571.6,315.5 572.2,316.9 570.8,319 569.9,320.6 567.9,321.7 567,324.2 565,325.6 563.5,325.6 561,324.5 561.5,322.9 563.5,321 566.6,319.4 568,317.1 569,315.5ZM509.2,200.9 510.5,200.3 511.9,199 514.4,198.8 516,199 516.7,197.8 517.7,196.1 518.5,196.8 520.2,195.8 521.7,194.1 522.4,192.3 522.4,190.6 522.8,189.3 524.3,189 524.6,190.7 525.3,192.3 524.6,194.5 523.8,196.5 523.3,198.1 523.6,198.6 522.2,199.8 520.9,200.3 518.8,200.4 517.9,200.9 516.3,202.2 515.3,200.9 513,200.8 511.2,201.4ZM507.6,202.7 508.7,205.9 509.5,205.6 510.5,203.5 510.2,202.2 509.2,201.6 508.2,202.1ZM511.5,202.6 512.5,203.4 514,202.6 514.7,201.6 513.7,200.9 512.1,201.4ZM522.4,187.1 523.1,188.7 524.1,188.3 525.3,186.9 527.2,188 529.4,186.2 530.1,185.7 528.6,184.4 526.5,183.2 524.9,181.9 524.4,184.4 524.3,185.9 523,185.7ZM525.6,180.9 527.5,179.9 526.8,177.9 527,174.8 528.8,175.3 527,170.6 526.9,166.7 526.2,165.1 525.6,166.7 524.9,169.6 525.2,172.5 525.4,177.2ZM494.8,215.5 496.1,215.8 495.5,218 494.6,220.3 493.6,219.1 493.5,217.5ZM476.8,224.5 478.1,226 479.5,225.1 480.3,223.5 479.1,223.2 477.4,223.3ZM435.1,238.6 437,240.3 438,242.5 437.5,243.7 436,244.1 435.1,242.5 434.9,240.3ZM457.5,244.6 460.6,245.2 462.4,247.3 464.9,249.5 466.3,250.1 469.1,252 469.8,254.2 471.4,256 473,257.3 472.7,261.1 470.8,261.1 467.9,258.8 465.7,256.3 464.7,254.2 463.1,252.4 462.2,250.1 460.6,248.5 458.9,247ZM472.3,262.6 473.1,261.4 476.3,261.8 479.5,262.7 482.4,262.7 485.2,264 485.2,265.3 481.7,264.8 478.8,264.5 476.3,264 473.7,263.5ZM478.2,249.9 480.6,249.2 483.2,248.1 484.6,246 486.8,245 488.5,242.7 490,244 492.3,245.3 490.1,246.3 490.4,249.4 491.9,251.4 490.1,251.5 489.6,254 488.3,255.7 487.8,258.4 485.5,258.8 483.2,257.3 481.4,257.3 479.1,256.9 479.1,255.2 477.5,253.4 477.4,251ZM492.5,260.7 493.9,260.8 493.8,257.1 494.8,256.5 495.5,259.4 497.6,259.5 496.7,257.2 495.2,255.5 497,253.9 498.3,254 495.5,253.3 493.5,252 494.5,250.8 498.3,252.3 500.3,250.7 499.6,252.1 495.2,252.1 493.2,253.1 491.6,256.9 492.6,257.8ZM509.3,254.7 511.5,253.3 513.8,254 514.3,256.6 515.9,257.6 518.6,254.9 520.9,255.7 523.8,256.5 528.9,258.2 531.1,260.4 533.3,261.6 532.9,262.7 534.3,264.5 535.9,265.9 537.5,267.7 535.8,268 533.3,267.4 531.3,264.5 528.5,263.7 527.2,265.8 523.8,265.9 521.2,264.5 519.5,264.9 520.1,262.1 518.9,260.2 515.3,258.9 513,258.4 511.9,258.6 510.8,256.8 513.1,256.2 510.5,256.3 510.8,255ZM494.1,225.4 496.8,225.4 497,227.8 496.1,229.4 496.7,232 498.4,232.3 499.6,234.5 498.1,234 497,233.4 495.5,232.9 494.1,232 494.4,231.4 493.2,230.9 492.9,228.9 493.8,228.4 493.6,226.9ZM496.1,242.4 498.4,240.9 499.6,240.2 500.9,239.2 502.5,238.7 503.1,242.1 502.2,243.7 501.2,244.7 499.3,244 498.6,242.1 497.4,242.2ZM496.1,237.4 497.8,236.8 499.1,236.4 500.6,236.1 501.5,236.4 501,238.1 499.7,238.1 498.4,239.2 497.6,238.3 496.8,235.7 498,234.5 499.7,234.5 500.5,235.5 499.4,236.4ZM195.7,220.4 199.1,219.2 202,218.6 206.4,220.6 209.2,221.8 211.2,223 209.3,223.5 206.4,223.5 206.1,222.3 204.2,220.9 200.6,220.6 198.4,220.3ZM210.9,225.6 213.2,223.5 216.6,223.6 219.6,225.4 217.4,225.9 215.3,226.9 213.2,226.2 211.2,226ZM205.2,225.7 208.2,226 207.4,226.5 205.4,226ZM221.4,225.6 223.7,225.7 223.4,226.3 221.4,226.4ZM232.7,177.9 237.6,177.9 238.4,179 241.3,179.6 242.4,178.1 241.3,176.8 241.3,174.8 238.4,173.8 238.4,170.6 236.6,171 235.5,173.8 234,176.3ZM189.6,120.2 196,120.5 202.7,121.5 208,124 213,126.8 218,130 222.3,133.3 227.5,137.2 227.5,140.5 222.3,141.8 224.9,145.7 219.7,147 214.4,145 209.2,141.8 204,139.8 200,136 198.8,132 196.1,128 192.2,124.8ZM173,99 176,96 181,95 189.4,91 196,90 204.7,89.4 212,89.6 221.3,91.5 224,92.5 220,96 215,100 211,104 207,108 203,110.5 196,110.5 188,109.5 181,107 176,104 173,101.5ZM165,103 170,101.5 178,101 184.5,102.5 183,105.5 175,106 167,105.5ZM183,112.5 190,112 198,111.8 205,112 207,114.5 204,117 196,117.5 188,117.5 183.5,116ZM137.3,117.5 138.1,117.2 145.4,117.6 148.7,119.2 152,121.2 159.3,119.6 164.2,119.6 166.7,121.2 169.1,124.5 170.8,127 165.8,129.4 157.7,129.4 149.5,127.8 143.8,125.3 139.7,126.1 137.5,124ZM163,108.5 170,107.5 177,108 182,109 180,111 172,111 165,110.5ZM138.5,111.8 141.3,109 146.2,108.2 152,106.5 156,104.9 160.1,104.9 161,107.4 163.4,111.4 165,114.7 157.7,116.3 152,115.5 145.4,113.5 141.3,113.1ZM178,119.5 185,119 186,124 183,128 178,127 176,123ZM188.6,118.7 194,118.5 197,121 196.8,127.7 192,127 189,124ZM171,113 176,112.5 180,114 177,116.5 172,116ZM192,141 197,139.5 203,141 204,145 199,147.5 193,146.5ZM172,130 176,129 178,131.5 175,133 172,132.5ZM166,103.5 172,103 174,104.5 170,106 166,105.5ZM335,104.3 337.9,108.4 343,111.5 346.6,106.9 351,105.3 358.2,102.1 355.3,99.1 346.6,98.8 342.2,100.8 336.4,101.4ZM394.5,125.7 396.7,127.8 401.8,128 399.6,124.3 401.1,121 404.7,117.3 409.1,114.4 414.9,112.1 418.5,110.3 414.9,110 409.1,111.5 404,113.6 400.4,116.8 397.5,120.2 396.7,122.9ZM457.7,102.1 461.4,104.3 465.7,103.7 470.1,104.7 473,103 470.1,98.8 464.3,96.4 458.5,97.1 454.1,100.4ZM518,115.9 522.4,117.3 526.8,118.8 529.7,115.9 527.5,113.3 522.4,113 519.5,113.6ZM534,115.3 537.6,115.9 536.9,113.9 533.3,114.1ZM388.7,100.4 394.5,101.1 403.3,99.8 409.1,97.8 403.3,94.3 394.5,95.4 387.3,97.8ZM57.5,127 59.7,127.2 61.1,126.5 58.9,125.4 57.5,125.7ZM578.6,126.7 580.5,127 580.5,125.7 579.1,125.7ZM331.2,193.1 332.9,192.9 333.2,190.6 332.8,189.3 330.9,189.9 331.3,191.4ZM331.5,189 332.7,189 332.8,186.6 331.5,187.3ZM337,195.1 340.9,197 341.7,194.3 338.5,194.5ZM353.1,199.3 357.2,199.5 356.9,199.8 353.9,199.8ZM365.9,199.8 368.4,200.4 369.3,198.6 366.9,199.1ZM57.5,420 62.8,420.5 81.1,423.8 98.1,424.4 106,423.1 95.5,418 96.8,409.4 106,406.8 98.1,404.2 90.3,399.6 88.3,396.3 98,395.7 107.3,391 120.4,388.5 128.2,387.2 143.2,386.3 169.7,384.1 187.3,384.1 195,384.2 202.8,382.9 208,379.6 209.4,376.4 214.6,373.8 219.8,368.5 226.4,363.3 230.3,360.7 238.1,358.7 227.7,364.6 225,371.1 229,376.4 230.3,384.2 229,389.4 222.5,394.7 234.2,393.4 247.3,398 264.3,398.6 270,396.5 282,385.4 299,379 320.2,375.6 350,374.7 371.2,373.9 392.4,366.2 409.4,368.4 422.2,374.7 426.4,370.5 443.4,366.2 469,365.4 490.2,364.1 505,366.7 521.7,367.5 531.7,370 545,373.3 553.3,375.8 561.7,378.3 566.7,380.8 565,385 558.3,389.2 555.8,393.3 558.3,396.7 553.3,401.7 551.7,405 555,410 561.7,415 566.7,416.7 575,417.5 580.6,417.5M-465.5,420 -460.2,420.5 -441.9,423.8 -424.9,424.4 -417,423.1 -427.5,418 -426.2,409.4 -417,406.8 -424.9,404.2 -432.7,399.6 -434.7,396.3 -425,395.7 -415.7,391 -402.6,388.5 -394.8,387.2 -379.8,386.3 -353.3,384.1 -335.7,384.1 -328,384.2 -320.2,382.9 -315,379.6 -313.6,376.4 -308.4,373.8 -303.2,368.5 -296.6,363.3 -292.7,360.7 -284.9,358.7 -295.3,364.6 -298,371.1 -294,376.4 -292.7,384.2 -294,389.4 -300.5,394.7 -288.8,393.4 -275.7,398 -258.7,398.6 -253,396.5 -241,385.4 -224,379 -202.8,375.6 -173,374.7 -151.8,373.9 -130.6,366.2 -113.6,368.4 -100.8,374.7 -96.6,370.5 -79.6,366.2 -54,365.4 -32.8,364.1 -18,366.7 -1.3,367.5 8.7,370 22,373.3 30.3,375.8 38.7,378.3 43.7,380.8 42,385 35.3,389.2 32.8,393.3 35.3,396.7 30.3,401.7 28.7,405 32,410 38.7,415 43.7,416.7 52,417.5 57.6,417.5M485.2,264.5 487.1,264.9 486.4,265.5 485.3,265.2ZM487.5,264.8 488.5,264.8 488.3,265.6 487.5,265.5ZM488.7,264.9 491.9,264.6 491.9,265.3 489,265.8ZM493,265.1 497.7,264.6 497.7,265.2 493.3,265.5ZM491.9,266.5 494.5,267 494.1,267.7 492.2,267ZM498.4,267.5 500.6,265.8 503.9,264.9 502.8,265.8 499.9,267.4ZM504.2,251.2 505,249.5 505.7,250.5 506,252 505,253.9 504.7,252.3ZM505,257.3 507.9,256.9 509.3,257.8 507.1,257.9 505.3,257.9ZM502.1,257.3 503.8,257.2 503.5,258.2 502.3,258.1ZM489.3,240.6 491.2,238.9 492.6,237 492.3,236.2 490.9,238.1 489.3,239.9ZM493.8,233 495.5,233.7 495.1,234.8 493.9,234.3ZM534.5,260.7 536.9,260.2 539.1,258.9 540.1,259.2 538.4,260.7 536.2,261.7 534.5,261.4ZM538.1,256.5 539.8,257.5 541.3,259.4 540.8,259.8 539.4,258.2 537.8,256.9ZM543.6,260.2 545.5,261.8 545.1,262.7 543.8,261.4ZM547.1,262.9 550,264.3 552.2,266.5 553.6,267.3 551.4,267 549.3,265.1 547.1,263.6ZM560.9,273.9 562.3,275.4 563.8,276.8 565.3,281.3 564.5,281.3 563.1,277.6 561.3,275.4ZM557.3,282.2 559.4,283.6 561.6,285.6 560.9,285.9 558,283.6 557,282.5ZM576.4,278.3 578.3,278.3 578.5,279.4 576.6,279.4ZM92.4,223 93.8,223.5 92.9,225 92.4,224.1ZM79.6,164.9 74.9,166.9 69.1,168.6 63.3,169.8 57.5,170.4 57.5,171 63.3,170.4 69.1,169.2 74.9,167.5 79.3,165.5ZM580.5,170.4 574.7,169.8 570.3,167.9 569.6,168.3 574.7,170.6 580.5,171ZM530.4,185.3 534,182.7 537.6,179.9 541.3,176.3 544.9,172.5 546.4,171.7 546.1,172.3 541.7,176.8 537.8,180.5 534.2,183.2 530.5,185.7ZM57.5,399 75,399.3 88.3,398.8M558.3,397 580.6,397.5"/><path d="M359,187.1 359.7,188.7 361.4,189.3 364.5,189.5 367.7,188 369.8,188 372.8,189.3 375.7,189.7 379.3,188.8 379.7,187.1 377.1,185.5 374.2,183.6 372.8,182.3 370.6,182.5 368.4,183.7 367.7,183.4 366.2,181.9 367.7,181 364.8,179.8 363.3,179.9 362.1,182.1 360.7,183.9ZM369.6,181.2 370.6,181.9 372.2,181.9 373.5,180.1 376,178.7 374.2,178.9 370.6,179.9ZM387.3,183.6 388,186.2 389.5,188.3 390.5,190.6 390.9,193.1 390.2,194.8 390,195.6 391.6,196.3 393.8,196.8 396.7,196.8 397.5,195.6 397.3,193.5 396.3,192.4 396.7,191.1 395.7,189.3 395.4,187.1 393.5,185.7 392.4,183.7 393.4,182.3 396,182.1 396.3,179.6 394.5,179.2 393.1,179 390.9,179.9 389.5,180.9 388,181.8ZM403.7,181.8 405.9,182.3 407.6,183.7 407.6,185.2 405.4,185.2 404,183.6ZM185.3,179.6 188.2,178.1 191.2,176.3 194.1,175.9 195.8,179 194.8,179.9 191.9,179.9 188.2,179.8ZM191.4,183.6 191.9,188 193.3,188 194.1,184.4 195.5,181.2 193.3,181ZM196.2,181 198,182.3 200.3,181.2 202.8,183 200.6,185.9 199.1,186 199.1,184.4 197,183Z"/></g>
<text x="45.6" y="108.00" text-anchor="end" class="ax">80°N</text>
<text x="45.6" y="199.15" text-anchor="end" class="ax">40°N</text>
<text x="39.6" y="260.90" text-anchor="end" class="ax">0°</text>
<text x="45.6" y="322.50" text-anchor="end" class="ax">40°S</text>
<text x="45.6" y="413.70" text-anchor="end" class="ax">80°S</text>
<text x="58.2" y="470.9" text-anchor="middle" class="ax">180°W</text>
<text x="145.4" y="470.9" text-anchor="middle" class="ax">120°W</text>
<text x="234.4" y="470.9" text-anchor="middle" class="ax">60°W</text>
<text x="321.7" y="470.9" text-anchor="middle" class="ax">0°</text>
<text x="409.1" y="470.9" text-anchor="middle" class="ax">60°E</text>
<text x="493.8" y="470.9" text-anchor="middle" class="ax">120°E</text>
<text x="581" y="470.9" text-anchor="middle" class="ax">180°W</text>
<rect x="58.5" y="499.8" width="522" height="40.4" fill="url(#cbg)" stroke="#333" stroke-width="1"/>
<path d="M110.7,540.2V545.5M162.9,540.2V545.5M215.1,540.2V545.5M267.3,540.2V545.5M319.5,540.2V545.5M371.7,540.2V545.5M423.9,540.2V545.5M476.1,540.2V545.5M528.3,540.2V545.5" stroke="#333" stroke-width="1" fill="none"/>
<text x="110.7" y="572.3" text-anchor="middle" class="cb">10</text><text x="162.9" y="572.3" text-anchor="middle" class="cb">20</text><text x="215.1" y="572.3" text-anchor="middle" class="cb">30</text><text x="267.3" y="572.3" text-anchor="middle" class="cb">40</text><text x="319.5" y="572.3" text-anchor="middle" class="cb">50</text><text x="371.7" y="572.3" text-anchor="middle" class="cb">60</text><text x="423.9" y="572.3" text-anchor="middle" class="cb">70</text><text x="476.1" y="572.3" text-anchor="middle" class="cb">80</text><text x="528.3" y="572.3" text-anchor="middle" class="cb">90</text>
<text x="319.4" y="600.3" text-anchor="middle" class="t2">某变量的全球分布</text>
</svg>
</body></html>
